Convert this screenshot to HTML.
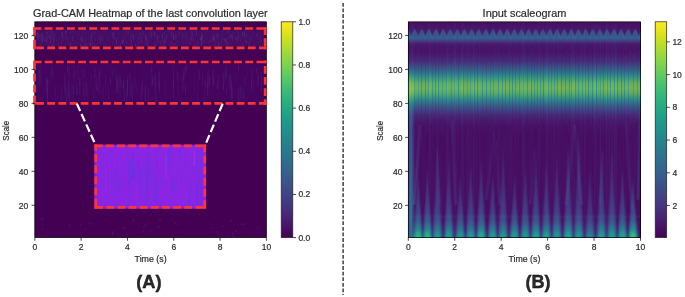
<!DOCTYPE html><html><head><meta charset="utf-8"><title>Grad-CAM</title><style>
html,body{margin:0;padding:0;background:#fff;width:685px;height:297px;overflow:hidden}
svg{position:absolute;left:0;top:0;display:block;will-change:transform}
text{font-family:"Liberation Sans",sans-serif;fill:#2a2a2a;stroke:#2a2a2a;stroke-width:0.2px}
</style></head><body>
<svg width="685" height="297" viewBox="0 0 685 297">
<defs><linearGradient id="cbg" x1="0" y1="0" x2="0" y2="1"><stop offset="0.0000" stop-color="#fde725"/><stop offset="0.0312" stop-color="#ece51b"/><stop offset="0.0625" stop-color="#d8e219"/><stop offset="0.0938" stop-color="#c2df23"/><stop offset="0.1250" stop-color="#addc30"/><stop offset="0.1562" stop-color="#98d83e"/><stop offset="0.1875" stop-color="#84d44b"/><stop offset="0.2188" stop-color="#70cf57"/><stop offset="0.2500" stop-color="#5ec962"/><stop offset="0.2812" stop-color="#4ec36b"/><stop offset="0.3125" stop-color="#3fbc73"/><stop offset="0.3438" stop-color="#32b67a"/><stop offset="0.3750" stop-color="#28ae80"/><stop offset="0.4062" stop-color="#22a785"/><stop offset="0.4375" stop-color="#1fa088"/><stop offset="0.4688" stop-color="#1f988b"/><stop offset="0.5000" stop-color="#21918c"/><stop offset="0.5312" stop-color="#23898e"/><stop offset="0.5625" stop-color="#26828e"/><stop offset="0.5938" stop-color="#297a8e"/><stop offset="0.6250" stop-color="#2c728e"/><stop offset="0.6562" stop-color="#2f6b8e"/><stop offset="0.6875" stop-color="#33638d"/><stop offset="0.7188" stop-color="#375b8d"/><stop offset="0.7500" stop-color="#3b528b"/><stop offset="0.7812" stop-color="#3e4989"/><stop offset="0.8125" stop-color="#424086"/><stop offset="0.8438" stop-color="#453781"/><stop offset="0.8750" stop-color="#472d7b"/><stop offset="0.9062" stop-color="#482374"/><stop offset="0.9375" stop-color="#48186a"/><stop offset="0.9688" stop-color="#470d60"/><stop offset="1.0000" stop-color="#440154"/></linearGradient><linearGradient id="c0" x1="0" y1="0" x2="0" y2="1"><stop offset="0.002" stop-color="#471063"/><stop offset="0.030" stop-color="#481769"/><stop offset="0.035" stop-color="#481f70"/><stop offset="0.044" stop-color="#3c4e8a"/><stop offset="0.053" stop-color="#3a548c"/><stop offset="0.076" stop-color="#365b8d"/><stop offset="0.090" stop-color="#443983"/><stop offset="0.104" stop-color="#48196b"/><stop offset="0.137" stop-color="#481366"/><stop offset="0.188" stop-color="#472b79"/><stop offset="0.229" stop-color="#355e8b"/><stop offset="0.262" stop-color="#2c8a88"/><stop offset="0.299" stop-color="#4ba573"/><stop offset="0.326" stop-color="#43a278"/><stop offset="0.359" stop-color="#29868a"/><stop offset="0.424" stop-color="#414386"/><stop offset="0.484" stop-color="#46317e"/><stop offset="0.896" stop-color="#404587"/><stop offset="0.900" stop-color="#3c4e8a"/><stop offset="0.919" stop-color="#404587"/><stop offset="0.998" stop-color="#3f4888"/></linearGradient><linearGradient id="c1" x1="0" y1="0" x2="0" y2="1"><stop offset="0.002" stop-color="#470e61"/><stop offset="0.039" stop-color="#48196b"/><stop offset="0.044" stop-color="#482474"/><stop offset="0.053" stop-color="#3b508a"/><stop offset="0.062" stop-color="#365c8d"/><stop offset="0.076" stop-color="#365b8d"/><stop offset="0.090" stop-color="#453882"/><stop offset="0.104" stop-color="#48186a"/><stop offset="0.137" stop-color="#471265"/><stop offset="0.183" stop-color="#472b79"/><stop offset="0.215" stop-color="#39558a"/><stop offset="0.243" stop-color="#2b8888"/><stop offset="0.262" stop-color="#49a574"/><stop offset="0.285" stop-color="#7bba58"/><stop offset="0.312" stop-color="#86bf54"/><stop offset="0.331" stop-color="#78bb58"/><stop offset="0.368" stop-color="#309783"/><stop offset="0.387" stop-color="#297d8c"/><stop offset="0.433" stop-color="#3c508a"/><stop offset="0.493" stop-color="#414286"/><stop offset="0.896" stop-color="#34618d"/><stop offset="0.905" stop-color="#31678e"/><stop offset="0.928" stop-color="#33628d"/><stop offset="0.998" stop-color="#31668e"/></linearGradient><linearGradient id="c2" x1="0" y1="0" x2="0" y2="1"><stop offset="0.002" stop-color="#471063"/><stop offset="0.049" stop-color="#481d6f"/><stop offset="0.058" stop-color="#443981"/><stop offset="0.067" stop-color="#34608d"/><stop offset="0.076" stop-color="#33618d"/><stop offset="0.090" stop-color="#443a83"/><stop offset="0.104" stop-color="#481a6c"/><stop offset="0.137" stop-color="#481568"/><stop offset="0.183" stop-color="#462e7b"/><stop offset="0.215" stop-color="#37598b"/><stop offset="0.238" stop-color="#29858a"/><stop offset="0.257" stop-color="#44a377"/><stop offset="0.275" stop-color="#70b85b"/><stop offset="0.294" stop-color="#87c153"/><stop offset="0.322" stop-color="#87c253"/><stop offset="0.340" stop-color="#70bb5a"/><stop offset="0.373" stop-color="#2e9884"/><stop offset="0.391" stop-color="#27808d"/><stop offset="0.438" stop-color="#38578c"/><stop offset="0.507" stop-color="#3d4e8a"/><stop offset="0.896" stop-color="#2d708e"/><stop offset="0.905" stop-color="#2b768e"/><stop offset="0.933" stop-color="#2d718e"/><stop offset="0.998" stop-color="#2a788e"/></linearGradient><linearGradient id="c3" x1="0" y1="0" x2="0" y2="1"><stop offset="0.002" stop-color="#481467"/><stop offset="0.049" stop-color="#481f71"/><stop offset="0.058" stop-color="#46327e"/><stop offset="0.067" stop-color="#375a8c"/><stop offset="0.072" stop-color="#31668e"/><stop offset="0.081" stop-color="#365c8d"/><stop offset="0.100" stop-color="#482575"/><stop offset="0.118" stop-color="#48186a"/><stop offset="0.174" stop-color="#472878"/><stop offset="0.215" stop-color="#39558a"/><stop offset="0.248" stop-color="#298a89"/><stop offset="0.285" stop-color="#5eb364"/><stop offset="0.308" stop-color="#6fba59"/><stop offset="0.331" stop-color="#5eb464"/><stop offset="0.368" stop-color="#299387"/><stop offset="0.400" stop-color="#2e6e8e"/><stop offset="0.451" stop-color="#3c4f8a"/><stop offset="0.576" stop-color="#3c508a"/><stop offset="0.896" stop-color="#30698e"/><stop offset="0.905" stop-color="#2e6f8e"/><stop offset="0.938" stop-color="#2f6a8e"/><stop offset="0.998" stop-color="#2a788e"/></linearGradient><linearGradient id="c4" x1="0" y1="0" x2="0" y2="1"><stop offset="0.002" stop-color="#471365"/><stop offset="0.044" stop-color="#482172"/><stop offset="0.058" stop-color="#375b8c"/><stop offset="0.072" stop-color="#33638d"/><stop offset="0.086" stop-color="#3e4c8a"/><stop offset="0.100" stop-color="#482475"/><stop offset="0.118" stop-color="#48186a"/><stop offset="0.169" stop-color="#482777"/><stop offset="0.211" stop-color="#39548a"/><stop offset="0.238" stop-color="#29848a"/><stop offset="0.257" stop-color="#43a278"/><stop offset="0.285" stop-color="#7ebb53"/><stop offset="0.308" stop-color="#8cc155"/><stop offset="0.326" stop-color="#81bd53"/><stop offset="0.345" stop-color="#5db166"/><stop offset="0.368" stop-color="#2f9584"/><stop offset="0.387" stop-color="#297b8d"/><stop offset="0.438" stop-color="#3f4788"/><stop offset="0.502" stop-color="#443882"/><stop offset="0.831" stop-color="#3c508b"/><stop offset="0.845" stop-color="#3a548b"/><stop offset="0.854" stop-color="#3e4b89"/><stop offset="0.896" stop-color="#3c4e8a"/><stop offset="0.900" stop-color="#38578c"/><stop offset="0.919" stop-color="#3c4e8a"/><stop offset="0.975" stop-color="#34618d"/><stop offset="0.998" stop-color="#2d718e"/></linearGradient><linearGradient id="c5" x1="0" y1="0" x2="0" y2="1"><stop offset="0.002" stop-color="#471365"/><stop offset="0.035" stop-color="#481d6f"/><stop offset="0.039" stop-color="#462d7b"/><stop offset="0.049" stop-color="#38588c"/><stop offset="0.076" stop-color="#355e8d"/><stop offset="0.095" stop-color="#472e7c"/><stop offset="0.109" stop-color="#48196b"/><stop offset="0.155" stop-color="#481e70"/><stop offset="0.201" stop-color="#3f4686"/><stop offset="0.243" stop-color="#2a8788"/><stop offset="0.262" stop-color="#48a376"/><stop offset="0.289" stop-color="#7cb854"/><stop offset="0.312" stop-color="#84bb53"/><stop offset="0.331" stop-color="#6eb45b"/><stop offset="0.363" stop-color="#309284"/><stop offset="0.382" stop-color="#2b768d"/><stop offset="0.433" stop-color="#433b83"/><stop offset="0.488" stop-color="#482676"/><stop offset="0.766" stop-color="#46317e"/><stop offset="0.845" stop-color="#3c4f8a"/><stop offset="0.850" stop-color="#472e7c"/><stop offset="0.896" stop-color="#46327e"/><stop offset="0.900" stop-color="#433c84"/><stop offset="0.919" stop-color="#453580"/><stop offset="0.965" stop-color="#3a548b"/><stop offset="0.998" stop-color="#2b768e"/></linearGradient><linearGradient id="c6" x1="0" y1="0" x2="0" y2="1"><stop offset="0.002" stop-color="#470e61"/><stop offset="0.030" stop-color="#481a6c"/><stop offset="0.035" stop-color="#472a79"/><stop offset="0.039" stop-color="#3f4788"/><stop offset="0.044" stop-color="#3a528b"/><stop offset="0.062" stop-color="#3a538b"/><stop offset="0.076" stop-color="#375b8d"/><stop offset="0.090" stop-color="#453882"/><stop offset="0.104" stop-color="#48196b"/><stop offset="0.137" stop-color="#471366"/><stop offset="0.188" stop-color="#472c7a"/><stop offset="0.243" stop-color="#2d728c"/><stop offset="0.266" stop-color="#329084"/><stop offset="0.299" stop-color="#50a570"/><stop offset="0.326" stop-color="#46a077"/><stop offset="0.359" stop-color="#2a7f8b"/><stop offset="0.414" stop-color="#443981"/><stop offset="0.461" stop-color="#481c6e"/><stop offset="0.632" stop-color="#481669"/><stop offset="0.734" stop-color="#482475"/><stop offset="0.822" stop-color="#424186"/><stop offset="0.845" stop-color="#423f85"/><stop offset="0.850" stop-color="#48196b"/><stop offset="0.896" stop-color="#482576"/><stop offset="0.900" stop-color="#46307e"/><stop offset="0.914" stop-color="#472d7b"/><stop offset="0.961" stop-color="#375a8c"/><stop offset="0.988" stop-color="#26828e"/><stop offset="0.998" stop-color="#24888d"/></linearGradient><linearGradient id="c7" x1="0" y1="0" x2="0" y2="1"><stop offset="0.002" stop-color="#470e61"/><stop offset="0.030" stop-color="#481668"/><stop offset="0.035" stop-color="#481f71"/><stop offset="0.044" stop-color="#3c4f8a"/><stop offset="0.076" stop-color="#375a8c"/><stop offset="0.090" stop-color="#453882"/><stop offset="0.104" stop-color="#48186a"/><stop offset="0.137" stop-color="#471265"/><stop offset="0.183" stop-color="#472b79"/><stop offset="0.234" stop-color="#2e6f8c"/><stop offset="0.252" stop-color="#308c85"/><stop offset="0.285" stop-color="#67ae61"/><stop offset="0.308" stop-color="#75b35a"/><stop offset="0.331" stop-color="#5eaa67"/><stop offset="0.359" stop-color="#2f8b86"/><stop offset="0.377" stop-color="#2f6d8c"/><stop offset="0.428" stop-color="#472b79"/><stop offset="0.479" stop-color="#471265"/><stop offset="0.646" stop-color="#481366"/><stop offset="0.766" stop-color="#453480"/><stop offset="0.845" stop-color="#482575"/><stop offset="0.850" stop-color="#48186a"/><stop offset="0.896" stop-color="#46317e"/><stop offset="0.900" stop-color="#433d84"/><stop offset="0.919" stop-color="#424186"/><stop offset="0.965" stop-color="#2a788e"/><stop offset="0.984" stop-color="#1f988a"/><stop offset="0.998" stop-color="#1f9f88"/></linearGradient><linearGradient id="c8" x1="0" y1="0" x2="0" y2="1"><stop offset="0.002" stop-color="#470e61"/><stop offset="0.039" stop-color="#481a6c"/><stop offset="0.044" stop-color="#472877"/><stop offset="0.053" stop-color="#3a548b"/><stop offset="0.076" stop-color="#375b8d"/><stop offset="0.090" stop-color="#453882"/><stop offset="0.104" stop-color="#48186a"/><stop offset="0.137" stop-color="#471265"/><stop offset="0.183" stop-color="#472b79"/><stop offset="0.238" stop-color="#2c768b"/><stop offset="0.257" stop-color="#359282"/><stop offset="0.289" stop-color="#6aaf5f"/><stop offset="0.312" stop-color="#70b15c"/><stop offset="0.340" stop-color="#4ba174"/><stop offset="0.363" stop-color="#2c8289"/><stop offset="0.405" stop-color="#3f4485"/><stop offset="0.447" stop-color="#481c6e"/><stop offset="0.521" stop-color="#470d60"/><stop offset="0.627" stop-color="#481c6e"/><stop offset="0.711" stop-color="#472e7c"/><stop offset="0.803" stop-color="#482071"/><stop offset="0.882" stop-color="#443b83"/><stop offset="0.896" stop-color="#414487"/><stop offset="0.900" stop-color="#3c4f8a"/><stop offset="0.919" stop-color="#3a538b"/><stop offset="0.965" stop-color="#23898d"/><stop offset="0.984" stop-color="#24a983"/><stop offset="0.998" stop-color="#28ae80"/></linearGradient><linearGradient id="c9" x1="0" y1="0" x2="0" y2="1"><stop offset="0.002" stop-color="#471063"/><stop offset="0.049" stop-color="#481e6f"/><stop offset="0.058" stop-color="#423e83"/><stop offset="0.067" stop-color="#34618d"/><stop offset="0.076" stop-color="#34608d"/><stop offset="0.090" stop-color="#443983"/><stop offset="0.104" stop-color="#48196b"/><stop offset="0.141" stop-color="#481568"/><stop offset="0.188" stop-color="#45327d"/><stop offset="0.238" stop-color="#2c778c"/><stop offset="0.252" stop-color="#308d85"/><stop offset="0.285" stop-color="#67ae61"/><stop offset="0.308" stop-color="#75b359"/><stop offset="0.331" stop-color="#5dab68"/><stop offset="0.359" stop-color="#2e8b86"/><stop offset="0.377" stop-color="#2f6e8c"/><stop offset="0.428" stop-color="#472c7a"/><stop offset="0.479" stop-color="#471365"/><stop offset="0.567" stop-color="#481b6d"/><stop offset="0.650" stop-color="#472b7a"/><stop offset="0.725" stop-color="#482072"/><stop offset="0.868" stop-color="#423f85"/><stop offset="0.896" stop-color="#3d4e8a"/><stop offset="0.905" stop-color="#38598c"/><stop offset="0.919" stop-color="#375b8d"/><stop offset="0.961" stop-color="#24888e"/><stop offset="0.975" stop-color="#1fa188"/><stop offset="0.988" stop-color="#2cb17e"/><stop offset="0.998" stop-color="#2fb47c"/></linearGradient><linearGradient id="c10" x1="0" y1="0" x2="0" y2="1"><stop offset="0.002" stop-color="#471063"/><stop offset="0.049" stop-color="#481c6e"/><stop offset="0.058" stop-color="#472d7b"/><stop offset="0.072" stop-color="#33638d"/><stop offset="0.081" stop-color="#375a8c"/><stop offset="0.100" stop-color="#482173"/><stop offset="0.118" stop-color="#481366"/><stop offset="0.174" stop-color="#482474"/><stop offset="0.225" stop-color="#37598a"/><stop offset="0.257" stop-color="#2b8489"/><stop offset="0.294" stop-color="#4ca373"/><stop offset="0.317" stop-color="#4ba274"/><stop offset="0.354" stop-color="#2b8389"/><stop offset="0.405" stop-color="#414084"/><stop offset="0.451" stop-color="#481b6d"/><stop offset="0.479" stop-color="#48186a"/><stop offset="0.600" stop-color="#482676"/><stop offset="0.706" stop-color="#481466"/><stop offset="0.891" stop-color="#3e4b89"/><stop offset="0.905" stop-color="#375a8c"/><stop offset="0.924" stop-color="#34608d"/><stop offset="0.965" stop-color="#21908c"/><stop offset="0.979" stop-color="#25ab82"/><stop offset="0.998" stop-color="#30b47b"/></linearGradient><linearGradient id="c11" x1="0" y1="0" x2="0" y2="1"><stop offset="0.002" stop-color="#470e61"/><stop offset="0.044" stop-color="#481b6d"/><stop offset="0.049" stop-color="#472776"/><stop offset="0.058" stop-color="#3a538b"/><stop offset="0.067" stop-color="#34608d"/><stop offset="0.081" stop-color="#3a548c"/><stop offset="0.100" stop-color="#481f70"/><stop offset="0.118" stop-color="#471163"/><stop offset="0.169" stop-color="#482071"/><stop offset="0.215" stop-color="#3a5289"/><stop offset="0.248" stop-color="#2c8588"/><stop offset="0.275" stop-color="#56a76c"/><stop offset="0.299" stop-color="#71b25c"/><stop offset="0.322" stop-color="#68af60"/><stop offset="0.354" stop-color="#349083"/><stop offset="0.373" stop-color="#2d748c"/><stop offset="0.424" stop-color="#462e7b"/><stop offset="0.470" stop-color="#471365"/><stop offset="0.475" stop-color="#471164"/><stop offset="0.479" stop-color="#482172"/><stop offset="0.586" stop-color="#48176a"/><stop offset="0.729" stop-color="#460c5f"/><stop offset="0.826" stop-color="#482576"/><stop offset="0.896" stop-color="#404788"/><stop offset="0.900" stop-color="#3b528b"/><stop offset="0.919" stop-color="#39558c"/><stop offset="0.961" stop-color="#26838e"/><stop offset="0.979" stop-color="#21a585"/><stop offset="0.998" stop-color="#29af7f"/></linearGradient><linearGradient id="c12" x1="0" y1="0" x2="0" y2="1"><stop offset="0.002" stop-color="#470e61"/><stop offset="0.035" stop-color="#48186a"/><stop offset="0.039" stop-color="#482575"/><stop offset="0.049" stop-color="#3a538b"/><stop offset="0.076" stop-color="#375a8c"/><stop offset="0.090" stop-color="#453882"/><stop offset="0.104" stop-color="#48186a"/><stop offset="0.137" stop-color="#471265"/><stop offset="0.183" stop-color="#472b79"/><stop offset="0.234" stop-color="#2f6e8c"/><stop offset="0.252" stop-color="#308b85"/><stop offset="0.285" stop-color="#64ad63"/><stop offset="0.308" stop-color="#71b25e"/><stop offset="0.331" stop-color="#5ba968"/><stop offset="0.359" stop-color="#2f8a86"/><stop offset="0.382" stop-color="#32658c"/><stop offset="0.433" stop-color="#482676"/><stop offset="0.475" stop-color="#471164"/><stop offset="0.479" stop-color="#482071"/><stop offset="0.623" stop-color="#460c5f"/><stop offset="0.826" stop-color="#471164"/><stop offset="0.896" stop-color="#46337f"/><stop offset="0.900" stop-color="#423f85"/><stop offset="0.919" stop-color="#414387"/><stop offset="0.965" stop-color="#297a8e"/><stop offset="0.984" stop-color="#1f9b89"/><stop offset="0.998" stop-color="#20a187"/></linearGradient><linearGradient id="c13" x1="0" y1="0" x2="0" y2="1"><stop offset="0.002" stop-color="#470e61"/><stop offset="0.030" stop-color="#48186a"/><stop offset="0.035" stop-color="#482878"/><stop offset="0.039" stop-color="#404588"/><stop offset="0.044" stop-color="#3b528b"/><stop offset="0.062" stop-color="#3b528b"/><stop offset="0.076" stop-color="#375a8c"/><stop offset="0.090" stop-color="#453782"/><stop offset="0.104" stop-color="#48186a"/><stop offset="0.141" stop-color="#471265"/><stop offset="0.192" stop-color="#472c7a"/><stop offset="0.248" stop-color="#2f6e8c"/><stop offset="0.275" stop-color="#318d84"/><stop offset="0.312" stop-color="#3d997d"/><stop offset="0.350" stop-color="#2b7e8a"/><stop offset="0.405" stop-color="#433981"/><stop offset="0.456" stop-color="#481568"/><stop offset="0.678" stop-color="#460b5e"/><stop offset="0.873" stop-color="#471164"/><stop offset="0.896" stop-color="#481d6e"/><stop offset="0.900" stop-color="#482878"/><stop offset="0.914" stop-color="#482575"/><stop offset="0.961" stop-color="#39568c"/><stop offset="0.988" stop-color="#277f8e"/><stop offset="0.998" stop-color="#25858d"/></linearGradient><linearGradient id="c14" x1="0" y1="0" x2="0" y2="1"><stop offset="0.002" stop-color="#470e61"/><stop offset="0.030" stop-color="#481669"/><stop offset="0.035" stop-color="#482273"/><stop offset="0.044" stop-color="#3b508b"/><stop offset="0.067" stop-color="#38588c"/><stop offset="0.076" stop-color="#375a8c"/><stop offset="0.090" stop-color="#453882"/><stop offset="0.104" stop-color="#48186a"/><stop offset="0.137" stop-color="#471265"/><stop offset="0.183" stop-color="#472b79"/><stop offset="0.234" stop-color="#2f6e8c"/><stop offset="0.252" stop-color="#2f8b86"/><stop offset="0.285" stop-color="#62ac64"/><stop offset="0.308" stop-color="#6fb25e"/><stop offset="0.331" stop-color="#59a96a"/><stop offset="0.359" stop-color="#2e8986"/><stop offset="0.382" stop-color="#32658b"/><stop offset="0.433" stop-color="#482676"/><stop offset="0.484" stop-color="#471063"/><stop offset="0.891" stop-color="#470e61"/><stop offset="0.900" stop-color="#481c6e"/><stop offset="0.914" stop-color="#481467"/><stop offset="0.961" stop-color="#453781"/><stop offset="0.993" stop-color="#34608d"/><stop offset="0.998" stop-color="#33648d"/></linearGradient><linearGradient id="c15" x1="0" y1="0" x2="0" y2="1"><stop offset="0.002" stop-color="#470e61"/><stop offset="0.035" stop-color="#481568"/><stop offset="0.039" stop-color="#481c6e"/><stop offset="0.053" stop-color="#39568c"/><stop offset="0.076" stop-color="#375b8d"/><stop offset="0.090" stop-color="#453882"/><stop offset="0.104" stop-color="#48186a"/><stop offset="0.137" stop-color="#471265"/><stop offset="0.183" stop-color="#472b79"/><stop offset="0.234" stop-color="#2f6e8c"/><stop offset="0.252" stop-color="#2f8b85"/><stop offset="0.285" stop-color="#64ad63"/><stop offset="0.308" stop-color="#72b25b"/><stop offset="0.331" stop-color="#5ba969"/><stop offset="0.359" stop-color="#2e8986"/><stop offset="0.382" stop-color="#32658c"/><stop offset="0.433" stop-color="#472676"/><stop offset="0.488" stop-color="#470f62"/><stop offset="0.877" stop-color="#471063"/><stop offset="0.896" stop-color="#48186a"/><stop offset="0.900" stop-color="#482374"/><stop offset="0.914" stop-color="#481e6f"/><stop offset="0.961" stop-color="#3f4888"/><stop offset="0.988" stop-color="#2e6e8e"/><stop offset="0.998" stop-color="#2b748e"/></linearGradient><linearGradient id="c16" x1="0" y1="0" x2="0" y2="1"><stop offset="0.002" stop-color="#470e61"/><stop offset="0.044" stop-color="#48186a"/><stop offset="0.053" stop-color="#462c7a"/><stop offset="0.062" stop-color="#38578b"/><stop offset="0.067" stop-color="#33628d"/><stop offset="0.076" stop-color="#355e8d"/><stop offset="0.090" stop-color="#453882"/><stop offset="0.104" stop-color="#48186a"/><stop offset="0.137" stop-color="#471265"/><stop offset="0.183" stop-color="#472b79"/><stop offset="0.234" stop-color="#2f6e8c"/><stop offset="0.252" stop-color="#308b85"/><stop offset="0.285" stop-color="#65ad62"/><stop offset="0.308" stop-color="#73b25b"/><stop offset="0.331" stop-color="#5ca968"/><stop offset="0.359" stop-color="#2e8986"/><stop offset="0.382" stop-color="#32658c"/><stop offset="0.433" stop-color="#472676"/><stop offset="0.488" stop-color="#470f62"/><stop offset="0.831" stop-color="#471063"/><stop offset="0.896" stop-color="#472c7a"/><stop offset="0.900" stop-color="#453781"/><stop offset="0.919" stop-color="#443a83"/><stop offset="0.965" stop-color="#2e6f8e"/><stop offset="0.988" stop-color="#21908c"/><stop offset="0.998" stop-color="#20958b"/></linearGradient><linearGradient id="c17" x1="0" y1="0" x2="0" y2="1"><stop offset="0.002" stop-color="#470e61"/><stop offset="0.049" stop-color="#481a6c"/><stop offset="0.058" stop-color="#482979"/><stop offset="0.072" stop-color="#33628d"/><stop offset="0.076" stop-color="#33628d"/><stop offset="0.090" stop-color="#453882"/><stop offset="0.104" stop-color="#48186a"/><stop offset="0.141" stop-color="#471264"/><stop offset="0.192" stop-color="#462d7a"/><stop offset="0.248" stop-color="#2f6f8c"/><stop offset="0.275" stop-color="#318d84"/><stop offset="0.312" stop-color="#3e997c"/><stop offset="0.350" stop-color="#2b7e8a"/><stop offset="0.405" stop-color="#433981"/><stop offset="0.456" stop-color="#481568"/><stop offset="0.581" stop-color="#460b5e"/><stop offset="0.780" stop-color="#471264"/><stop offset="0.891" stop-color="#433d84"/><stop offset="0.905" stop-color="#3d4d8a"/><stop offset="0.919" stop-color="#3b508b"/><stop offset="0.965" stop-color="#25858e"/><stop offset="0.984" stop-color="#21a585"/><stop offset="0.998" stop-color="#24aa83"/></linearGradient><linearGradient id="c18" x1="0" y1="0" x2="0" y2="1"><stop offset="0.002" stop-color="#470e61"/><stop offset="0.044" stop-color="#48196b"/><stop offset="0.049" stop-color="#482373"/><stop offset="0.062" stop-color="#365d8d"/><stop offset="0.076" stop-color="#365d8d"/><stop offset="0.090" stop-color="#453882"/><stop offset="0.104" stop-color="#48186a"/><stop offset="0.141" stop-color="#481466"/><stop offset="0.188" stop-color="#46307c"/><stop offset="0.238" stop-color="#2c768b"/><stop offset="0.257" stop-color="#359282"/><stop offset="0.289" stop-color="#68af61"/><stop offset="0.312" stop-color="#6eb260"/><stop offset="0.336" stop-color="#51a66f"/><stop offset="0.363" stop-color="#2c8289"/><stop offset="0.405" stop-color="#3f4485"/><stop offset="0.451" stop-color="#481a6c"/><stop offset="0.539" stop-color="#460b5e"/><stop offset="0.701" stop-color="#471164"/><stop offset="0.891" stop-color="#3f4989"/><stop offset="0.905" stop-color="#38588c"/><stop offset="0.919" stop-color="#375a8c"/><stop offset="0.961" stop-color="#24878e"/><stop offset="0.979" stop-color="#23a983"/><stop offset="0.998" stop-color="#2db27d"/></linearGradient><linearGradient id="c19" x1="0" y1="0" x2="0" y2="1"><stop offset="0.002" stop-color="#470e61"/><stop offset="0.035" stop-color="#481769"/><stop offset="0.039" stop-color="#482172"/><stop offset="0.049" stop-color="#3c508a"/><stop offset="0.058" stop-color="#38578c"/><stop offset="0.076" stop-color="#375a8c"/><stop offset="0.090" stop-color="#453882"/><stop offset="0.104" stop-color="#48186a"/><stop offset="0.137" stop-color="#471265"/><stop offset="0.183" stop-color="#472b79"/><stop offset="0.238" stop-color="#2d748c"/><stop offset="0.257" stop-color="#339083"/><stop offset="0.289" stop-color="#66ae62"/><stop offset="0.312" stop-color="#6cb05e"/><stop offset="0.340" stop-color="#489f76"/><stop offset="0.363" stop-color="#2b818a"/><stop offset="0.410" stop-color="#423d83"/><stop offset="0.456" stop-color="#481769"/><stop offset="0.549" stop-color="#460b5e"/><stop offset="0.674" stop-color="#470f61"/><stop offset="0.762" stop-color="#482979"/><stop offset="0.891" stop-color="#3e4a89"/><stop offset="0.905" stop-color="#375a8c"/><stop offset="0.919" stop-color="#365c8d"/><stop offset="0.961" stop-color="#23888e"/><stop offset="0.975" stop-color="#1fa188"/><stop offset="0.988" stop-color="#2cb17e"/><stop offset="0.998" stop-color="#2eb37c"/></linearGradient><linearGradient id="c20" x1="0" y1="0" x2="0" y2="1"><stop offset="0.002" stop-color="#470e61"/><stop offset="0.030" stop-color="#48186a"/><stop offset="0.035" stop-color="#482676"/><stop offset="0.039" stop-color="#414386"/><stop offset="0.044" stop-color="#3b528b"/><stop offset="0.062" stop-color="#3a528b"/><stop offset="0.076" stop-color="#375a8c"/><stop offset="0.090" stop-color="#453882"/><stop offset="0.104" stop-color="#48186a"/><stop offset="0.141" stop-color="#471265"/><stop offset="0.192" stop-color="#462e7b"/><stop offset="0.248" stop-color="#2d738c"/><stop offset="0.271" stop-color="#338f83"/><stop offset="0.303" stop-color="#49a075"/><stop offset="0.331" stop-color="#3a967f"/><stop offset="0.354" stop-color="#2b7e8a"/><stop offset="0.405" stop-color="#423c82"/><stop offset="0.451" stop-color="#48176a"/><stop offset="0.544" stop-color="#460b5e"/><stop offset="0.720" stop-color="#471164"/><stop offset="0.891" stop-color="#3f4788"/><stop offset="0.905" stop-color="#38578c"/><stop offset="0.924" stop-color="#365d8d"/><stop offset="0.965" stop-color="#228d8d"/><stop offset="0.979" stop-color="#22a884"/><stop offset="0.998" stop-color="#2cb17e"/></linearGradient><linearGradient id="c21" x1="0" y1="0" x2="0" y2="1"><stop offset="0.002" stop-color="#481467"/><stop offset="0.030" stop-color="#481d6f"/><stop offset="0.035" stop-color="#472a79"/><stop offset="0.039" stop-color="#404587"/><stop offset="0.044" stop-color="#39568c"/><stop offset="0.062" stop-color="#38588c"/><stop offset="0.076" stop-color="#355f8d"/><stop offset="0.090" stop-color="#433e85"/><stop offset="0.104" stop-color="#481f70"/><stop offset="0.141" stop-color="#481c6e"/><stop offset="0.188" stop-color="#433a82"/><stop offset="0.238" stop-color="#29808b"/><stop offset="0.257" stop-color="#3e9d7c"/><stop offset="0.289" stop-color="#7ab754"/><stop offset="0.312" stop-color="#81b953"/><stop offset="0.336" stop-color="#62ae64"/><stop offset="0.363" stop-color="#2d8d86"/><stop offset="0.382" stop-color="#2e6f8d"/><stop offset="0.433" stop-color="#462f7c"/><stop offset="0.484" stop-color="#48186a"/><stop offset="0.785" stop-color="#481668"/><stop offset="0.891" stop-color="#423f85"/><stop offset="0.905" stop-color="#3c4f8a"/><stop offset="0.919" stop-color="#3b518b"/><stop offset="0.965" stop-color="#24868e"/><stop offset="0.984" stop-color="#22a685"/><stop offset="0.998" stop-color="#25ab82"/></linearGradient><linearGradient id="c22" x1="0" y1="0" x2="0" y2="1"><stop offset="0.002" stop-color="#471063"/><stop offset="0.035" stop-color="#48186a"/><stop offset="0.039" stop-color="#482071"/><stop offset="0.049" stop-color="#3d4d89"/><stop offset="0.053" stop-color="#38588c"/><stop offset="0.076" stop-color="#365c8d"/><stop offset="0.090" stop-color="#443983"/><stop offset="0.104" stop-color="#481a6c"/><stop offset="0.137" stop-color="#481567"/><stop offset="0.183" stop-color="#462d7b"/><stop offset="0.234" stop-color="#2e718c"/><stop offset="0.252" stop-color="#318f84"/><stop offset="0.285" stop-color="#6bb05e"/><stop offset="0.303" stop-color="#79b456"/><stop offset="0.326" stop-color="#69af5f"/><stop offset="0.359" stop-color="#2f8c85"/><stop offset="0.377" stop-color="#2e6f8c"/><stop offset="0.428" stop-color="#472c7a"/><stop offset="0.479" stop-color="#471365"/><stop offset="0.822" stop-color="#470f62"/><stop offset="0.891" stop-color="#482475"/><stop offset="0.900" stop-color="#453480"/><stop offset="0.914" stop-color="#46327e"/><stop offset="0.965" stop-color="#306a8e"/><stop offset="0.988" stop-color="#238b8d"/><stop offset="0.998" stop-color="#21908c"/></linearGradient><linearGradient id="c23" x1="0" y1="0" x2="0" y2="1"><stop offset="0.002" stop-color="#470e61"/><stop offset="0.044" stop-color="#48196b"/><stop offset="0.049" stop-color="#482172"/><stop offset="0.062" stop-color="#365b8c"/><stop offset="0.072" stop-color="#33638d"/><stop offset="0.086" stop-color="#3f4889"/><stop offset="0.100" stop-color="#481f71"/><stop offset="0.118" stop-color="#471265"/><stop offset="0.169" stop-color="#482172"/><stop offset="0.215" stop-color="#395489"/><stop offset="0.248" stop-color="#2c8688"/><stop offset="0.280" stop-color="#60ac65"/><stop offset="0.303" stop-color="#75b359"/><stop offset="0.326" stop-color="#65ad62"/><stop offset="0.359" stop-color="#2f8b86"/><stop offset="0.377" stop-color="#2f6e8c"/><stop offset="0.428" stop-color="#472b79"/><stop offset="0.484" stop-color="#471063"/><stop offset="0.887" stop-color="#471164"/><stop offset="0.896" stop-color="#481668"/><stop offset="0.900" stop-color="#482172"/><stop offset="0.914" stop-color="#481b6d"/><stop offset="0.961" stop-color="#414286"/><stop offset="0.993" stop-color="#306a8e"/><stop offset="0.998" stop-color="#2e6d8e"/></linearGradient><linearGradient id="c24" x1="0" y1="0" x2="0" y2="1"><stop offset="0.002" stop-color="#471063"/><stop offset="0.053" stop-color="#482273"/><stop offset="0.062" stop-color="#433c84"/><stop offset="0.072" stop-color="#32648d"/><stop offset="0.076" stop-color="#32648e"/><stop offset="0.090" stop-color="#443b83"/><stop offset="0.104" stop-color="#481a6c"/><stop offset="0.141" stop-color="#481568"/><stop offset="0.192" stop-color="#46307d"/><stop offset="0.252" stop-color="#2c788b"/><stop offset="0.289" stop-color="#3c997d"/><stop offset="0.317" stop-color="#3d9b7c"/><stop offset="0.354" stop-color="#2b7c8b"/><stop offset="0.410" stop-color="#443881"/><stop offset="0.461" stop-color="#481769"/><stop offset="0.609" stop-color="#470e61"/><stop offset="0.891" stop-color="#471265"/><stop offset="0.900" stop-color="#481f71"/><stop offset="0.914" stop-color="#481669"/><stop offset="0.965" stop-color="#46327f"/><stop offset="0.998" stop-color="#3c4f8a"/></linearGradient><linearGradient id="c25" x1="0" y1="0" x2="0" y2="1"><stop offset="0.002" stop-color="#470e61"/><stop offset="0.044" stop-color="#48186a"/><stop offset="0.053" stop-color="#45317d"/><stop offset="0.062" stop-color="#375b8c"/><stop offset="0.072" stop-color="#33628d"/><stop offset="0.086" stop-color="#3f4788"/><stop offset="0.100" stop-color="#481f70"/><stop offset="0.118" stop-color="#471164"/><stop offset="0.169" stop-color="#482071"/><stop offset="0.215" stop-color="#3a5389"/><stop offset="0.248" stop-color="#2e8588"/><stop offset="0.275" stop-color="#50a76d"/><stop offset="0.299" stop-color="#6bb366"/><stop offset="0.322" stop-color="#63af66"/><stop offset="0.359" stop-color="#308a86"/><stop offset="0.382" stop-color="#32658b"/><stop offset="0.433" stop-color="#482676"/><stop offset="0.488" stop-color="#470e61"/><stop offset="0.845" stop-color="#471063"/><stop offset="0.896" stop-color="#481d6f"/><stop offset="0.900" stop-color="#482878"/><stop offset="0.919" stop-color="#482575"/><stop offset="0.970" stop-color="#3d4d8a"/><stop offset="0.993" stop-color="#34628d"/><stop offset="0.998" stop-color="#33638d"/></linearGradient><linearGradient id="c26" x1="0" y1="0" x2="0" y2="1"><stop offset="0.002" stop-color="#470e61"/><stop offset="0.035" stop-color="#481668"/><stop offset="0.039" stop-color="#481e70"/><stop offset="0.049" stop-color="#3d4c89"/><stop offset="0.053" stop-color="#38578c"/><stop offset="0.076" stop-color="#375a8c"/><stop offset="0.090" stop-color="#453882"/><stop offset="0.104" stop-color="#48186a"/><stop offset="0.137" stop-color="#471365"/><stop offset="0.183" stop-color="#472b79"/><stop offset="0.234" stop-color="#2e6f8b"/><stop offset="0.257" stop-color="#359281"/><stop offset="0.289" stop-color="#62b067"/><stop offset="0.312" stop-color="#69b267"/><stop offset="0.336" stop-color="#4da66f"/><stop offset="0.363" stop-color="#2e8288"/><stop offset="0.410" stop-color="#423e83"/><stop offset="0.451" stop-color="#48196c"/><stop offset="0.535" stop-color="#460b5e"/><stop offset="0.794" stop-color="#471265"/><stop offset="0.896" stop-color="#472f7c"/><stop offset="0.900" stop-color="#443a83"/><stop offset="0.919" stop-color="#443982"/><stop offset="0.970" stop-color="#30688e"/><stop offset="0.988" stop-color="#287c8e"/><stop offset="0.998" stop-color="#277e8e"/></linearGradient><linearGradient id="c27" x1="0" y1="0" x2="0" y2="1"><stop offset="0.002" stop-color="#470e61"/><stop offset="0.030" stop-color="#481769"/><stop offset="0.035" stop-color="#482474"/><stop offset="0.039" stop-color="#424085"/><stop offset="0.044" stop-color="#3b518b"/><stop offset="0.062" stop-color="#3a538b"/><stop offset="0.076" stop-color="#375a8c"/><stop offset="0.090" stop-color="#453782"/><stop offset="0.104" stop-color="#481769"/><stop offset="0.141" stop-color="#471265"/><stop offset="0.192" stop-color="#462d7b"/><stop offset="0.248" stop-color="#2e708b"/><stop offset="0.289" stop-color="#3a987d"/><stop offset="0.322" stop-color="#3a977e"/><stop offset="0.359" stop-color="#2d748b"/><stop offset="0.414" stop-color="#46307d"/><stop offset="0.465" stop-color="#471265"/><stop offset="0.646" stop-color="#470d60"/><stop offset="0.836" stop-color="#472a79"/><stop offset="0.896" stop-color="#433e85"/><stop offset="0.900" stop-color="#3f4889"/><stop offset="0.919" stop-color="#3f4889"/><stop offset="0.970" stop-color="#297a8e"/><stop offset="0.988" stop-color="#228d8d"/><stop offset="0.998" stop-color="#218f8d"/></linearGradient><linearGradient id="c28" x1="0" y1="0" x2="0" y2="1"><stop offset="0.002" stop-color="#470e61"/><stop offset="0.030" stop-color="#48186a"/><stop offset="0.035" stop-color="#482676"/><stop offset="0.039" stop-color="#414386"/><stop offset="0.044" stop-color="#3b528b"/><stop offset="0.062" stop-color="#3a528b"/><stop offset="0.076" stop-color="#375a8c"/><stop offset="0.090" stop-color="#453782"/><stop offset="0.104" stop-color="#48186a"/><stop offset="0.141" stop-color="#481366"/><stop offset="0.188" stop-color="#462f7c"/><stop offset="0.238" stop-color="#2d758b"/><stop offset="0.262" stop-color="#3b977d"/><stop offset="0.289" stop-color="#61ae67"/><stop offset="0.312" stop-color="#67b168"/><stop offset="0.336" stop-color="#4da470"/><stop offset="0.363" stop-color="#2e8288"/><stop offset="0.405" stop-color="#404485"/><stop offset="0.451" stop-color="#48196c"/><stop offset="0.535" stop-color="#460b5e"/><stop offset="0.590" stop-color="#471062"/><stop offset="0.604" stop-color="#48186a"/><stop offset="0.873" stop-color="#443b84"/><stop offset="0.896" stop-color="#404588"/><stop offset="0.900" stop-color="#3c4f8b"/><stop offset="0.919" stop-color="#3c4f8b"/><stop offset="0.965" stop-color="#297a8e"/><stop offset="0.984" stop-color="#20948c"/><stop offset="0.998" stop-color="#1f968b"/></linearGradient><linearGradient id="c29" x1="0" y1="0" x2="0" y2="1"><stop offset="0.002" stop-color="#471164"/><stop offset="0.035" stop-color="#481b6d"/><stop offset="0.039" stop-color="#482575"/><stop offset="0.049" stop-color="#3a538b"/><stop offset="0.058" stop-color="#375a8c"/><stop offset="0.076" stop-color="#355e8d"/><stop offset="0.095" stop-color="#472e7c"/><stop offset="0.109" stop-color="#48196b"/><stop offset="0.155" stop-color="#481e70"/><stop offset="0.197" stop-color="#414085"/><stop offset="0.243" stop-color="#2c8389"/><stop offset="0.266" stop-color="#46a374"/><stop offset="0.285" stop-color="#65b266"/><stop offset="0.312" stop-color="#6eb764"/><stop offset="0.331" stop-color="#5caf67"/><stop offset="0.359" stop-color="#319084"/><stop offset="0.382" stop-color="#306b8c"/><stop offset="0.433" stop-color="#472c7a"/><stop offset="0.488" stop-color="#481467"/><stop offset="0.558" stop-color="#481466"/><stop offset="0.590" stop-color="#481c6e"/><stop offset="0.609" stop-color="#482677"/><stop offset="0.785" stop-color="#463480"/><stop offset="0.891" stop-color="#404688"/><stop offset="0.905" stop-color="#3a538b"/><stop offset="0.919" stop-color="#3a538b"/><stop offset="0.965" stop-color="#277e8e"/><stop offset="0.984" stop-color="#1f988b"/><stop offset="0.998" stop-color="#1f9a8a"/></linearGradient><linearGradient id="c30" x1="0" y1="0" x2="0" y2="1"><stop offset="0.002" stop-color="#470e61"/><stop offset="0.044" stop-color="#48196b"/><stop offset="0.049" stop-color="#482373"/><stop offset="0.062" stop-color="#365d8d"/><stop offset="0.076" stop-color="#365d8d"/><stop offset="0.090" stop-color="#453882"/><stop offset="0.104" stop-color="#481769"/><stop offset="0.141" stop-color="#471265"/><stop offset="0.192" stop-color="#462d7a"/><stop offset="0.248" stop-color="#2e6f8c"/><stop offset="0.285" stop-color="#379480"/><stop offset="0.322" stop-color="#38957f"/><stop offset="0.359" stop-color="#2d738b"/><stop offset="0.414" stop-color="#46307c"/><stop offset="0.465" stop-color="#471265"/><stop offset="0.590" stop-color="#470d60"/><stop offset="0.771" stop-color="#463480"/><stop offset="0.873" stop-color="#443a83"/><stop offset="0.896" stop-color="#404487"/><stop offset="0.900" stop-color="#3c4f8a"/><stop offset="0.919" stop-color="#3c4f8a"/><stop offset="0.965" stop-color="#29798e"/><stop offset="0.984" stop-color="#20938c"/><stop offset="0.998" stop-color="#1f958b"/></linearGradient><linearGradient id="c31" x1="0" y1="0" x2="0" y2="1"><stop offset="0.002" stop-color="#470e61"/><stop offset="0.049" stop-color="#481a6c"/><stop offset="0.058" stop-color="#482a79"/><stop offset="0.072" stop-color="#33628d"/><stop offset="0.076" stop-color="#33628d"/><stop offset="0.090" stop-color="#443982"/><stop offset="0.104" stop-color="#48186a"/><stop offset="0.141" stop-color="#481366"/><stop offset="0.188" stop-color="#46307c"/><stop offset="0.238" stop-color="#2d758b"/><stop offset="0.262" stop-color="#3b977d"/><stop offset="0.289" stop-color="#62af66"/><stop offset="0.312" stop-color="#68b167"/><stop offset="0.336" stop-color="#4ea56f"/><stop offset="0.363" stop-color="#2e8288"/><stop offset="0.405" stop-color="#404485"/><stop offset="0.451" stop-color="#48196c"/><stop offset="0.535" stop-color="#460b5e"/><stop offset="0.706" stop-color="#481567"/><stop offset="0.845" stop-color="#443982"/><stop offset="0.850" stop-color="#472a79"/><stop offset="0.896" stop-color="#433c84"/><stop offset="0.900" stop-color="#404688"/><stop offset="0.919" stop-color="#404688"/><stop offset="0.970" stop-color="#2a778e"/><stop offset="0.988" stop-color="#238b8d"/><stop offset="0.998" stop-color="#228d8d"/></linearGradient><linearGradient id="c32" x1="0" y1="0" x2="0" y2="1"><stop offset="0.002" stop-color="#470e61"/><stop offset="0.044" stop-color="#48186a"/><stop offset="0.053" stop-color="#462c7a"/><stop offset="0.062" stop-color="#38578b"/><stop offset="0.067" stop-color="#33628d"/><stop offset="0.076" stop-color="#355e8d"/><stop offset="0.090" stop-color="#453882"/><stop offset="0.104" stop-color="#48186a"/><stop offset="0.141" stop-color="#481366"/><stop offset="0.188" stop-color="#46307c"/><stop offset="0.238" stop-color="#2d768b"/><stop offset="0.262" stop-color="#3a987d"/><stop offset="0.289" stop-color="#63af66"/><stop offset="0.312" stop-color="#69b266"/><stop offset="0.336" stop-color="#4da56f"/><stop offset="0.363" stop-color="#2d8289"/><stop offset="0.405" stop-color="#404485"/><stop offset="0.451" stop-color="#48196c"/><stop offset="0.535" stop-color="#460b5e"/><stop offset="0.771" stop-color="#471466"/><stop offset="0.845" stop-color="#472978"/><stop offset="0.850" stop-color="#481a6c"/><stop offset="0.896" stop-color="#472b7a"/><stop offset="0.900" stop-color="#453681"/><stop offset="0.914" stop-color="#46337f"/><stop offset="0.965" stop-color="#355e8d"/><stop offset="0.988" stop-color="#2a778e"/><stop offset="0.998" stop-color="#297a8e"/></linearGradient><linearGradient id="c33" x1="0" y1="0" x2="0" y2="1"><stop offset="0.002" stop-color="#470e61"/><stop offset="0.035" stop-color="#481568"/><stop offset="0.039" stop-color="#481c6e"/><stop offset="0.053" stop-color="#39568c"/><stop offset="0.076" stop-color="#375b8d"/><stop offset="0.090" stop-color="#453882"/><stop offset="0.104" stop-color="#48186a"/><stop offset="0.141" stop-color="#481366"/><stop offset="0.188" stop-color="#462f7c"/><stop offset="0.238" stop-color="#2d768b"/><stop offset="0.262" stop-color="#3b987d"/><stop offset="0.289" stop-color="#64af65"/><stop offset="0.312" stop-color="#6ab265"/><stop offset="0.336" stop-color="#4ea56f"/><stop offset="0.363" stop-color="#2d8289"/><stop offset="0.405" stop-color="#404485"/><stop offset="0.451" stop-color="#48196c"/><stop offset="0.535" stop-color="#460b5e"/><stop offset="0.836" stop-color="#471265"/><stop offset="0.891" stop-color="#481769"/><stop offset="0.900" stop-color="#482676"/><stop offset="0.914" stop-color="#481f70"/><stop offset="0.965" stop-color="#414286"/><stop offset="0.998" stop-color="#365d8d"/></linearGradient><linearGradient id="c34" x1="0" y1="0" x2="0" y2="1"><stop offset="0.002" stop-color="#471063"/><stop offset="0.030" stop-color="#48186a"/><stop offset="0.035" stop-color="#482374"/><stop offset="0.044" stop-color="#3b528b"/><stop offset="0.067" stop-color="#38598c"/><stop offset="0.081" stop-color="#3a548c"/><stop offset="0.100" stop-color="#482071"/><stop offset="0.118" stop-color="#471265"/><stop offset="0.169" stop-color="#481f70"/><stop offset="0.220" stop-color="#3a5189"/><stop offset="0.257" stop-color="#2d8289"/><stop offset="0.294" stop-color="#46a175"/><stop offset="0.322" stop-color="#439e77"/><stop offset="0.359" stop-color="#2c7b8a"/><stop offset="0.410" stop-color="#433981"/><stop offset="0.456" stop-color="#48176a"/><stop offset="0.576" stop-color="#470d60"/><stop offset="0.896" stop-color="#471265"/><stop offset="0.900" stop-color="#481d6f"/><stop offset="0.914" stop-color="#471365"/><stop offset="0.975" stop-color="#462f7c"/><stop offset="0.998" stop-color="#433d84"/></linearGradient><linearGradient id="c35" x1="0" y1="0" x2="0" y2="1"><stop offset="0.002" stop-color="#470e61"/><stop offset="0.030" stop-color="#48186a"/><stop offset="0.035" stop-color="#482878"/><stop offset="0.039" stop-color="#404588"/><stop offset="0.044" stop-color="#3b528b"/><stop offset="0.062" stop-color="#3a528b"/><stop offset="0.076" stop-color="#375a8c"/><stop offset="0.090" stop-color="#453782"/><stop offset="0.104" stop-color="#48186a"/><stop offset="0.141" stop-color="#481366"/><stop offset="0.188" stop-color="#46307c"/><stop offset="0.238" stop-color="#2d768b"/><stop offset="0.262" stop-color="#3b987d"/><stop offset="0.289" stop-color="#63af66"/><stop offset="0.312" stop-color="#69b266"/><stop offset="0.336" stop-color="#4ea56f"/><stop offset="0.363" stop-color="#2d8289"/><stop offset="0.405" stop-color="#404485"/><stop offset="0.451" stop-color="#48196c"/><stop offset="0.535" stop-color="#460b5e"/><stop offset="0.896" stop-color="#470f62"/><stop offset="0.900" stop-color="#481a6c"/><stop offset="0.914" stop-color="#470f62"/><stop offset="0.975" stop-color="#472878"/><stop offset="0.998" stop-color="#443881"/></linearGradient><linearGradient id="c36" x1="0" y1="0" x2="0" y2="1"><stop offset="0.002" stop-color="#470e61"/><stop offset="0.035" stop-color="#48186a"/><stop offset="0.039" stop-color="#482575"/><stop offset="0.049" stop-color="#3a538b"/><stop offset="0.076" stop-color="#375a8c"/><stop offset="0.090" stop-color="#453882"/><stop offset="0.104" stop-color="#48186a"/><stop offset="0.141" stop-color="#481366"/><stop offset="0.188" stop-color="#46307c"/><stop offset="0.238" stop-color="#2d758b"/><stop offset="0.262" stop-color="#3b977d"/><stop offset="0.289" stop-color="#62af66"/><stop offset="0.312" stop-color="#68b167"/><stop offset="0.336" stop-color="#4ea56f"/><stop offset="0.363" stop-color="#2e8288"/><stop offset="0.405" stop-color="#404485"/><stop offset="0.451" stop-color="#48196c"/><stop offset="0.535" stop-color="#460b5e"/><stop offset="0.882" stop-color="#471164"/><stop offset="0.896" stop-color="#481669"/><stop offset="0.900" stop-color="#482172"/><stop offset="0.914" stop-color="#481a6c"/><stop offset="0.965" stop-color="#433c84"/><stop offset="0.998" stop-color="#37598c"/></linearGradient><linearGradient id="c37" x1="0" y1="0" x2="0" y2="1"><stop offset="0.002" stop-color="#470e61"/><stop offset="0.044" stop-color="#481b6d"/><stop offset="0.049" stop-color="#472776"/><stop offset="0.058" stop-color="#3a538b"/><stop offset="0.067" stop-color="#34608d"/><stop offset="0.081" stop-color="#3a548c"/><stop offset="0.100" stop-color="#481f70"/><stop offset="0.118" stop-color="#471164"/><stop offset="0.169" stop-color="#482071"/><stop offset="0.215" stop-color="#3a5289"/><stop offset="0.248" stop-color="#2e8488"/><stop offset="0.275" stop-color="#4fa66e"/><stop offset="0.299" stop-color="#6ab266"/><stop offset="0.322" stop-color="#61af66"/><stop offset="0.359" stop-color="#308986"/><stop offset="0.382" stop-color="#32658b"/><stop offset="0.433" stop-color="#482676"/><stop offset="0.488" stop-color="#470e61"/><stop offset="0.826" stop-color="#471163"/><stop offset="0.896" stop-color="#482576"/><stop offset="0.900" stop-color="#46317e"/><stop offset="0.919" stop-color="#46307d"/><stop offset="0.970" stop-color="#34608d"/><stop offset="0.993" stop-color="#2b768e"/><stop offset="0.998" stop-color="#2a788e"/></linearGradient><linearGradient id="c38" x1="0" y1="0" x2="0" y2="1"><stop offset="0.002" stop-color="#471164"/><stop offset="0.049" stop-color="#481c6e"/><stop offset="0.058" stop-color="#472d7c"/><stop offset="0.072" stop-color="#33648d"/><stop offset="0.076" stop-color="#32648e"/><stop offset="0.090" stop-color="#443b84"/><stop offset="0.104" stop-color="#481b6d"/><stop offset="0.141" stop-color="#481668"/><stop offset="0.192" stop-color="#45337e"/><stop offset="0.248" stop-color="#2c798b"/><stop offset="0.285" stop-color="#429f77"/><stop offset="0.312" stop-color="#49a472"/><stop offset="0.350" stop-color="#2f8987"/><stop offset="0.377" stop-color="#33648c"/><stop offset="0.433" stop-color="#482676"/><stop offset="0.493" stop-color="#471164"/><stop offset="0.766" stop-color="#481466"/><stop offset="0.891" stop-color="#453781"/><stop offset="0.905" stop-color="#404588"/><stop offset="0.919" stop-color="#404688"/><stop offset="0.970" stop-color="#2a798e"/><stop offset="0.988" stop-color="#228d8d"/><stop offset="0.998" stop-color="#21908c"/></linearGradient><linearGradient id="c39" x1="0" y1="0" x2="0" y2="1"><stop offset="0.002" stop-color="#471365"/><stop offset="0.049" stop-color="#482172"/><stop offset="0.058" stop-color="#414285"/><stop offset="0.067" stop-color="#32648d"/><stop offset="0.076" stop-color="#33638d"/><stop offset="0.095" stop-color="#472f7d"/><stop offset="0.109" stop-color="#481a6c"/><stop offset="0.155" stop-color="#482071"/><stop offset="0.201" stop-color="#3e4887"/><stop offset="0.243" stop-color="#2c8689"/><stop offset="0.266" stop-color="#48a572"/><stop offset="0.285" stop-color="#69b465"/><stop offset="0.312" stop-color="#71b862"/><stop offset="0.331" stop-color="#5fb065"/><stop offset="0.359" stop-color="#329283"/><stop offset="0.382" stop-color="#2f6d8c"/><stop offset="0.433" stop-color="#472d7b"/><stop offset="0.488" stop-color="#481568"/><stop offset="0.683" stop-color="#481668"/><stop offset="0.891" stop-color="#404587"/><stop offset="0.905" stop-color="#3a538b"/><stop offset="0.919" stop-color="#3a538b"/><stop offset="0.965" stop-color="#277f8e"/><stop offset="0.984" stop-color="#1f9a8a"/><stop offset="0.998" stop-color="#1f9c89"/></linearGradient><linearGradient id="c40" x1="0" y1="0" x2="0" y2="1"><stop offset="0.002" stop-color="#471063"/><stop offset="0.039" stop-color="#481c6e"/><stop offset="0.053" stop-color="#39568c"/><stop offset="0.076" stop-color="#365c8d"/><stop offset="0.090" stop-color="#443983"/><stop offset="0.104" stop-color="#481a6c"/><stop offset="0.141" stop-color="#481668"/><stop offset="0.188" stop-color="#45327e"/><stop offset="0.238" stop-color="#2c788b"/><stop offset="0.262" stop-color="#3c9a7c"/><stop offset="0.285" stop-color="#5fae67"/><stop offset="0.308" stop-color="#6ab466"/><stop offset="0.326" stop-color="#5eae67"/><stop offset="0.359" stop-color="#318b85"/><stop offset="0.382" stop-color="#31688c"/><stop offset="0.433" stop-color="#472878"/><stop offset="0.488" stop-color="#471164"/><stop offset="0.604" stop-color="#471164"/><stop offset="0.831" stop-color="#453580"/><stop offset="0.896" stop-color="#3f4989"/><stop offset="0.900" stop-color="#3a538b"/><stop offset="0.919" stop-color="#3a538b"/><stop offset="0.965" stop-color="#27808e"/><stop offset="0.984" stop-color="#1e9b8a"/><stop offset="0.998" stop-color="#1e9d89"/></linearGradient><linearGradient id="c41" x1="0" y1="0" x2="0" y2="1"><stop offset="0.002" stop-color="#470e61"/><stop offset="0.030" stop-color="#481668"/><stop offset="0.035" stop-color="#481f71"/><stop offset="0.044" stop-color="#3c4f8a"/><stop offset="0.076" stop-color="#375a8c"/><stop offset="0.090" stop-color="#453882"/><stop offset="0.104" stop-color="#48186a"/><stop offset="0.137" stop-color="#471365"/><stop offset="0.183" stop-color="#472b79"/><stop offset="0.234" stop-color="#2f6e8b"/><stop offset="0.257" stop-color="#369181"/><stop offset="0.289" stop-color="#61af67"/><stop offset="0.312" stop-color="#67b168"/><stop offset="0.336" stop-color="#4ca56f"/><stop offset="0.363" stop-color="#2e8288"/><stop offset="0.410" stop-color="#423e83"/><stop offset="0.451" stop-color="#481a6c"/><stop offset="0.535" stop-color="#460b5e"/><stop offset="0.637" stop-color="#471365"/><stop offset="0.887" stop-color="#424186"/><stop offset="0.896" stop-color="#404788"/><stop offset="0.900" stop-color="#3b518b"/><stop offset="0.919" stop-color="#3b528b"/><stop offset="0.965" stop-color="#277e8e"/><stop offset="0.984" stop-color="#1f998a"/><stop offset="0.998" stop-color="#1e9b8a"/></linearGradient><linearGradient id="c42" x1="0" y1="0" x2="0" y2="1"><stop offset="0.002" stop-color="#470e61"/><stop offset="0.030" stop-color="#48186b"/><stop offset="0.035" stop-color="#482979"/><stop offset="0.039" stop-color="#3f4788"/><stop offset="0.044" stop-color="#3b528b"/><stop offset="0.062" stop-color="#3b528b"/><stop offset="0.076" stop-color="#375a8c"/><stop offset="0.090" stop-color="#453782"/><stop offset="0.104" stop-color="#48186a"/><stop offset="0.141" stop-color="#481366"/><stop offset="0.188" stop-color="#462f7c"/><stop offset="0.238" stop-color="#2d758b"/><stop offset="0.262" stop-color="#3a977e"/><stop offset="0.289" stop-color="#61ae67"/><stop offset="0.312" stop-color="#67b167"/><stop offset="0.336" stop-color="#4ca470"/><stop offset="0.363" stop-color="#2e8189"/><stop offset="0.405" stop-color="#404485"/><stop offset="0.442" stop-color="#481f70"/><stop offset="0.525" stop-color="#470d60"/><stop offset="0.725" stop-color="#471265"/><stop offset="0.891" stop-color="#433d84"/><stop offset="0.905" stop-color="#3e4b89"/><stop offset="0.919" stop-color="#3d4c8a"/><stop offset="0.965" stop-color="#2a788e"/><stop offset="0.984" stop-color="#20938c"/><stop offset="0.998" stop-color="#1f968b"/></linearGradient><linearGradient id="c43" x1="0" y1="0" x2="0" y2="1"><stop offset="0.002" stop-color="#470e61"/><stop offset="0.035" stop-color="#481a6c"/><stop offset="0.039" stop-color="#472978"/><stop offset="0.049" stop-color="#3a548c"/><stop offset="0.076" stop-color="#375a8c"/><stop offset="0.090" stop-color="#453882"/><stop offset="0.104" stop-color="#48186a"/><stop offset="0.141" stop-color="#471365"/><stop offset="0.192" stop-color="#462f7c"/><stop offset="0.248" stop-color="#2d758b"/><stop offset="0.280" stop-color="#3c987d"/><stop offset="0.308" stop-color="#48a174"/><stop offset="0.345" stop-color="#308a85"/><stop offset="0.373" stop-color="#32668c"/><stop offset="0.428" stop-color="#482676"/><stop offset="0.442" stop-color="#481d6e"/><stop offset="0.451" stop-color="#482172"/><stop offset="0.572" stop-color="#470f62"/><stop offset="0.789" stop-color="#471164"/><stop offset="0.891" stop-color="#472d7c"/><stop offset="0.900" stop-color="#433d84"/><stop offset="0.919" stop-color="#433c84"/><stop offset="0.970" stop-color="#2d6f8e"/><stop offset="0.988" stop-color="#25848e"/><stop offset="0.998" stop-color="#24868e"/></linearGradient><linearGradient id="c44" x1="0" y1="0" x2="0" y2="1"><stop offset="0.002" stop-color="#470e61"/><stop offset="0.039" stop-color="#481769"/><stop offset="0.049" stop-color="#462c7a"/><stop offset="0.058" stop-color="#38578c"/><stop offset="0.072" stop-color="#355f8d"/><stop offset="0.086" stop-color="#3f4788"/><stop offset="0.100" stop-color="#481f70"/><stop offset="0.118" stop-color="#471164"/><stop offset="0.169" stop-color="#482071"/><stop offset="0.215" stop-color="#3a5289"/><stop offset="0.248" stop-color="#2e8488"/><stop offset="0.285" stop-color="#60ad65"/><stop offset="0.308" stop-color="#6db364"/><stop offset="0.331" stop-color="#57a96a"/><stop offset="0.359" stop-color="#308986"/><stop offset="0.382" stop-color="#32658b"/><stop offset="0.433" stop-color="#472676"/><stop offset="0.442" stop-color="#481f70"/><stop offset="0.451" stop-color="#482374"/><stop offset="0.711" stop-color="#470d60"/><stop offset="0.863" stop-color="#481366"/><stop offset="0.896" stop-color="#481f70"/><stop offset="0.900" stop-color="#472a79"/><stop offset="0.914" stop-color="#482575"/><stop offset="0.965" stop-color="#3c4e8a"/><stop offset="0.988" stop-color="#31688e"/><stop offset="0.998" stop-color="#2f6c8e"/></linearGradient><linearGradient id="c45" x1="0" y1="0" x2="0" y2="1"><stop offset="0.002" stop-color="#471063"/><stop offset="0.049" stop-color="#481c6e"/><stop offset="0.058" stop-color="#472f7c"/><stop offset="0.067" stop-color="#38578b"/><stop offset="0.072" stop-color="#33638d"/><stop offset="0.081" stop-color="#38598c"/><stop offset="0.100" stop-color="#482072"/><stop offset="0.118" stop-color="#481366"/><stop offset="0.169" stop-color="#482373"/><stop offset="0.215" stop-color="#39558a"/><stop offset="0.243" stop-color="#2c808a"/><stop offset="0.266" stop-color="#44a076"/><stop offset="0.289" stop-color="#68b164"/><stop offset="0.312" stop-color="#6eb464"/><stop offset="0.336" stop-color="#52a86d"/><stop offset="0.363" stop-color="#2d8588"/><stop offset="0.405" stop-color="#3f4786"/><stop offset="0.442" stop-color="#482172"/><stop offset="0.516" stop-color="#48186a"/><stop offset="0.683" stop-color="#481b6d"/><stop offset="0.882" stop-color="#471063"/><stop offset="0.896" stop-color="#481467"/><stop offset="0.900" stop-color="#481f70"/><stop offset="0.914" stop-color="#481669"/><stop offset="0.965" stop-color="#46327e"/><stop offset="0.998" stop-color="#3d4d89"/></linearGradient><linearGradient id="c46" x1="0" y1="0" x2="0" y2="1"><stop offset="0.002" stop-color="#481467"/><stop offset="0.049" stop-color="#482172"/><stop offset="0.058" stop-color="#433c83"/><stop offset="0.067" stop-color="#33638d"/><stop offset="0.076" stop-color="#32648e"/><stop offset="0.095" stop-color="#47307d"/><stop offset="0.109" stop-color="#481b6d"/><stop offset="0.160" stop-color="#482172"/><stop offset="0.206" stop-color="#3f4687"/><stop offset="0.252" stop-color="#2b818a"/><stop offset="0.289" stop-color="#45a375"/><stop offset="0.317" stop-color="#47a474"/><stop offset="0.354" stop-color="#2c8589"/><stop offset="0.405" stop-color="#404486"/><stop offset="0.451" stop-color="#482072"/><stop offset="0.535" stop-color="#481669"/><stop offset="0.748" stop-color="#482575"/><stop offset="0.845" stop-color="#481a6c"/><stop offset="0.854" stop-color="#471164"/><stop offset="0.896" stop-color="#481467"/><stop offset="0.900" stop-color="#481e70"/><stop offset="0.919" stop-color="#481466"/><stop offset="0.975" stop-color="#482877"/><stop offset="0.998" stop-color="#453781"/></linearGradient><linearGradient id="c47" x1="0" y1="0" x2="0" y2="1"><stop offset="0.002" stop-color="#471365"/><stop offset="0.039" stop-color="#481d6e"/><stop offset="0.044" stop-color="#472877"/><stop offset="0.053" stop-color="#3a548b"/><stop offset="0.062" stop-color="#355f8d"/><stop offset="0.076" stop-color="#355f8d"/><stop offset="0.095" stop-color="#472e7c"/><stop offset="0.109" stop-color="#48196b"/><stop offset="0.155" stop-color="#481f70"/><stop offset="0.197" stop-color="#414185"/><stop offset="0.243" stop-color="#2c8489"/><stop offset="0.266" stop-color="#48a473"/><stop offset="0.285" stop-color="#68b363"/><stop offset="0.308" stop-color="#72b861"/><stop offset="0.326" stop-color="#66b264"/><stop offset="0.359" stop-color="#329084"/><stop offset="0.377" stop-color="#2d738c"/><stop offset="0.428" stop-color="#46307d"/><stop offset="0.479" stop-color="#481669"/><stop offset="0.655" stop-color="#481669"/><stop offset="0.836" stop-color="#482877"/><stop offset="0.845" stop-color="#482777"/><stop offset="0.850" stop-color="#471063"/><stop offset="0.896" stop-color="#481366"/><stop offset="0.900" stop-color="#481d6f"/><stop offset="0.914" stop-color="#481466"/><stop offset="0.965" stop-color="#472d7b"/><stop offset="0.998" stop-color="#3d4c89"/></linearGradient><linearGradient id="c48" x1="0" y1="0" x2="0" y2="1"><stop offset="0.002" stop-color="#470e61"/><stop offset="0.030" stop-color="#481568"/><stop offset="0.035" stop-color="#481d6f"/><stop offset="0.044" stop-color="#3d4d8a"/><stop offset="0.053" stop-color="#3a538b"/><stop offset="0.076" stop-color="#375a8c"/><stop offset="0.090" stop-color="#453882"/><stop offset="0.104" stop-color="#48186a"/><stop offset="0.141" stop-color="#481366"/><stop offset="0.188" stop-color="#46307c"/><stop offset="0.238" stop-color="#2d768b"/><stop offset="0.262" stop-color="#3b997d"/><stop offset="0.289" stop-color="#65b065"/><stop offset="0.312" stop-color="#6bb366"/><stop offset="0.336" stop-color="#4fa66e"/><stop offset="0.363" stop-color="#2d8388"/><stop offset="0.405" stop-color="#3f4485"/><stop offset="0.451" stop-color="#481a6c"/><stop offset="0.535" stop-color="#460c5f"/><stop offset="0.771" stop-color="#481668"/><stop offset="0.845" stop-color="#482374"/><stop offset="0.850" stop-color="#470c5f"/><stop offset="0.896" stop-color="#481668"/><stop offset="0.900" stop-color="#482172"/><stop offset="0.914" stop-color="#481b6d"/><stop offset="0.961" stop-color="#414186"/><stop offset="0.993" stop-color="#31668e"/><stop offset="0.998" stop-color="#30698e"/></linearGradient><linearGradient id="c49" x1="0" y1="0" x2="0" y2="1"><stop offset="0.002" stop-color="#470e61"/><stop offset="0.030" stop-color="#48196b"/><stop offset="0.035" stop-color="#472b7a"/><stop offset="0.039" stop-color="#3f4889"/><stop offset="0.044" stop-color="#3b528b"/><stop offset="0.062" stop-color="#3a538b"/><stop offset="0.076" stop-color="#375b8d"/><stop offset="0.090" stop-color="#453882"/><stop offset="0.104" stop-color="#48196b"/><stop offset="0.137" stop-color="#481466"/><stop offset="0.183" stop-color="#472c7a"/><stop offset="0.234" stop-color="#2e6f8c"/><stop offset="0.257" stop-color="#369281"/><stop offset="0.285" stop-color="#5dad67"/><stop offset="0.308" stop-color="#6ab367"/><stop offset="0.331" stop-color="#55a96a"/><stop offset="0.359" stop-color="#318a86"/><stop offset="0.382" stop-color="#32668b"/><stop offset="0.433" stop-color="#472776"/><stop offset="0.484" stop-color="#471163"/><stop offset="0.817" stop-color="#471265"/><stop offset="0.845" stop-color="#48196b"/><stop offset="0.859" stop-color="#481668"/><stop offset="0.896" stop-color="#482877"/><stop offset="0.900" stop-color="#46337f"/><stop offset="0.919" stop-color="#46347f"/><stop offset="0.970" stop-color="#30698e"/><stop offset="0.988" stop-color="#277f8e"/><stop offset="0.998" stop-color="#26838e"/></linearGradient><linearGradient id="c50" x1="0" y1="0" x2="0" y2="1"><stop offset="0.002" stop-color="#470e61"/><stop offset="0.030" stop-color="#481467"/><stop offset="0.035" stop-color="#481b6d"/><stop offset="0.044" stop-color="#3f4888"/><stop offset="0.049" stop-color="#39558c"/><stop offset="0.076" stop-color="#375a8c"/><stop offset="0.090" stop-color="#453782"/><stop offset="0.104" stop-color="#481769"/><stop offset="0.141" stop-color="#471264"/><stop offset="0.192" stop-color="#462d7a"/><stop offset="0.248" stop-color="#2f6e8c"/><stop offset="0.285" stop-color="#369380"/><stop offset="0.317" stop-color="#3a977e"/><stop offset="0.359" stop-color="#2d738b"/><stop offset="0.414" stop-color="#46307c"/><stop offset="0.465" stop-color="#471265"/><stop offset="0.715" stop-color="#460b5e"/><stop offset="0.812" stop-color="#48176a"/><stop offset="0.896" stop-color="#443982"/><stop offset="0.900" stop-color="#414487"/><stop offset="0.919" stop-color="#404588"/><stop offset="0.970" stop-color="#29798e"/><stop offset="0.988" stop-color="#218e8d"/><stop offset="0.998" stop-color="#20918c"/></linearGradient><linearGradient id="c51" x1="0" y1="0" x2="0" y2="1"><stop offset="0.002" stop-color="#470e61"/><stop offset="0.039" stop-color="#481769"/><stop offset="0.044" stop-color="#481f70"/><stop offset="0.058" stop-color="#37598c"/><stop offset="0.076" stop-color="#365c8d"/><stop offset="0.090" stop-color="#453882"/><stop offset="0.104" stop-color="#48186a"/><stop offset="0.141" stop-color="#481366"/><stop offset="0.188" stop-color="#462f7c"/><stop offset="0.238" stop-color="#2d758b"/><stop offset="0.262" stop-color="#3a977e"/><stop offset="0.289" stop-color="#61ae66"/><stop offset="0.312" stop-color="#67b167"/><stop offset="0.336" stop-color="#4da470"/><stop offset="0.363" stop-color="#2e8189"/><stop offset="0.405" stop-color="#404385"/><stop offset="0.451" stop-color="#48196c"/><stop offset="0.535" stop-color="#460b5e"/><stop offset="0.715" stop-color="#471063"/><stop offset="0.891" stop-color="#433d85"/><stop offset="0.905" stop-color="#3d4c8a"/><stop offset="0.919" stop-color="#3d4c8a"/><stop offset="0.965" stop-color="#2a798e"/><stop offset="0.984" stop-color="#20938c"/><stop offset="0.998" stop-color="#1f968b"/></linearGradient><linearGradient id="c52" x1="0" y1="0" x2="0" y2="1"><stop offset="0.002" stop-color="#470e61"/><stop offset="0.049" stop-color="#481a6c"/><stop offset="0.058" stop-color="#46307d"/><stop offset="0.067" stop-color="#37598c"/><stop offset="0.072" stop-color="#33638d"/><stop offset="0.081" stop-color="#38578c"/><stop offset="0.100" stop-color="#481f70"/><stop offset="0.118" stop-color="#471164"/><stop offset="0.169" stop-color="#482071"/><stop offset="0.215" stop-color="#3a5289"/><stop offset="0.248" stop-color="#2d8488"/><stop offset="0.285" stop-color="#5fac66"/><stop offset="0.308" stop-color="#6cb264"/><stop offset="0.331" stop-color="#56a96a"/><stop offset="0.359" stop-color="#308986"/><stop offset="0.382" stop-color="#32658b"/><stop offset="0.433" stop-color="#482675"/><stop offset="0.488" stop-color="#470e61"/><stop offset="0.706" stop-color="#471063"/><stop offset="0.891" stop-color="#433e85"/><stop offset="0.905" stop-color="#3d4d8a"/><stop offset="0.919" stop-color="#3d4d8a"/><stop offset="0.965" stop-color="#29798e"/><stop offset="0.984" stop-color="#20948c"/><stop offset="0.998" stop-color="#1f978b"/></linearGradient><linearGradient id="c53" x1="0" y1="0" x2="0" y2="1"><stop offset="0.002" stop-color="#471164"/><stop offset="0.049" stop-color="#481d6f"/><stop offset="0.058" stop-color="#453580"/><stop offset="0.067" stop-color="#365d8c"/><stop offset="0.072" stop-color="#32658e"/><stop offset="0.081" stop-color="#37598c"/><stop offset="0.100" stop-color="#482273"/><stop offset="0.118" stop-color="#481567"/><stop offset="0.169" stop-color="#482475"/><stop offset="0.215" stop-color="#38578a"/><stop offset="0.243" stop-color="#2c8289"/><stop offset="0.266" stop-color="#47a275"/><stop offset="0.289" stop-color="#6cb362"/><stop offset="0.312" stop-color="#71b562"/><stop offset="0.336" stop-color="#55a96b"/><stop offset="0.363" stop-color="#2d8788"/><stop offset="0.396" stop-color="#39558a"/><stop offset="0.442" stop-color="#482374"/><stop offset="0.507" stop-color="#471163"/><stop offset="0.762" stop-color="#471366"/><stop offset="0.896" stop-color="#424086"/><stop offset="0.900" stop-color="#3e4b89"/><stop offset="0.919" stop-color="#3e4b8a"/><stop offset="0.965" stop-color="#2a788e"/><stop offset="0.984" stop-color="#20938c"/><stop offset="0.998" stop-color="#1f968b"/></linearGradient><linearGradient id="c54" x1="0" y1="0" x2="0" y2="1"><stop offset="0.002" stop-color="#481668"/><stop offset="0.039" stop-color="#481e70"/><stop offset="0.044" stop-color="#482776"/><stop offset="0.053" stop-color="#3b518a"/><stop offset="0.058" stop-color="#355f8d"/><stop offset="0.076" stop-color="#34618d"/><stop offset="0.095" stop-color="#46307e"/><stop offset="0.109" stop-color="#481c6e"/><stop offset="0.155" stop-color="#482273"/><stop offset="0.201" stop-color="#3d4a88"/><stop offset="0.243" stop-color="#2c8888"/><stop offset="0.266" stop-color="#4da770"/><stop offset="0.285" stop-color="#6eb661"/><stop offset="0.312" stop-color="#77b95e"/><stop offset="0.331" stop-color="#65b262"/><stop offset="0.363" stop-color="#2e8d86"/><stop offset="0.387" stop-color="#31688c"/><stop offset="0.438" stop-color="#472c7a"/><stop offset="0.498" stop-color="#481669"/><stop offset="0.822" stop-color="#48186a"/><stop offset="0.896" stop-color="#453480"/><stop offset="0.900" stop-color="#424086"/><stop offset="0.914" stop-color="#433e85"/><stop offset="0.965" stop-color="#2e6f8e"/><stop offset="0.988" stop-color="#238b8d"/><stop offset="0.998" stop-color="#218e8d"/></linearGradient><linearGradient id="c55" x1="0" y1="0" x2="0" y2="1"><stop offset="0.002" stop-color="#471063"/><stop offset="0.030" stop-color="#481769"/><stop offset="0.035" stop-color="#481e6f"/><stop offset="0.044" stop-color="#3e4b89"/><stop offset="0.049" stop-color="#39568c"/><stop offset="0.076" stop-color="#365c8d"/><stop offset="0.090" stop-color="#443983"/><stop offset="0.104" stop-color="#481a6c"/><stop offset="0.141" stop-color="#481567"/><stop offset="0.192" stop-color="#46317d"/><stop offset="0.248" stop-color="#2d758c"/><stop offset="0.275" stop-color="#369481"/><stop offset="0.308" stop-color="#46a076"/><stop offset="0.345" stop-color="#2e8a86"/><stop offset="0.373" stop-color="#32678c"/><stop offset="0.428" stop-color="#472777"/><stop offset="0.488" stop-color="#471163"/><stop offset="0.873" stop-color="#481466"/><stop offset="0.896" stop-color="#481d6f"/><stop offset="0.900" stop-color="#482978"/><stop offset="0.914" stop-color="#482575"/><stop offset="0.961" stop-color="#3c4e8a"/><stop offset="0.988" stop-color="#2d718e"/><stop offset="0.998" stop-color="#2b758e"/></linearGradient><linearGradient id="c56" x1="0" y1="0" x2="0" y2="1"><stop offset="0.002" stop-color="#470e61"/><stop offset="0.030" stop-color="#48196b"/><stop offset="0.035" stop-color="#472a79"/><stop offset="0.039" stop-color="#3f4888"/><stop offset="0.044" stop-color="#3b528b"/><stop offset="0.062" stop-color="#3b528b"/><stop offset="0.076" stop-color="#375a8c"/><stop offset="0.090" stop-color="#453882"/><stop offset="0.104" stop-color="#48186a"/><stop offset="0.141" stop-color="#481366"/><stop offset="0.188" stop-color="#46307c"/><stop offset="0.238" stop-color="#2d768b"/><stop offset="0.257" stop-color="#369281"/><stop offset="0.289" stop-color="#66af62"/><stop offset="0.312" stop-color="#6db262"/><stop offset="0.336" stop-color="#51a66e"/><stop offset="0.363" stop-color="#2d8289"/><stop offset="0.405" stop-color="#3f4485"/><stop offset="0.451" stop-color="#48196b"/><stop offset="0.539" stop-color="#460b5e"/><stop offset="0.896" stop-color="#471163"/><stop offset="0.900" stop-color="#481b6d"/><stop offset="0.914" stop-color="#471365"/><stop offset="0.961" stop-color="#462f7d"/><stop offset="0.998" stop-color="#39568c"/></linearGradient><linearGradient id="c57" x1="0" y1="0" x2="0" y2="1"><stop offset="0.002" stop-color="#470e61"/><stop offset="0.030" stop-color="#481567"/><stop offset="0.035" stop-color="#481d6f"/><stop offset="0.044" stop-color="#3d4c89"/><stop offset="0.049" stop-color="#39558c"/><stop offset="0.067" stop-color="#38588c"/><stop offset="0.081" stop-color="#3a538b"/><stop offset="0.100" stop-color="#481f70"/><stop offset="0.118" stop-color="#471164"/><stop offset="0.169" stop-color="#482071"/><stop offset="0.215" stop-color="#3a5289"/><stop offset="0.248" stop-color="#2d8388"/><stop offset="0.285" stop-color="#5fac65"/><stop offset="0.308" stop-color="#6db262"/><stop offset="0.331" stop-color="#57a86b"/><stop offset="0.359" stop-color="#2f8886"/><stop offset="0.382" stop-color="#32648b"/><stop offset="0.433" stop-color="#482676"/><stop offset="0.488" stop-color="#470f61"/><stop offset="0.896" stop-color="#470f62"/><stop offset="0.900" stop-color="#481a6c"/><stop offset="0.914" stop-color="#470f62"/><stop offset="0.965" stop-color="#482475"/><stop offset="0.998" stop-color="#423f85"/></linearGradient><linearGradient id="c58" x1="0" y1="0" x2="0" y2="1"><stop offset="0.002" stop-color="#470e61"/><stop offset="0.039" stop-color="#48186a"/><stop offset="0.044" stop-color="#482273"/><stop offset="0.053" stop-color="#3c4f8a"/><stop offset="0.062" stop-color="#365c8d"/><stop offset="0.076" stop-color="#365b8d"/><stop offset="0.090" stop-color="#453882"/><stop offset="0.104" stop-color="#48186a"/><stop offset="0.137" stop-color="#471265"/><stop offset="0.183" stop-color="#472b79"/><stop offset="0.234" stop-color="#2f6e8c"/><stop offset="0.252" stop-color="#308b85"/><stop offset="0.285" stop-color="#63ad64"/><stop offset="0.308" stop-color="#70b25f"/><stop offset="0.331" stop-color="#5aa969"/><stop offset="0.359" stop-color="#2f8986"/><stop offset="0.382" stop-color="#32658c"/><stop offset="0.433" stop-color="#482676"/><stop offset="0.488" stop-color="#470f62"/><stop offset="0.882" stop-color="#471063"/><stop offset="0.896" stop-color="#481568"/><stop offset="0.900" stop-color="#482072"/><stop offset="0.914" stop-color="#48196b"/><stop offset="0.965" stop-color="#433c84"/><stop offset="0.993" stop-color="#38578c"/><stop offset="0.998" stop-color="#375a8c"/></linearGradient><linearGradient id="c59" x1="0" y1="0" x2="0" y2="1"><stop offset="0.002" stop-color="#471365"/><stop offset="0.049" stop-color="#482071"/><stop offset="0.058" stop-color="#433a82"/><stop offset="0.067" stop-color="#34618d"/><stop offset="0.076" stop-color="#32648e"/><stop offset="0.095" stop-color="#472f7d"/><stop offset="0.109" stop-color="#481a6c"/><stop offset="0.160" stop-color="#481f71"/><stop offset="0.206" stop-color="#404486"/><stop offset="0.257" stop-color="#2b8489"/><stop offset="0.294" stop-color="#46a276"/><stop offset="0.322" stop-color="#439f78"/><stop offset="0.354" stop-color="#2a838a"/><stop offset="0.410" stop-color="#423d83"/><stop offset="0.461" stop-color="#481b6d"/><stop offset="0.595" stop-color="#471164"/><stop offset="0.845" stop-color="#48186a"/><stop offset="0.896" stop-color="#472978"/><stop offset="0.900" stop-color="#453480"/><stop offset="0.914" stop-color="#46307d"/><stop offset="0.965" stop-color="#365d8d"/><stop offset="0.988" stop-color="#2a778e"/><stop offset="0.998" stop-color="#297a8e"/></linearGradient><linearGradient id="c60" x1="0" y1="0" x2="0" y2="1"><stop offset="0.002" stop-color="#471063"/><stop offset="0.049" stop-color="#481c6e"/><stop offset="0.058" stop-color="#46307d"/><stop offset="0.067" stop-color="#38598c"/><stop offset="0.072" stop-color="#33648d"/><stop offset="0.081" stop-color="#38598c"/><stop offset="0.100" stop-color="#482172"/><stop offset="0.118" stop-color="#481366"/><stop offset="0.169" stop-color="#482373"/><stop offset="0.215" stop-color="#39558a"/><stop offset="0.248" stop-color="#2c8688"/><stop offset="0.280" stop-color="#5fac66"/><stop offset="0.303" stop-color="#74b459"/><stop offset="0.326" stop-color="#64ae63"/><stop offset="0.359" stop-color="#2f8c86"/><stop offset="0.377" stop-color="#2f6f8c"/><stop offset="0.428" stop-color="#472d7a"/><stop offset="0.479" stop-color="#471365"/><stop offset="0.775" stop-color="#471365"/><stop offset="0.896" stop-color="#443882"/><stop offset="0.900" stop-color="#414387"/><stop offset="0.919" stop-color="#414487"/><stop offset="0.970" stop-color="#2b768e"/><stop offset="0.988" stop-color="#238a8d"/><stop offset="0.998" stop-color="#228c8d"/></linearGradient><linearGradient id="c61" x1="0" y1="0" x2="0" y2="1"><stop offset="0.002" stop-color="#470e61"/><stop offset="0.039" stop-color="#481769"/><stop offset="0.049" stop-color="#462e7b"/><stop offset="0.058" stop-color="#38588c"/><stop offset="0.072" stop-color="#355f8d"/><stop offset="0.086" stop-color="#3f4788"/><stop offset="0.100" stop-color="#481f70"/><stop offset="0.118" stop-color="#471163"/><stop offset="0.169" stop-color="#482071"/><stop offset="0.215" stop-color="#3a5289"/><stop offset="0.248" stop-color="#2b8488"/><stop offset="0.280" stop-color="#5faa67"/><stop offset="0.303" stop-color="#74b258"/><stop offset="0.326" stop-color="#64ac63"/><stop offset="0.359" stop-color="#2e8986"/><stop offset="0.382" stop-color="#32658c"/><stop offset="0.433" stop-color="#482675"/><stop offset="0.488" stop-color="#470e61"/><stop offset="0.697" stop-color="#471063"/><stop offset="0.891" stop-color="#433e85"/><stop offset="0.905" stop-color="#3d4c8a"/><stop offset="0.919" stop-color="#3d4c8a"/><stop offset="0.965" stop-color="#2a788e"/><stop offset="0.984" stop-color="#20928c"/><stop offset="0.998" stop-color="#1f958b"/></linearGradient><linearGradient id="c62" x1="0" y1="0" x2="0" y2="1"><stop offset="0.002" stop-color="#471164"/><stop offset="0.035" stop-color="#481d6f"/><stop offset="0.044" stop-color="#3f4888"/><stop offset="0.049" stop-color="#38578c"/><stop offset="0.076" stop-color="#365d8d"/><stop offset="0.095" stop-color="#472d7b"/><stop offset="0.109" stop-color="#48186a"/><stop offset="0.160" stop-color="#481c6e"/><stop offset="0.211" stop-color="#3e4787"/><stop offset="0.257" stop-color="#2a8489"/><stop offset="0.294" stop-color="#4aa275"/><stop offset="0.317" stop-color="#49a275"/><stop offset="0.354" stop-color="#2a828a"/><stop offset="0.405" stop-color="#414084"/><stop offset="0.451" stop-color="#481c6e"/><stop offset="0.539" stop-color="#471063"/><stop offset="0.637" stop-color="#481366"/><stop offset="0.887" stop-color="#424186"/><stop offset="0.905" stop-color="#3b518b"/><stop offset="0.919" stop-color="#3b518b"/><stop offset="0.965" stop-color="#287d8e"/><stop offset="0.984" stop-color="#1f968b"/><stop offset="0.998" stop-color="#1f998a"/></linearGradient><linearGradient id="c63" x1="0" y1="0" x2="0" y2="1"><stop offset="0.002" stop-color="#470e61"/><stop offset="0.030" stop-color="#48186b"/><stop offset="0.035" stop-color="#472a79"/><stop offset="0.039" stop-color="#3f4788"/><stop offset="0.044" stop-color="#3b528b"/><stop offset="0.062" stop-color="#3b528b"/><stop offset="0.076" stop-color="#375a8c"/><stop offset="0.090" stop-color="#453882"/><stop offset="0.104" stop-color="#48186a"/><stop offset="0.137" stop-color="#471265"/><stop offset="0.183" stop-color="#472b79"/><stop offset="0.234" stop-color="#2e6f8c"/><stop offset="0.252" stop-color="#308c85"/><stop offset="0.285" stop-color="#68ae61"/><stop offset="0.308" stop-color="#76b357"/><stop offset="0.331" stop-color="#5eaa67"/><stop offset="0.359" stop-color="#2f8a86"/><stop offset="0.377" stop-color="#2f6d8c"/><stop offset="0.428" stop-color="#472a78"/><stop offset="0.479" stop-color="#471063"/><stop offset="0.655" stop-color="#471063"/><stop offset="0.891" stop-color="#424086"/><stop offset="0.905" stop-color="#3c4e8a"/><stop offset="0.919" stop-color="#3c4e8a"/><stop offset="0.965" stop-color="#297a8e"/><stop offset="0.984" stop-color="#20948c"/><stop offset="0.998" stop-color="#1f968b"/></linearGradient><linearGradient id="c64" x1="0" y1="0" x2="0" y2="1"><stop offset="0.002" stop-color="#470e61"/><stop offset="0.030" stop-color="#481668"/><stop offset="0.035" stop-color="#481f71"/><stop offset="0.044" stop-color="#3c4e8a"/><stop offset="0.076" stop-color="#375a8c"/><stop offset="0.090" stop-color="#453882"/><stop offset="0.104" stop-color="#48186a"/><stop offset="0.137" stop-color="#471265"/><stop offset="0.183" stop-color="#472b79"/><stop offset="0.234" stop-color="#2f6e8c"/><stop offset="0.252" stop-color="#2f8b86"/><stop offset="0.285" stop-color="#64ac63"/><stop offset="0.308" stop-color="#73b259"/><stop offset="0.331" stop-color="#5ca969"/><stop offset="0.359" stop-color="#2e8987"/><stop offset="0.382" stop-color="#32658c"/><stop offset="0.433" stop-color="#482676"/><stop offset="0.488" stop-color="#470e61"/><stop offset="0.743" stop-color="#471063"/><stop offset="0.891" stop-color="#443882"/><stop offset="0.905" stop-color="#3f4788"/><stop offset="0.919" stop-color="#3f4788"/><stop offset="0.970" stop-color="#297a8e"/><stop offset="0.988" stop-color="#218e8d"/><stop offset="0.998" stop-color="#21908c"/></linearGradient><linearGradient id="c65" x1="0" y1="0" x2="0" y2="1"><stop offset="0.002" stop-color="#471365"/><stop offset="0.039" stop-color="#481e70"/><stop offset="0.044" stop-color="#472b79"/><stop offset="0.053" stop-color="#38578c"/><stop offset="0.072" stop-color="#34618d"/><stop offset="0.081" stop-color="#38588c"/><stop offset="0.100" stop-color="#482475"/><stop offset="0.123" stop-color="#48186a"/><stop offset="0.174" stop-color="#472b7a"/><stop offset="0.225" stop-color="#31698c"/><stop offset="0.243" stop-color="#2a8689"/><stop offset="0.266" stop-color="#50a670"/><stop offset="0.289" stop-color="#79b656"/><stop offset="0.312" stop-color="#80b854"/><stop offset="0.336" stop-color="#61ad65"/><stop offset="0.363" stop-color="#2d8b87"/><stop offset="0.387" stop-color="#32678c"/><stop offset="0.438" stop-color="#472a79"/><stop offset="0.498" stop-color="#481366"/><stop offset="0.817" stop-color="#481669"/><stop offset="0.896" stop-color="#46307d"/><stop offset="0.900" stop-color="#433b83"/><stop offset="0.919" stop-color="#443b83"/><stop offset="0.970" stop-color="#2f6c8e"/><stop offset="0.988" stop-color="#26818e"/><stop offset="0.998" stop-color="#25848e"/></linearGradient><linearGradient id="c66" x1="0" y1="0" x2="0" y2="1"><stop offset="0.002" stop-color="#471164"/><stop offset="0.049" stop-color="#481f71"/><stop offset="0.053" stop-color="#472a79"/><stop offset="0.067" stop-color="#33628d"/><stop offset="0.076" stop-color="#33628d"/><stop offset="0.090" stop-color="#443c84"/><stop offset="0.104" stop-color="#481c6d"/><stop offset="0.141" stop-color="#481769"/><stop offset="0.192" stop-color="#46327e"/><stop offset="0.252" stop-color="#2b798c"/><stop offset="0.280" stop-color="#369581"/><stop offset="0.308" stop-color="#419d7a"/><stop offset="0.345" stop-color="#2c8788"/><stop offset="0.391" stop-color="#3c4e88"/><stop offset="0.442" stop-color="#482071"/><stop offset="0.521" stop-color="#471063"/><stop offset="0.873" stop-color="#481568"/><stop offset="0.896" stop-color="#481d6f"/><stop offset="0.900" stop-color="#482978"/><stop offset="0.919" stop-color="#482576"/><stop offset="0.970" stop-color="#3b508a"/><stop offset="0.993" stop-color="#31668e"/><stop offset="0.998" stop-color="#30698e"/></linearGradient><linearGradient id="c67" x1="0" y1="0" x2="0" y2="1"><stop offset="0.002" stop-color="#470e61"/><stop offset="0.049" stop-color="#481a6c"/><stop offset="0.058" stop-color="#472c7b"/><stop offset="0.072" stop-color="#33628d"/><stop offset="0.081" stop-color="#38588c"/><stop offset="0.100" stop-color="#481f70"/><stop offset="0.118" stop-color="#471264"/><stop offset="0.169" stop-color="#482072"/><stop offset="0.215" stop-color="#395389"/><stop offset="0.248" stop-color="#2d8688"/><stop offset="0.280" stop-color="#61ac65"/><stop offset="0.303" stop-color="#76b45a"/><stop offset="0.326" stop-color="#66ae62"/><stop offset="0.359" stop-color="#2f8b86"/><stop offset="0.377" stop-color="#2f6e8c"/><stop offset="0.428" stop-color="#472b79"/><stop offset="0.479" stop-color="#471163"/><stop offset="0.891" stop-color="#470e61"/><stop offset="0.900" stop-color="#481c6e"/><stop offset="0.914" stop-color="#471365"/><stop offset="0.965" stop-color="#472c7a"/><stop offset="0.998" stop-color="#3f4788"/></linearGradient><linearGradient id="c68" x1="0" y1="0" x2="0" y2="1"><stop offset="0.002" stop-color="#471063"/><stop offset="0.044" stop-color="#481d6f"/><stop offset="0.053" stop-color="#404184"/><stop offset="0.058" stop-color="#39568b"/><stop offset="0.067" stop-color="#34618d"/><stop offset="0.081" stop-color="#39558c"/><stop offset="0.100" stop-color="#482071"/><stop offset="0.118" stop-color="#481366"/><stop offset="0.169" stop-color="#482373"/><stop offset="0.215" stop-color="#39558a"/><stop offset="0.248" stop-color="#2d8787"/><stop offset="0.285" stop-color="#65af62"/><stop offset="0.308" stop-color="#73b560"/><stop offset="0.331" stop-color="#5dac67"/><stop offset="0.359" stop-color="#308c85"/><stop offset="0.377" stop-color="#2e6f8c"/><stop offset="0.428" stop-color="#472c7a"/><stop offset="0.479" stop-color="#471265"/><stop offset="0.891" stop-color="#471163"/><stop offset="0.900" stop-color="#481f70"/><stop offset="0.914" stop-color="#481668"/><stop offset="0.965" stop-color="#45347f"/><stop offset="0.998" stop-color="#3a538b"/></linearGradient><linearGradient id="c69" x1="0" y1="0" x2="0" y2="1"><stop offset="0.002" stop-color="#470e61"/><stop offset="0.035" stop-color="#48196b"/><stop offset="0.039" stop-color="#472676"/><stop offset="0.049" stop-color="#3a538b"/><stop offset="0.076" stop-color="#375a8c"/><stop offset="0.090" stop-color="#453882"/><stop offset="0.104" stop-color="#48176a"/><stop offset="0.141" stop-color="#471265"/><stop offset="0.192" stop-color="#462d7b"/><stop offset="0.248" stop-color="#2e708c"/><stop offset="0.275" stop-color="#339083"/><stop offset="0.312" stop-color="#409b7a"/><stop offset="0.350" stop-color="#2c8089"/><stop offset="0.400" stop-color="#413f84"/><stop offset="0.447" stop-color="#48196b"/><stop offset="0.539" stop-color="#460b5e"/><stop offset="0.859" stop-color="#471264"/><stop offset="0.896" stop-color="#481e70"/><stop offset="0.900" stop-color="#472a79"/><stop offset="0.914" stop-color="#482676"/><stop offset="0.961" stop-color="#3c4e8a"/><stop offset="0.988" stop-color="#2d718e"/><stop offset="0.998" stop-color="#2b758e"/></linearGradient><linearGradient id="c70" x1="0" y1="0" x2="0" y2="1"><stop offset="0.002" stop-color="#470e61"/><stop offset="0.030" stop-color="#48186a"/><stop offset="0.035" stop-color="#482978"/><stop offset="0.039" stop-color="#404688"/><stop offset="0.044" stop-color="#3b528b"/><stop offset="0.062" stop-color="#3b528b"/><stop offset="0.076" stop-color="#375a8c"/><stop offset="0.090" stop-color="#453782"/><stop offset="0.104" stop-color="#48186a"/><stop offset="0.141" stop-color="#481366"/><stop offset="0.188" stop-color="#46307c"/><stop offset="0.238" stop-color="#2d768b"/><stop offset="0.262" stop-color="#3c987d"/><stop offset="0.289" stop-color="#65af64"/><stop offset="0.312" stop-color="#6bb264"/><stop offset="0.336" stop-color="#4fa56f"/><stop offset="0.363" stop-color="#2d8389"/><stop offset="0.405" stop-color="#404485"/><stop offset="0.451" stop-color="#481a6c"/><stop offset="0.535" stop-color="#460b5e"/><stop offset="0.803" stop-color="#471264"/><stop offset="0.896" stop-color="#46337f"/><stop offset="0.900" stop-color="#423e85"/><stop offset="0.919" stop-color="#424086"/><stop offset="0.965" stop-color="#2d718e"/><stop offset="0.988" stop-color="#218f8c"/><stop offset="0.998" stop-color="#20928c"/></linearGradient><linearGradient id="c71" x1="0" y1="0" x2="0" y2="1"><stop offset="0.002" stop-color="#471063"/><stop offset="0.030" stop-color="#48196b"/><stop offset="0.035" stop-color="#482374"/><stop offset="0.044" stop-color="#3b528b"/><stop offset="0.076" stop-color="#365c8d"/><stop offset="0.090" stop-color="#443a83"/><stop offset="0.104" stop-color="#481b6d"/><stop offset="0.137" stop-color="#481668"/><stop offset="0.183" stop-color="#462f7c"/><stop offset="0.234" stop-color="#2d738c"/><stop offset="0.257" stop-color="#379680"/><stop offset="0.285" stop-color="#63b165"/><stop offset="0.308" stop-color="#6eb664"/><stop offset="0.326" stop-color="#62b065"/><stop offset="0.359" stop-color="#318d85"/><stop offset="0.382" stop-color="#30698c"/><stop offset="0.433" stop-color="#472a79"/><stop offset="0.488" stop-color="#471264"/><stop offset="0.729" stop-color="#471366"/><stop offset="0.891" stop-color="#414387"/><stop offset="0.905" stop-color="#3b528b"/><stop offset="0.919" stop-color="#3a538b"/><stop offset="0.965" stop-color="#25848e"/><stop offset="0.984" stop-color="#20a287"/><stop offset="0.998" stop-color="#21a586"/></linearGradient><linearGradient id="c72" x1="0" y1="0" x2="0" y2="1"><stop offset="0.002" stop-color="#470e61"/><stop offset="0.035" stop-color="#481568"/><stop offset="0.039" stop-color="#481b6d"/><stop offset="0.053" stop-color="#39568c"/><stop offset="0.076" stop-color="#375b8d"/><stop offset="0.090" stop-color="#453882"/><stop offset="0.104" stop-color="#48186a"/><stop offset="0.137" stop-color="#471365"/><stop offset="0.183" stop-color="#472b79"/><stop offset="0.234" stop-color="#2e6f8b"/><stop offset="0.257" stop-color="#359281"/><stop offset="0.289" stop-color="#62b067"/><stop offset="0.312" stop-color="#69b267"/><stop offset="0.336" stop-color="#4da66f"/><stop offset="0.363" stop-color="#2e8288"/><stop offset="0.410" stop-color="#423e83"/><stop offset="0.456" stop-color="#48176a"/><stop offset="0.549" stop-color="#460b5e"/><stop offset="0.650" stop-color="#471365"/><stop offset="0.887" stop-color="#404688"/><stop offset="0.905" stop-color="#39578c"/><stop offset="0.919" stop-color="#38588c"/><stop offset="0.961" stop-color="#26828e"/><stop offset="0.984" stop-color="#21a785"/><stop offset="0.998" stop-color="#23a983"/></linearGradient><linearGradient id="c73" x1="0" y1="0" x2="0" y2="1"><stop offset="0.002" stop-color="#470e61"/><stop offset="0.049" stop-color="#481d6f"/><stop offset="0.058" stop-color="#414184"/><stop offset="0.067" stop-color="#34618d"/><stop offset="0.076" stop-color="#355f8d"/><stop offset="0.090" stop-color="#453882"/><stop offset="0.104" stop-color="#48186a"/><stop offset="0.141" stop-color="#481366"/><stop offset="0.188" stop-color="#46307c"/><stop offset="0.238" stop-color="#2d768b"/><stop offset="0.262" stop-color="#3a987d"/><stop offset="0.289" stop-color="#63b065"/><stop offset="0.312" stop-color="#6ab365"/><stop offset="0.336" stop-color="#4da66f"/><stop offset="0.363" stop-color="#2d8388"/><stop offset="0.405" stop-color="#3f4485"/><stop offset="0.447" stop-color="#481c6e"/><stop offset="0.516" stop-color="#470c5f"/><stop offset="0.623" stop-color="#470d60"/><stop offset="0.752" stop-color="#472a79"/><stop offset="0.887" stop-color="#404788"/><stop offset="0.905" stop-color="#38578c"/><stop offset="0.919" stop-color="#38588c"/><stop offset="0.961" stop-color="#26828e"/><stop offset="0.984" stop-color="#22a785"/><stop offset="0.998" stop-color="#24aa83"/></linearGradient><linearGradient id="c74" x1="0" y1="0" x2="0" y2="1"><stop offset="0.002" stop-color="#471063"/><stop offset="0.049" stop-color="#481b6d"/><stop offset="0.058" stop-color="#472b7a"/><stop offset="0.072" stop-color="#33638d"/><stop offset="0.076" stop-color="#33638d"/><stop offset="0.090" stop-color="#443a83"/><stop offset="0.104" stop-color="#48196b"/><stop offset="0.141" stop-color="#481466"/><stop offset="0.192" stop-color="#462f7c"/><stop offset="0.248" stop-color="#2d728c"/><stop offset="0.280" stop-color="#379480"/><stop offset="0.312" stop-color="#409c7a"/><stop offset="0.350" stop-color="#2d8289"/><stop offset="0.400" stop-color="#414184"/><stop offset="0.447" stop-color="#481b6d"/><stop offset="0.535" stop-color="#470d60"/><stop offset="0.711" stop-color="#481568"/><stop offset="0.891" stop-color="#404688"/><stop offset="0.905" stop-color="#39558c"/><stop offset="0.919" stop-color="#39568c"/><stop offset="0.965" stop-color="#24878e"/><stop offset="0.984" stop-color="#20a486"/><stop offset="0.998" stop-color="#22a884"/></linearGradient><linearGradient id="c75" x1="0" y1="0" x2="0" y2="1"><stop offset="0.002" stop-color="#470e61"/><stop offset="0.044" stop-color="#481a6c"/><stop offset="0.049" stop-color="#482474"/><stop offset="0.058" stop-color="#3b508a"/><stop offset="0.062" stop-color="#355e8d"/><stop offset="0.076" stop-color="#365d8d"/><stop offset="0.090" stop-color="#453882"/><stop offset="0.104" stop-color="#48186a"/><stop offset="0.141" stop-color="#481366"/><stop offset="0.188" stop-color="#462f7c"/><stop offset="0.238" stop-color="#2d758b"/><stop offset="0.262" stop-color="#3b977d"/><stop offset="0.289" stop-color="#61ae67"/><stop offset="0.312" stop-color="#68b167"/><stop offset="0.336" stop-color="#4da46f"/><stop offset="0.363" stop-color="#2e8288"/><stop offset="0.405" stop-color="#404485"/><stop offset="0.451" stop-color="#48196c"/><stop offset="0.535" stop-color="#460b5e"/><stop offset="0.775" stop-color="#471164"/><stop offset="0.891" stop-color="#453781"/><stop offset="0.905" stop-color="#3f4788"/><stop offset="0.919" stop-color="#3f4889"/><stop offset="0.965" stop-color="#29798e"/><stop offset="0.984" stop-color="#20968b"/><stop offset="0.998" stop-color="#1f9b8a"/></linearGradient><linearGradient id="c76" x1="0" y1="0" x2="0" y2="1"><stop offset="0.002" stop-color="#470e61"/><stop offset="0.035" stop-color="#48176a"/><stop offset="0.039" stop-color="#482373"/><stop offset="0.049" stop-color="#3b518b"/><stop offset="0.076" stop-color="#375a8c"/><stop offset="0.090" stop-color="#453882"/><stop offset="0.104" stop-color="#48186a"/><stop offset="0.141" stop-color="#471366"/><stop offset="0.188" stop-color="#462f7c"/><stop offset="0.238" stop-color="#2d758b"/><stop offset="0.262" stop-color="#3a967e"/><stop offset="0.289" stop-color="#5fae68"/><stop offset="0.312" stop-color="#65b068"/><stop offset="0.336" stop-color="#4ba470"/><stop offset="0.363" stop-color="#2e8189"/><stop offset="0.410" stop-color="#423d83"/><stop offset="0.456" stop-color="#481769"/><stop offset="0.553" stop-color="#460b5e"/><stop offset="0.808" stop-color="#471163"/><stop offset="0.882" stop-color="#481e70"/><stop offset="0.896" stop-color="#482676"/><stop offset="0.900" stop-color="#46327e"/><stop offset="0.914" stop-color="#472f7c"/><stop offset="0.965" stop-color="#34618d"/><stop offset="0.988" stop-color="#277e8e"/><stop offset="0.998" stop-color="#26828e"/></linearGradient><linearGradient id="c77" x1="0" y1="0" x2="0" y2="1"><stop offset="0.002" stop-color="#470e61"/><stop offset="0.030" stop-color="#48186a"/><stop offset="0.035" stop-color="#482777"/><stop offset="0.039" stop-color="#414487"/><stop offset="0.044" stop-color="#3b518b"/><stop offset="0.062" stop-color="#3a528b"/><stop offset="0.076" stop-color="#375a8c"/><stop offset="0.090" stop-color="#453782"/><stop offset="0.104" stop-color="#48186a"/><stop offset="0.141" stop-color="#481366"/><stop offset="0.188" stop-color="#462f7c"/><stop offset="0.238" stop-color="#2d758b"/><stop offset="0.262" stop-color="#3b987d"/><stop offset="0.289" stop-color="#63af65"/><stop offset="0.312" stop-color="#6ab165"/><stop offset="0.336" stop-color="#4ea56f"/><stop offset="0.363" stop-color="#2d8289"/><stop offset="0.405" stop-color="#404485"/><stop offset="0.451" stop-color="#48196c"/><stop offset="0.535" stop-color="#460b5e"/><stop offset="0.780" stop-color="#471164"/><stop offset="0.822" stop-color="#481f70"/><stop offset="0.826" stop-color="#460b5f"/><stop offset="0.896" stop-color="#481668"/><stop offset="0.900" stop-color="#482172"/><stop offset="0.914" stop-color="#481a6c"/><stop offset="0.961" stop-color="#433b83"/><stop offset="0.993" stop-color="#355e8d"/><stop offset="0.998" stop-color="#34608d"/></linearGradient><linearGradient id="c78" x1="0" y1="0" x2="0" y2="1"><stop offset="0.002" stop-color="#470e61"/><stop offset="0.030" stop-color="#481769"/><stop offset="0.035" stop-color="#482374"/><stop offset="0.039" stop-color="#423f85"/><stop offset="0.044" stop-color="#3b518b"/><stop offset="0.062" stop-color="#3a538b"/><stop offset="0.076" stop-color="#375a8c"/><stop offset="0.090" stop-color="#453782"/><stop offset="0.104" stop-color="#481769"/><stop offset="0.141" stop-color="#471265"/><stop offset="0.192" stop-color="#462d7a"/><stop offset="0.248" stop-color="#2e6f8c"/><stop offset="0.280" stop-color="#349182"/><stop offset="0.317" stop-color="#3a977d"/><stop offset="0.359" stop-color="#2d738b"/><stop offset="0.414" stop-color="#46307c"/><stop offset="0.470" stop-color="#471164"/><stop offset="0.725" stop-color="#470e61"/><stop offset="0.817" stop-color="#482273"/><stop offset="0.822" stop-color="#482172"/><stop offset="0.826" stop-color="#460b5e"/><stop offset="0.896" stop-color="#470f62"/><stop offset="0.900" stop-color="#481a6c"/><stop offset="0.914" stop-color="#470f62"/><stop offset="0.970" stop-color="#482776"/><stop offset="0.998" stop-color="#433c83"/></linearGradient><linearGradient id="c79" x1="0" y1="0" x2="0" y2="1"><stop offset="0.002" stop-color="#470e61"/><stop offset="0.035" stop-color="#481668"/><stop offset="0.039" stop-color="#481e6f"/><stop offset="0.049" stop-color="#3e4a88"/><stop offset="0.053" stop-color="#38578c"/><stop offset="0.076" stop-color="#375b8d"/><stop offset="0.090" stop-color="#453882"/><stop offset="0.104" stop-color="#48186a"/><stop offset="0.141" stop-color="#481366"/><stop offset="0.188" stop-color="#46307c"/><stop offset="0.238" stop-color="#2d768b"/><stop offset="0.262" stop-color="#3b987d"/><stop offset="0.289" stop-color="#63af66"/><stop offset="0.312" stop-color="#69b266"/><stop offset="0.336" stop-color="#4ea56f"/><stop offset="0.363" stop-color="#2e8288"/><stop offset="0.405" stop-color="#3f4485"/><stop offset="0.447" stop-color="#481c6e"/><stop offset="0.516" stop-color="#470c5f"/><stop offset="0.706" stop-color="#471264"/><stop offset="0.780" stop-color="#482071"/><stop offset="0.822" stop-color="#481466"/><stop offset="0.831" stop-color="#460b5e"/><stop offset="0.896" stop-color="#470f61"/><stop offset="0.900" stop-color="#48196b"/><stop offset="0.914" stop-color="#470e61"/><stop offset="0.965" stop-color="#482273"/><stop offset="0.998" stop-color="#433d84"/></linearGradient><linearGradient id="c80" x1="0" y1="0" x2="0" y2="1"><stop offset="0.002" stop-color="#470e61"/><stop offset="0.044" stop-color="#48186a"/><stop offset="0.053" stop-color="#462f7c"/><stop offset="0.062" stop-color="#37598c"/><stop offset="0.072" stop-color="#33628d"/><stop offset="0.086" stop-color="#3f4788"/><stop offset="0.100" stop-color="#481f70"/><stop offset="0.118" stop-color="#471164"/><stop offset="0.169" stop-color="#482071"/><stop offset="0.215" stop-color="#3a5289"/><stop offset="0.248" stop-color="#2e8488"/><stop offset="0.285" stop-color="#5cad67"/><stop offset="0.308" stop-color="#6ab267"/><stop offset="0.331" stop-color="#54a96b"/><stop offset="0.359" stop-color="#308986"/><stop offset="0.382" stop-color="#32658b"/><stop offset="0.433" stop-color="#482676"/><stop offset="0.488" stop-color="#470e61"/><stop offset="0.664" stop-color="#471164"/><stop offset="0.743" stop-color="#481d6f"/><stop offset="0.850" stop-color="#460b5f"/><stop offset="0.896" stop-color="#471365"/><stop offset="0.900" stop-color="#481e70"/><stop offset="0.914" stop-color="#481769"/><stop offset="0.961" stop-color="#443881"/><stop offset="0.993" stop-color="#365c8c"/><stop offset="0.998" stop-color="#345f8d"/></linearGradient><linearGradient id="c81" x1="0" y1="0" x2="0" y2="1"><stop offset="0.002" stop-color="#470e61"/><stop offset="0.049" stop-color="#481b6d"/><stop offset="0.058" stop-color="#472a79"/><stop offset="0.072" stop-color="#33628d"/><stop offset="0.076" stop-color="#33628d"/><stop offset="0.090" stop-color="#443983"/><stop offset="0.104" stop-color="#48196b"/><stop offset="0.137" stop-color="#471366"/><stop offset="0.183" stop-color="#472c7a"/><stop offset="0.234" stop-color="#2e6f8c"/><stop offset="0.257" stop-color="#369281"/><stop offset="0.289" stop-color="#63b066"/><stop offset="0.312" stop-color="#69b267"/><stop offset="0.336" stop-color="#4ea66f"/><stop offset="0.363" stop-color="#2e8388"/><stop offset="0.405" stop-color="#3f4586"/><stop offset="0.447" stop-color="#481d6f"/><stop offset="0.516" stop-color="#470d60"/><stop offset="0.641" stop-color="#481567"/><stop offset="0.706" stop-color="#481c6e"/><stop offset="0.808" stop-color="#470d60"/><stop offset="0.891" stop-color="#481e6f"/><stop offset="0.900" stop-color="#472d7b"/><stop offset="0.914" stop-color="#472a79"/><stop offset="0.965" stop-color="#365c8d"/><stop offset="0.988" stop-color="#29798e"/><stop offset="0.998" stop-color="#287d8e"/></linearGradient><linearGradient id="c82" x1="0" y1="0" x2="0" y2="1"><stop offset="0.002" stop-color="#470e61"/><stop offset="0.044" stop-color="#48196b"/><stop offset="0.049" stop-color="#482172"/><stop offset="0.062" stop-color="#365c8c"/><stop offset="0.072" stop-color="#34618d"/><stop offset="0.086" stop-color="#3f4788"/><stop offset="0.100" stop-color="#481e70"/><stop offset="0.118" stop-color="#471163"/><stop offset="0.174" stop-color="#482071"/><stop offset="0.225" stop-color="#395489"/><stop offset="0.257" stop-color="#2d7f89"/><stop offset="0.294" stop-color="#439e77"/><stop offset="0.322" stop-color="#3f9b7a"/><stop offset="0.359" stop-color="#2d788b"/><stop offset="0.414" stop-color="#45317d"/><stop offset="0.465" stop-color="#471265"/><stop offset="0.581" stop-color="#470f62"/><stop offset="0.664" stop-color="#481a6c"/><stop offset="0.775" stop-color="#470d60"/><stop offset="0.877" stop-color="#472a79"/><stop offset="0.896" stop-color="#453580"/><stop offset="0.900" stop-color="#424186"/><stop offset="0.914" stop-color="#423f85"/><stop offset="0.965" stop-color="#2d718e"/><stop offset="0.984" stop-color="#228c8d"/><stop offset="0.998" stop-color="#21918c"/></linearGradient><linearGradient id="c83" x1="0" y1="0" x2="0" y2="1"><stop offset="0.002" stop-color="#470e61"/><stop offset="0.035" stop-color="#481669"/><stop offset="0.039" stop-color="#481f71"/><stop offset="0.049" stop-color="#3d4d89"/><stop offset="0.053" stop-color="#38578c"/><stop offset="0.076" stop-color="#375a8c"/><stop offset="0.090" stop-color="#453882"/><stop offset="0.104" stop-color="#48186a"/><stop offset="0.141" stop-color="#481366"/><stop offset="0.188" stop-color="#462f7c"/><stop offset="0.238" stop-color="#2d758b"/><stop offset="0.262" stop-color="#3b987d"/><stop offset="0.289" stop-color="#64af65"/><stop offset="0.312" stop-color="#6ab164"/><stop offset="0.336" stop-color="#4fa56f"/><stop offset="0.363" stop-color="#2d8289"/><stop offset="0.405" stop-color="#404485"/><stop offset="0.451" stop-color="#48196c"/><stop offset="0.521" stop-color="#470d60"/><stop offset="0.627" stop-color="#48186a"/><stop offset="0.725" stop-color="#470f62"/><stop offset="0.896" stop-color="#414286"/><stop offset="0.900" stop-color="#3d4c8a"/><stop offset="0.919" stop-color="#3d4d8a"/><stop offset="0.965" stop-color="#297b8e"/><stop offset="0.984" stop-color="#1f978b"/><stop offset="0.998" stop-color="#1f9a8a"/></linearGradient><linearGradient id="c84" x1="0" y1="0" x2="0" y2="1"><stop offset="0.002" stop-color="#470e61"/><stop offset="0.030" stop-color="#481769"/><stop offset="0.035" stop-color="#482575"/><stop offset="0.039" stop-color="#414186"/><stop offset="0.044" stop-color="#3b518b"/><stop offset="0.062" stop-color="#3a538b"/><stop offset="0.076" stop-color="#375a8c"/><stop offset="0.090" stop-color="#453882"/><stop offset="0.104" stop-color="#48186a"/><stop offset="0.141" stop-color="#481366"/><stop offset="0.188" stop-color="#462f7c"/><stop offset="0.238" stop-color="#2d768b"/><stop offset="0.262" stop-color="#3b987d"/><stop offset="0.289" stop-color="#64af64"/><stop offset="0.312" stop-color="#6bb264"/><stop offset="0.336" stop-color="#4fa56f"/><stop offset="0.363" stop-color="#2d8288"/><stop offset="0.405" stop-color="#404485"/><stop offset="0.451" stop-color="#48196c"/><stop offset="0.502" stop-color="#471063"/><stop offset="0.595" stop-color="#481568"/><stop offset="0.688" stop-color="#460b5e"/><stop offset="0.757" stop-color="#482273"/><stop offset="0.891" stop-color="#424186"/><stop offset="0.905" stop-color="#3c4f8a"/><stop offset="0.919" stop-color="#3c508b"/><stop offset="0.965" stop-color="#287d8e"/><stop offset="0.984" stop-color="#1f998a"/><stop offset="0.998" stop-color="#1e9c89"/></linearGradient><linearGradient id="c85" x1="0" y1="0" x2="0" y2="1"><stop offset="0.002" stop-color="#471063"/><stop offset="0.030" stop-color="#48196b"/><stop offset="0.035" stop-color="#482777"/><stop offset="0.039" stop-color="#414387"/><stop offset="0.044" stop-color="#3a538b"/><stop offset="0.062" stop-color="#3a548c"/><stop offset="0.076" stop-color="#365c8d"/><stop offset="0.090" stop-color="#443983"/><stop offset="0.104" stop-color="#481a6c"/><stop offset="0.141" stop-color="#481567"/><stop offset="0.192" stop-color="#46317d"/><stop offset="0.248" stop-color="#2d758c"/><stop offset="0.280" stop-color="#3a987e"/><stop offset="0.308" stop-color="#46a076"/><stop offset="0.345" stop-color="#2f8a86"/><stop offset="0.373" stop-color="#31678c"/><stop offset="0.428" stop-color="#472877"/><stop offset="0.488" stop-color="#471163"/><stop offset="0.498" stop-color="#470f62"/><stop offset="0.507" stop-color="#48186a"/><stop offset="0.697" stop-color="#470f62"/><stop offset="0.891" stop-color="#424186"/><stop offset="0.905" stop-color="#3c4f8b"/><stop offset="0.919" stop-color="#3c508b"/><stop offset="0.965" stop-color="#287d8e"/><stop offset="0.984" stop-color="#1f998a"/><stop offset="0.998" stop-color="#1e9c89"/></linearGradient><linearGradient id="c86" x1="0" y1="0" x2="0" y2="1"><stop offset="0.002" stop-color="#471164"/><stop offset="0.035" stop-color="#481a6c"/><stop offset="0.039" stop-color="#482374"/><stop offset="0.049" stop-color="#3b518a"/><stop offset="0.058" stop-color="#375a8c"/><stop offset="0.076" stop-color="#365d8d"/><stop offset="0.095" stop-color="#472d7b"/><stop offset="0.109" stop-color="#48186a"/><stop offset="0.155" stop-color="#481c6e"/><stop offset="0.201" stop-color="#3f4586"/><stop offset="0.243" stop-color="#2b8289"/><stop offset="0.262" stop-color="#409d7a"/><stop offset="0.289" stop-color="#6eb360"/><stop offset="0.312" stop-color="#75b65f"/><stop offset="0.336" stop-color="#58aa6a"/><stop offset="0.363" stop-color="#2d8788"/><stop offset="0.400" stop-color="#3b4f89"/><stop offset="0.442" stop-color="#482374"/><stop offset="0.498" stop-color="#471264"/><stop offset="0.507" stop-color="#48196b"/><stop offset="0.743" stop-color="#470f62"/><stop offset="0.850" stop-color="#482576"/><stop offset="0.896" stop-color="#443b83"/><stop offset="0.900" stop-color="#404688"/><stop offset="0.919" stop-color="#3f4788"/><stop offset="0.970" stop-color="#287d8e"/><stop offset="0.988" stop-color="#20938c"/><stop offset="0.998" stop-color="#1f958b"/></linearGradient><linearGradient id="c87" x1="0" y1="0" x2="0" y2="1"><stop offset="0.002" stop-color="#470e61"/><stop offset="0.044" stop-color="#48196b"/><stop offset="0.049" stop-color="#482273"/><stop offset="0.062" stop-color="#365c8d"/><stop offset="0.072" stop-color="#34618d"/><stop offset="0.086" stop-color="#3f4788"/><stop offset="0.100" stop-color="#481f70"/><stop offset="0.118" stop-color="#471164"/><stop offset="0.169" stop-color="#482071"/><stop offset="0.215" stop-color="#3a5289"/><stop offset="0.248" stop-color="#2c8388"/><stop offset="0.280" stop-color="#5aa969"/><stop offset="0.303" stop-color="#6eb15f"/><stop offset="0.326" stop-color="#5fab66"/><stop offset="0.359" stop-color="#2e8987"/><stop offset="0.382" stop-color="#32658b"/><stop offset="0.433" stop-color="#482676"/><stop offset="0.488" stop-color="#470f62"/><stop offset="0.544" stop-color="#460c5f"/><stop offset="0.553" stop-color="#481467"/><stop offset="0.826" stop-color="#470e60"/><stop offset="0.896" stop-color="#482575"/><stop offset="0.900" stop-color="#46317e"/><stop offset="0.914" stop-color="#472e7c"/><stop offset="0.965" stop-color="#34618d"/><stop offset="0.988" stop-color="#287e8e"/><stop offset="0.998" stop-color="#26828e"/></linearGradient><linearGradient id="c88" x1="0" y1="0" x2="0" y2="1"><stop offset="0.002" stop-color="#470e61"/><stop offset="0.049" stop-color="#481a6c"/><stop offset="0.058" stop-color="#482979"/><stop offset="0.072" stop-color="#34618d"/><stop offset="0.076" stop-color="#33628d"/><stop offset="0.090" stop-color="#443982"/><stop offset="0.104" stop-color="#48186a"/><stop offset="0.137" stop-color="#471265"/><stop offset="0.183" stop-color="#472b79"/><stop offset="0.238" stop-color="#2c768b"/><stop offset="0.257" stop-color="#359282"/><stop offset="0.289" stop-color="#69af60"/><stop offset="0.312" stop-color="#70b15c"/><stop offset="0.340" stop-color="#4ba174"/><stop offset="0.363" stop-color="#2c8289"/><stop offset="0.405" stop-color="#404485"/><stop offset="0.451" stop-color="#48196c"/><stop offset="0.535" stop-color="#460b5e"/><stop offset="0.544" stop-color="#460b5e"/><stop offset="0.553" stop-color="#481567"/><stop offset="0.725" stop-color="#470f61"/><stop offset="0.887" stop-color="#471163"/><stop offset="0.896" stop-color="#481568"/><stop offset="0.900" stop-color="#482072"/><stop offset="0.914" stop-color="#481a6c"/><stop offset="0.961" stop-color="#433e84"/><stop offset="0.993" stop-color="#33638d"/><stop offset="0.998" stop-color="#32668d"/></linearGradient><linearGradient id="c89" x1="0" y1="0" x2="0" y2="1"><stop offset="0.002" stop-color="#470e61"/><stop offset="0.044" stop-color="#48186a"/><stop offset="0.053" stop-color="#462d7b"/><stop offset="0.062" stop-color="#38588c"/><stop offset="0.072" stop-color="#33628d"/><stop offset="0.086" stop-color="#3f4788"/><stop offset="0.100" stop-color="#481f70"/><stop offset="0.118" stop-color="#471163"/><stop offset="0.169" stop-color="#482071"/><stop offset="0.215" stop-color="#3a5289"/><stop offset="0.248" stop-color="#2c8488"/><stop offset="0.280" stop-color="#5daa68"/><stop offset="0.303" stop-color="#72b25b"/><stop offset="0.326" stop-color="#62ac64"/><stop offset="0.359" stop-color="#2e8986"/><stop offset="0.382" stop-color="#33658c"/><stop offset="0.433" stop-color="#482675"/><stop offset="0.488" stop-color="#470f62"/><stop offset="0.572" stop-color="#471164"/><stop offset="0.715" stop-color="#48196b"/><stop offset="0.891" stop-color="#470d60"/><stop offset="0.900" stop-color="#481a6c"/><stop offset="0.914" stop-color="#471063"/><stop offset="0.965" stop-color="#482877"/><stop offset="0.998" stop-color="#404587"/></linearGradient><linearGradient id="c90" x1="0" y1="0" x2="0" y2="1"><stop offset="0.002" stop-color="#471365"/><stop offset="0.035" stop-color="#481a6c"/><stop offset="0.039" stop-color="#482172"/><stop offset="0.049" stop-color="#3d4c89"/><stop offset="0.053" stop-color="#375a8c"/><stop offset="0.076" stop-color="#355e8d"/><stop offset="0.095" stop-color="#472e7c"/><stop offset="0.109" stop-color="#48196b"/><stop offset="0.160" stop-color="#481e6f"/><stop offset="0.206" stop-color="#414185"/><stop offset="0.257" stop-color="#2a808a"/><stop offset="0.294" stop-color="#409d7a"/><stop offset="0.322" stop-color="#3d9b7c"/><stop offset="0.354" stop-color="#2a7e8b"/><stop offset="0.410" stop-color="#433a82"/><stop offset="0.461" stop-color="#48196b"/><stop offset="0.590" stop-color="#471164"/><stop offset="0.775" stop-color="#482172"/><stop offset="0.845" stop-color="#48186a"/><stop offset="0.854" stop-color="#471164"/><stop offset="0.896" stop-color="#48186a"/><stop offset="0.900" stop-color="#482374"/><stop offset="0.914" stop-color="#481b6c"/><stop offset="0.970" stop-color="#433b83"/><stop offset="0.998" stop-color="#3c508a"/></linearGradient><linearGradient id="c91" x1="0" y1="0" x2="0" y2="1"><stop offset="0.002" stop-color="#470e61"/><stop offset="0.030" stop-color="#48176a"/><stop offset="0.035" stop-color="#482374"/><stop offset="0.044" stop-color="#3b518b"/><stop offset="0.067" stop-color="#38588c"/><stop offset="0.076" stop-color="#375b8d"/><stop offset="0.090" stop-color="#453882"/><stop offset="0.104" stop-color="#48196b"/><stop offset="0.137" stop-color="#481366"/><stop offset="0.183" stop-color="#472c7a"/><stop offset="0.234" stop-color="#2e6f8c"/><stop offset="0.252" stop-color="#2f8c85"/><stop offset="0.285" stop-color="#66ae62"/><stop offset="0.308" stop-color="#74b258"/><stop offset="0.331" stop-color="#5daa68"/><stop offset="0.359" stop-color="#2e8a86"/><stop offset="0.377" stop-color="#2f6d8c"/><stop offset="0.428" stop-color="#472b79"/><stop offset="0.479" stop-color="#471164"/><stop offset="0.701" stop-color="#471264"/><stop offset="0.845" stop-color="#482777"/><stop offset="0.850" stop-color="#481467"/><stop offset="0.896" stop-color="#482273"/><stop offset="0.900" stop-color="#472d7b"/><stop offset="0.914" stop-color="#482878"/><stop offset="0.965" stop-color="#3b518b"/><stop offset="0.988" stop-color="#30698e"/><stop offset="0.998" stop-color="#2e6d8e"/></linearGradient><linearGradient id="c92" x1="0" y1="0" x2="0" y2="1"><stop offset="0.002" stop-color="#470e61"/><stop offset="0.030" stop-color="#48186a"/><stop offset="0.035" stop-color="#482777"/><stop offset="0.039" stop-color="#404487"/><stop offset="0.044" stop-color="#3b528b"/><stop offset="0.062" stop-color="#3a528b"/><stop offset="0.076" stop-color="#375a8c"/><stop offset="0.090" stop-color="#453882"/><stop offset="0.104" stop-color="#48186a"/><stop offset="0.137" stop-color="#471265"/><stop offset="0.183" stop-color="#472b79"/><stop offset="0.238" stop-color="#2c758c"/><stop offset="0.252" stop-color="#2f8b86"/><stop offset="0.285" stop-color="#64ac63"/><stop offset="0.308" stop-color="#72b15a"/><stop offset="0.331" stop-color="#5ba969"/><stop offset="0.359" stop-color="#2e8987"/><stop offset="0.382" stop-color="#33658c"/><stop offset="0.433" stop-color="#482676"/><stop offset="0.488" stop-color="#470f61"/><stop offset="0.743" stop-color="#471063"/><stop offset="0.845" stop-color="#46327f"/><stop offset="0.850" stop-color="#482273"/><stop offset="0.896" stop-color="#46337f"/><stop offset="0.900" stop-color="#433e85"/><stop offset="0.919" stop-color="#433e85"/><stop offset="0.970" stop-color="#2e6e8e"/><stop offset="0.988" stop-color="#26828e"/><stop offset="0.998" stop-color="#25848e"/></linearGradient><linearGradient id="c93" x1="0" y1="0" x2="0" y2="1"><stop offset="0.002" stop-color="#470e61"/><stop offset="0.035" stop-color="#48186a"/><stop offset="0.039" stop-color="#482474"/><stop offset="0.049" stop-color="#3b528b"/><stop offset="0.076" stop-color="#375a8c"/><stop offset="0.090" stop-color="#453882"/><stop offset="0.104" stop-color="#48186a"/><stop offset="0.137" stop-color="#471265"/><stop offset="0.183" stop-color="#472b79"/><stop offset="0.234" stop-color="#2f6e8c"/><stop offset="0.252" stop-color="#2f8b85"/><stop offset="0.285" stop-color="#65ad62"/><stop offset="0.308" stop-color="#73b25a"/><stop offset="0.331" stop-color="#5ba969"/><stop offset="0.359" stop-color="#2e8986"/><stop offset="0.382" stop-color="#32658c"/><stop offset="0.433" stop-color="#482676"/><stop offset="0.488" stop-color="#470f62"/><stop offset="0.688" stop-color="#471164"/><stop offset="0.845" stop-color="#463480"/><stop offset="0.873" stop-color="#453681"/><stop offset="0.896" stop-color="#424186"/><stop offset="0.900" stop-color="#3e4b89"/><stop offset="0.919" stop-color="#3e4b8a"/><stop offset="0.965" stop-color="#2a768e"/><stop offset="0.984" stop-color="#21908d"/><stop offset="0.998" stop-color="#20928c"/></linearGradient><linearGradient id="c94" x1="0" y1="0" x2="0" y2="1"><stop offset="0.002" stop-color="#470e61"/><stop offset="0.044" stop-color="#481a6c"/><stop offset="0.049" stop-color="#472575"/><stop offset="0.058" stop-color="#3b528a"/><stop offset="0.067" stop-color="#34618d"/><stop offset="0.081" stop-color="#3a548c"/><stop offset="0.100" stop-color="#481e70"/><stop offset="0.118" stop-color="#471163"/><stop offset="0.174" stop-color="#481f71"/><stop offset="0.225" stop-color="#395389"/><stop offset="0.262" stop-color="#2c8488"/><stop offset="0.299" stop-color="#459e77"/><stop offset="0.331" stop-color="#389580"/><stop offset="0.359" stop-color="#2c778b"/><stop offset="0.414" stop-color="#46317d"/><stop offset="0.465" stop-color="#471365"/><stop offset="0.572" stop-color="#470e60"/><stop offset="0.887" stop-color="#424086"/><stop offset="0.905" stop-color="#3c508b"/><stop offset="0.919" stop-color="#3c508b"/><stop offset="0.965" stop-color="#297b8e"/><stop offset="0.984" stop-color="#1f958c"/><stop offset="0.998" stop-color="#1f978b"/></linearGradient><linearGradient id="c95" x1="0" y1="0" x2="0" y2="1"><stop offset="0.002" stop-color="#470e61"/><stop offset="0.049" stop-color="#481a6c"/><stop offset="0.058" stop-color="#472a7a"/><stop offset="0.072" stop-color="#34618d"/><stop offset="0.076" stop-color="#33628d"/><stop offset="0.090" stop-color="#443982"/><stop offset="0.104" stop-color="#48186a"/><stop offset="0.137" stop-color="#471265"/><stop offset="0.183" stop-color="#472b7a"/><stop offset="0.234" stop-color="#2e6f8c"/><stop offset="0.252" stop-color="#318d85"/><stop offset="0.285" stop-color="#68ae60"/><stop offset="0.308" stop-color="#77b359"/><stop offset="0.331" stop-color="#5fab66"/><stop offset="0.359" stop-color="#2f8b86"/><stop offset="0.377" stop-color="#2f6d8c"/><stop offset="0.428" stop-color="#472a79"/><stop offset="0.479" stop-color="#471063"/><stop offset="0.576" stop-color="#471063"/><stop offset="0.882" stop-color="#423f85"/><stop offset="0.896" stop-color="#404688"/><stop offset="0.900" stop-color="#3c508b"/><stop offset="0.919" stop-color="#3c508b"/><stop offset="0.965" stop-color="#297b8e"/><stop offset="0.984" stop-color="#1f958b"/><stop offset="0.998" stop-color="#1f978b"/></linearGradient><linearGradient id="c96" x1="0" y1="0" x2="0" y2="1"><stop offset="0.002" stop-color="#470e61"/><stop offset="0.049" stop-color="#481d6e"/><stop offset="0.058" stop-color="#413f83"/><stop offset="0.067" stop-color="#34618d"/><stop offset="0.076" stop-color="#355f8d"/><stop offset="0.090" stop-color="#453882"/><stop offset="0.104" stop-color="#48186a"/><stop offset="0.137" stop-color="#471265"/><stop offset="0.183" stop-color="#472b79"/><stop offset="0.238" stop-color="#2c758c"/><stop offset="0.252" stop-color="#2f8b86"/><stop offset="0.285" stop-color="#65ad62"/><stop offset="0.308" stop-color="#74b259"/><stop offset="0.331" stop-color="#5ca969"/><stop offset="0.359" stop-color="#2e8987"/><stop offset="0.382" stop-color="#33658c"/><stop offset="0.433" stop-color="#472676"/><stop offset="0.488" stop-color="#470f61"/><stop offset="0.674" stop-color="#471264"/><stop offset="0.891" stop-color="#423f85"/><stop offset="0.905" stop-color="#3d4d8a"/><stop offset="0.919" stop-color="#3d4d8a"/><stop offset="0.970" stop-color="#277e8e"/><stop offset="0.988" stop-color="#20928c"/><stop offset="0.998" stop-color="#20948c"/></linearGradient><linearGradient id="c97" x1="0" y1="0" x2="0" y2="1"><stop offset="0.002" stop-color="#471063"/><stop offset="0.039" stop-color="#481c6e"/><stop offset="0.053" stop-color="#39568c"/><stop offset="0.076" stop-color="#365c8d"/><stop offset="0.090" stop-color="#443983"/><stop offset="0.104" stop-color="#48196b"/><stop offset="0.137" stop-color="#471366"/><stop offset="0.188" stop-color="#472c7a"/><stop offset="0.248" stop-color="#2d738c"/><stop offset="0.271" stop-color="#318f84"/><stop offset="0.303" stop-color="#469f77"/><stop offset="0.340" stop-color="#308d85"/><stop offset="0.363" stop-color="#2d728c"/><stop offset="0.424" stop-color="#472b79"/><stop offset="0.479" stop-color="#471164"/><stop offset="0.748" stop-color="#471164"/><stop offset="0.891" stop-color="#463480"/><stop offset="0.905" stop-color="#414387"/><stop offset="0.919" stop-color="#414387"/><stop offset="0.970" stop-color="#2c738e"/><stop offset="0.988" stop-color="#24878e"/><stop offset="0.998" stop-color="#23898d"/></linearGradient><linearGradient id="c98" x1="0" y1="0" x2="0" y2="1"><stop offset="0.002" stop-color="#470e61"/><stop offset="0.030" stop-color="#481668"/><stop offset="0.035" stop-color="#482072"/><stop offset="0.044" stop-color="#3c508b"/><stop offset="0.076" stop-color="#375a8c"/><stop offset="0.090" stop-color="#453882"/><stop offset="0.104" stop-color="#48186a"/><stop offset="0.137" stop-color="#471265"/><stop offset="0.183" stop-color="#472b79"/><stop offset="0.234" stop-color="#2f6e8c"/><stop offset="0.252" stop-color="#2f8b86"/><stop offset="0.285" stop-color="#64ad63"/><stop offset="0.308" stop-color="#72b25b"/><stop offset="0.331" stop-color="#5ba969"/><stop offset="0.359" stop-color="#2e8986"/><stop offset="0.382" stop-color="#33658c"/><stop offset="0.433" stop-color="#482675"/><stop offset="0.488" stop-color="#470f62"/><stop offset="0.817" stop-color="#471063"/><stop offset="0.896" stop-color="#482575"/><stop offset="0.900" stop-color="#46307d"/><stop offset="0.919" stop-color="#472e7c"/><stop offset="0.970" stop-color="#365b8c"/><stop offset="0.993" stop-color="#2d708e"/><stop offset="0.998" stop-color="#2c728e"/></linearGradient><linearGradient id="c99" x1="0" y1="0" x2="0" y2="1"><stop offset="0.002" stop-color="#470e61"/><stop offset="0.030" stop-color="#48186b"/><stop offset="0.035" stop-color="#482978"/><stop offset="0.039" stop-color="#404688"/><stop offset="0.044" stop-color="#3b528b"/><stop offset="0.062" stop-color="#3b528b"/><stop offset="0.076" stop-color="#375a8c"/><stop offset="0.090" stop-color="#453882"/><stop offset="0.104" stop-color="#48186a"/><stop offset="0.137" stop-color="#471265"/><stop offset="0.183" stop-color="#472b79"/><stop offset="0.234" stop-color="#2f6e8c"/><stop offset="0.252" stop-color="#2f8b86"/><stop offset="0.285" stop-color="#62ac64"/><stop offset="0.308" stop-color="#6fb25e"/><stop offset="0.331" stop-color="#59a96a"/><stop offset="0.359" stop-color="#2e8986"/><stop offset="0.382" stop-color="#32658b"/><stop offset="0.433" stop-color="#482676"/><stop offset="0.488" stop-color="#470f62"/><stop offset="0.877" stop-color="#471163"/><stop offset="0.896" stop-color="#481668"/><stop offset="0.900" stop-color="#482172"/><stop offset="0.914" stop-color="#481a6c"/><stop offset="0.970" stop-color="#433d84"/><stop offset="0.998" stop-color="#3a538b"/></linearGradient><linearGradient id="c100" x1="0" y1="0" x2="0" y2="1"><stop offset="0.002" stop-color="#471164"/><stop offset="0.035" stop-color="#481c6e"/><stop offset="0.039" stop-color="#472b79"/><stop offset="0.049" stop-color="#39568c"/><stop offset="0.076" stop-color="#365d8d"/><stop offset="0.095" stop-color="#472d7b"/><stop offset="0.109" stop-color="#48186a"/><stop offset="0.160" stop-color="#481f70"/><stop offset="0.206" stop-color="#3d4a87"/><stop offset="0.243" stop-color="#2c8189"/><stop offset="0.266" stop-color="#45a175"/><stop offset="0.289" stop-color="#68b264"/><stop offset="0.317" stop-color="#6bb464"/><stop offset="0.340" stop-color="#4ba472"/><stop offset="0.363" stop-color="#2d8688"/><stop offset="0.396" stop-color="#39558a"/><stop offset="0.442" stop-color="#482374"/><stop offset="0.512" stop-color="#471163"/><stop offset="0.896" stop-color="#471365"/><stop offset="0.900" stop-color="#481d6f"/><stop offset="0.914" stop-color="#471365"/><stop offset="0.975" stop-color="#472978"/><stop offset="0.998" stop-color="#453781"/></linearGradient><linearGradient id="c101" x1="0" y1="0" x2="0" y2="1"><stop offset="0.002" stop-color="#471063"/><stop offset="0.044" stop-color="#481e6f"/><stop offset="0.058" stop-color="#38578c"/><stop offset="0.067" stop-color="#34618d"/><stop offset="0.081" stop-color="#39568c"/><stop offset="0.100" stop-color="#482172"/><stop offset="0.118" stop-color="#481366"/><stop offset="0.174" stop-color="#482273"/><stop offset="0.229" stop-color="#37598a"/><stop offset="0.266" stop-color="#2e8588"/><stop offset="0.303" stop-color="#3c9a7c"/><stop offset="0.340" stop-color="#2f8987"/><stop offset="0.373" stop-color="#33638b"/><stop offset="0.428" stop-color="#482776"/><stop offset="0.488" stop-color="#471164"/><stop offset="0.896" stop-color="#471063"/><stop offset="0.900" stop-color="#481b6d"/><stop offset="0.914" stop-color="#471063"/><stop offset="0.965" stop-color="#482676"/><stop offset="0.998" stop-color="#414286"/></linearGradient><linearGradient id="c102" x1="0" y1="0" x2="0" y2="1"><stop offset="0.002" stop-color="#471164"/><stop offset="0.049" stop-color="#481d6e"/><stop offset="0.058" stop-color="#472f7c"/><stop offset="0.072" stop-color="#32648d"/><stop offset="0.081" stop-color="#375a8c"/><stop offset="0.100" stop-color="#482273"/><stop offset="0.123" stop-color="#481467"/><stop offset="0.174" stop-color="#472777"/><stop offset="0.220" stop-color="#355e8b"/><stop offset="0.243" stop-color="#2c8189"/><stop offset="0.266" stop-color="#44a175"/><stop offset="0.285" stop-color="#63b166"/><stop offset="0.308" stop-color="#6db664"/><stop offset="0.326" stop-color="#61b066"/><stop offset="0.359" stop-color="#318d85"/><stop offset="0.382" stop-color="#30698c"/><stop offset="0.433" stop-color="#472a79"/><stop offset="0.484" stop-color="#471365"/><stop offset="0.891" stop-color="#471365"/><stop offset="0.900" stop-color="#482172"/><stop offset="0.914" stop-color="#481a6c"/><stop offset="0.961" stop-color="#433c84"/><stop offset="0.993" stop-color="#34618d"/><stop offset="0.998" stop-color="#32658d"/></linearGradient><linearGradient id="c103" x1="0" y1="0" x2="0" y2="1"><stop offset="0.002" stop-color="#471063"/><stop offset="0.049" stop-color="#481d6f"/><stop offset="0.058" stop-color="#433a82"/><stop offset="0.067" stop-color="#34608d"/><stop offset="0.076" stop-color="#34618d"/><stop offset="0.090" stop-color="#443a83"/><stop offset="0.104" stop-color="#481a6c"/><stop offset="0.137" stop-color="#481467"/><stop offset="0.183" stop-color="#462d7b"/><stop offset="0.234" stop-color="#2e708c"/><stop offset="0.257" stop-color="#369381"/><stop offset="0.285" stop-color="#5eae67"/><stop offset="0.308" stop-color="#69b467"/><stop offset="0.326" stop-color="#5cad68"/><stop offset="0.359" stop-color="#318b85"/><stop offset="0.382" stop-color="#31678c"/><stop offset="0.433" stop-color="#472877"/><stop offset="0.484" stop-color="#471164"/><stop offset="0.850" stop-color="#471164"/><stop offset="0.896" stop-color="#482374"/><stop offset="0.900" stop-color="#472f7d"/><stop offset="0.919" stop-color="#462f7d"/><stop offset="0.970" stop-color="#32668e"/><stop offset="0.988" stop-color="#287c8e"/><stop offset="0.998" stop-color="#26818e"/></linearGradient><linearGradient id="c104" x1="0" y1="0" x2="0" y2="1"><stop offset="0.002" stop-color="#470e61"/><stop offset="0.039" stop-color="#48196b"/><stop offset="0.044" stop-color="#472575"/><stop offset="0.053" stop-color="#3b528b"/><stop offset="0.067" stop-color="#365c8d"/><stop offset="0.081" stop-color="#3a538b"/><stop offset="0.100" stop-color="#481e70"/><stop offset="0.118" stop-color="#471063"/><stop offset="0.174" stop-color="#481f70"/><stop offset="0.225" stop-color="#3a5189"/><stop offset="0.262" stop-color="#2d7f89"/><stop offset="0.299" stop-color="#3b997c"/><stop offset="0.336" stop-color="#328c85"/><stop offset="0.368" stop-color="#31678b"/><stop offset="0.428" stop-color="#482474"/><stop offset="0.488" stop-color="#470e61"/><stop offset="0.799" stop-color="#471063"/><stop offset="0.896" stop-color="#453681"/><stop offset="0.900" stop-color="#424186"/><stop offset="0.919" stop-color="#414387"/><stop offset="0.965" stop-color="#2c728e"/><stop offset="0.984" stop-color="#228e8d"/><stop offset="0.998" stop-color="#20928c"/></linearGradient><linearGradient id="c105" x1="0" y1="0" x2="0" y2="1"><stop offset="0.002" stop-color="#470e61"/><stop offset="0.030" stop-color="#481668"/><stop offset="0.035" stop-color="#481f71"/><stop offset="0.044" stop-color="#3c4e8a"/><stop offset="0.053" stop-color="#3a538b"/><stop offset="0.076" stop-color="#375b8d"/><stop offset="0.090" stop-color="#453882"/><stop offset="0.104" stop-color="#48196b"/><stop offset="0.137" stop-color="#481366"/><stop offset="0.183" stop-color="#472c7a"/><stop offset="0.234" stop-color="#2e6f8b"/><stop offset="0.257" stop-color="#369281"/><stop offset="0.285" stop-color="#5dad67"/><stop offset="0.308" stop-color="#69b367"/><stop offset="0.331" stop-color="#55a96a"/><stop offset="0.363" stop-color="#2e8388"/><stop offset="0.405" stop-color="#3f4586"/><stop offset="0.451" stop-color="#481b6d"/><stop offset="0.535" stop-color="#470d60"/><stop offset="0.743" stop-color="#471366"/><stop offset="0.896" stop-color="#414287"/><stop offset="0.900" stop-color="#3d4d8a"/><stop offset="0.919" stop-color="#3c4e8a"/><stop offset="0.965" stop-color="#287c8e"/><stop offset="0.984" stop-color="#1f988b"/><stop offset="0.998" stop-color="#1e9b8a"/></linearGradient><linearGradient id="c106" x1="0" y1="0" x2="0" y2="1"><stop offset="0.002" stop-color="#470e61"/><stop offset="0.030" stop-color="#481a6c"/><stop offset="0.035" stop-color="#472b7a"/><stop offset="0.039" stop-color="#3f4889"/><stop offset="0.044" stop-color="#3a528b"/><stop offset="0.062" stop-color="#3a538b"/><stop offset="0.076" stop-color="#375b8d"/><stop offset="0.090" stop-color="#453882"/><stop offset="0.104" stop-color="#48196b"/><stop offset="0.141" stop-color="#481567"/><stop offset="0.188" stop-color="#46317d"/><stop offset="0.238" stop-color="#2d778b"/><stop offset="0.262" stop-color="#3c997c"/><stop offset="0.289" stop-color="#65b066"/><stop offset="0.312" stop-color="#6bb366"/><stop offset="0.336" stop-color="#4fa66e"/><stop offset="0.363" stop-color="#2d8488"/><stop offset="0.405" stop-color="#3f4586"/><stop offset="0.451" stop-color="#481b6d"/><stop offset="0.535" stop-color="#470d60"/><stop offset="0.701" stop-color="#471164"/><stop offset="0.845" stop-color="#46337f"/><stop offset="0.896" stop-color="#404588"/><stop offset="0.905" stop-color="#3c508b"/><stop offset="0.919" stop-color="#3c508b"/><stop offset="0.965" stop-color="#277e8e"/><stop offset="0.984" stop-color="#1f998a"/><stop offset="0.998" stop-color="#1e9c89"/></linearGradient><linearGradient id="c107" x1="0" y1="0" x2="0" y2="1"><stop offset="0.002" stop-color="#471063"/><stop offset="0.035" stop-color="#481c6e"/><stop offset="0.044" stop-color="#3f4888"/><stop offset="0.049" stop-color="#39568c"/><stop offset="0.076" stop-color="#365b8d"/><stop offset="0.090" stop-color="#443983"/><stop offset="0.104" stop-color="#481a6c"/><stop offset="0.141" stop-color="#481467"/><stop offset="0.192" stop-color="#46307d"/><stop offset="0.248" stop-color="#2d738b"/><stop offset="0.289" stop-color="#3d9b7b"/><stop offset="0.322" stop-color="#3c9a7c"/><stop offset="0.359" stop-color="#2c788b"/><stop offset="0.414" stop-color="#45337e"/><stop offset="0.465" stop-color="#481567"/><stop offset="0.697" stop-color="#470d60"/><stop offset="0.882" stop-color="#443b84"/><stop offset="0.896" stop-color="#414387"/><stop offset="0.905" stop-color="#3c4e8a"/><stop offset="0.919" stop-color="#3c4f8a"/><stop offset="0.965" stop-color="#287d8e"/><stop offset="0.984" stop-color="#1f988b"/><stop offset="0.998" stop-color="#1e9b8a"/></linearGradient><linearGradient id="c108" x1="0" y1="0" x2="0" y2="1"><stop offset="0.002" stop-color="#470e61"/><stop offset="0.039" stop-color="#481769"/><stop offset="0.044" stop-color="#481e70"/><stop offset="0.058" stop-color="#38598c"/><stop offset="0.076" stop-color="#365c8d"/><stop offset="0.090" stop-color="#453882"/><stop offset="0.104" stop-color="#48186a"/><stop offset="0.141" stop-color="#481366"/><stop offset="0.188" stop-color="#46307c"/><stop offset="0.238" stop-color="#2d768b"/><stop offset="0.262" stop-color="#3b987d"/><stop offset="0.289" stop-color="#62af66"/><stop offset="0.312" stop-color="#68b267"/><stop offset="0.336" stop-color="#4da56f"/><stop offset="0.363" stop-color="#2e8288"/><stop offset="0.405" stop-color="#3f4485"/><stop offset="0.447" stop-color="#481c6e"/><stop offset="0.516" stop-color="#470c5f"/><stop offset="0.799" stop-color="#471063"/><stop offset="0.896" stop-color="#453681"/><stop offset="0.900" stop-color="#424186"/><stop offset="0.919" stop-color="#414387"/><stop offset="0.965" stop-color="#2c728e"/><stop offset="0.984" stop-color="#228e8d"/><stop offset="0.998" stop-color="#20928c"/></linearGradient><linearGradient id="c109" x1="0" y1="0" x2="0" y2="1"><stop offset="0.002" stop-color="#470e61"/><stop offset="0.049" stop-color="#481b6d"/><stop offset="0.058" stop-color="#462f7d"/><stop offset="0.067" stop-color="#38598c"/><stop offset="0.072" stop-color="#33628d"/><stop offset="0.081" stop-color="#38578c"/><stop offset="0.100" stop-color="#481f70"/><stop offset="0.118" stop-color="#471164"/><stop offset="0.169" stop-color="#482172"/><stop offset="0.215" stop-color="#395389"/><stop offset="0.248" stop-color="#2e8588"/><stop offset="0.280" stop-color="#56aa69"/><stop offset="0.303" stop-color="#6ab367"/><stop offset="0.322" stop-color="#61af67"/><stop offset="0.354" stop-color="#349082"/><stop offset="0.377" stop-color="#2f6d8c"/><stop offset="0.428" stop-color="#472a79"/><stop offset="0.479" stop-color="#471164"/><stop offset="0.836" stop-color="#470e61"/><stop offset="0.896" stop-color="#482373"/><stop offset="0.900" stop-color="#472e7c"/><stop offset="0.919" stop-color="#472e7c"/><stop offset="0.970" stop-color="#32658d"/><stop offset="0.988" stop-color="#297b8e"/><stop offset="0.998" stop-color="#27808e"/></linearGradient><linearGradient id="c110" x1="0" y1="0" x2="0" y2="1"><stop offset="0.002" stop-color="#471063"/><stop offset="0.049" stop-color="#481c6e"/><stop offset="0.058" stop-color="#45357f"/><stop offset="0.067" stop-color="#365d8c"/><stop offset="0.072" stop-color="#32648e"/><stop offset="0.081" stop-color="#38588c"/><stop offset="0.100" stop-color="#482072"/><stop offset="0.118" stop-color="#471365"/><stop offset="0.169" stop-color="#482273"/><stop offset="0.215" stop-color="#395489"/><stop offset="0.243" stop-color="#2d7f8a"/><stop offset="0.271" stop-color="#49a472"/><stop offset="0.294" stop-color="#68b267"/><stop offset="0.322" stop-color="#63b067"/><stop offset="0.350" stop-color="#3a987d"/><stop offset="0.373" stop-color="#2d768b"/><stop offset="0.424" stop-color="#46307d"/><stop offset="0.475" stop-color="#471365"/><stop offset="0.845" stop-color="#470d60"/><stop offset="0.896" stop-color="#481467"/><stop offset="0.900" stop-color="#482071"/><stop offset="0.914" stop-color="#48196b"/><stop offset="0.961" stop-color="#433b83"/><stop offset="0.993" stop-color="#34618d"/><stop offset="0.998" stop-color="#33648d"/></linearGradient><linearGradient id="c111" x1="0" y1="0" x2="0" y2="1"><stop offset="0.002" stop-color="#470e61"/><stop offset="0.039" stop-color="#48186a"/><stop offset="0.044" stop-color="#482172"/><stop offset="0.053" stop-color="#3c4d89"/><stop offset="0.058" stop-color="#375a8c"/><stop offset="0.076" stop-color="#365b8d"/><stop offset="0.090" stop-color="#453882"/><stop offset="0.104" stop-color="#481769"/><stop offset="0.137" stop-color="#471164"/><stop offset="0.188" stop-color="#472a78"/><stop offset="0.243" stop-color="#2f6c8c"/><stop offset="0.275" stop-color="#359281"/><stop offset="0.312" stop-color="#409e78"/><stop offset="0.350" stop-color="#2e8288"/><stop offset="0.400" stop-color="#414084"/><stop offset="0.451" stop-color="#481769"/><stop offset="0.549" stop-color="#460b5e"/><stop offset="0.896" stop-color="#470f61"/><stop offset="0.900" stop-color="#48196b"/><stop offset="0.914" stop-color="#470e61"/><stop offset="0.965" stop-color="#482474"/><stop offset="0.998" stop-color="#414185"/></linearGradient><linearGradient id="c112" x1="0" y1="0" x2="0" y2="1"><stop offset="0.002" stop-color="#470e61"/><stop offset="0.030" stop-color="#481567"/><stop offset="0.035" stop-color="#481c6e"/><stop offset="0.044" stop-color="#3e4a89"/><stop offset="0.049" stop-color="#39558c"/><stop offset="0.076" stop-color="#375a8c"/><stop offset="0.090" stop-color="#453882"/><stop offset="0.104" stop-color="#48186a"/><stop offset="0.137" stop-color="#471365"/><stop offset="0.183" stop-color="#472b79"/><stop offset="0.234" stop-color="#2f6e8b"/><stop offset="0.257" stop-color="#369181"/><stop offset="0.289" stop-color="#61af67"/><stop offset="0.312" stop-color="#67b168"/><stop offset="0.336" stop-color="#4ca570"/><stop offset="0.363" stop-color="#2e8288"/><stop offset="0.410" stop-color="#423e83"/><stop offset="0.451" stop-color="#48196c"/><stop offset="0.535" stop-color="#460b5e"/><stop offset="0.896" stop-color="#471063"/><stop offset="0.900" stop-color="#481b6d"/><stop offset="0.914" stop-color="#471164"/><stop offset="0.965" stop-color="#472b79"/><stop offset="0.998" stop-color="#404687"/></linearGradient><linearGradient id="c113" x1="0" y1="0" x2="0" y2="1"><stop offset="0.002" stop-color="#470e61"/><stop offset="0.030" stop-color="#48196b"/><stop offset="0.035" stop-color="#472a79"/><stop offset="0.039" stop-color="#3f4888"/><stop offset="0.044" stop-color="#3b528b"/><stop offset="0.062" stop-color="#3b528b"/><stop offset="0.076" stop-color="#375a8c"/><stop offset="0.090" stop-color="#453782"/><stop offset="0.104" stop-color="#48186a"/><stop offset="0.137" stop-color="#471365"/><stop offset="0.183" stop-color="#472b79"/><stop offset="0.234" stop-color="#2f6e8b"/><stop offset="0.257" stop-color="#369281"/><stop offset="0.289" stop-color="#61af67"/><stop offset="0.312" stop-color="#68b268"/><stop offset="0.336" stop-color="#4da56f"/><stop offset="0.363" stop-color="#2e8288"/><stop offset="0.410" stop-color="#423e83"/><stop offset="0.451" stop-color="#48196c"/><stop offset="0.535" stop-color="#460b5e"/><stop offset="0.873" stop-color="#471164"/><stop offset="0.896" stop-color="#481a6c"/><stop offset="0.900" stop-color="#482575"/><stop offset="0.914" stop-color="#481f70"/><stop offset="0.965" stop-color="#3f4788"/><stop offset="0.993" stop-color="#33648d"/><stop offset="0.998" stop-color="#31668e"/></linearGradient><linearGradient id="c114" x1="0" y1="0" x2="0" y2="1"><stop offset="0.002" stop-color="#471365"/><stop offset="0.030" stop-color="#48196b"/><stop offset="0.035" stop-color="#482071"/><stop offset="0.044" stop-color="#3c4e8a"/><stop offset="0.049" stop-color="#38588c"/><stop offset="0.076" stop-color="#355d8d"/><stop offset="0.090" stop-color="#443b84"/><stop offset="0.104" stop-color="#481d6e"/><stop offset="0.141" stop-color="#48196b"/><stop offset="0.188" stop-color="#453680"/><stop offset="0.238" stop-color="#2c7d8b"/><stop offset="0.262" stop-color="#3e9e79"/><stop offset="0.280" stop-color="#5fb066"/><stop offset="0.299" stop-color="#6fb764"/><stop offset="0.326" stop-color="#64b266"/><stop offset="0.359" stop-color="#329084"/><stop offset="0.382" stop-color="#2f6c8c"/><stop offset="0.433" stop-color="#472c7a"/><stop offset="0.488" stop-color="#481467"/><stop offset="0.817" stop-color="#481567"/><stop offset="0.896" stop-color="#472f7c"/><stop offset="0.900" stop-color="#443a83"/><stop offset="0.919" stop-color="#443a83"/><stop offset="0.970" stop-color="#2f6b8e"/><stop offset="0.988" stop-color="#27808e"/><stop offset="0.998" stop-color="#25838e"/></linearGradient><linearGradient id="c115" x1="0" y1="0" x2="0" y2="1"><stop offset="0.002" stop-color="#471365"/><stop offset="0.039" stop-color="#481d6f"/><stop offset="0.044" stop-color="#482676"/><stop offset="0.053" stop-color="#3b528a"/><stop offset="0.058" stop-color="#355e8d"/><stop offset="0.076" stop-color="#345f8d"/><stop offset="0.095" stop-color="#472f7d"/><stop offset="0.109" stop-color="#481a6c"/><stop offset="0.155" stop-color="#481e6f"/><stop offset="0.201" stop-color="#414185"/><stop offset="0.252" stop-color="#2c8389"/><stop offset="0.289" stop-color="#46a473"/><stop offset="0.317" stop-color="#48a672"/><stop offset="0.354" stop-color="#2d8788"/><stop offset="0.391" stop-color="#39558a"/><stop offset="0.442" stop-color="#482474"/><stop offset="0.512" stop-color="#471365"/><stop offset="0.762" stop-color="#48176a"/><stop offset="0.896" stop-color="#424086"/><stop offset="0.900" stop-color="#3e4a89"/><stop offset="0.919" stop-color="#3e4b89"/><stop offset="0.970" stop-color="#287d8e"/><stop offset="0.988" stop-color="#20918c"/><stop offset="0.998" stop-color="#20948c"/></linearGradient><linearGradient id="c116" x1="0" y1="0" x2="0" y2="1"><stop offset="0.002" stop-color="#471365"/><stop offset="0.049" stop-color="#481f70"/><stop offset="0.058" stop-color="#443781"/><stop offset="0.067" stop-color="#355f8d"/><stop offset="0.072" stop-color="#31678e"/><stop offset="0.081" stop-color="#375a8c"/><stop offset="0.100" stop-color="#482374"/><stop offset="0.118" stop-color="#481769"/><stop offset="0.169" stop-color="#482676"/><stop offset="0.215" stop-color="#37598a"/><stop offset="0.243" stop-color="#2d8389"/><stop offset="0.271" stop-color="#4da76e"/><stop offset="0.289" stop-color="#69b467"/><stop offset="0.322" stop-color="#68b467"/><stop offset="0.340" stop-color="#4ba670"/><stop offset="0.363" stop-color="#2e8887"/><stop offset="0.391" stop-color="#355d8b"/><stop offset="0.438" stop-color="#472878"/><stop offset="0.498" stop-color="#471365"/><stop offset="0.669" stop-color="#481567"/><stop offset="0.891" stop-color="#414387"/><stop offset="0.905" stop-color="#3b518b"/><stop offset="0.919" stop-color="#3b518b"/><stop offset="0.965" stop-color="#287c8e"/><stop offset="0.984" stop-color="#1f968b"/><stop offset="0.998" stop-color="#1f998a"/></linearGradient><linearGradient id="c117" x1="0" y1="0" x2="0" y2="1"><stop offset="0.002" stop-color="#470e61"/><stop offset="0.049" stop-color="#481a6c"/><stop offset="0.058" stop-color="#462f7c"/><stop offset="0.067" stop-color="#38588c"/><stop offset="0.072" stop-color="#33628d"/><stop offset="0.081" stop-color="#38578c"/><stop offset="0.100" stop-color="#481f70"/><stop offset="0.118" stop-color="#471164"/><stop offset="0.169" stop-color="#482071"/><stop offset="0.215" stop-color="#3a5289"/><stop offset="0.248" stop-color="#2e8488"/><stop offset="0.285" stop-color="#5cad67"/><stop offset="0.303" stop-color="#6ab367"/><stop offset="0.322" stop-color="#61af67"/><stop offset="0.359" stop-color="#308986"/><stop offset="0.382" stop-color="#32658b"/><stop offset="0.433" stop-color="#482676"/><stop offset="0.488" stop-color="#470e61"/><stop offset="0.641" stop-color="#470e61"/><stop offset="0.789" stop-color="#472a79"/><stop offset="0.891" stop-color="#424086"/><stop offset="0.905" stop-color="#3c4f8a"/><stop offset="0.919" stop-color="#3c4f8a"/><stop offset="0.965" stop-color="#297a8e"/><stop offset="0.984" stop-color="#1f948c"/><stop offset="0.998" stop-color="#1f978b"/></linearGradient><linearGradient id="c118" x1="0" y1="0" x2="0" y2="1"><stop offset="0.002" stop-color="#470e61"/><stop offset="0.039" stop-color="#481769"/><stop offset="0.044" stop-color="#481e70"/><stop offset="0.058" stop-color="#38598c"/><stop offset="0.076" stop-color="#365c8d"/><stop offset="0.090" stop-color="#453882"/><stop offset="0.104" stop-color="#48186a"/><stop offset="0.141" stop-color="#481366"/><stop offset="0.188" stop-color="#46307c"/><stop offset="0.238" stop-color="#2d758b"/><stop offset="0.262" stop-color="#3b977d"/><stop offset="0.289" stop-color="#61ae67"/><stop offset="0.312" stop-color="#67b168"/><stop offset="0.336" stop-color="#4da46f"/><stop offset="0.363" stop-color="#2e8288"/><stop offset="0.405" stop-color="#404485"/><stop offset="0.451" stop-color="#48196c"/><stop offset="0.535" stop-color="#460b5e"/><stop offset="0.720" stop-color="#471466"/><stop offset="0.891" stop-color="#433e85"/><stop offset="0.905" stop-color="#3d4c8a"/><stop offset="0.919" stop-color="#3d4c8a"/><stop offset="0.965" stop-color="#2a788e"/><stop offset="0.984" stop-color="#20928c"/><stop offset="0.998" stop-color="#1f958b"/></linearGradient><linearGradient id="c119" x1="0" y1="0" x2="0" y2="1"><stop offset="0.002" stop-color="#470e61"/><stop offset="0.035" stop-color="#481a6c"/><stop offset="0.044" stop-color="#3f4787"/><stop offset="0.049" stop-color="#39558c"/><stop offset="0.076" stop-color="#375a8c"/><stop offset="0.090" stop-color="#453782"/><stop offset="0.104" stop-color="#481769"/><stop offset="0.141" stop-color="#471265"/><stop offset="0.192" stop-color="#462e7b"/><stop offset="0.248" stop-color="#2e728b"/><stop offset="0.280" stop-color="#38947f"/><stop offset="0.312" stop-color="#429d78"/><stop offset="0.350" stop-color="#2d8289"/><stop offset="0.400" stop-color="#414084"/><stop offset="0.447" stop-color="#48196b"/><stop offset="0.530" stop-color="#460b5e"/><stop offset="0.785" stop-color="#471264"/><stop offset="0.896" stop-color="#453681"/><stop offset="0.900" stop-color="#424186"/><stop offset="0.919" stop-color="#414286"/><stop offset="0.970" stop-color="#2b748e"/><stop offset="0.988" stop-color="#23898d"/><stop offset="0.998" stop-color="#228b8d"/></linearGradient><linearGradient id="c120" x1="0" y1="0" x2="0" y2="1"><stop offset="0.002" stop-color="#470e61"/><stop offset="0.030" stop-color="#48196b"/><stop offset="0.035" stop-color="#472a79"/><stop offset="0.039" stop-color="#3f4788"/><stop offset="0.044" stop-color="#3b528b"/><stop offset="0.062" stop-color="#3b528b"/><stop offset="0.076" stop-color="#375a8c"/><stop offset="0.090" stop-color="#453882"/><stop offset="0.104" stop-color="#48186a"/><stop offset="0.141" stop-color="#471366"/><stop offset="0.188" stop-color="#46307c"/><stop offset="0.238" stop-color="#2d768b"/><stop offset="0.257" stop-color="#359181"/><stop offset="0.289" stop-color="#66ae63"/><stop offset="0.312" stop-color="#6cb162"/><stop offset="0.336" stop-color="#51a56f"/><stop offset="0.363" stop-color="#2d8289"/><stop offset="0.405" stop-color="#404485"/><stop offset="0.447" stop-color="#481c6e"/><stop offset="0.521" stop-color="#470c5f"/><stop offset="0.822" stop-color="#471163"/><stop offset="0.891" stop-color="#482071"/><stop offset="0.900" stop-color="#472f7d"/><stop offset="0.914" stop-color="#472b7a"/><stop offset="0.965" stop-color="#38598c"/><stop offset="0.988" stop-color="#2c738e"/><stop offset="0.998" stop-color="#2a778e"/></linearGradient><linearGradient id="c121" x1="0" y1="0" x2="0" y2="1"><stop offset="0.002" stop-color="#470e61"/><stop offset="0.030" stop-color="#481668"/><stop offset="0.035" stop-color="#481e70"/><stop offset="0.044" stop-color="#3c4e8a"/><stop offset="0.053" stop-color="#3a538b"/><stop offset="0.076" stop-color="#375a8c"/><stop offset="0.090" stop-color="#453882"/><stop offset="0.104" stop-color="#48186a"/><stop offset="0.137" stop-color="#471365"/><stop offset="0.183" stop-color="#472c7a"/><stop offset="0.234" stop-color="#2e6f8c"/><stop offset="0.252" stop-color="#308c85"/><stop offset="0.285" stop-color="#62ae64"/><stop offset="0.308" stop-color="#6fb360"/><stop offset="0.331" stop-color="#59aa69"/><stop offset="0.359" stop-color="#2f8a86"/><stop offset="0.382" stop-color="#32668c"/><stop offset="0.433" stop-color="#472776"/><stop offset="0.488" stop-color="#470f62"/><stop offset="0.780" stop-color="#471163"/><stop offset="0.845" stop-color="#481e6f"/><stop offset="0.850" stop-color="#470d60"/><stop offset="0.896" stop-color="#481568"/><stop offset="0.900" stop-color="#482071"/><stop offset="0.914" stop-color="#48196b"/><stop offset="0.965" stop-color="#433c83"/><stop offset="0.993" stop-color="#38578c"/><stop offset="0.998" stop-color="#375a8c"/></linearGradient><linearGradient id="c122" x1="0" y1="0" x2="0" y2="1"><stop offset="0.002" stop-color="#471164"/><stop offset="0.039" stop-color="#481c6e"/><stop offset="0.044" stop-color="#472877"/><stop offset="0.053" stop-color="#3a548b"/><stop offset="0.067" stop-color="#355f8d"/><stop offset="0.081" stop-color="#39568c"/><stop offset="0.100" stop-color="#482273"/><stop offset="0.118" stop-color="#481567"/><stop offset="0.169" stop-color="#482475"/><stop offset="0.215" stop-color="#38578a"/><stop offset="0.243" stop-color="#2c8289"/><stop offset="0.266" stop-color="#47a275"/><stop offset="0.289" stop-color="#6cb362"/><stop offset="0.312" stop-color="#72b562"/><stop offset="0.336" stop-color="#56a96b"/><stop offset="0.363" stop-color="#2d8788"/><stop offset="0.400" stop-color="#3b4e88"/><stop offset="0.447" stop-color="#482072"/><stop offset="0.516" stop-color="#471063"/><stop offset="0.738" stop-color="#481568"/><stop offset="0.845" stop-color="#482072"/><stop offset="0.850" stop-color="#470e61"/><stop offset="0.896" stop-color="#471365"/><stop offset="0.900" stop-color="#481d6f"/><stop offset="0.914" stop-color="#481366"/><stop offset="0.970" stop-color="#472d7b"/><stop offset="0.998" stop-color="#414387"/></linearGradient><linearGradient id="c123" x1="0" y1="0" x2="0" y2="1"><stop offset="0.002" stop-color="#470e61"/><stop offset="0.049" stop-color="#481c6e"/><stop offset="0.058" stop-color="#433981"/><stop offset="0.067" stop-color="#355f8d"/><stop offset="0.076" stop-color="#34608d"/><stop offset="0.090" stop-color="#453882"/><stop offset="0.104" stop-color="#48186a"/><stop offset="0.137" stop-color="#471164"/><stop offset="0.188" stop-color="#472878"/><stop offset="0.248" stop-color="#2f6d8c"/><stop offset="0.280" stop-color="#328e84"/><stop offset="0.312" stop-color="#3b967e"/><stop offset="0.350" stop-color="#2c7c8a"/><stop offset="0.405" stop-color="#433981"/><stop offset="0.456" stop-color="#481568"/><stop offset="0.590" stop-color="#460b5e"/><stop offset="0.789" stop-color="#481b6d"/><stop offset="0.845" stop-color="#481466"/><stop offset="0.859" stop-color="#470e61"/><stop offset="0.896" stop-color="#481668"/><stop offset="0.900" stop-color="#482172"/><stop offset="0.914" stop-color="#481a6c"/><stop offset="0.965" stop-color="#433d84"/><stop offset="0.998" stop-color="#365c8c"/></linearGradient><linearGradient id="c124" x1="0" y1="0" x2="0" y2="1"><stop offset="0.002" stop-color="#470e61"/><stop offset="0.049" stop-color="#481b6d"/><stop offset="0.058" stop-color="#472d7b"/><stop offset="0.072" stop-color="#33628d"/><stop offset="0.081" stop-color="#38588c"/><stop offset="0.100" stop-color="#482071"/><stop offset="0.118" stop-color="#471265"/><stop offset="0.169" stop-color="#482172"/><stop offset="0.215" stop-color="#395489"/><stop offset="0.248" stop-color="#2c8688"/><stop offset="0.280" stop-color="#60ac66"/><stop offset="0.303" stop-color="#75b359"/><stop offset="0.326" stop-color="#64ae62"/><stop offset="0.359" stop-color="#2f8b86"/><stop offset="0.377" stop-color="#2f6e8c"/><stop offset="0.428" stop-color="#472b7a"/><stop offset="0.479" stop-color="#471164"/><stop offset="0.618" stop-color="#471164"/><stop offset="0.743" stop-color="#48176a"/><stop offset="0.850" stop-color="#481567"/><stop offset="0.896" stop-color="#482676"/><stop offset="0.900" stop-color="#46327e"/><stop offset="0.914" stop-color="#472e7c"/><stop offset="0.965" stop-color="#365d8d"/><stop offset="0.988" stop-color="#2a788e"/><stop offset="0.998" stop-color="#287c8e"/></linearGradient><linearGradient id="c125" x1="0" y1="0" x2="0" y2="1"><stop offset="0.002" stop-color="#470e61"/><stop offset="0.044" stop-color="#481c6e"/><stop offset="0.058" stop-color="#39568b"/><stop offset="0.067" stop-color="#34608d"/><stop offset="0.081" stop-color="#3a548b"/><stop offset="0.100" stop-color="#481f70"/><stop offset="0.118" stop-color="#471164"/><stop offset="0.169" stop-color="#482071"/><stop offset="0.215" stop-color="#3a5389"/><stop offset="0.248" stop-color="#2c8588"/><stop offset="0.280" stop-color="#5aab68"/><stop offset="0.303" stop-color="#6fb35e"/><stop offset="0.326" stop-color="#60ad65"/><stop offset="0.359" stop-color="#2e8a86"/><stop offset="0.382" stop-color="#32658c"/><stop offset="0.433" stop-color="#482675"/><stop offset="0.488" stop-color="#470f62"/><stop offset="0.590" stop-color="#460b5e"/><stop offset="0.604" stop-color="#481467"/><stop offset="0.785" stop-color="#481467"/><stop offset="0.896" stop-color="#443982"/><stop offset="0.900" stop-color="#404487"/><stop offset="0.919" stop-color="#404587"/><stop offset="0.970" stop-color="#297a8e"/><stop offset="0.988" stop-color="#21908c"/><stop offset="0.998" stop-color="#20928c"/></linearGradient><linearGradient id="c126" x1="0" y1="0" x2="0" y2="1"><stop offset="0.002" stop-color="#470e61"/><stop offset="0.035" stop-color="#48196b"/><stop offset="0.039" stop-color="#472877"/><stop offset="0.049" stop-color="#3a548b"/><stop offset="0.076" stop-color="#375a8c"/><stop offset="0.090" stop-color="#453882"/><stop offset="0.104" stop-color="#481769"/><stop offset="0.141" stop-color="#471265"/><stop offset="0.192" stop-color="#462f7c"/><stop offset="0.248" stop-color="#2d748b"/><stop offset="0.285" stop-color="#3d9b7b"/><stop offset="0.312" stop-color="#44a076"/><stop offset="0.350" stop-color="#2d8488"/><stop offset="0.391" stop-color="#3c4d88"/><stop offset="0.438" stop-color="#481f70"/><stop offset="0.502" stop-color="#470d60"/><stop offset="0.590" stop-color="#460b5e"/><stop offset="0.600" stop-color="#481366"/><stop offset="0.725" stop-color="#48176a"/><stop offset="0.891" stop-color="#414286"/><stop offset="0.905" stop-color="#3c508b"/><stop offset="0.919" stop-color="#3b518b"/><stop offset="0.965" stop-color="#277f8e"/><stop offset="0.984" stop-color="#1f9b8a"/><stop offset="0.998" stop-color="#1f9e89"/></linearGradient><linearGradient id="c127" x1="0" y1="0" x2="0" y2="1"><stop offset="0.002" stop-color="#470e61"/><stop offset="0.030" stop-color="#48186b"/><stop offset="0.035" stop-color="#482978"/><stop offset="0.039" stop-color="#404688"/><stop offset="0.044" stop-color="#3b528b"/><stop offset="0.062" stop-color="#3b528b"/><stop offset="0.076" stop-color="#375a8c"/><stop offset="0.090" stop-color="#453782"/><stop offset="0.104" stop-color="#48186a"/><stop offset="0.141" stop-color="#481366"/><stop offset="0.188" stop-color="#46307c"/><stop offset="0.238" stop-color="#2d758b"/><stop offset="0.262" stop-color="#3b977d"/><stop offset="0.289" stop-color="#61af67"/><stop offset="0.312" stop-color="#68b168"/><stop offset="0.336" stop-color="#4da56f"/><stop offset="0.363" stop-color="#2e8288"/><stop offset="0.405" stop-color="#404485"/><stop offset="0.447" stop-color="#481c6e"/><stop offset="0.516" stop-color="#470c5f"/><stop offset="0.618" stop-color="#471164"/><stop offset="0.882" stop-color="#424186"/><stop offset="0.896" stop-color="#3f4989"/><stop offset="0.900" stop-color="#3a538b"/><stop offset="0.919" stop-color="#3a548c"/><stop offset="0.965" stop-color="#26828e"/><stop offset="0.984" stop-color="#1f9e89"/><stop offset="0.998" stop-color="#1fa088"/></linearGradient><linearGradient id="c128" x1="0" y1="0" x2="0" y2="1"><stop offset="0.002" stop-color="#470e61"/><stop offset="0.030" stop-color="#481668"/><stop offset="0.035" stop-color="#482072"/><stop offset="0.044" stop-color="#3c508b"/><stop offset="0.076" stop-color="#375a8c"/><stop offset="0.090" stop-color="#453882"/><stop offset="0.104" stop-color="#48186a"/><stop offset="0.141" stop-color="#481366"/><stop offset="0.188" stop-color="#462f7c"/><stop offset="0.238" stop-color="#2d758b"/><stop offset="0.262" stop-color="#3b987d"/><stop offset="0.289" stop-color="#62af66"/><stop offset="0.312" stop-color="#68b267"/><stop offset="0.336" stop-color="#4da56f"/><stop offset="0.363" stop-color="#2e8288"/><stop offset="0.405" stop-color="#404485"/><stop offset="0.447" stop-color="#481c6e"/><stop offset="0.516" stop-color="#470c5f"/><stop offset="0.637" stop-color="#471164"/><stop offset="0.887" stop-color="#414387"/><stop offset="0.896" stop-color="#3f4889"/><stop offset="0.900" stop-color="#3a538b"/><stop offset="0.919" stop-color="#3a548b"/><stop offset="0.965" stop-color="#26818e"/><stop offset="0.984" stop-color="#1f9d89"/><stop offset="0.998" stop-color="#1fa088"/></linearGradient><linearGradient id="c129" x1="0" y1="0" x2="0" y2="1"><stop offset="0.002" stop-color="#471063"/><stop offset="0.039" stop-color="#481d6e"/><stop offset="0.053" stop-color="#39568c"/><stop offset="0.076" stop-color="#365c8d"/><stop offset="0.090" stop-color="#443983"/><stop offset="0.104" stop-color="#481a6c"/><stop offset="0.141" stop-color="#481467"/><stop offset="0.192" stop-color="#462f7c"/><stop offset="0.248" stop-color="#2e6f8c"/><stop offset="0.289" stop-color="#38967f"/><stop offset="0.326" stop-color="#359381"/><stop offset="0.363" stop-color="#2f6e8c"/><stop offset="0.424" stop-color="#472a79"/><stop offset="0.479" stop-color="#471164"/><stop offset="0.720" stop-color="#471264"/><stop offset="0.891" stop-color="#423f85"/><stop offset="0.905" stop-color="#3c4e8a"/><stop offset="0.919" stop-color="#3c4f8a"/><stop offset="0.965" stop-color="#287d8e"/><stop offset="0.984" stop-color="#1f988a"/><stop offset="0.998" stop-color="#1f9b89"/></linearGradient><linearGradient id="c130" x1="0" y1="0" x2="0" y2="1"><stop offset="0.002" stop-color="#471063"/><stop offset="0.049" stop-color="#481f70"/><stop offset="0.058" stop-color="#414184"/><stop offset="0.067" stop-color="#33638d"/><stop offset="0.076" stop-color="#34608d"/><stop offset="0.090" stop-color="#443a83"/><stop offset="0.104" stop-color="#481a6c"/><stop offset="0.141" stop-color="#481669"/><stop offset="0.188" stop-color="#45337e"/><stop offset="0.238" stop-color="#2c798b"/><stop offset="0.262" stop-color="#3c9b7b"/><stop offset="0.285" stop-color="#61b066"/><stop offset="0.308" stop-color="#6cb565"/><stop offset="0.326" stop-color="#5faf67"/><stop offset="0.359" stop-color="#318d85"/><stop offset="0.382" stop-color="#31688c"/><stop offset="0.433" stop-color="#472978"/><stop offset="0.488" stop-color="#471164"/><stop offset="0.799" stop-color="#471366"/><stop offset="0.896" stop-color="#46337f"/><stop offset="0.900" stop-color="#423e85"/><stop offset="0.919" stop-color="#423f85"/><stop offset="0.970" stop-color="#2c738e"/><stop offset="0.988" stop-color="#23898d"/><stop offset="0.998" stop-color="#228c8d"/></linearGradient><linearGradient id="c131" x1="0" y1="0" x2="0" y2="1"><stop offset="0.002" stop-color="#471164"/><stop offset="0.049" stop-color="#481d6f"/><stop offset="0.058" stop-color="#472e7c"/><stop offset="0.072" stop-color="#32648e"/><stop offset="0.076" stop-color="#32658e"/><stop offset="0.090" stop-color="#433c84"/><stop offset="0.104" stop-color="#481c6e"/><stop offset="0.137" stop-color="#481769"/><stop offset="0.188" stop-color="#453580"/><stop offset="0.238" stop-color="#2c7c8b"/><stop offset="0.262" stop-color="#3e9d7a"/><stop offset="0.285" stop-color="#64b267"/><stop offset="0.312" stop-color="#6db665"/><stop offset="0.331" stop-color="#5bae67"/><stop offset="0.359" stop-color="#328f84"/><stop offset="0.382" stop-color="#306b8c"/><stop offset="0.433" stop-color="#472b7a"/><stop offset="0.484" stop-color="#481467"/><stop offset="0.854" stop-color="#481467"/><stop offset="0.896" stop-color="#482172"/><stop offset="0.900" stop-color="#472c7b"/><stop offset="0.919" stop-color="#472b79"/><stop offset="0.965" stop-color="#3a538b"/><stop offset="0.988" stop-color="#2e6d8e"/><stop offset="0.998" stop-color="#2c728e"/></linearGradient><linearGradient id="c132" x1="0" y1="0" x2="0" y2="1"><stop offset="0.002" stop-color="#470e61"/><stop offset="0.044" stop-color="#481a6c"/><stop offset="0.049" stop-color="#472575"/><stop offset="0.058" stop-color="#3b528a"/><stop offset="0.067" stop-color="#34618d"/><stop offset="0.081" stop-color="#3a548c"/><stop offset="0.100" stop-color="#481e70"/><stop offset="0.118" stop-color="#471063"/><stop offset="0.174" stop-color="#481f70"/><stop offset="0.225" stop-color="#395389"/><stop offset="0.262" stop-color="#2f8388"/><stop offset="0.299" stop-color="#419d78"/><stop offset="0.331" stop-color="#379480"/><stop offset="0.363" stop-color="#2e708b"/><stop offset="0.419" stop-color="#462d7a"/><stop offset="0.470" stop-color="#471164"/><stop offset="0.826" stop-color="#460b5e"/><stop offset="0.896" stop-color="#471265"/><stop offset="0.900" stop-color="#481d6e"/><stop offset="0.914" stop-color="#481467"/><stop offset="0.965" stop-color="#46317e"/><stop offset="0.998" stop-color="#3c4e8a"/></linearGradient><linearGradient id="c133" x1="0" y1="0" x2="0" y2="1"><stop offset="0.002" stop-color="#470e61"/><stop offset="0.035" stop-color="#48186a"/><stop offset="0.039" stop-color="#482474"/><stop offset="0.049" stop-color="#3b528b"/><stop offset="0.076" stop-color="#375a8c"/><stop offset="0.090" stop-color="#453882"/><stop offset="0.104" stop-color="#48186a"/><stop offset="0.137" stop-color="#471365"/><stop offset="0.183" stop-color="#472b79"/><stop offset="0.234" stop-color="#2f6f8b"/><stop offset="0.257" stop-color="#359281"/><stop offset="0.289" stop-color="#62af67"/><stop offset="0.312" stop-color="#68b267"/><stop offset="0.336" stop-color="#4da56f"/><stop offset="0.363" stop-color="#2e8288"/><stop offset="0.410" stop-color="#423e83"/><stop offset="0.456" stop-color="#48176a"/><stop offset="0.549" stop-color="#460b5e"/><stop offset="0.896" stop-color="#471164"/><stop offset="0.900" stop-color="#481c6d"/><stop offset="0.914" stop-color="#471265"/><stop offset="0.965" stop-color="#472c7a"/><stop offset="0.998" stop-color="#3f4888"/></linearGradient><linearGradient id="c134" x1="0" y1="0" x2="0" y2="1"><stop offset="0.002" stop-color="#470e61"/><stop offset="0.030" stop-color="#48186a"/><stop offset="0.035" stop-color="#482777"/><stop offset="0.039" stop-color="#404487"/><stop offset="0.044" stop-color="#3b528b"/><stop offset="0.062" stop-color="#3a528b"/><stop offset="0.076" stop-color="#375a8c"/><stop offset="0.090" stop-color="#453782"/><stop offset="0.104" stop-color="#48186a"/><stop offset="0.137" stop-color="#471365"/><stop offset="0.183" stop-color="#472b79"/><stop offset="0.234" stop-color="#2f6f8b"/><stop offset="0.257" stop-color="#359281"/><stop offset="0.289" stop-color="#61af67"/><stop offset="0.312" stop-color="#68b268"/><stop offset="0.336" stop-color="#4ca56f"/><stop offset="0.363" stop-color="#2e8288"/><stop offset="0.410" stop-color="#423e83"/><stop offset="0.456" stop-color="#48176a"/><stop offset="0.553" stop-color="#460b5e"/><stop offset="0.868" stop-color="#471164"/><stop offset="0.896" stop-color="#481b6d"/><stop offset="0.900" stop-color="#482676"/><stop offset="0.919" stop-color="#482374"/><stop offset="0.965" stop-color="#3e4a89"/><stop offset="0.988" stop-color="#32648d"/><stop offset="0.998" stop-color="#30698e"/></linearGradient><linearGradient id="c135" x1="0" y1="0" x2="0" y2="1"><stop offset="0.002" stop-color="#470e61"/><stop offset="0.030" stop-color="#481669"/><stop offset="0.035" stop-color="#482374"/><stop offset="0.044" stop-color="#3b518b"/><stop offset="0.067" stop-color="#38588c"/><stop offset="0.076" stop-color="#375a8c"/><stop offset="0.090" stop-color="#453782"/><stop offset="0.104" stop-color="#481769"/><stop offset="0.141" stop-color="#471164"/><stop offset="0.192" stop-color="#472b79"/><stop offset="0.248" stop-color="#306c8b"/><stop offset="0.289" stop-color="#369281"/><stop offset="0.326" stop-color="#348f83"/><stop offset="0.363" stop-color="#306a8b"/><stop offset="0.424" stop-color="#472676"/><stop offset="0.484" stop-color="#470e61"/><stop offset="0.808" stop-color="#471063"/><stop offset="0.896" stop-color="#472d7b"/><stop offset="0.900" stop-color="#443882"/><stop offset="0.919" stop-color="#443882"/><stop offset="0.970" stop-color="#2f6c8e"/><stop offset="0.988" stop-color="#26818e"/><stop offset="0.998" stop-color="#25848e"/></linearGradient><linearGradient id="c136" x1="0" y1="0" x2="0" y2="1"><stop offset="0.002" stop-color="#470e61"/><stop offset="0.035" stop-color="#481668"/><stop offset="0.039" stop-color="#481d6e"/><stop offset="0.049" stop-color="#3e4887"/><stop offset="0.053" stop-color="#38578c"/><stop offset="0.076" stop-color="#375b8d"/><stop offset="0.090" stop-color="#453882"/><stop offset="0.104" stop-color="#48186a"/><stop offset="0.141" stop-color="#481366"/><stop offset="0.188" stop-color="#46307c"/><stop offset="0.238" stop-color="#2d758b"/><stop offset="0.262" stop-color="#3b977d"/><stop offset="0.289" stop-color="#62af67"/><stop offset="0.312" stop-color="#68b268"/><stop offset="0.336" stop-color="#4da56f"/><stop offset="0.363" stop-color="#2e8288"/><stop offset="0.405" stop-color="#404485"/><stop offset="0.451" stop-color="#48196c"/><stop offset="0.535" stop-color="#460b5e"/><stop offset="0.752" stop-color="#471264"/><stop offset="0.891" stop-color="#443a83"/><stop offset="0.905" stop-color="#3f4989"/><stop offset="0.919" stop-color="#3e4989"/><stop offset="0.965" stop-color="#2a778e"/><stop offset="0.984" stop-color="#20928c"/><stop offset="0.998" stop-color="#1f958b"/></linearGradient><linearGradient id="c137" x1="0" y1="0" x2="0" y2="1"><stop offset="0.002" stop-color="#470e61"/><stop offset="0.044" stop-color="#48196b"/><stop offset="0.053" stop-color="#462f7b"/><stop offset="0.062" stop-color="#37598c"/><stop offset="0.072" stop-color="#33638d"/><stop offset="0.086" stop-color="#3f4889"/><stop offset="0.100" stop-color="#482071"/><stop offset="0.118" stop-color="#471365"/><stop offset="0.169" stop-color="#482172"/><stop offset="0.215" stop-color="#395489"/><stop offset="0.248" stop-color="#2e8687"/><stop offset="0.285" stop-color="#5fae66"/><stop offset="0.308" stop-color="#6bb466"/><stop offset="0.331" stop-color="#57ab69"/><stop offset="0.359" stop-color="#318b85"/><stop offset="0.382" stop-color="#31678b"/><stop offset="0.433" stop-color="#472777"/><stop offset="0.488" stop-color="#471063"/><stop offset="0.664" stop-color="#471265"/><stop offset="0.891" stop-color="#414387"/><stop offset="0.905" stop-color="#3b518b"/><stop offset="0.919" stop-color="#3b518b"/><stop offset="0.965" stop-color="#277e8e"/><stop offset="0.984" stop-color="#1f998a"/><stop offset="0.998" stop-color="#1e9b8a"/></linearGradient><linearGradient id="c138" x1="0" y1="0" x2="0" y2="1"><stop offset="0.002" stop-color="#471365"/><stop offset="0.049" stop-color="#481f70"/><stop offset="0.058" stop-color="#472e7c"/><stop offset="0.072" stop-color="#32658e"/><stop offset="0.076" stop-color="#31668e"/><stop offset="0.095" stop-color="#472f7d"/><stop offset="0.109" stop-color="#48196b"/><stop offset="0.155" stop-color="#481f71"/><stop offset="0.197" stop-color="#414185"/><stop offset="0.243" stop-color="#2d8489"/><stop offset="0.266" stop-color="#47a473"/><stop offset="0.285" stop-color="#67b366"/><stop offset="0.312" stop-color="#6fb763"/><stop offset="0.331" stop-color="#5eaf66"/><stop offset="0.359" stop-color="#329084"/><stop offset="0.382" stop-color="#2f6c8c"/><stop offset="0.433" stop-color="#472d7b"/><stop offset="0.484" stop-color="#481568"/><stop offset="0.632" stop-color="#471063"/><stop offset="0.715" stop-color="#482676"/><stop offset="0.882" stop-color="#414287"/><stop offset="0.896" stop-color="#3e4a89"/><stop offset="0.900" stop-color="#3a548c"/><stop offset="0.919" stop-color="#39558c"/><stop offset="0.965" stop-color="#26818e"/><stop offset="0.984" stop-color="#1e9d89"/><stop offset="0.998" stop-color="#1f9f88"/></linearGradient><linearGradient id="c139" x1="0" y1="0" x2="0" y2="1"><stop offset="0.002" stop-color="#471365"/><stop offset="0.044" stop-color="#481e70"/><stop offset="0.049" stop-color="#482776"/><stop offset="0.062" stop-color="#34608d"/><stop offset="0.076" stop-color="#34618d"/><stop offset="0.095" stop-color="#472e7c"/><stop offset="0.109" stop-color="#481a6c"/><stop offset="0.155" stop-color="#481f71"/><stop offset="0.197" stop-color="#414285"/><stop offset="0.243" stop-color="#2c8589"/><stop offset="0.266" stop-color="#47a573"/><stop offset="0.285" stop-color="#68b466"/><stop offset="0.312" stop-color="#6fb863"/><stop offset="0.331" stop-color="#5eb066"/><stop offset="0.359" stop-color="#329183"/><stop offset="0.382" stop-color="#2f6d8c"/><stop offset="0.433" stop-color="#472d7b"/><stop offset="0.484" stop-color="#481568"/><stop offset="0.701" stop-color="#481669"/><stop offset="0.891" stop-color="#414487"/><stop offset="0.905" stop-color="#3b528b"/><stop offset="0.919" stop-color="#3b528b"/><stop offset="0.965" stop-color="#277f8e"/><stop offset="0.984" stop-color="#1f9a8a"/><stop offset="0.998" stop-color="#1f9d89"/></linearGradient><linearGradient id="c140" x1="0" y1="0" x2="0" y2="1"><stop offset="0.002" stop-color="#471063"/><stop offset="0.035" stop-color="#48196b"/><stop offset="0.039" stop-color="#482373"/><stop offset="0.049" stop-color="#3b508a"/><stop offset="0.058" stop-color="#37598c"/><stop offset="0.076" stop-color="#365c8d"/><stop offset="0.090" stop-color="#443a83"/><stop offset="0.104" stop-color="#481b6d"/><stop offset="0.141" stop-color="#481568"/><stop offset="0.192" stop-color="#45327e"/><stop offset="0.248" stop-color="#2c778b"/><stop offset="0.289" stop-color="#409f78"/><stop offset="0.317" stop-color="#42a077"/><stop offset="0.354" stop-color="#2c8189"/><stop offset="0.405" stop-color="#413f84"/><stop offset="0.451" stop-color="#481b6d"/><stop offset="0.549" stop-color="#470e61"/><stop offset="0.785" stop-color="#481568"/><stop offset="0.896" stop-color="#443a83"/><stop offset="0.900" stop-color="#404588"/><stop offset="0.919" stop-color="#404688"/><stop offset="0.970" stop-color="#29798e"/><stop offset="0.988" stop-color="#218e8d"/><stop offset="0.998" stop-color="#20918c"/></linearGradient><linearGradient id="c141" x1="0" y1="0" x2="0" y2="1"><stop offset="0.002" stop-color="#470e61"/><stop offset="0.030" stop-color="#48176a"/><stop offset="0.035" stop-color="#482575"/><stop offset="0.039" stop-color="#414286"/><stop offset="0.044" stop-color="#3b528b"/><stop offset="0.062" stop-color="#3a538b"/><stop offset="0.076" stop-color="#375a8c"/><stop offset="0.090" stop-color="#453782"/><stop offset="0.104" stop-color="#48186a"/><stop offset="0.137" stop-color="#471365"/><stop offset="0.183" stop-color="#472b79"/><stop offset="0.234" stop-color="#2f6f8b"/><stop offset="0.257" stop-color="#369281"/><stop offset="0.289" stop-color="#62af67"/><stop offset="0.312" stop-color="#68b267"/><stop offset="0.336" stop-color="#4da56f"/><stop offset="0.363" stop-color="#2e8288"/><stop offset="0.410" stop-color="#423e83"/><stop offset="0.451" stop-color="#481a6c"/><stop offset="0.535" stop-color="#460b5e"/><stop offset="0.836" stop-color="#471164"/><stop offset="0.896" stop-color="#482576"/><stop offset="0.900" stop-color="#46307d"/><stop offset="0.914" stop-color="#472d7b"/><stop offset="0.965" stop-color="#365c8c"/><stop offset="0.988" stop-color="#2a778e"/><stop offset="0.998" stop-color="#297b8e"/></linearGradient><linearGradient id="c142" x1="0" y1="0" x2="0" y2="1"><stop offset="0.002" stop-color="#471063"/><stop offset="0.030" stop-color="#48196b"/><stop offset="0.035" stop-color="#482676"/><stop offset="0.039" stop-color="#414286"/><stop offset="0.044" stop-color="#3a538b"/><stop offset="0.062" stop-color="#3a548c"/><stop offset="0.076" stop-color="#365c8d"/><stop offset="0.090" stop-color="#443983"/><stop offset="0.104" stop-color="#481a6c"/><stop offset="0.137" stop-color="#481568"/><stop offset="0.183" stop-color="#462e7b"/><stop offset="0.234" stop-color="#2e718c"/><stop offset="0.257" stop-color="#379480"/><stop offset="0.285" stop-color="#60af67"/><stop offset="0.308" stop-color="#6bb466"/><stop offset="0.326" stop-color="#5fae67"/><stop offset="0.359" stop-color="#318c85"/><stop offset="0.382" stop-color="#31688c"/><stop offset="0.433" stop-color="#472978"/><stop offset="0.488" stop-color="#471164"/><stop offset="0.887" stop-color="#471366"/><stop offset="0.896" stop-color="#48186a"/><stop offset="0.900" stop-color="#482273"/><stop offset="0.914" stop-color="#481b6d"/><stop offset="0.965" stop-color="#423f85"/><stop offset="0.993" stop-color="#375b8c"/><stop offset="0.998" stop-color="#355e8d"/></linearGradient><linearGradient id="c143" x1="0" y1="0" x2="0" y2="1"><stop offset="0.002" stop-color="#471063"/><stop offset="0.035" stop-color="#48186a"/><stop offset="0.039" stop-color="#482172"/><stop offset="0.049" stop-color="#3c4e8a"/><stop offset="0.053" stop-color="#38598c"/><stop offset="0.076" stop-color="#365c8d"/><stop offset="0.090" stop-color="#443983"/><stop offset="0.104" stop-color="#48196b"/><stop offset="0.141" stop-color="#481467"/><stop offset="0.192" stop-color="#46317d"/><stop offset="0.248" stop-color="#2d758b"/><stop offset="0.289" stop-color="#409e78"/><stop offset="0.317" stop-color="#439f76"/><stop offset="0.354" stop-color="#2d8089"/><stop offset="0.405" stop-color="#423e83"/><stop offset="0.451" stop-color="#481a6c"/><stop offset="0.549" stop-color="#470d60"/><stop offset="0.896" stop-color="#471264"/><stop offset="0.900" stop-color="#481c6e"/><stop offset="0.914" stop-color="#471265"/><stop offset="0.970" stop-color="#472c7b"/><stop offset="0.998" stop-color="#424186"/></linearGradient><linearGradient id="c144" x1="0" y1="0" x2="0" y2="1"><stop offset="0.002" stop-color="#470e61"/><stop offset="0.044" stop-color="#48196b"/><stop offset="0.049" stop-color="#482172"/><stop offset="0.062" stop-color="#365c8c"/><stop offset="0.072" stop-color="#34618d"/><stop offset="0.086" stop-color="#3f4788"/><stop offset="0.100" stop-color="#481f70"/><stop offset="0.118" stop-color="#471164"/><stop offset="0.169" stop-color="#482071"/><stop offset="0.215" stop-color="#3a5289"/><stop offset="0.248" stop-color="#2e8488"/><stop offset="0.280" stop-color="#56aa6a"/><stop offset="0.303" stop-color="#69b367"/><stop offset="0.322" stop-color="#60af67"/><stop offset="0.359" stop-color="#318986"/><stop offset="0.382" stop-color="#32658b"/><stop offset="0.433" stop-color="#482676"/><stop offset="0.488" stop-color="#470e61"/><stop offset="0.877" stop-color="#471063"/><stop offset="0.896" stop-color="#481668"/><stop offset="0.900" stop-color="#482172"/><stop offset="0.914" stop-color="#48196c"/><stop offset="0.965" stop-color="#443a83"/><stop offset="0.998" stop-color="#39568c"/></linearGradient><linearGradient id="c145" x1="0" y1="0" x2="0" y2="1"><stop offset="0.002" stop-color="#471164"/><stop offset="0.049" stop-color="#481d6f"/><stop offset="0.058" stop-color="#472d7b"/><stop offset="0.072" stop-color="#32658e"/><stop offset="0.076" stop-color="#32658e"/><stop offset="0.090" stop-color="#433c84"/><stop offset="0.104" stop-color="#481c6e"/><stop offset="0.137" stop-color="#481769"/><stop offset="0.183" stop-color="#46317d"/><stop offset="0.234" stop-color="#2d758c"/><stop offset="0.257" stop-color="#38987f"/><stop offset="0.280" stop-color="#5eb066"/><stop offset="0.299" stop-color="#6fb763"/><stop offset="0.322" stop-color="#6ab466"/><stop offset="0.340" stop-color="#4ba770"/><stop offset="0.363" stop-color="#2e8887"/><stop offset="0.391" stop-color="#355d8b"/><stop offset="0.438" stop-color="#472877"/><stop offset="0.493" stop-color="#471365"/><stop offset="0.831" stop-color="#481567"/><stop offset="0.896" stop-color="#482878"/><stop offset="0.900" stop-color="#46337f"/><stop offset="0.919" stop-color="#46327e"/><stop offset="0.970" stop-color="#34608d"/><stop offset="0.988" stop-color="#2c738e"/><stop offset="0.998" stop-color="#2a778e"/></linearGradient><linearGradient id="c146" x1="0" y1="0" x2="0" y2="1"><stop offset="0.002" stop-color="#471063"/><stop offset="0.044" stop-color="#481b6d"/><stop offset="0.053" stop-color="#45317d"/><stop offset="0.062" stop-color="#365b8c"/><stop offset="0.072" stop-color="#32648d"/><stop offset="0.086" stop-color="#3f4989"/><stop offset="0.100" stop-color="#482172"/><stop offset="0.118" stop-color="#481366"/><stop offset="0.174" stop-color="#482273"/><stop offset="0.229" stop-color="#365c8b"/><stop offset="0.262" stop-color="#2d8688"/><stop offset="0.299" stop-color="#439f77"/><stop offset="0.331" stop-color="#38967f"/><stop offset="0.359" stop-color="#2c798b"/><stop offset="0.414" stop-color="#45347f"/><stop offset="0.465" stop-color="#481568"/><stop offset="0.646" stop-color="#470e61"/><stop offset="0.789" stop-color="#48176a"/><stop offset="0.896" stop-color="#443982"/><stop offset="0.900" stop-color="#414387"/><stop offset="0.919" stop-color="#414487"/><stop offset="0.970" stop-color="#2b758e"/><stop offset="0.988" stop-color="#23898d"/><stop offset="0.998" stop-color="#228b8d"/></linearGradient><linearGradient id="c147" x1="0" y1="0" x2="0" y2="1"><stop offset="0.002" stop-color="#470e61"/><stop offset="0.035" stop-color="#481668"/><stop offset="0.039" stop-color="#481e6f"/><stop offset="0.049" stop-color="#3e4a88"/><stop offset="0.053" stop-color="#38578c"/><stop offset="0.076" stop-color="#375b8d"/><stop offset="0.090" stop-color="#453882"/><stop offset="0.104" stop-color="#48186a"/><stop offset="0.137" stop-color="#471265"/><stop offset="0.183" stop-color="#472b79"/><stop offset="0.234" stop-color="#2f6e8c"/><stop offset="0.252" stop-color="#308b85"/><stop offset="0.285" stop-color="#61ad64"/><stop offset="0.308" stop-color="#6eb261"/><stop offset="0.331" stop-color="#58a96a"/><stop offset="0.359" stop-color="#2f8986"/><stop offset="0.382" stop-color="#32658b"/><stop offset="0.433" stop-color="#482676"/><stop offset="0.488" stop-color="#470f62"/><stop offset="0.683" stop-color="#471163"/><stop offset="0.891" stop-color="#433f85"/><stop offset="0.905" stop-color="#3d4d8a"/><stop offset="0.919" stop-color="#3d4d8a"/><stop offset="0.965" stop-color="#2a788e"/><stop offset="0.984" stop-color="#20928c"/><stop offset="0.998" stop-color="#20948c"/></linearGradient><linearGradient id="c148" x1="0" y1="0" x2="0" y2="1"><stop offset="0.002" stop-color="#470e61"/><stop offset="0.030" stop-color="#481769"/><stop offset="0.035" stop-color="#482374"/><stop offset="0.039" stop-color="#423f85"/><stop offset="0.044" stop-color="#3b518b"/><stop offset="0.062" stop-color="#3a538b"/><stop offset="0.076" stop-color="#375a8c"/><stop offset="0.090" stop-color="#453882"/><stop offset="0.104" stop-color="#48186a"/><stop offset="0.137" stop-color="#471265"/><stop offset="0.183" stop-color="#472b79"/><stop offset="0.234" stop-color="#2f6e8c"/><stop offset="0.252" stop-color="#308b85"/><stop offset="0.285" stop-color="#61ad65"/><stop offset="0.308" stop-color="#6eb261"/><stop offset="0.331" stop-color="#58a96a"/><stop offset="0.359" stop-color="#2f8986"/><stop offset="0.382" stop-color="#32658b"/><stop offset="0.433" stop-color="#482676"/><stop offset="0.488" stop-color="#470f62"/><stop offset="0.604" stop-color="#471063"/><stop offset="0.887" stop-color="#424086"/><stop offset="0.896" stop-color="#404588"/><stop offset="0.900" stop-color="#3c508b"/><stop offset="0.919" stop-color="#3c508b"/><stop offset="0.965" stop-color="#297b8e"/><stop offset="0.984" stop-color="#1f958b"/><stop offset="0.998" stop-color="#1f978b"/></linearGradient><linearGradient id="c149" x1="0" y1="0" x2="0" y2="1"><stop offset="0.002" stop-color="#471063"/><stop offset="0.030" stop-color="#48196b"/><stop offset="0.035" stop-color="#482878"/><stop offset="0.039" stop-color="#404587"/><stop offset="0.044" stop-color="#3a528b"/><stop offset="0.062" stop-color="#3a548b"/><stop offset="0.076" stop-color="#375b8d"/><stop offset="0.090" stop-color="#443983"/><stop offset="0.104" stop-color="#48196b"/><stop offset="0.137" stop-color="#481366"/><stop offset="0.188" stop-color="#472b79"/><stop offset="0.248" stop-color="#2d728c"/><stop offset="0.275" stop-color="#339183"/><stop offset="0.308" stop-color="#439d79"/><stop offset="0.345" stop-color="#2d8788"/><stop offset="0.382" stop-color="#38588a"/><stop offset="0.433" stop-color="#482373"/><stop offset="0.498" stop-color="#470f62"/><stop offset="0.623" stop-color="#471265"/><stop offset="0.887" stop-color="#424086"/><stop offset="0.896" stop-color="#404688"/><stop offset="0.900" stop-color="#3c508b"/><stop offset="0.919" stop-color="#3c508b"/><stop offset="0.965" stop-color="#297b8e"/><stop offset="0.984" stop-color="#1f958b"/><stop offset="0.998" stop-color="#1f978b"/></linearGradient><linearGradient id="c150" x1="0" y1="0" x2="0" y2="1"><stop offset="0.002" stop-color="#471063"/><stop offset="0.035" stop-color="#481a6c"/><stop offset="0.039" stop-color="#482575"/><stop offset="0.049" stop-color="#3a528b"/><stop offset="0.076" stop-color="#365c8d"/><stop offset="0.090" stop-color="#443a83"/><stop offset="0.104" stop-color="#481a6c"/><stop offset="0.141" stop-color="#481769"/><stop offset="0.188" stop-color="#45337e"/><stop offset="0.238" stop-color="#2b7a8b"/><stop offset="0.252" stop-color="#329084"/><stop offset="0.285" stop-color="#6cb15d"/><stop offset="0.308" stop-color="#7bb657"/><stop offset="0.331" stop-color="#63ad64"/><stop offset="0.363" stop-color="#2c8788"/><stop offset="0.405" stop-color="#3e4887"/><stop offset="0.447" stop-color="#482071"/><stop offset="0.521" stop-color="#470f62"/><stop offset="0.729" stop-color="#481567"/><stop offset="0.891" stop-color="#433d84"/><stop offset="0.905" stop-color="#3e4b89"/><stop offset="0.919" stop-color="#3e4c8a"/><stop offset="0.965" stop-color="#2a768e"/><stop offset="0.984" stop-color="#21908c"/><stop offset="0.998" stop-color="#20938c"/></linearGradient><linearGradient id="c151" x1="0" y1="0" x2="0" y2="1"><stop offset="0.002" stop-color="#471063"/><stop offset="0.044" stop-color="#481b6d"/><stop offset="0.049" stop-color="#472675"/><stop offset="0.058" stop-color="#3b518a"/><stop offset="0.062" stop-color="#355f8d"/><stop offset="0.076" stop-color="#355e8d"/><stop offset="0.090" stop-color="#443983"/><stop offset="0.104" stop-color="#48196b"/><stop offset="0.141" stop-color="#481568"/><stop offset="0.188" stop-color="#45327d"/><stop offset="0.238" stop-color="#2b788b"/><stop offset="0.252" stop-color="#308e85"/><stop offset="0.285" stop-color="#6aaf5f"/><stop offset="0.308" stop-color="#78b456"/><stop offset="0.331" stop-color="#60ab66"/><stop offset="0.359" stop-color="#2f8c86"/><stop offset="0.377" stop-color="#2e6f8c"/><stop offset="0.428" stop-color="#472c7a"/><stop offset="0.479" stop-color="#471265"/><stop offset="0.771" stop-color="#470f62"/><stop offset="0.891" stop-color="#472d7b"/><stop offset="0.905" stop-color="#433c84"/><stop offset="0.919" stop-color="#433c84"/><stop offset="0.970" stop-color="#2f6d8e"/><stop offset="0.988" stop-color="#26818e"/><stop offset="0.998" stop-color="#25838e"/></linearGradient><linearGradient id="c152" x1="0" y1="0" x2="0" y2="1"><stop offset="0.002" stop-color="#471063"/><stop offset="0.049" stop-color="#481b6d"/><stop offset="0.058" stop-color="#472b7a"/><stop offset="0.072" stop-color="#33638d"/><stop offset="0.076" stop-color="#33638d"/><stop offset="0.090" stop-color="#443a83"/><stop offset="0.104" stop-color="#481a6c"/><stop offset="0.137" stop-color="#481567"/><stop offset="0.183" stop-color="#462d7b"/><stop offset="0.234" stop-color="#2e718c"/><stop offset="0.252" stop-color="#318e84"/><stop offset="0.285" stop-color="#6baf5e"/><stop offset="0.308" stop-color="#79b455"/><stop offset="0.331" stop-color="#61ac65"/><stop offset="0.363" stop-color="#2b8588"/><stop offset="0.405" stop-color="#3f4686"/><stop offset="0.451" stop-color="#481b6d"/><stop offset="0.530" stop-color="#470e61"/><stop offset="0.854" stop-color="#471365"/><stop offset="0.896" stop-color="#481f71"/><stop offset="0.900" stop-color="#472a79"/><stop offset="0.919" stop-color="#482877"/><stop offset="0.970" stop-color="#3a538b"/><stop offset="0.993" stop-color="#30688e"/><stop offset="0.998" stop-color="#306a8e"/></linearGradient><linearGradient id="c153" x1="0" y1="0" x2="0" y2="1"><stop offset="0.002" stop-color="#470e61"/><stop offset="0.049" stop-color="#481d6f"/><stop offset="0.058" stop-color="#414184"/><stop offset="0.067" stop-color="#34618d"/><stop offset="0.076" stop-color="#355f8d"/><stop offset="0.090" stop-color="#453882"/><stop offset="0.104" stop-color="#48186a"/><stop offset="0.141" stop-color="#471265"/><stop offset="0.192" stop-color="#472b79"/><stop offset="0.252" stop-color="#2e718c"/><stop offset="0.280" stop-color="#308c85"/><stop offset="0.312" stop-color="#389480"/><stop offset="0.350" stop-color="#2b7a8b"/><stop offset="0.405" stop-color="#443880"/><stop offset="0.451" stop-color="#481668"/><stop offset="0.562" stop-color="#460b5e"/><stop offset="0.891" stop-color="#470f62"/><stop offset="0.900" stop-color="#481d6f"/><stop offset="0.914" stop-color="#481467"/><stop offset="0.970" stop-color="#45337f"/><stop offset="0.998" stop-color="#3e4988"/></linearGradient><linearGradient id="c154" x1="0" y1="0" x2="0" y2="1"><stop offset="0.002" stop-color="#470e61"/><stop offset="0.035" stop-color="#481568"/><stop offset="0.039" stop-color="#481b6d"/><stop offset="0.053" stop-color="#39568c"/><stop offset="0.076" stop-color="#375b8d"/><stop offset="0.090" stop-color="#453882"/><stop offset="0.104" stop-color="#48186a"/><stop offset="0.137" stop-color="#471265"/><stop offset="0.183" stop-color="#472b79"/><stop offset="0.238" stop-color="#2c768c"/><stop offset="0.252" stop-color="#308c85"/><stop offset="0.285" stop-color="#67ad61"/><stop offset="0.308" stop-color="#75b258"/><stop offset="0.331" stop-color="#5daa68"/><stop offset="0.359" stop-color="#2e8a86"/><stop offset="0.377" stop-color="#2f6d8c"/><stop offset="0.428" stop-color="#472a79"/><stop offset="0.479" stop-color="#471063"/><stop offset="0.896" stop-color="#470f62"/><stop offset="0.900" stop-color="#481a6c"/><stop offset="0.914" stop-color="#470f61"/><stop offset="0.975" stop-color="#482575"/><stop offset="0.998" stop-color="#46337f"/></linearGradient><linearGradient id="c155" x1="0" y1="0" x2="0" y2="1"><stop offset="0.002" stop-color="#470e61"/><stop offset="0.030" stop-color="#481669"/><stop offset="0.035" stop-color="#482172"/><stop offset="0.044" stop-color="#3b508b"/><stop offset="0.076" stop-color="#375a8c"/><stop offset="0.090" stop-color="#453882"/><stop offset="0.104" stop-color="#48186a"/><stop offset="0.137" stop-color="#471265"/><stop offset="0.183" stop-color="#472b79"/><stop offset="0.234" stop-color="#2f6e8c"/><stop offset="0.252" stop-color="#2f8b86"/><stop offset="0.285" stop-color="#64ac63"/><stop offset="0.308" stop-color="#73b259"/><stop offset="0.331" stop-color="#5ca969"/><stop offset="0.359" stop-color="#2e8987"/><stop offset="0.382" stop-color="#33658c"/><stop offset="0.433" stop-color="#482676"/><stop offset="0.488" stop-color="#470e61"/><stop offset="0.887" stop-color="#471063"/><stop offset="0.896" stop-color="#481466"/><stop offset="0.900" stop-color="#481f70"/><stop offset="0.914" stop-color="#481669"/><stop offset="0.965" stop-color="#45347f"/><stop offset="0.998" stop-color="#3c4f8a"/></linearGradient><linearGradient id="c156" x1="0" y1="0" x2="0" y2="1"><stop offset="0.002" stop-color="#470e61"/><stop offset="0.030" stop-color="#48186a"/><stop offset="0.035" stop-color="#482978"/><stop offset="0.039" stop-color="#404688"/><stop offset="0.044" stop-color="#3b528b"/><stop offset="0.062" stop-color="#3b528b"/><stop offset="0.076" stop-color="#375a8c"/><stop offset="0.090" stop-color="#453882"/><stop offset="0.104" stop-color="#48186a"/><stop offset="0.137" stop-color="#471265"/><stop offset="0.183" stop-color="#472b79"/><stop offset="0.238" stop-color="#2c768c"/><stop offset="0.252" stop-color="#2f8b85"/><stop offset="0.285" stop-color="#66ad62"/><stop offset="0.308" stop-color="#74b259"/><stop offset="0.331" stop-color="#5ca969"/><stop offset="0.359" stop-color="#2e8a86"/><stop offset="0.382" stop-color="#32658c"/><stop offset="0.433" stop-color="#472676"/><stop offset="0.488" stop-color="#470f62"/><stop offset="0.817" stop-color="#471063"/><stop offset="0.845" stop-color="#48196b"/><stop offset="0.859" stop-color="#481567"/><stop offset="0.896" stop-color="#482273"/><stop offset="0.900" stop-color="#472d7b"/><stop offset="0.914" stop-color="#482878"/><stop offset="0.965" stop-color="#3a538b"/><stop offset="0.988" stop-color="#2f6d8e"/><stop offset="0.998" stop-color="#2d718e"/></linearGradient><linearGradient id="c157" x1="0" y1="0" x2="0" y2="1"><stop offset="0.002" stop-color="#470e61"/><stop offset="0.035" stop-color="#48196b"/><stop offset="0.039" stop-color="#472676"/><stop offset="0.049" stop-color="#3a538b"/><stop offset="0.076" stop-color="#375a8c"/><stop offset="0.090" stop-color="#453882"/><stop offset="0.104" stop-color="#48186a"/><stop offset="0.141" stop-color="#471265"/><stop offset="0.192" stop-color="#462d7b"/><stop offset="0.248" stop-color="#2e708c"/><stop offset="0.271" stop-color="#2f8b86"/><stop offset="0.308" stop-color="#419b7a"/><stop offset="0.345" stop-color="#2c8588"/><stop offset="0.396" stop-color="#3f4585"/><stop offset="0.442" stop-color="#481b6d"/><stop offset="0.516" stop-color="#470c5f"/><stop offset="0.766" stop-color="#471164"/><stop offset="0.845" stop-color="#45347f"/><stop offset="0.850" stop-color="#482273"/><stop offset="0.896" stop-color="#453580"/><stop offset="0.900" stop-color="#424086"/><stop offset="0.914" stop-color="#433e85"/><stop offset="0.965" stop-color="#2e6e8e"/><stop offset="0.988" stop-color="#238a8d"/><stop offset="0.998" stop-color="#228c8d"/></linearGradient><linearGradient id="c158" x1="0" y1="0" x2="0" y2="1"><stop offset="0.002" stop-color="#470e61"/><stop offset="0.044" stop-color="#481b6d"/><stop offset="0.053" stop-color="#414084"/><stop offset="0.058" stop-color="#39548b"/><stop offset="0.067" stop-color="#34608d"/><stop offset="0.081" stop-color="#3a548b"/><stop offset="0.100" stop-color="#481f70"/><stop offset="0.118" stop-color="#471163"/><stop offset="0.169" stop-color="#482071"/><stop offset="0.215" stop-color="#3a5289"/><stop offset="0.248" stop-color="#2c8488"/><stop offset="0.285" stop-color="#65ad63"/><stop offset="0.308" stop-color="#73b259"/><stop offset="0.331" stop-color="#5ba969"/><stop offset="0.359" stop-color="#2e8986"/><stop offset="0.382" stop-color="#32658c"/><stop offset="0.433" stop-color="#482676"/><stop offset="0.488" stop-color="#470f62"/><stop offset="0.692" stop-color="#471164"/><stop offset="0.780" stop-color="#462f7c"/><stop offset="0.845" stop-color="#404688"/><stop offset="0.850" stop-color="#46327e"/><stop offset="0.896" stop-color="#404487"/><stop offset="0.900" stop-color="#3c4f8a"/><stop offset="0.919" stop-color="#3c508b"/><stop offset="0.965" stop-color="#277e8e"/><stop offset="0.984" stop-color="#1f9a8a"/><stop offset="0.998" stop-color="#1f9d89"/></linearGradient><linearGradient id="c159" x1="0" y1="0" x2="0" y2="1"><stop offset="0.002" stop-color="#470e61"/><stop offset="0.049" stop-color="#481a6c"/><stop offset="0.058" stop-color="#472c7a"/><stop offset="0.072" stop-color="#33628d"/><stop offset="0.081" stop-color="#38588c"/><stop offset="0.100" stop-color="#481f70"/><stop offset="0.118" stop-color="#471163"/><stop offset="0.169" stop-color="#482071"/><stop offset="0.215" stop-color="#3a5289"/><stop offset="0.248" stop-color="#2c8389"/><stop offset="0.280" stop-color="#5aa969"/><stop offset="0.303" stop-color="#6eb15f"/><stop offset="0.326" stop-color="#5eab66"/><stop offset="0.359" stop-color="#2e8887"/><stop offset="0.387" stop-color="#355d8b"/><stop offset="0.433" stop-color="#482575"/><stop offset="0.493" stop-color="#470e61"/><stop offset="0.590" stop-color="#471163"/><stop offset="0.734" stop-color="#46337f"/><stop offset="0.803" stop-color="#414387"/><stop offset="0.845" stop-color="#424086"/><stop offset="0.859" stop-color="#433c84"/><stop offset="0.896" stop-color="#3e4a89"/><stop offset="0.900" stop-color="#39558c"/><stop offset="0.919" stop-color="#39568c"/><stop offset="0.965" stop-color="#25848e"/><stop offset="0.984" stop-color="#1fa088"/><stop offset="0.998" stop-color="#1fa287"/></linearGradient><linearGradient id="c160" x1="0" y1="0" x2="0" y2="1"><stop offset="0.002" stop-color="#470e61"/><stop offset="0.049" stop-color="#481c6e"/><stop offset="0.058" stop-color="#433b82"/><stop offset="0.067" stop-color="#34608d"/><stop offset="0.076" stop-color="#345f8d"/><stop offset="0.090" stop-color="#453882"/><stop offset="0.104" stop-color="#48186a"/><stop offset="0.141" stop-color="#481366"/><stop offset="0.188" stop-color="#462f7c"/><stop offset="0.238" stop-color="#2d758b"/><stop offset="0.257" stop-color="#359182"/><stop offset="0.289" stop-color="#64af64"/><stop offset="0.312" stop-color="#6ab163"/><stop offset="0.336" stop-color="#4fa570"/><stop offset="0.363" stop-color="#2d8289"/><stop offset="0.410" stop-color="#423e83"/><stop offset="0.456" stop-color="#48176a"/><stop offset="0.553" stop-color="#460b5e"/><stop offset="0.748" stop-color="#433e85"/><stop offset="0.854" stop-color="#443b84"/><stop offset="0.896" stop-color="#3e4a89"/><stop offset="0.900" stop-color="#39558c"/><stop offset="0.919" stop-color="#39568c"/><stop offset="0.965" stop-color="#25848e"/><stop offset="0.984" stop-color="#1fa188"/><stop offset="0.998" stop-color="#20a387"/></linearGradient><linearGradient id="c161" x1="0" y1="0" x2="0" y2="1"><stop offset="0.002" stop-color="#470e61"/><stop offset="0.039" stop-color="#481a6c"/><stop offset="0.044" stop-color="#472776"/><stop offset="0.053" stop-color="#3a538b"/><stop offset="0.072" stop-color="#365d8d"/><stop offset="0.081" stop-color="#3a538b"/><stop offset="0.100" stop-color="#481e70"/><stop offset="0.118" stop-color="#471163"/><stop offset="0.169" stop-color="#481d6e"/><stop offset="0.220" stop-color="#3c4d88"/><stop offset="0.262" stop-color="#2d8388"/><stop offset="0.299" stop-color="#429d78"/><stop offset="0.331" stop-color="#379480"/><stop offset="0.359" stop-color="#2d768b"/><stop offset="0.414" stop-color="#46317d"/><stop offset="0.465" stop-color="#471365"/><stop offset="0.595" stop-color="#470e61"/><stop offset="0.715" stop-color="#472c7a"/><stop offset="0.831" stop-color="#46327f"/><stop offset="0.896" stop-color="#3f4889"/><stop offset="0.900" stop-color="#3b528b"/><stop offset="0.919" stop-color="#3a538b"/><stop offset="0.965" stop-color="#26818e"/><stop offset="0.984" stop-color="#1f9d89"/><stop offset="0.998" stop-color="#1fa088"/></linearGradient><linearGradient id="c162" x1="0" y1="0" x2="0" y2="1"><stop offset="0.002" stop-color="#470e61"/><stop offset="0.030" stop-color="#481668"/><stop offset="0.035" stop-color="#481f71"/><stop offset="0.044" stop-color="#3c4e8a"/><stop offset="0.076" stop-color="#375a8c"/><stop offset="0.090" stop-color="#453882"/><stop offset="0.104" stop-color="#48186a"/><stop offset="0.141" stop-color="#481366"/><stop offset="0.188" stop-color="#462f7c"/><stop offset="0.238" stop-color="#2d768b"/><stop offset="0.257" stop-color="#359282"/><stop offset="0.289" stop-color="#65af64"/><stop offset="0.312" stop-color="#6ab263"/><stop offset="0.336" stop-color="#4fa56f"/><stop offset="0.363" stop-color="#2d8289"/><stop offset="0.410" stop-color="#423e83"/><stop offset="0.456" stop-color="#481769"/><stop offset="0.544" stop-color="#470d60"/><stop offset="0.664" stop-color="#481c6e"/><stop offset="0.752" stop-color="#471365"/><stop offset="0.891" stop-color="#443882"/><stop offset="0.905" stop-color="#3f4788"/><stop offset="0.919" stop-color="#3f4888"/><stop offset="0.965" stop-color="#2b768e"/><stop offset="0.984" stop-color="#21918c"/><stop offset="0.998" stop-color="#20948b"/></linearGradient><linearGradient id="c163" x1="0" y1="0" x2="0" y2="1"><stop offset="0.002" stop-color="#471365"/><stop offset="0.030" stop-color="#481d6e"/><stop offset="0.035" stop-color="#472e7c"/><stop offset="0.039" stop-color="#3e4a89"/><stop offset="0.044" stop-color="#39558c"/><stop offset="0.062" stop-color="#39568c"/><stop offset="0.076" stop-color="#365d8d"/><stop offset="0.090" stop-color="#443b84"/><stop offset="0.104" stop-color="#481c6e"/><stop offset="0.141" stop-color="#48186b"/><stop offset="0.192" stop-color="#453680"/><stop offset="0.248" stop-color="#2b7b8b"/><stop offset="0.280" stop-color="#409e79"/><stop offset="0.308" stop-color="#4da670"/><stop offset="0.345" stop-color="#329084"/><stop offset="0.368" stop-color="#2d738c"/><stop offset="0.428" stop-color="#472c7a"/><stop offset="0.484" stop-color="#481567"/><stop offset="0.627" stop-color="#481d6f"/><stop offset="0.757" stop-color="#471063"/><stop offset="0.877" stop-color="#482474"/><stop offset="0.896" stop-color="#472d7b"/><stop offset="0.900" stop-color="#443882"/><stop offset="0.919" stop-color="#453781"/><stop offset="0.970" stop-color="#31688e"/><stop offset="0.988" stop-color="#287c8e"/><stop offset="0.998" stop-color="#27808e"/></linearGradient><linearGradient id="c164" x1="0" y1="0" x2="0" y2="1"><stop offset="0.002" stop-color="#471164"/><stop offset="0.035" stop-color="#481d6f"/><stop offset="0.039" stop-color="#462e7b"/><stop offset="0.044" stop-color="#3e4888"/><stop offset="0.049" stop-color="#38578c"/><stop offset="0.076" stop-color="#365d8d"/><stop offset="0.095" stop-color="#472d7b"/><stop offset="0.109" stop-color="#48186a"/><stop offset="0.155" stop-color="#481d6f"/><stop offset="0.197" stop-color="#413f84"/><stop offset="0.243" stop-color="#2c8289"/><stop offset="0.266" stop-color="#47a374"/><stop offset="0.285" stop-color="#67b263"/><stop offset="0.308" stop-color="#71b762"/><stop offset="0.326" stop-color="#64b164"/><stop offset="0.359" stop-color="#318f84"/><stop offset="0.377" stop-color="#2d728c"/><stop offset="0.428" stop-color="#462f7c"/><stop offset="0.475" stop-color="#481668"/><stop offset="0.586" stop-color="#481a6c"/><stop offset="0.725" stop-color="#471063"/><stop offset="0.891" stop-color="#48186a"/><stop offset="0.900" stop-color="#482677"/><stop offset="0.914" stop-color="#482071"/><stop offset="0.965" stop-color="#414386"/><stop offset="0.993" stop-color="#365d8d"/><stop offset="0.998" stop-color="#355f8d"/></linearGradient><linearGradient id="c165" x1="0" y1="0" x2="0" y2="1"><stop offset="0.002" stop-color="#471063"/><stop offset="0.039" stop-color="#48196b"/><stop offset="0.044" stop-color="#482071"/><stop offset="0.058" stop-color="#375a8c"/><stop offset="0.072" stop-color="#34618d"/><stop offset="0.086" stop-color="#3e4989"/><stop offset="0.100" stop-color="#482173"/><stop offset="0.118" stop-color="#481467"/><stop offset="0.169" stop-color="#482474"/><stop offset="0.215" stop-color="#38568a"/><stop offset="0.243" stop-color="#2c8189"/><stop offset="0.266" stop-color="#47a275"/><stop offset="0.289" stop-color="#6cb362"/><stop offset="0.312" stop-color="#72b562"/><stop offset="0.336" stop-color="#55a96b"/><stop offset="0.363" stop-color="#2d8688"/><stop offset="0.405" stop-color="#3e4887"/><stop offset="0.451" stop-color="#481d6f"/><stop offset="0.475" stop-color="#481567"/><stop offset="0.479" stop-color="#482071"/><stop offset="0.660" stop-color="#470e61"/><stop offset="0.896" stop-color="#481467"/><stop offset="0.900" stop-color="#481f70"/><stop offset="0.914" stop-color="#481668"/><stop offset="0.970" stop-color="#46307d"/><stop offset="0.998" stop-color="#414387"/></linearGradient><linearGradient id="c166" x1="0" y1="0" x2="0" y2="1"><stop offset="0.002" stop-color="#471164"/><stop offset="0.049" stop-color="#481e6f"/><stop offset="0.058" stop-color="#46317e"/><stop offset="0.067" stop-color="#375a8c"/><stop offset="0.072" stop-color="#32658e"/><stop offset="0.081" stop-color="#375a8c"/><stop offset="0.100" stop-color="#482374"/><stop offset="0.118" stop-color="#481568"/><stop offset="0.169" stop-color="#482575"/><stop offset="0.215" stop-color="#38588a"/><stop offset="0.243" stop-color="#2b8389"/><stop offset="0.266" stop-color="#4aa374"/><stop offset="0.289" stop-color="#70b45f"/><stop offset="0.312" stop-color="#76b65e"/><stop offset="0.336" stop-color="#59ab69"/><stop offset="0.363" stop-color="#2d8888"/><stop offset="0.396" stop-color="#38568a"/><stop offset="0.442" stop-color="#482474"/><stop offset="0.475" stop-color="#481668"/><stop offset="0.479" stop-color="#482777"/><stop offset="0.586" stop-color="#471063"/><stop offset="0.873" stop-color="#481769"/><stop offset="0.896" stop-color="#481e6f"/><stop offset="0.900" stop-color="#482978"/><stop offset="0.919" stop-color="#482374"/><stop offset="0.970" stop-color="#3f4888"/><stop offset="0.998" stop-color="#365c8c"/></linearGradient><linearGradient id="c167" x1="0" y1="0" x2="0" y2="1"><stop offset="0.002" stop-color="#470e61"/><stop offset="0.049" stop-color="#481b6d"/><stop offset="0.058" stop-color="#45357f"/><stop offset="0.067" stop-color="#365d8d"/><stop offset="0.072" stop-color="#33648d"/><stop offset="0.081" stop-color="#39568c"/><stop offset="0.100" stop-color="#481f70"/><stop offset="0.118" stop-color="#471163"/><stop offset="0.174" stop-color="#481f70"/><stop offset="0.229" stop-color="#37598a"/><stop offset="0.262" stop-color="#2c8289"/><stop offset="0.299" stop-color="#429c79"/><stop offset="0.331" stop-color="#369381"/><stop offset="0.359" stop-color="#2c758b"/><stop offset="0.414" stop-color="#46317d"/><stop offset="0.465" stop-color="#471365"/><stop offset="0.475" stop-color="#471163"/><stop offset="0.479" stop-color="#481c6e"/><stop offset="0.706" stop-color="#460b5f"/><stop offset="0.859" stop-color="#481d6f"/><stop offset="0.896" stop-color="#472b7a"/><stop offset="0.900" stop-color="#453681"/><stop offset="0.919" stop-color="#453480"/><stop offset="0.970" stop-color="#33628d"/><stop offset="0.988" stop-color="#2b748e"/><stop offset="0.998" stop-color="#2a778e"/></linearGradient><linearGradient id="c168" x1="0" y1="0" x2="0" y2="1"><stop offset="0.002" stop-color="#470e61"/><stop offset="0.039" stop-color="#48186a"/><stop offset="0.044" stop-color="#482273"/><stop offset="0.053" stop-color="#3c4f8a"/><stop offset="0.062" stop-color="#365c8d"/><stop offset="0.076" stop-color="#365b8d"/><stop offset="0.090" stop-color="#453882"/><stop offset="0.104" stop-color="#48186a"/><stop offset="0.137" stop-color="#471265"/><stop offset="0.183" stop-color="#472b79"/><stop offset="0.234" stop-color="#2f6e8c"/><stop offset="0.252" stop-color="#308b85"/><stop offset="0.285" stop-color="#61ad64"/><stop offset="0.308" stop-color="#6fb261"/><stop offset="0.331" stop-color="#58a96a"/><stop offset="0.359" stop-color="#2f8986"/><stop offset="0.382" stop-color="#32658b"/><stop offset="0.433" stop-color="#482676"/><stop offset="0.475" stop-color="#471164"/><stop offset="0.600" stop-color="#48186a"/><stop offset="0.706" stop-color="#471063"/><stop offset="0.887" stop-color="#453681"/><stop offset="0.896" stop-color="#433c84"/><stop offset="0.900" stop-color="#404688"/><stop offset="0.919" stop-color="#404688"/><stop offset="0.970" stop-color="#2b768e"/><stop offset="0.988" stop-color="#23898d"/><stop offset="0.998" stop-color="#228b8d"/></linearGradient><linearGradient id="c169" x1="0" y1="0" x2="0" y2="1"><stop offset="0.002" stop-color="#470e61"/><stop offset="0.030" stop-color="#481567"/><stop offset="0.035" stop-color="#481d6f"/><stop offset="0.044" stop-color="#3d4c89"/><stop offset="0.049" stop-color="#39558c"/><stop offset="0.067" stop-color="#38588c"/><stop offset="0.081" stop-color="#3a538b"/><stop offset="0.100" stop-color="#481f70"/><stop offset="0.118" stop-color="#471164"/><stop offset="0.169" stop-color="#482071"/><stop offset="0.215" stop-color="#3a5289"/><stop offset="0.248" stop-color="#2d8488"/><stop offset="0.285" stop-color="#60ad65"/><stop offset="0.308" stop-color="#6eb262"/><stop offset="0.331" stop-color="#58a96a"/><stop offset="0.359" stop-color="#2f8986"/><stop offset="0.382" stop-color="#32658b"/><stop offset="0.433" stop-color="#482675"/><stop offset="0.488" stop-color="#470f62"/><stop offset="0.590" stop-color="#481d6f"/><stop offset="0.836" stop-color="#46327f"/><stop offset="0.896" stop-color="#404587"/><stop offset="0.900" stop-color="#3c4f8a"/><stop offset="0.919" stop-color="#3c4f8a"/><stop offset="0.970" stop-color="#27808e"/><stop offset="0.988" stop-color="#20938c"/><stop offset="0.998" stop-color="#1f958b"/></linearGradient><linearGradient id="c170" x1="0" y1="0" x2="0" y2="1"><stop offset="0.002" stop-color="#470e61"/><stop offset="0.030" stop-color="#48196b"/><stop offset="0.035" stop-color="#472a79"/><stop offset="0.039" stop-color="#3f4888"/><stop offset="0.044" stop-color="#3b528b"/><stop offset="0.062" stop-color="#3b528b"/><stop offset="0.076" stop-color="#375a8c"/><stop offset="0.090" stop-color="#453782"/><stop offset="0.104" stop-color="#48176a"/><stop offset="0.141" stop-color="#471265"/><stop offset="0.192" stop-color="#462e7b"/><stop offset="0.248" stop-color="#2d738b"/><stop offset="0.275" stop-color="#369381"/><stop offset="0.308" stop-color="#45a076"/><stop offset="0.345" stop-color="#2f8986"/><stop offset="0.373" stop-color="#32658b"/><stop offset="0.428" stop-color="#482575"/><stop offset="0.484" stop-color="#470f62"/><stop offset="0.530" stop-color="#471264"/><stop offset="0.683" stop-color="#453681"/><stop offset="0.817" stop-color="#46327f"/><stop offset="0.896" stop-color="#3f4788"/><stop offset="0.900" stop-color="#3b518b"/><stop offset="0.919" stop-color="#3b518b"/><stop offset="0.965" stop-color="#287c8e"/><stop offset="0.984" stop-color="#1f958b"/><stop offset="0.998" stop-color="#1f978b"/></linearGradient><linearGradient id="c171" x1="0" y1="0" x2="0" y2="1"><stop offset="0.002" stop-color="#470e61"/><stop offset="0.030" stop-color="#481567"/><stop offset="0.035" stop-color="#481b6d"/><stop offset="0.044" stop-color="#3e4988"/><stop offset="0.049" stop-color="#39558c"/><stop offset="0.076" stop-color="#375a8c"/><stop offset="0.090" stop-color="#453882"/><stop offset="0.104" stop-color="#48186a"/><stop offset="0.141" stop-color="#481366"/><stop offset="0.188" stop-color="#462f7c"/><stop offset="0.238" stop-color="#2d758b"/><stop offset="0.262" stop-color="#3a977d"/><stop offset="0.289" stop-color="#61ae67"/><stop offset="0.312" stop-color="#67b168"/><stop offset="0.336" stop-color="#4ca470"/><stop offset="0.363" stop-color="#2e8189"/><stop offset="0.410" stop-color="#423e83"/><stop offset="0.456" stop-color="#48176a"/><stop offset="0.530" stop-color="#470d60"/><stop offset="0.660" stop-color="#472877"/><stop offset="0.738" stop-color="#443a83"/><stop offset="0.854" stop-color="#453782"/><stop offset="0.896" stop-color="#404688"/><stop offset="0.900" stop-color="#3c508b"/><stop offset="0.919" stop-color="#3c508b"/><stop offset="0.965" stop-color="#297b8e"/><stop offset="0.984" stop-color="#1f948c"/><stop offset="0.998" stop-color="#1f968b"/></linearGradient><linearGradient id="c172" x1="0" y1="0" x2="0" y2="1"><stop offset="0.002" stop-color="#470e61"/><stop offset="0.039" stop-color="#48186a"/><stop offset="0.044" stop-color="#482172"/><stop offset="0.053" stop-color="#3d4c89"/><stop offset="0.058" stop-color="#375a8c"/><stop offset="0.076" stop-color="#365c8d"/><stop offset="0.090" stop-color="#453882"/><stop offset="0.104" stop-color="#48186a"/><stop offset="0.137" stop-color="#471365"/><stop offset="0.183" stop-color="#472c7a"/><stop offset="0.234" stop-color="#2e6f8c"/><stop offset="0.257" stop-color="#359281"/><stop offset="0.285" stop-color="#5dad68"/><stop offset="0.308" stop-color="#69b367"/><stop offset="0.331" stop-color="#54a96b"/><stop offset="0.363" stop-color="#2e8288"/><stop offset="0.405" stop-color="#3f4485"/><stop offset="0.451" stop-color="#481a6c"/><stop offset="0.530" stop-color="#470d60"/><stop offset="0.674" stop-color="#481467"/><stop offset="0.789" stop-color="#443982"/><stop offset="0.845" stop-color="#453781"/><stop offset="0.854" stop-color="#46317e"/><stop offset="0.896" stop-color="#424186"/><stop offset="0.900" stop-color="#3e4b89"/><stop offset="0.919" stop-color="#3e4b89"/><stop offset="0.965" stop-color="#2b758e"/><stop offset="0.988" stop-color="#218f8d"/><stop offset="0.998" stop-color="#21908c"/></linearGradient><linearGradient id="c173" x1="0" y1="0" x2="0" y2="1"><stop offset="0.002" stop-color="#471365"/><stop offset="0.049" stop-color="#481f70"/><stop offset="0.058" stop-color="#453680"/><stop offset="0.067" stop-color="#355e8d"/><stop offset="0.072" stop-color="#31668e"/><stop offset="0.081" stop-color="#375a8c"/><stop offset="0.100" stop-color="#482374"/><stop offset="0.118" stop-color="#481769"/><stop offset="0.169" stop-color="#482676"/><stop offset="0.215" stop-color="#37598a"/><stop offset="0.243" stop-color="#2d8389"/><stop offset="0.271" stop-color="#4da76e"/><stop offset="0.289" stop-color="#69b467"/><stop offset="0.322" stop-color="#69b467"/><stop offset="0.340" stop-color="#4ba670"/><stop offset="0.363" stop-color="#2e8887"/><stop offset="0.391" stop-color="#355e8b"/><stop offset="0.438" stop-color="#472878"/><stop offset="0.498" stop-color="#471365"/><stop offset="0.729" stop-color="#481668"/><stop offset="0.845" stop-color="#443983"/><stop offset="0.850" stop-color="#482575"/><stop offset="0.896" stop-color="#453681"/><stop offset="0.900" stop-color="#424186"/><stop offset="0.919" stop-color="#424085"/><stop offset="0.970" stop-color="#2e6e8e"/><stop offset="0.988" stop-color="#26818e"/><stop offset="0.998" stop-color="#25838e"/></linearGradient><linearGradient id="c174" x1="0" y1="0" x2="0" y2="1"><stop offset="0.002" stop-color="#470e61"/><stop offset="0.049" stop-color="#481a6c"/><stop offset="0.058" stop-color="#46307d"/><stop offset="0.067" stop-color="#37598c"/><stop offset="0.072" stop-color="#33638d"/><stop offset="0.081" stop-color="#38578c"/><stop offset="0.100" stop-color="#481f70"/><stop offset="0.118" stop-color="#471163"/><stop offset="0.169" stop-color="#481c6e"/><stop offset="0.220" stop-color="#3c4e88"/><stop offset="0.257" stop-color="#2d7e8a"/><stop offset="0.294" stop-color="#3f9d79"/><stop offset="0.326" stop-color="#3a987d"/><stop offset="0.363" stop-color="#2e718b"/><stop offset="0.419" stop-color="#462d7b"/><stop offset="0.470" stop-color="#471164"/><stop offset="0.743" stop-color="#470c5f"/><stop offset="0.826" stop-color="#482071"/><stop offset="0.845" stop-color="#472877"/><stop offset="0.850" stop-color="#481466"/><stop offset="0.896" stop-color="#482072"/><stop offset="0.900" stop-color="#472b7a"/><stop offset="0.914" stop-color="#482676"/><stop offset="0.965" stop-color="#3d4c89"/><stop offset="0.988" stop-color="#33638d"/><stop offset="0.998" stop-color="#31668e"/></linearGradient><linearGradient id="c175" x1="0" y1="0" x2="0" y2="1"><stop offset="0.002" stop-color="#470e61"/><stop offset="0.039" stop-color="#481769"/><stop offset="0.044" stop-color="#481f70"/><stop offset="0.058" stop-color="#37598c"/><stop offset="0.076" stop-color="#365c8d"/><stop offset="0.090" stop-color="#453882"/><stop offset="0.104" stop-color="#48186a"/><stop offset="0.141" stop-color="#481366"/><stop offset="0.188" stop-color="#46307c"/><stop offset="0.238" stop-color="#2d758b"/><stop offset="0.262" stop-color="#3b977d"/><stop offset="0.289" stop-color="#62af66"/><stop offset="0.312" stop-color="#69b266"/><stop offset="0.336" stop-color="#4ea56f"/><stop offset="0.363" stop-color="#2e8288"/><stop offset="0.405" stop-color="#3f4485"/><stop offset="0.451" stop-color="#48196c"/><stop offset="0.535" stop-color="#460b5e"/><stop offset="0.836" stop-color="#471164"/><stop offset="0.845" stop-color="#481466"/><stop offset="0.859" stop-color="#470e61"/><stop offset="0.896" stop-color="#481467"/><stop offset="0.900" stop-color="#481e70"/><stop offset="0.914" stop-color="#481669"/><stop offset="0.970" stop-color="#46337f"/><stop offset="0.998" stop-color="#404687"/></linearGradient><linearGradient id="c176" x1="0" y1="0" x2="0" y2="1"><stop offset="0.002" stop-color="#471365"/><stop offset="0.030" stop-color="#48196b"/><stop offset="0.035" stop-color="#482071"/><stop offset="0.044" stop-color="#3d4c89"/><stop offset="0.049" stop-color="#38598c"/><stop offset="0.076" stop-color="#355e8d"/><stop offset="0.090" stop-color="#433d84"/><stop offset="0.104" stop-color="#481d6f"/><stop offset="0.141" stop-color="#481a6c"/><stop offset="0.188" stop-color="#443881"/><stop offset="0.238" stop-color="#2b7e8b"/><stop offset="0.262" stop-color="#409f78"/><stop offset="0.280" stop-color="#61b165"/><stop offset="0.299" stop-color="#70b862"/><stop offset="0.326" stop-color="#66b365"/><stop offset="0.359" stop-color="#329183"/><stop offset="0.382" stop-color="#2f6d8c"/><stop offset="0.433" stop-color="#472d7b"/><stop offset="0.488" stop-color="#481568"/><stop offset="0.896" stop-color="#481467"/><stop offset="0.900" stop-color="#481e70"/><stop offset="0.919" stop-color="#481466"/><stop offset="0.979" stop-color="#472a79"/><stop offset="0.998" stop-color="#46337f"/></linearGradient><linearGradient id="c177" x1="0" y1="0" x2="0" y2="1"><stop offset="0.002" stop-color="#471063"/><stop offset="0.030" stop-color="#481a6c"/><stop offset="0.035" stop-color="#472b7a"/><stop offset="0.039" stop-color="#3f4989"/><stop offset="0.044" stop-color="#3a538b"/><stop offset="0.062" stop-color="#3a538b"/><stop offset="0.076" stop-color="#375b8d"/><stop offset="0.090" stop-color="#443983"/><stop offset="0.104" stop-color="#481a6c"/><stop offset="0.141" stop-color="#481467"/><stop offset="0.192" stop-color="#46307c"/><stop offset="0.248" stop-color="#2d738b"/><stop offset="0.289" stop-color="#3d9b7b"/><stop offset="0.322" stop-color="#3c9a7c"/><stop offset="0.359" stop-color="#2c778b"/><stop offset="0.414" stop-color="#45337e"/><stop offset="0.465" stop-color="#481567"/><stop offset="0.711" stop-color="#470d60"/><stop offset="0.896" stop-color="#471265"/><stop offset="0.900" stop-color="#481d6f"/><stop offset="0.914" stop-color="#481466"/><stop offset="0.970" stop-color="#46307d"/><stop offset="0.998" stop-color="#404587"/></linearGradient><linearGradient id="c178" x1="0" y1="0" x2="0" y2="1"><stop offset="0.002" stop-color="#470e61"/><stop offset="0.030" stop-color="#481668"/><stop offset="0.035" stop-color="#481e70"/><stop offset="0.044" stop-color="#3d4d8a"/><stop offset="0.053" stop-color="#3a538b"/><stop offset="0.076" stop-color="#375a8d"/><stop offset="0.090" stop-color="#453882"/><stop offset="0.104" stop-color="#48186a"/><stop offset="0.137" stop-color="#471366"/><stop offset="0.183" stop-color="#472c7a"/><stop offset="0.234" stop-color="#2e708c"/><stop offset="0.257" stop-color="#369381"/><stop offset="0.289" stop-color="#66b164"/><stop offset="0.312" stop-color="#6cb365"/><stop offset="0.336" stop-color="#50a76e"/><stop offset="0.363" stop-color="#2d8488"/><stop offset="0.405" stop-color="#3f4586"/><stop offset="0.447" stop-color="#481d6f"/><stop offset="0.516" stop-color="#470d60"/><stop offset="0.868" stop-color="#471164"/><stop offset="0.896" stop-color="#481a6c"/><stop offset="0.900" stop-color="#482576"/><stop offset="0.914" stop-color="#481f70"/><stop offset="0.965" stop-color="#414387"/><stop offset="0.993" stop-color="#365c8d"/><stop offset="0.998" stop-color="#355e8d"/></linearGradient><linearGradient id="c179" x1="0" y1="0" x2="0" y2="1"><stop offset="0.002" stop-color="#470e61"/><stop offset="0.039" stop-color="#48196b"/><stop offset="0.044" stop-color="#482474"/><stop offset="0.053" stop-color="#3b508a"/><stop offset="0.062" stop-color="#365c8d"/><stop offset="0.076" stop-color="#365b8d"/><stop offset="0.090" stop-color="#453882"/><stop offset="0.104" stop-color="#48186a"/><stop offset="0.141" stop-color="#481366"/><stop offset="0.188" stop-color="#462f7c"/><stop offset="0.238" stop-color="#2d758b"/><stop offset="0.262" stop-color="#3b977d"/><stop offset="0.289" stop-color="#63ae65"/><stop offset="0.312" stop-color="#69b165"/><stop offset="0.336" stop-color="#4ea570"/><stop offset="0.363" stop-color="#2d8289"/><stop offset="0.410" stop-color="#423e83"/><stop offset="0.456" stop-color="#481769"/><stop offset="0.558" stop-color="#460b5e"/><stop offset="0.822" stop-color="#471164"/><stop offset="0.896" stop-color="#482978"/><stop offset="0.900" stop-color="#463480"/><stop offset="0.914" stop-color="#46307d"/><stop offset="0.970" stop-color="#355d8d"/><stop offset="0.993" stop-color="#2d708e"/><stop offset="0.998" stop-color="#2d718e"/></linearGradient><linearGradient id="c180" x1="0" y1="0" x2="0" y2="1"><stop offset="0.002" stop-color="#470e61"/><stop offset="0.049" stop-color="#481b6d"/><stop offset="0.058" stop-color="#443780"/><stop offset="0.067" stop-color="#355e8d"/><stop offset="0.076" stop-color="#34608d"/><stop offset="0.090" stop-color="#453882"/><stop offset="0.104" stop-color="#481769"/><stop offset="0.141" stop-color="#471264"/><stop offset="0.192" stop-color="#472c7a"/><stop offset="0.248" stop-color="#2f6d8c"/><stop offset="0.285" stop-color="#359182"/><stop offset="0.322" stop-color="#369381"/><stop offset="0.359" stop-color="#2e718b"/><stop offset="0.414" stop-color="#462f7c"/><stop offset="0.465" stop-color="#471265"/><stop offset="0.692" stop-color="#460b5f"/><stop offset="0.854" stop-color="#482676"/><stop offset="0.896" stop-color="#453580"/><stop offset="0.900" stop-color="#423f85"/><stop offset="0.919" stop-color="#433e85"/><stop offset="0.970" stop-color="#30698e"/><stop offset="0.988" stop-color="#297a8e"/><stop offset="0.998" stop-color="#287c8e"/></linearGradient><linearGradient id="c181" x1="0" y1="0" x2="0" y2="1"><stop offset="0.002" stop-color="#470e61"/><stop offset="0.049" stop-color="#481a6c"/><stop offset="0.058" stop-color="#472d7b"/><stop offset="0.067" stop-color="#39568b"/><stop offset="0.072" stop-color="#33628d"/><stop offset="0.081" stop-color="#38578c"/><stop offset="0.100" stop-color="#481f70"/><stop offset="0.118" stop-color="#471164"/><stop offset="0.169" stop-color="#482071"/><stop offset="0.215" stop-color="#3a5289"/><stop offset="0.248" stop-color="#2e8488"/><stop offset="0.285" stop-color="#5cac68"/><stop offset="0.308" stop-color="#69b267"/><stop offset="0.331" stop-color="#54a86b"/><stop offset="0.363" stop-color="#2e8289"/><stop offset="0.405" stop-color="#404485"/><stop offset="0.447" stop-color="#481c6e"/><stop offset="0.516" stop-color="#470c5f"/><stop offset="0.678" stop-color="#471163"/><stop offset="0.891" stop-color="#453681"/><stop offset="0.905" stop-color="#414387"/><stop offset="0.919" stop-color="#414287"/><stop offset="0.970" stop-color="#2f6d8e"/><stop offset="0.988" stop-color="#287d8e"/><stop offset="0.998" stop-color="#277f8e"/></linearGradient><linearGradient id="c182" x1="0" y1="0" x2="0" y2="1"><stop offset="0.002" stop-color="#470e61"/><stop offset="0.039" stop-color="#481769"/><stop offset="0.049" stop-color="#462c7a"/><stop offset="0.058" stop-color="#38578c"/><stop offset="0.072" stop-color="#355f8d"/><stop offset="0.086" stop-color="#3f4788"/><stop offset="0.100" stop-color="#481f70"/><stop offset="0.118" stop-color="#471164"/><stop offset="0.169" stop-color="#482071"/><stop offset="0.215" stop-color="#3a5289"/><stop offset="0.248" stop-color="#2e8488"/><stop offset="0.280" stop-color="#55a96a"/><stop offset="0.303" stop-color="#69b267"/><stop offset="0.326" stop-color="#5aac68"/><stop offset="0.359" stop-color="#318986"/><stop offset="0.382" stop-color="#32658b"/><stop offset="0.433" stop-color="#482676"/><stop offset="0.488" stop-color="#470e61"/><stop offset="0.674" stop-color="#471063"/><stop offset="0.891" stop-color="#453681"/><stop offset="0.905" stop-color="#414387"/><stop offset="0.919" stop-color="#414287"/><stop offset="0.970" stop-color="#2f6d8e"/><stop offset="0.988" stop-color="#287d8e"/><stop offset="0.998" stop-color="#277f8e"/></linearGradient><linearGradient id="c183" x1="0" y1="0" x2="0" y2="1"><stop offset="0.002" stop-color="#470e61"/><stop offset="0.035" stop-color="#481a6c"/><stop offset="0.039" stop-color="#472978"/><stop offset="0.049" stop-color="#3a548c"/><stop offset="0.076" stop-color="#375a8c"/><stop offset="0.090" stop-color="#453882"/><stop offset="0.104" stop-color="#48186a"/><stop offset="0.137" stop-color="#471365"/><stop offset="0.183" stop-color="#472b79"/><stop offset="0.234" stop-color="#2f6e8b"/><stop offset="0.257" stop-color="#369281"/><stop offset="0.289" stop-color="#61af67"/><stop offset="0.312" stop-color="#68b268"/><stop offset="0.336" stop-color="#4ca56f"/><stop offset="0.363" stop-color="#2e8288"/><stop offset="0.410" stop-color="#423e83"/><stop offset="0.451" stop-color="#48196c"/><stop offset="0.535" stop-color="#460b5e"/><stop offset="0.762" stop-color="#471265"/><stop offset="0.896" stop-color="#453580"/><stop offset="0.900" stop-color="#423f85"/><stop offset="0.919" stop-color="#433e85"/><stop offset="0.970" stop-color="#30698e"/><stop offset="0.988" stop-color="#297a8e"/><stop offset="0.998" stop-color="#287c8e"/></linearGradient><linearGradient id="c184" x1="0" y1="0" x2="0" y2="1"><stop offset="0.002" stop-color="#470e61"/><stop offset="0.030" stop-color="#48186b"/><stop offset="0.035" stop-color="#482979"/><stop offset="0.039" stop-color="#3f4788"/><stop offset="0.044" stop-color="#3b528b"/><stop offset="0.062" stop-color="#3b528b"/><stop offset="0.076" stop-color="#375a8c"/><stop offset="0.090" stop-color="#453782"/><stop offset="0.104" stop-color="#481769"/><stop offset="0.141" stop-color="#471264"/><stop offset="0.192" stop-color="#462d7a"/><stop offset="0.248" stop-color="#2f6f8c"/><stop offset="0.289" stop-color="#39967f"/><stop offset="0.322" stop-color="#38957f"/><stop offset="0.359" stop-color="#2d738b"/><stop offset="0.414" stop-color="#46307c"/><stop offset="0.465" stop-color="#471265"/><stop offset="0.715" stop-color="#460b5e"/><stop offset="0.845" stop-color="#481769"/><stop offset="0.896" stop-color="#482978"/><stop offset="0.900" stop-color="#463480"/><stop offset="0.914" stop-color="#46307d"/><stop offset="0.970" stop-color="#355d8d"/><stop offset="0.993" stop-color="#2d708e"/><stop offset="0.998" stop-color="#2d718e"/></linearGradient><linearGradient id="c185" x1="0" y1="0" x2="0" y2="1"><stop offset="0.002" stop-color="#470e61"/><stop offset="0.030" stop-color="#481668"/><stop offset="0.035" stop-color="#481f71"/><stop offset="0.044" stop-color="#3c4f8a"/><stop offset="0.076" stop-color="#375a8c"/><stop offset="0.090" stop-color="#453882"/><stop offset="0.104" stop-color="#48186a"/><stop offset="0.141" stop-color="#481366"/><stop offset="0.188" stop-color="#462f7c"/><stop offset="0.238" stop-color="#2d758b"/><stop offset="0.262" stop-color="#3a977e"/><stop offset="0.289" stop-color="#60ae68"/><stop offset="0.312" stop-color="#66b168"/><stop offset="0.336" stop-color="#4ca470"/><stop offset="0.363" stop-color="#2e8189"/><stop offset="0.405" stop-color="#404385"/><stop offset="0.451" stop-color="#48196c"/><stop offset="0.535" stop-color="#460b5e"/><stop offset="0.873" stop-color="#471164"/><stop offset="0.896" stop-color="#481a6c"/><stop offset="0.900" stop-color="#482475"/><stop offset="0.914" stop-color="#481f70"/><stop offset="0.965" stop-color="#414387"/><stop offset="0.993" stop-color="#365c8d"/><stop offset="0.998" stop-color="#355e8d"/></linearGradient><linearGradient id="c186" x1="0" y1="0" x2="0" y2="1"><stop offset="0.002" stop-color="#481467"/><stop offset="0.039" stop-color="#482071"/><stop offset="0.049" stop-color="#3f4686"/><stop offset="0.053" stop-color="#37598c"/><stop offset="0.076" stop-color="#34608d"/><stop offset="0.090" stop-color="#433e85"/><stop offset="0.104" stop-color="#481e70"/><stop offset="0.137" stop-color="#481b6d"/><stop offset="0.183" stop-color="#45347f"/><stop offset="0.234" stop-color="#2c788c"/><stop offset="0.257" stop-color="#399b7d"/><stop offset="0.280" stop-color="#62b266"/><stop offset="0.303" stop-color="#71b962"/><stop offset="0.326" stop-color="#67b466"/><stop offset="0.345" stop-color="#46a473"/><stop offset="0.368" stop-color="#2c8489"/><stop offset="0.414" stop-color="#414185"/><stop offset="0.461" stop-color="#481e6f"/><stop offset="0.567" stop-color="#471365"/><stop offset="0.896" stop-color="#481669"/><stop offset="0.900" stop-color="#482172"/><stop offset="0.914" stop-color="#48186a"/><stop offset="0.970" stop-color="#45347f"/><stop offset="0.998" stop-color="#3f4888"/></linearGradient><linearGradient id="c187" x1="0" y1="0" x2="0" y2="1"><stop offset="0.002" stop-color="#471164"/><stop offset="0.049" stop-color="#482071"/><stop offset="0.058" stop-color="#414084"/><stop offset="0.067" stop-color="#33638d"/><stop offset="0.076" stop-color="#33628d"/><stop offset="0.095" stop-color="#472e7c"/><stop offset="0.109" stop-color="#48186b"/><stop offset="0.155" stop-color="#481e6f"/><stop offset="0.201" stop-color="#3f4686"/><stop offset="0.243" stop-color="#2c8489"/><stop offset="0.266" stop-color="#47a373"/><stop offset="0.285" stop-color="#67b365"/><stop offset="0.312" stop-color="#6fb763"/><stop offset="0.331" stop-color="#5daf66"/><stop offset="0.359" stop-color="#329084"/><stop offset="0.382" stop-color="#306b8c"/><stop offset="0.433" stop-color="#472c7a"/><stop offset="0.484" stop-color="#481467"/><stop offset="0.896" stop-color="#471265"/><stop offset="0.900" stop-color="#481c6e"/><stop offset="0.914" stop-color="#471164"/><stop offset="0.975" stop-color="#482475"/><stop offset="0.998" stop-color="#46317e"/></linearGradient><linearGradient id="c188" x1="0" y1="0" x2="0" y2="1"><stop offset="0.002" stop-color="#470e61"/><stop offset="0.049" stop-color="#481b6d"/><stop offset="0.058" stop-color="#472b7a"/><stop offset="0.072" stop-color="#33628d"/><stop offset="0.076" stop-color="#33628d"/><stop offset="0.090" stop-color="#443982"/><stop offset="0.104" stop-color="#48186a"/><stop offset="0.137" stop-color="#471265"/><stop offset="0.188" stop-color="#472877"/><stop offset="0.248" stop-color="#2f6c8c"/><stop offset="0.285" stop-color="#349083"/><stop offset="0.317" stop-color="#379380"/><stop offset="0.359" stop-color="#2e708c"/><stop offset="0.419" stop-color="#472b79"/><stop offset="0.475" stop-color="#471163"/><stop offset="0.891" stop-color="#470f62"/><stop offset="0.900" stop-color="#481d6e"/><stop offset="0.914" stop-color="#481466"/><stop offset="0.970" stop-color="#46307d"/><stop offset="0.998" stop-color="#404587"/></linearGradient><linearGradient id="c189" x1="0" y1="0" x2="0" y2="1"><stop offset="0.002" stop-color="#471063"/><stop offset="0.044" stop-color="#481d6e"/><stop offset="0.049" stop-color="#472978"/><stop offset="0.058" stop-color="#39558b"/><stop offset="0.067" stop-color="#33628d"/><stop offset="0.081" stop-color="#39568c"/><stop offset="0.100" stop-color="#482172"/><stop offset="0.118" stop-color="#481467"/><stop offset="0.169" stop-color="#482374"/><stop offset="0.215" stop-color="#39568a"/><stop offset="0.243" stop-color="#2c8089"/><stop offset="0.266" stop-color="#43a076"/><stop offset="0.289" stop-color="#66b266"/><stop offset="0.317" stop-color="#6ab366"/><stop offset="0.336" stop-color="#50a86d"/><stop offset="0.363" stop-color="#2e8588"/><stop offset="0.400" stop-color="#3c4d88"/><stop offset="0.447" stop-color="#481f70"/><stop offset="0.521" stop-color="#470e61"/><stop offset="0.863" stop-color="#481466"/><stop offset="0.896" stop-color="#481e70"/><stop offset="0.900" stop-color="#472979"/><stop offset="0.914" stop-color="#482374"/><stop offset="0.965" stop-color="#3e4a89"/><stop offset="0.993" stop-color="#32668d"/><stop offset="0.998" stop-color="#31688e"/></linearGradient><linearGradient id="c190" x1="0" y1="0" x2="0" y2="1"><stop offset="0.002" stop-color="#470e61"/><stop offset="0.035" stop-color="#48186a"/><stop offset="0.039" stop-color="#482575"/><stop offset="0.049" stop-color="#3a538b"/><stop offset="0.076" stop-color="#375a8c"/><stop offset="0.090" stop-color="#453882"/><stop offset="0.104" stop-color="#48186a"/><stop offset="0.141" stop-color="#471366"/><stop offset="0.188" stop-color="#46307c"/><stop offset="0.238" stop-color="#2d758b"/><stop offset="0.262" stop-color="#3a977d"/><stop offset="0.289" stop-color="#61ae68"/><stop offset="0.312" stop-color="#67b168"/><stop offset="0.336" stop-color="#4ca570"/><stop offset="0.363" stop-color="#2e8288"/><stop offset="0.410" stop-color="#423e83"/><stop offset="0.456" stop-color="#48176a"/><stop offset="0.549" stop-color="#460b5e"/><stop offset="0.794" stop-color="#471264"/><stop offset="0.891" stop-color="#472a79"/><stop offset="0.905" stop-color="#443982"/><stop offset="0.914" stop-color="#453681"/><stop offset="0.965" stop-color="#32658d"/><stop offset="0.988" stop-color="#277f8e"/><stop offset="0.998" stop-color="#26828e"/></linearGradient><linearGradient id="c191" x1="0" y1="0" x2="0" y2="1"><stop offset="0.002" stop-color="#470e61"/><stop offset="0.030" stop-color="#48196b"/><stop offset="0.035" stop-color="#482878"/><stop offset="0.039" stop-color="#404688"/><stop offset="0.044" stop-color="#3b528b"/><stop offset="0.062" stop-color="#3a538b"/><stop offset="0.076" stop-color="#375b8d"/><stop offset="0.090" stop-color="#453882"/><stop offset="0.104" stop-color="#48196b"/><stop offset="0.137" stop-color="#471365"/><stop offset="0.183" stop-color="#472c7a"/><stop offset="0.234" stop-color="#2f6f8b"/><stop offset="0.257" stop-color="#369281"/><stop offset="0.285" stop-color="#5dac68"/><stop offset="0.308" stop-color="#68b267"/><stop offset="0.331" stop-color="#55a96b"/><stop offset="0.363" stop-color="#2e8288"/><stop offset="0.405" stop-color="#3f4485"/><stop offset="0.451" stop-color="#481a6c"/><stop offset="0.525" stop-color="#470d60"/><stop offset="0.729" stop-color="#481467"/><stop offset="0.845" stop-color="#443b83"/><stop offset="0.850" stop-color="#472d7b"/><stop offset="0.896" stop-color="#423f85"/><stop offset="0.900" stop-color="#3e4a89"/><stop offset="0.919" stop-color="#3e4a89"/><stop offset="0.965" stop-color="#2a768e"/><stop offset="0.984" stop-color="#20918c"/><stop offset="0.998" stop-color="#20948c"/></linearGradient><linearGradient id="c192" x1="0" y1="0" x2="0" y2="1"><stop offset="0.002" stop-color="#471365"/><stop offset="0.030" stop-color="#481b6d"/><stop offset="0.035" stop-color="#482777"/><stop offset="0.044" stop-color="#3a548c"/><stop offset="0.076" stop-color="#355e8d"/><stop offset="0.090" stop-color="#433d84"/><stop offset="0.104" stop-color="#481d6f"/><stop offset="0.141" stop-color="#48196b"/><stop offset="0.192" stop-color="#453680"/><stop offset="0.248" stop-color="#2b7a8b"/><stop offset="0.280" stop-color="#3d9c7b"/><stop offset="0.308" stop-color="#4aa572"/><stop offset="0.345" stop-color="#308f85"/><stop offset="0.373" stop-color="#306b8c"/><stop offset="0.428" stop-color="#472d7b"/><stop offset="0.484" stop-color="#481568"/><stop offset="0.627" stop-color="#481769"/><stop offset="0.836" stop-color="#404788"/><stop offset="0.845" stop-color="#3f4889"/><stop offset="0.850" stop-color="#443a83"/><stop offset="0.896" stop-color="#3e4a89"/><stop offset="0.905" stop-color="#39558c"/><stop offset="0.919" stop-color="#39558c"/><stop offset="0.965" stop-color="#26818e"/><stop offset="0.984" stop-color="#1e9c89"/><stop offset="0.998" stop-color="#1f9e89"/></linearGradient><linearGradient id="c193" x1="0" y1="0" x2="0" y2="1"><stop offset="0.002" stop-color="#470e61"/><stop offset="0.035" stop-color="#481769"/><stop offset="0.039" stop-color="#481d6e"/><stop offset="0.053" stop-color="#38578c"/><stop offset="0.076" stop-color="#365b8d"/><stop offset="0.090" stop-color="#443982"/><stop offset="0.104" stop-color="#48196b"/><stop offset="0.137" stop-color="#481466"/><stop offset="0.188" stop-color="#46317d"/><stop offset="0.238" stop-color="#2c778b"/><stop offset="0.262" stop-color="#3c997c"/><stop offset="0.289" stop-color="#66b164"/><stop offset="0.312" stop-color="#6cb364"/><stop offset="0.336" stop-color="#50a76e"/><stop offset="0.363" stop-color="#2d8488"/><stop offset="0.410" stop-color="#413f84"/><stop offset="0.456" stop-color="#48186b"/><stop offset="0.553" stop-color="#470d60"/><stop offset="0.590" stop-color="#471164"/><stop offset="0.711" stop-color="#46327f"/><stop offset="0.873" stop-color="#433e85"/><stop offset="0.896" stop-color="#3f4889"/><stop offset="0.905" stop-color="#3b528b"/><stop offset="0.919" stop-color="#3a538b"/><stop offset="0.965" stop-color="#277f8e"/><stop offset="0.984" stop-color="#1f9a8a"/><stop offset="0.998" stop-color="#1e9d89"/></linearGradient><linearGradient id="c194" x1="0" y1="0" x2="0" y2="1"><stop offset="0.002" stop-color="#470e61"/><stop offset="0.044" stop-color="#48186a"/><stop offset="0.053" stop-color="#462c7a"/><stop offset="0.062" stop-color="#38578b"/><stop offset="0.067" stop-color="#33628d"/><stop offset="0.076" stop-color="#355e8d"/><stop offset="0.090" stop-color="#453882"/><stop offset="0.104" stop-color="#48186a"/><stop offset="0.141" stop-color="#481366"/><stop offset="0.188" stop-color="#462f7c"/><stop offset="0.238" stop-color="#2d768b"/><stop offset="0.262" stop-color="#3b977d"/><stop offset="0.289" stop-color="#63af66"/><stop offset="0.312" stop-color="#69b166"/><stop offset="0.336" stop-color="#4ea56f"/><stop offset="0.363" stop-color="#2e8289"/><stop offset="0.405" stop-color="#404485"/><stop offset="0.451" stop-color="#48196c"/><stop offset="0.535" stop-color="#460b5e"/><stop offset="0.590" stop-color="#460c5f"/><stop offset="0.604" stop-color="#481567"/><stop offset="0.877" stop-color="#433d84"/><stop offset="0.896" stop-color="#404688"/><stop offset="0.900" stop-color="#3c508b"/><stop offset="0.919" stop-color="#3b508b"/><stop offset="0.965" stop-color="#287d8e"/><stop offset="0.984" stop-color="#1f988b"/><stop offset="0.998" stop-color="#1f9a8a"/></linearGradient><linearGradient id="c195" x1="0" y1="0" x2="0" y2="1"><stop offset="0.002" stop-color="#471063"/><stop offset="0.049" stop-color="#481c6e"/><stop offset="0.058" stop-color="#472b7a"/><stop offset="0.072" stop-color="#33638d"/><stop offset="0.076" stop-color="#32648e"/><stop offset="0.090" stop-color="#443a83"/><stop offset="0.104" stop-color="#481a6c"/><stop offset="0.141" stop-color="#481567"/><stop offset="0.192" stop-color="#46317d"/><stop offset="0.248" stop-color="#2d748c"/><stop offset="0.280" stop-color="#3a967e"/><stop offset="0.312" stop-color="#449e77"/><stop offset="0.350" stop-color="#2d8388"/><stop offset="0.400" stop-color="#404385"/><stop offset="0.447" stop-color="#481c6e"/><stop offset="0.530" stop-color="#470e61"/><stop offset="0.590" stop-color="#470e61"/><stop offset="0.604" stop-color="#481567"/><stop offset="0.762" stop-color="#481769"/><stop offset="0.891" stop-color="#443a83"/><stop offset="0.905" stop-color="#3f4889"/><stop offset="0.919" stop-color="#3f4989"/><stop offset="0.965" stop-color="#2b758e"/><stop offset="0.984" stop-color="#218f8d"/><stop offset="0.998" stop-color="#20928c"/></linearGradient><linearGradient id="c196" x1="0" y1="0" x2="0" y2="1"><stop offset="0.002" stop-color="#470e61"/><stop offset="0.044" stop-color="#48196b"/><stop offset="0.049" stop-color="#482373"/><stop offset="0.062" stop-color="#365d8d"/><stop offset="0.076" stop-color="#365d8d"/><stop offset="0.090" stop-color="#453882"/><stop offset="0.104" stop-color="#48186a"/><stop offset="0.141" stop-color="#471366"/><stop offset="0.188" stop-color="#46307c"/><stop offset="0.238" stop-color="#2c768b"/><stop offset="0.257" stop-color="#359282"/><stop offset="0.289" stop-color="#68af61"/><stop offset="0.312" stop-color="#6eb25f"/><stop offset="0.340" stop-color="#49a174"/><stop offset="0.363" stop-color="#2c8289"/><stop offset="0.410" stop-color="#423e83"/><stop offset="0.456" stop-color="#48176a"/><stop offset="0.549" stop-color="#460b5e"/><stop offset="0.817" stop-color="#471265"/><stop offset="0.896" stop-color="#472a79"/><stop offset="0.900" stop-color="#453580"/><stop offset="0.919" stop-color="#453580"/><stop offset="0.970" stop-color="#32668e"/><stop offset="0.988" stop-color="#297a8e"/><stop offset="0.998" stop-color="#287d8e"/></linearGradient><linearGradient id="c197" x1="0" y1="0" x2="0" y2="1"><stop offset="0.002" stop-color="#470e61"/><stop offset="0.035" stop-color="#48186a"/><stop offset="0.039" stop-color="#482273"/><stop offset="0.049" stop-color="#3b508a"/><stop offset="0.058" stop-color="#38578c"/><stop offset="0.076" stop-color="#375b8d"/><stop offset="0.090" stop-color="#453882"/><stop offset="0.104" stop-color="#48186a"/><stop offset="0.137" stop-color="#471365"/><stop offset="0.183" stop-color="#472c7a"/><stop offset="0.234" stop-color="#2e6f8c"/><stop offset="0.252" stop-color="#308c85"/><stop offset="0.285" stop-color="#63ad63"/><stop offset="0.308" stop-color="#70b35f"/><stop offset="0.331" stop-color="#5aaa69"/><stop offset="0.359" stop-color="#2f8a86"/><stop offset="0.382" stop-color="#32668c"/><stop offset="0.433" stop-color="#472676"/><stop offset="0.488" stop-color="#470f62"/><stop offset="0.863" stop-color="#471163"/><stop offset="0.896" stop-color="#481a6c"/><stop offset="0.900" stop-color="#482575"/><stop offset="0.914" stop-color="#481e70"/><stop offset="0.965" stop-color="#414386"/><stop offset="0.993" stop-color="#355e8d"/><stop offset="0.998" stop-color="#34608d"/></linearGradient><linearGradient id="c198" x1="0" y1="0" x2="0" y2="1"><stop offset="0.002" stop-color="#481668"/><stop offset="0.030" stop-color="#481f71"/><stop offset="0.035" stop-color="#472d7c"/><stop offset="0.039" stop-color="#3e4989"/><stop offset="0.044" stop-color="#38588c"/><stop offset="0.062" stop-color="#37598c"/><stop offset="0.076" stop-color="#34608d"/><stop offset="0.090" stop-color="#423f85"/><stop offset="0.104" stop-color="#482172"/><stop offset="0.141" stop-color="#481e70"/><stop offset="0.188" stop-color="#433c83"/><stop offset="0.238" stop-color="#2a838a"/><stop offset="0.257" stop-color="#3d9e7b"/><stop offset="0.280" stop-color="#6ab560"/><stop offset="0.303" stop-color="#7bbc5b"/><stop offset="0.326" stop-color="#6fb760"/><stop offset="0.350" stop-color="#43a277"/><stop offset="0.368" stop-color="#2b8889"/><stop offset="0.414" stop-color="#404586"/><stop offset="0.461" stop-color="#482072"/><stop offset="0.567" stop-color="#481467"/><stop offset="0.896" stop-color="#48196b"/><stop offset="0.900" stop-color="#482374"/><stop offset="0.914" stop-color="#48196b"/><stop offset="0.970" stop-color="#463480"/><stop offset="0.998" stop-color="#3f4888"/></linearGradient><linearGradient id="c199" x1="0" y1="0" x2="0" y2="1"><stop offset="0.002" stop-color="#471063"/><stop offset="0.030" stop-color="#48196b"/><stop offset="0.035" stop-color="#482676"/><stop offset="0.039" stop-color="#414186"/><stop offset="0.044" stop-color="#3a538b"/><stop offset="0.067" stop-color="#37598c"/><stop offset="0.076" stop-color="#365c8d"/><stop offset="0.090" stop-color="#443983"/><stop offset="0.104" stop-color="#481a6c"/><stop offset="0.141" stop-color="#481568"/><stop offset="0.192" stop-color="#46317d"/><stop offset="0.248" stop-color="#2c768b"/><stop offset="0.280" stop-color="#3a997e"/><stop offset="0.312" stop-color="#44a176"/><stop offset="0.350" stop-color="#2d8588"/><stop offset="0.391" stop-color="#3b4f89"/><stop offset="0.442" stop-color="#481f71"/><stop offset="0.521" stop-color="#470e61"/><stop offset="0.887" stop-color="#481467"/><stop offset="0.896" stop-color="#48186a"/><stop offset="0.900" stop-color="#482374"/><stop offset="0.914" stop-color="#481c6d"/><stop offset="0.965" stop-color="#433c83"/><stop offset="0.998" stop-color="#38578c"/></linearGradient><linearGradient id="c200" x1="0" y1="0" x2="0" y2="1"><stop offset="0.002" stop-color="#471063"/><stop offset="0.035" stop-color="#48186a"/><stop offset="0.039" stop-color="#482071"/><stop offset="0.049" stop-color="#3d4d89"/><stop offset="0.053" stop-color="#38598c"/><stop offset="0.076" stop-color="#365c8d"/><stop offset="0.090" stop-color="#443983"/><stop offset="0.104" stop-color="#481a6c"/><stop offset="0.141" stop-color="#481668"/><stop offset="0.188" stop-color="#45327e"/><stop offset="0.238" stop-color="#2c788b"/><stop offset="0.262" stop-color="#3d9a7c"/><stop offset="0.285" stop-color="#61af66"/><stop offset="0.303" stop-color="#6db464"/><stop offset="0.322" stop-color="#65b165"/><stop offset="0.354" stop-color="#359281"/><stop offset="0.377" stop-color="#2e6f8c"/><stop offset="0.428" stop-color="#472c7a"/><stop offset="0.479" stop-color="#471265"/><stop offset="0.808" stop-color="#471063"/><stop offset="0.896" stop-color="#482777"/><stop offset="0.900" stop-color="#46327e"/><stop offset="0.919" stop-color="#46307d"/><stop offset="0.970" stop-color="#355f8d"/><stop offset="0.988" stop-color="#2c738e"/><stop offset="0.998" stop-color="#2a768e"/></linearGradient><linearGradient id="c201" x1="0" y1="0" x2="0" y2="1"><stop offset="0.002" stop-color="#471164"/><stop offset="0.044" stop-color="#481c6e"/><stop offset="0.053" stop-color="#44357f"/><stop offset="0.062" stop-color="#355e8d"/><stop offset="0.072" stop-color="#32658e"/><stop offset="0.086" stop-color="#3e4b89"/><stop offset="0.100" stop-color="#482374"/><stop offset="0.118" stop-color="#481669"/><stop offset="0.169" stop-color="#482676"/><stop offset="0.215" stop-color="#37598b"/><stop offset="0.243" stop-color="#2c8389"/><stop offset="0.266" stop-color="#47a374"/><stop offset="0.285" stop-color="#66b264"/><stop offset="0.308" stop-color="#70b762"/><stop offset="0.326" stop-color="#64b265"/><stop offset="0.359" stop-color="#319084"/><stop offset="0.382" stop-color="#306b8c"/><stop offset="0.433" stop-color="#472c7a"/><stop offset="0.484" stop-color="#481567"/><stop offset="0.757" stop-color="#481567"/><stop offset="0.891" stop-color="#453781"/><stop offset="0.905" stop-color="#404688"/><stop offset="0.919" stop-color="#404688"/><stop offset="0.970" stop-color="#2a788e"/><stop offset="0.988" stop-color="#228c8d"/><stop offset="0.998" stop-color="#218f8d"/></linearGradient><linearGradient id="c202" x1="0" y1="0" x2="0" y2="1"><stop offset="0.002" stop-color="#470e61"/><stop offset="0.049" stop-color="#481a6c"/><stop offset="0.058" stop-color="#482979"/><stop offset="0.072" stop-color="#33628d"/><stop offset="0.076" stop-color="#33628d"/><stop offset="0.090" stop-color="#453882"/><stop offset="0.104" stop-color="#48186a"/><stop offset="0.141" stop-color="#471265"/><stop offset="0.192" stop-color="#462d7b"/><stop offset="0.248" stop-color="#2e718b"/><stop offset="0.280" stop-color="#389380"/><stop offset="0.312" stop-color="#419b79"/><stop offset="0.350" stop-color="#2d8089"/><stop offset="0.400" stop-color="#414084"/><stop offset="0.451" stop-color="#481769"/><stop offset="0.558" stop-color="#460b5e"/><stop offset="0.711" stop-color="#48176a"/><stop offset="0.891" stop-color="#424086"/><stop offset="0.905" stop-color="#3c4f8a"/><stop offset="0.919" stop-color="#3c4f8a"/><stop offset="0.965" stop-color="#297b8e"/><stop offset="0.984" stop-color="#1f968b"/><stop offset="0.998" stop-color="#1f988b"/></linearGradient><linearGradient id="c203" x1="0" y1="0" x2="0" y2="1"><stop offset="0.002" stop-color="#471164"/><stop offset="0.044" stop-color="#481b6d"/><stop offset="0.053" stop-color="#45347e"/><stop offset="0.062" stop-color="#365d8d"/><stop offset="0.072" stop-color="#32648e"/><stop offset="0.086" stop-color="#3e4a89"/><stop offset="0.100" stop-color="#482273"/><stop offset="0.118" stop-color="#481567"/><stop offset="0.169" stop-color="#482475"/><stop offset="0.215" stop-color="#38578a"/><stop offset="0.243" stop-color="#2b8289"/><stop offset="0.266" stop-color="#46a275"/><stop offset="0.289" stop-color="#6cb461"/><stop offset="0.312" stop-color="#72b661"/><stop offset="0.336" stop-color="#55aa6b"/><stop offset="0.363" stop-color="#2d8788"/><stop offset="0.405" stop-color="#3e4987"/><stop offset="0.451" stop-color="#481e70"/><stop offset="0.530" stop-color="#471063"/><stop offset="0.586" stop-color="#481466"/><stop offset="0.882" stop-color="#414387"/><stop offset="0.896" stop-color="#3e4a89"/><stop offset="0.900" stop-color="#3a548c"/><stop offset="0.919" stop-color="#3a548c"/><stop offset="0.965" stop-color="#26808e"/><stop offset="0.984" stop-color="#1e9c8a"/><stop offset="0.998" stop-color="#1f9e89"/></linearGradient><linearGradient id="c204" x1="0" y1="0" x2="0" y2="1"><stop offset="0.002" stop-color="#471164"/><stop offset="0.035" stop-color="#481a6c"/><stop offset="0.039" stop-color="#482273"/><stop offset="0.049" stop-color="#3c4f8a"/><stop offset="0.053" stop-color="#375a8c"/><stop offset="0.076" stop-color="#355e8d"/><stop offset="0.095" stop-color="#472d7c"/><stop offset="0.109" stop-color="#48196b"/><stop offset="0.155" stop-color="#481d6f"/><stop offset="0.201" stop-color="#3f4686"/><stop offset="0.243" stop-color="#2c8389"/><stop offset="0.266" stop-color="#47a374"/><stop offset="0.285" stop-color="#67b264"/><stop offset="0.308" stop-color="#71b762"/><stop offset="0.326" stop-color="#65b164"/><stop offset="0.359" stop-color="#318f84"/><stop offset="0.382" stop-color="#306b8c"/><stop offset="0.433" stop-color="#472c7a"/><stop offset="0.484" stop-color="#481467"/><stop offset="0.595" stop-color="#481567"/><stop offset="0.882" stop-color="#414387"/><stop offset="0.896" stop-color="#3e4a89"/><stop offset="0.900" stop-color="#3a548c"/><stop offset="0.919" stop-color="#39558c"/><stop offset="0.965" stop-color="#26818e"/><stop offset="0.984" stop-color="#1e9c8a"/><stop offset="0.998" stop-color="#1f9e89"/></linearGradient><linearGradient id="c205" x1="0" y1="0" x2="0" y2="1"><stop offset="0.002" stop-color="#471063"/><stop offset="0.030" stop-color="#48186a"/><stop offset="0.035" stop-color="#482575"/><stop offset="0.039" stop-color="#424186"/><stop offset="0.044" stop-color="#3b528b"/><stop offset="0.062" stop-color="#3a548b"/><stop offset="0.076" stop-color="#375b8d"/><stop offset="0.090" stop-color="#443982"/><stop offset="0.104" stop-color="#48196b"/><stop offset="0.141" stop-color="#481567"/><stop offset="0.188" stop-color="#46327d"/><stop offset="0.238" stop-color="#2c788b"/><stop offset="0.262" stop-color="#3c9a7c"/><stop offset="0.289" stop-color="#66b165"/><stop offset="0.312" stop-color="#6cb465"/><stop offset="0.336" stop-color="#50a76e"/><stop offset="0.363" stop-color="#2d8488"/><stop offset="0.405" stop-color="#3f4686"/><stop offset="0.451" stop-color="#481b6d"/><stop offset="0.535" stop-color="#470d60"/><stop offset="0.711" stop-color="#481568"/><stop offset="0.891" stop-color="#424086"/><stop offset="0.905" stop-color="#3c4e8a"/><stop offset="0.919" stop-color="#3c4e8a"/><stop offset="0.970" stop-color="#26818e"/><stop offset="0.988" stop-color="#1f968b"/><stop offset="0.998" stop-color="#1f978b"/></linearGradient><linearGradient id="c206" x1="0" y1="0" x2="0" y2="1"><stop offset="0.002" stop-color="#471365"/><stop offset="0.030" stop-color="#481c6d"/><stop offset="0.035" stop-color="#472a79"/><stop offset="0.039" stop-color="#404688"/><stop offset="0.044" stop-color="#39558c"/><stop offset="0.062" stop-color="#39568c"/><stop offset="0.076" stop-color="#365d8d"/><stop offset="0.090" stop-color="#443b84"/><stop offset="0.104" stop-color="#481c6e"/><stop offset="0.141" stop-color="#48186a"/><stop offset="0.192" stop-color="#45337e"/><stop offset="0.252" stop-color="#2c7a8b"/><stop offset="0.294" stop-color="#3c9c7b"/><stop offset="0.331" stop-color="#359581"/><stop offset="0.363" stop-color="#2d728c"/><stop offset="0.424" stop-color="#462e7b"/><stop offset="0.479" stop-color="#481567"/><stop offset="0.771" stop-color="#481567"/><stop offset="0.891" stop-color="#463480"/><stop offset="0.905" stop-color="#414387"/><stop offset="0.914" stop-color="#424086"/><stop offset="0.965" stop-color="#2e6e8e"/><stop offset="0.988" stop-color="#23898d"/><stop offset="0.998" stop-color="#228b8d"/></linearGradient><linearGradient id="c207" x1="0" y1="0" x2="0" y2="1"><stop offset="0.002" stop-color="#481467"/><stop offset="0.035" stop-color="#481d6f"/><stop offset="0.039" stop-color="#472777"/><stop offset="0.049" stop-color="#39548b"/><stop offset="0.058" stop-color="#365c8d"/><stop offset="0.076" stop-color="#345f8d"/><stop offset="0.090" stop-color="#433e85"/><stop offset="0.104" stop-color="#481f70"/><stop offset="0.141" stop-color="#481c6e"/><stop offset="0.188" stop-color="#443982"/><stop offset="0.238" stop-color="#2b808a"/><stop offset="0.262" stop-color="#40a177"/><stop offset="0.280" stop-color="#63b266"/><stop offset="0.303" stop-color="#71ba62"/><stop offset="0.326" stop-color="#68b466"/><stop offset="0.345" stop-color="#46a573"/><stop offset="0.368" stop-color="#2c8489"/><stop offset="0.414" stop-color="#414285"/><stop offset="0.461" stop-color="#481e70"/><stop offset="0.567" stop-color="#471365"/><stop offset="0.850" stop-color="#48196b"/><stop offset="0.896" stop-color="#482777"/><stop offset="0.900" stop-color="#46327f"/><stop offset="0.919" stop-color="#46307d"/><stop offset="0.970" stop-color="#365c8d"/><stop offset="0.993" stop-color="#2c728e"/><stop offset="0.998" stop-color="#2c748e"/></linearGradient><linearGradient id="c208" x1="0" y1="0" x2="0" y2="1"><stop offset="0.002" stop-color="#471365"/><stop offset="0.044" stop-color="#481e70"/><stop offset="0.049" stop-color="#472777"/><stop offset="0.062" stop-color="#34618d"/><stop offset="0.076" stop-color="#34618d"/><stop offset="0.095" stop-color="#472e7c"/><stop offset="0.109" stop-color="#481a6c"/><stop offset="0.155" stop-color="#481f71"/><stop offset="0.197" stop-color="#414185"/><stop offset="0.243" stop-color="#2d8589"/><stop offset="0.266" stop-color="#47a473"/><stop offset="0.285" stop-color="#67b366"/><stop offset="0.312" stop-color="#6eb764"/><stop offset="0.331" stop-color="#5daf67"/><stop offset="0.359" stop-color="#329183"/><stop offset="0.382" stop-color="#2f6d8c"/><stop offset="0.433" stop-color="#472d7b"/><stop offset="0.484" stop-color="#481568"/><stop offset="0.891" stop-color="#481668"/><stop offset="0.900" stop-color="#482374"/><stop offset="0.914" stop-color="#481b6d"/><stop offset="0.965" stop-color="#443882"/><stop offset="0.998" stop-color="#3a528b"/></linearGradient><linearGradient id="c209" x1="0" y1="0" x2="0" y2="1"><stop offset="0.002" stop-color="#470e61"/><stop offset="0.049" stop-color="#481a6c"/><stop offset="0.058" stop-color="#482979"/><stop offset="0.072" stop-color="#33628d"/><stop offset="0.076" stop-color="#33628d"/><stop offset="0.090" stop-color="#453882"/><stop offset="0.104" stop-color="#481769"/><stop offset="0.141" stop-color="#471164"/><stop offset="0.192" stop-color="#472b79"/><stop offset="0.248" stop-color="#306b8b"/><stop offset="0.285" stop-color="#348f83"/><stop offset="0.317" stop-color="#379380"/><stop offset="0.359" stop-color="#2e708b"/><stop offset="0.419" stop-color="#472a79"/><stop offset="0.475" stop-color="#471063"/><stop offset="0.896" stop-color="#471063"/><stop offset="0.900" stop-color="#481a6c"/><stop offset="0.919" stop-color="#471264"/><stop offset="0.970" stop-color="#462f7c"/><stop offset="0.998" stop-color="#3f4888"/></linearGradient><linearGradient id="c210" x1="0" y1="0" x2="0" y2="1"><stop offset="0.002" stop-color="#470e61"/><stop offset="0.044" stop-color="#48186a"/><stop offset="0.053" stop-color="#462c7a"/><stop offset="0.062" stop-color="#38578b"/><stop offset="0.072" stop-color="#33638d"/><stop offset="0.086" stop-color="#3f4788"/><stop offset="0.100" stop-color="#481f70"/><stop offset="0.118" stop-color="#471164"/><stop offset="0.169" stop-color="#482071"/><stop offset="0.215" stop-color="#3a5289"/><stop offset="0.248" stop-color="#2e8488"/><stop offset="0.285" stop-color="#5fac66"/><stop offset="0.308" stop-color="#6cb265"/><stop offset="0.331" stop-color="#57a86a"/><stop offset="0.363" stop-color="#2d8289"/><stop offset="0.405" stop-color="#404485"/><stop offset="0.447" stop-color="#481c6e"/><stop offset="0.521" stop-color="#470c5f"/><stop offset="0.877" stop-color="#471164"/><stop offset="0.896" stop-color="#48186a"/><stop offset="0.900" stop-color="#482374"/><stop offset="0.914" stop-color="#481d6f"/><stop offset="0.961" stop-color="#414286"/><stop offset="0.993" stop-color="#31688e"/><stop offset="0.998" stop-color="#306a8e"/></linearGradient><linearGradient id="c211" x1="0" y1="0" x2="0" y2="1"><stop offset="0.002" stop-color="#470e61"/><stop offset="0.035" stop-color="#481568"/><stop offset="0.039" stop-color="#481c6e"/><stop offset="0.053" stop-color="#39568c"/><stop offset="0.076" stop-color="#375b8d"/><stop offset="0.090" stop-color="#453882"/><stop offset="0.104" stop-color="#48186a"/><stop offset="0.141" stop-color="#471366"/><stop offset="0.188" stop-color="#46307c"/><stop offset="0.238" stop-color="#2d768b"/><stop offset="0.257" stop-color="#359281"/><stop offset="0.289" stop-color="#67af62"/><stop offset="0.312" stop-color="#6db160"/><stop offset="0.336" stop-color="#52a56e"/><stop offset="0.359" stop-color="#2f8986"/><stop offset="0.382" stop-color="#32658c"/><stop offset="0.433" stop-color="#482676"/><stop offset="0.488" stop-color="#470f62"/><stop offset="0.826" stop-color="#471063"/><stop offset="0.896" stop-color="#472a79"/><stop offset="0.900" stop-color="#453580"/><stop offset="0.914" stop-color="#46337f"/><stop offset="0.965" stop-color="#31668e"/><stop offset="0.988" stop-color="#25848e"/><stop offset="0.998" stop-color="#24888d"/></linearGradient><linearGradient id="c212" x1="0" y1="0" x2="0" y2="1"><stop offset="0.002" stop-color="#470e61"/><stop offset="0.030" stop-color="#481769"/><stop offset="0.035" stop-color="#482273"/><stop offset="0.044" stop-color="#3b518b"/><stop offset="0.067" stop-color="#38588c"/><stop offset="0.076" stop-color="#375a8c"/><stop offset="0.090" stop-color="#453882"/><stop offset="0.104" stop-color="#48186a"/><stop offset="0.137" stop-color="#471365"/><stop offset="0.183" stop-color="#472c7a"/><stop offset="0.234" stop-color="#2e6f8c"/><stop offset="0.252" stop-color="#308c85"/><stop offset="0.285" stop-color="#62ad64"/><stop offset="0.308" stop-color="#70b360"/><stop offset="0.331" stop-color="#5aaa69"/><stop offset="0.359" stop-color="#2f8a86"/><stop offset="0.382" stop-color="#32668c"/><stop offset="0.433" stop-color="#472676"/><stop offset="0.488" stop-color="#470f62"/><stop offset="0.766" stop-color="#471063"/><stop offset="0.891" stop-color="#443983"/><stop offset="0.905" stop-color="#3f4989"/><stop offset="0.919" stop-color="#3e4a89"/><stop offset="0.965" stop-color="#297a8e"/><stop offset="0.984" stop-color="#1f978b"/><stop offset="0.998" stop-color="#1f9a8a"/></linearGradient><linearGradient id="c213" x1="0" y1="0" x2="0" y2="1"><stop offset="0.002" stop-color="#470e61"/><stop offset="0.030" stop-color="#48186a"/><stop offset="0.035" stop-color="#482878"/><stop offset="0.039" stop-color="#404588"/><stop offset="0.044" stop-color="#3b528b"/><stop offset="0.062" stop-color="#3b528b"/><stop offset="0.076" stop-color="#375a8c"/><stop offset="0.090" stop-color="#453782"/><stop offset="0.104" stop-color="#48186a"/><stop offset="0.141" stop-color="#471264"/><stop offset="0.192" stop-color="#462c7a"/><stop offset="0.248" stop-color="#2f6f8c"/><stop offset="0.275" stop-color="#328d84"/><stop offset="0.312" stop-color="#3e997c"/><stop offset="0.350" stop-color="#2c7e8a"/><stop offset="0.405" stop-color="#433981"/><stop offset="0.451" stop-color="#481769"/><stop offset="0.544" stop-color="#460b5e"/><stop offset="0.697" stop-color="#471164"/><stop offset="0.891" stop-color="#414387"/><stop offset="0.905" stop-color="#3b528b"/><stop offset="0.919" stop-color="#3a538b"/><stop offset="0.965" stop-color="#26828e"/><stop offset="0.984" stop-color="#1f9f88"/><stop offset="0.998" stop-color="#1fa287"/></linearGradient><linearGradient id="c214" x1="0" y1="0" x2="0" y2="1"><stop offset="0.002" stop-color="#470e61"/><stop offset="0.035" stop-color="#48186a"/><stop offset="0.039" stop-color="#482575"/><stop offset="0.049" stop-color="#3a538b"/><stop offset="0.076" stop-color="#375a8c"/><stop offset="0.090" stop-color="#453882"/><stop offset="0.104" stop-color="#48186a"/><stop offset="0.137" stop-color="#471265"/><stop offset="0.183" stop-color="#472b79"/><stop offset="0.234" stop-color="#2f6e8c"/><stop offset="0.252" stop-color="#308b85"/><stop offset="0.285" stop-color="#63ad63"/><stop offset="0.308" stop-color="#71b25d"/><stop offset="0.331" stop-color="#5aa969"/><stop offset="0.359" stop-color="#2f8986"/><stop offset="0.382" stop-color="#32658c"/><stop offset="0.433" stop-color="#482676"/><stop offset="0.488" stop-color="#470f62"/><stop offset="0.660" stop-color="#460b5e"/><stop offset="0.725" stop-color="#482172"/><stop offset="0.887" stop-color="#414287"/><stop offset="0.896" stop-color="#3f4889"/><stop offset="0.900" stop-color="#3a538b"/><stop offset="0.919" stop-color="#3a548c"/><stop offset="0.961" stop-color="#287d8e"/><stop offset="0.984" stop-color="#1fa088"/><stop offset="0.998" stop-color="#1fa287"/></linearGradient><linearGradient id="c215" x1="0" y1="0" x2="0" y2="1"><stop offset="0.002" stop-color="#470e61"/><stop offset="0.044" stop-color="#481b6d"/><stop offset="0.049" stop-color="#472776"/><stop offset="0.058" stop-color="#3a538b"/><stop offset="0.067" stop-color="#34608d"/><stop offset="0.081" stop-color="#3a548b"/><stop offset="0.100" stop-color="#481f70"/><stop offset="0.118" stop-color="#471164"/><stop offset="0.169" stop-color="#482071"/><stop offset="0.215" stop-color="#3a5289"/><stop offset="0.248" stop-color="#2d8488"/><stop offset="0.285" stop-color="#62ad64"/><stop offset="0.308" stop-color="#70b25f"/><stop offset="0.331" stop-color="#5aa969"/><stop offset="0.359" stop-color="#2f8986"/><stop offset="0.382" stop-color="#32658c"/><stop offset="0.433" stop-color="#482676"/><stop offset="0.488" stop-color="#470f62"/><stop offset="0.706" stop-color="#471063"/><stop offset="0.891" stop-color="#414287"/><stop offset="0.905" stop-color="#3b518b"/><stop offset="0.919" stop-color="#3b528b"/><stop offset="0.965" stop-color="#26818e"/><stop offset="0.984" stop-color="#1f9e89"/><stop offset="0.998" stop-color="#1fa187"/></linearGradient><linearGradient id="c216" x1="0" y1="0" x2="0" y2="1"><stop offset="0.002" stop-color="#470e61"/><stop offset="0.049" stop-color="#481a6c"/><stop offset="0.058" stop-color="#472b7a"/><stop offset="0.072" stop-color="#33628d"/><stop offset="0.076" stop-color="#33628d"/><stop offset="0.090" stop-color="#453882"/><stop offset="0.104" stop-color="#48186a"/><stop offset="0.141" stop-color="#471265"/><stop offset="0.192" stop-color="#462d7b"/><stop offset="0.248" stop-color="#2e708c"/><stop offset="0.275" stop-color="#328f84"/><stop offset="0.308" stop-color="#409b7a"/><stop offset="0.345" stop-color="#2d8588"/><stop offset="0.396" stop-color="#3f4585"/><stop offset="0.442" stop-color="#481b6d"/><stop offset="0.544" stop-color="#460b5f"/><stop offset="0.789" stop-color="#471265"/><stop offset="0.896" stop-color="#443a83"/><stop offset="0.900" stop-color="#404587"/><stop offset="0.919" stop-color="#3f4788"/><stop offset="0.965" stop-color="#2a778e"/><stop offset="0.984" stop-color="#20938c"/><stop offset="0.998" stop-color="#1f988b"/></linearGradient><linearGradient id="c217" x1="0" y1="0" x2="0" y2="1"><stop offset="0.002" stop-color="#470e61"/><stop offset="0.049" stop-color="#481d6f"/><stop offset="0.058" stop-color="#423e83"/><stop offset="0.067" stop-color="#34618d"/><stop offset="0.076" stop-color="#34608d"/><stop offset="0.090" stop-color="#443982"/><stop offset="0.104" stop-color="#48196b"/><stop offset="0.141" stop-color="#481467"/><stop offset="0.188" stop-color="#46317d"/><stop offset="0.238" stop-color="#2c778b"/><stop offset="0.257" stop-color="#369381"/><stop offset="0.289" stop-color="#6ab061"/><stop offset="0.312" stop-color="#70b25f"/><stop offset="0.336" stop-color="#53a66d"/><stop offset="0.363" stop-color="#2c8389"/><stop offset="0.405" stop-color="#3f4586"/><stop offset="0.451" stop-color="#481b6d"/><stop offset="0.461" stop-color="#481f71"/><stop offset="0.572" stop-color="#470e61"/><stop offset="0.845" stop-color="#471265"/><stop offset="0.896" stop-color="#482676"/><stop offset="0.900" stop-color="#46327e"/><stop offset="0.914" stop-color="#462f7c"/><stop offset="0.965" stop-color="#34618d"/><stop offset="0.988" stop-color="#277f8e"/><stop offset="0.998" stop-color="#26838e"/></linearGradient><linearGradient id="c218" x1="0" y1="0" x2="0" y2="1"><stop offset="0.002" stop-color="#471063"/><stop offset="0.039" stop-color="#481b6d"/><stop offset="0.044" stop-color="#472978"/><stop offset="0.053" stop-color="#39558b"/><stop offset="0.076" stop-color="#365c8d"/><stop offset="0.090" stop-color="#443983"/><stop offset="0.104" stop-color="#48196b"/><stop offset="0.141" stop-color="#481568"/><stop offset="0.188" stop-color="#45327d"/><stop offset="0.238" stop-color="#2c788b"/><stop offset="0.257" stop-color="#379480"/><stop offset="0.289" stop-color="#6eb05d"/><stop offset="0.312" stop-color="#74b35b"/><stop offset="0.340" stop-color="#4ea372"/><stop offset="0.363" stop-color="#2c8488"/><stop offset="0.405" stop-color="#3f4686"/><stop offset="0.451" stop-color="#481b6d"/><stop offset="0.461" stop-color="#482172"/><stop offset="0.720" stop-color="#470d60"/><stop offset="0.891" stop-color="#481466"/><stop offset="0.900" stop-color="#482273"/><stop offset="0.914" stop-color="#481b6d"/><stop offset="0.961" stop-color="#433d84"/><stop offset="0.993" stop-color="#34628d"/><stop offset="0.998" stop-color="#32658d"/></linearGradient><linearGradient id="c219" x1="0" y1="0" x2="0" y2="1"><stop offset="0.002" stop-color="#470e61"/><stop offset="0.030" stop-color="#481668"/><stop offset="0.035" stop-color="#481f71"/><stop offset="0.044" stop-color="#3c4f8a"/><stop offset="0.076" stop-color="#375a8c"/><stop offset="0.090" stop-color="#453882"/><stop offset="0.104" stop-color="#48186a"/><stop offset="0.137" stop-color="#471265"/><stop offset="0.188" stop-color="#462f7c"/><stop offset="0.238" stop-color="#2c768c"/><stop offset="0.257" stop-color="#359282"/><stop offset="0.289" stop-color="#6baf5e"/><stop offset="0.312" stop-color="#71b25a"/><stop offset="0.340" stop-color="#4ba174"/><stop offset="0.363" stop-color="#2b8289"/><stop offset="0.405" stop-color="#404485"/><stop offset="0.451" stop-color="#48196c"/><stop offset="0.641" stop-color="#481567"/><stop offset="0.873" stop-color="#460b5f"/><stop offset="0.896" stop-color="#470f62"/><stop offset="0.900" stop-color="#481a6c"/><stop offset="0.914" stop-color="#470f62"/><stop offset="0.965" stop-color="#482676"/><stop offset="0.998" stop-color="#404688"/></linearGradient><linearGradient id="c220" x1="0" y1="0" x2="0" y2="1"><stop offset="0.002" stop-color="#470e61"/><stop offset="0.030" stop-color="#48186b"/><stop offset="0.035" stop-color="#482979"/><stop offset="0.039" stop-color="#3f4788"/><stop offset="0.044" stop-color="#3b528b"/><stop offset="0.062" stop-color="#3b528b"/><stop offset="0.076" stop-color="#375a8c"/><stop offset="0.090" stop-color="#453782"/><stop offset="0.104" stop-color="#48186a"/><stop offset="0.137" stop-color="#471164"/><stop offset="0.188" stop-color="#472a79"/><stop offset="0.243" stop-color="#2f6e8c"/><stop offset="0.266" stop-color="#2f8b85"/><stop offset="0.299" stop-color="#49a075"/><stop offset="0.326" stop-color="#3f9a7b"/><stop offset="0.354" stop-color="#2b7f8a"/><stop offset="0.405" stop-color="#423c82"/><stop offset="0.451" stop-color="#48176a"/><stop offset="0.525" stop-color="#471063"/><stop offset="0.664" stop-color="#481c6e"/><stop offset="0.859" stop-color="#460b5e"/><stop offset="0.896" stop-color="#470f62"/><stop offset="0.900" stop-color="#481a6c"/><stop offset="0.914" stop-color="#471164"/><stop offset="0.956" stop-color="#472c7a"/><stop offset="0.998" stop-color="#34618d"/></linearGradient><linearGradient id="c221" x1="0" y1="0" x2="0" y2="1"><stop offset="0.002" stop-color="#471063"/><stop offset="0.035" stop-color="#481c6e"/><stop offset="0.039" stop-color="#472b79"/><stop offset="0.044" stop-color="#3f4687"/><stop offset="0.049" stop-color="#39568c"/><stop offset="0.076" stop-color="#365c8d"/><stop offset="0.090" stop-color="#443a83"/><stop offset="0.104" stop-color="#481a6c"/><stop offset="0.137" stop-color="#481568"/><stop offset="0.183" stop-color="#462f7c"/><stop offset="0.234" stop-color="#2d728c"/><stop offset="0.252" stop-color="#318f84"/><stop offset="0.285" stop-color="#69b060"/><stop offset="0.308" stop-color="#77b55a"/><stop offset="0.331" stop-color="#60ac65"/><stop offset="0.363" stop-color="#2c8688"/><stop offset="0.405" stop-color="#3e4787"/><stop offset="0.451" stop-color="#481d6e"/><stop offset="0.530" stop-color="#470f62"/><stop offset="0.734" stop-color="#482072"/><stop offset="0.873" stop-color="#471164"/><stop offset="0.896" stop-color="#481b6d"/><stop offset="0.900" stop-color="#482777"/><stop offset="0.914" stop-color="#482474"/><stop offset="0.956" stop-color="#3b508a"/><stop offset="0.988" stop-color="#26838e"/><stop offset="0.998" stop-color="#238a8d"/></linearGradient><linearGradient id="c222" x1="0" y1="0" x2="0" y2="1"><stop offset="0.002" stop-color="#470e61"/><stop offset="0.039" stop-color="#481769"/><stop offset="0.049" stop-color="#462c7a"/><stop offset="0.058" stop-color="#38578c"/><stop offset="0.072" stop-color="#355f8d"/><stop offset="0.086" stop-color="#3f4788"/><stop offset="0.100" stop-color="#481f70"/><stop offset="0.118" stop-color="#471163"/><stop offset="0.169" stop-color="#482071"/><stop offset="0.215" stop-color="#3a5289"/><stop offset="0.248" stop-color="#2c8488"/><stop offset="0.280" stop-color="#5eaa67"/><stop offset="0.303" stop-color="#73b25b"/><stop offset="0.326" stop-color="#63ac64"/><stop offset="0.359" stop-color="#2e8986"/><stop offset="0.382" stop-color="#32658c"/><stop offset="0.433" stop-color="#472676"/><stop offset="0.488" stop-color="#470f62"/><stop offset="0.669" stop-color="#471265"/><stop offset="0.794" stop-color="#482273"/><stop offset="0.868" stop-color="#472575"/><stop offset="0.877" stop-color="#482273"/><stop offset="0.896" stop-color="#46307d"/><stop offset="0.900" stop-color="#433c84"/><stop offset="0.914" stop-color="#433d84"/><stop offset="0.965" stop-color="#287d8e"/><stop offset="0.984" stop-color="#20a088"/><stop offset="0.998" stop-color="#23a784"/></linearGradient><linearGradient id="c223" x1="0" y1="0" x2="0" y2="1"><stop offset="0.002" stop-color="#470e61"/><stop offset="0.049" stop-color="#481a6c"/><stop offset="0.058" stop-color="#472d7b"/><stop offset="0.067" stop-color="#39568b"/><stop offset="0.072" stop-color="#33628d"/><stop offset="0.081" stop-color="#38578c"/><stop offset="0.100" stop-color="#481f70"/><stop offset="0.118" stop-color="#471163"/><stop offset="0.169" stop-color="#482071"/><stop offset="0.215" stop-color="#3a5289"/><stop offset="0.248" stop-color="#2c8488"/><stop offset="0.280" stop-color="#5eaa67"/><stop offset="0.303" stop-color="#74b25a"/><stop offset="0.326" stop-color="#63ac64"/><stop offset="0.359" stop-color="#2e8986"/><stop offset="0.382" stop-color="#32658c"/><stop offset="0.433" stop-color="#482676"/><stop offset="0.488" stop-color="#470f62"/><stop offset="0.725" stop-color="#471164"/><stop offset="0.808" stop-color="#472d7b"/><stop offset="0.868" stop-color="#3e4988"/><stop offset="0.873" stop-color="#453781"/><stop offset="0.896" stop-color="#404788"/><stop offset="0.900" stop-color="#3b528b"/><stop offset="0.919" stop-color="#39578c"/><stop offset="0.961" stop-color="#24878e"/><stop offset="0.975" stop-color="#20a287"/><stop offset="0.988" stop-color="#30b47c"/><stop offset="0.998" stop-color="#35b779"/></linearGradient><linearGradient id="c224" x1="0" y1="0" x2="0" y2="1"><stop offset="0.002" stop-color="#470e61"/><stop offset="0.049" stop-color="#481b6d"/><stop offset="0.058" stop-color="#443780"/><stop offset="0.067" stop-color="#355e8d"/><stop offset="0.076" stop-color="#34608d"/><stop offset="0.090" stop-color="#453882"/><stop offset="0.104" stop-color="#48186a"/><stop offset="0.137" stop-color="#471265"/><stop offset="0.183" stop-color="#472b79"/><stop offset="0.234" stop-color="#2f6e8c"/><stop offset="0.252" stop-color="#2f8b85"/><stop offset="0.285" stop-color="#65ad62"/><stop offset="0.308" stop-color="#74b259"/><stop offset="0.331" stop-color="#5ca968"/><stop offset="0.359" stop-color="#2e8986"/><stop offset="0.382" stop-color="#32658c"/><stop offset="0.433" stop-color="#482676"/><stop offset="0.488" stop-color="#470f62"/><stop offset="0.725" stop-color="#471063"/><stop offset="0.854" stop-color="#3e4b89"/><stop offset="0.868" stop-color="#3a538b"/><stop offset="0.873" stop-color="#414286"/><stop offset="0.896" stop-color="#3c4f8b"/><stop offset="0.905" stop-color="#375a8d"/><stop offset="0.919" stop-color="#355d8d"/><stop offset="0.961" stop-color="#228d8d"/><stop offset="0.975" stop-color="#22a884"/><stop offset="0.984" stop-color="#36b878"/><stop offset="0.998" stop-color="#3dbb74"/></linearGradient><linearGradient id="c225" x1="0" y1="0" x2="0" y2="1"><stop offset="0.002" stop-color="#470e61"/><stop offset="0.039" stop-color="#48196b"/><stop offset="0.044" stop-color="#472474"/><stop offset="0.053" stop-color="#3b518a"/><stop offset="0.062" stop-color="#365c8d"/><stop offset="0.076" stop-color="#365c8d"/><stop offset="0.090" stop-color="#453882"/><stop offset="0.104" stop-color="#48186a"/><stop offset="0.137" stop-color="#471365"/><stop offset="0.188" stop-color="#472b79"/><stop offset="0.243" stop-color="#2f6e8c"/><stop offset="0.266" stop-color="#2f8c85"/><stop offset="0.303" stop-color="#4ba174"/><stop offset="0.331" stop-color="#3c977e"/><stop offset="0.354" stop-color="#2b7f8a"/><stop offset="0.405" stop-color="#423d83"/><stop offset="0.451" stop-color="#48196b"/><stop offset="0.544" stop-color="#470d60"/><stop offset="0.725" stop-color="#471063"/><stop offset="0.868" stop-color="#404688"/><stop offset="0.891" stop-color="#3d4c8a"/><stop offset="0.905" stop-color="#365b8d"/><stop offset="0.919" stop-color="#355e8d"/><stop offset="0.961" stop-color="#228e8d"/><stop offset="0.975" stop-color="#23a884"/><stop offset="0.984" stop-color="#37b878"/><stop offset="0.998" stop-color="#3ebc74"/></linearGradient><linearGradient id="c226" x1="0" y1="0" x2="0" y2="1"><stop offset="0.002" stop-color="#471063"/><stop offset="0.030" stop-color="#481769"/><stop offset="0.035" stop-color="#482071"/><stop offset="0.044" stop-color="#3c4e8a"/><stop offset="0.053" stop-color="#39558c"/><stop offset="0.076" stop-color="#365c8d"/><stop offset="0.090" stop-color="#443a83"/><stop offset="0.104" stop-color="#481a6c"/><stop offset="0.137" stop-color="#481568"/><stop offset="0.183" stop-color="#462e7c"/><stop offset="0.234" stop-color="#2d728c"/><stop offset="0.252" stop-color="#318f84"/><stop offset="0.285" stop-color="#6bb05e"/><stop offset="0.303" stop-color="#7ab555"/><stop offset="0.326" stop-color="#6aaf5f"/><stop offset="0.359" stop-color="#308d85"/><stop offset="0.377" stop-color="#2e708c"/><stop offset="0.428" stop-color="#462d7b"/><stop offset="0.479" stop-color="#471365"/><stop offset="0.785" stop-color="#471366"/><stop offset="0.896" stop-color="#3f4889"/><stop offset="0.905" stop-color="#39558c"/><stop offset="0.919" stop-color="#38588c"/><stop offset="0.961" stop-color="#23898d"/><stop offset="0.975" stop-color="#20a386"/><stop offset="0.988" stop-color="#32b57a"/><stop offset="0.998" stop-color="#37b878"/></linearGradient><linearGradient id="c227" x1="0" y1="0" x2="0" y2="1"><stop offset="0.002" stop-color="#470e61"/><stop offset="0.030" stop-color="#48196b"/><stop offset="0.035" stop-color="#472a79"/><stop offset="0.039" stop-color="#3f4888"/><stop offset="0.044" stop-color="#3b528b"/><stop offset="0.062" stop-color="#3b528b"/><stop offset="0.076" stop-color="#375a8c"/><stop offset="0.090" stop-color="#453882"/><stop offset="0.104" stop-color="#48186a"/><stop offset="0.137" stop-color="#471265"/><stop offset="0.183" stop-color="#472b79"/><stop offset="0.234" stop-color="#2f6e8c"/><stop offset="0.252" stop-color="#2f8b85"/><stop offset="0.285" stop-color="#65ad63"/><stop offset="0.308" stop-color="#73b25a"/><stop offset="0.331" stop-color="#5ca969"/><stop offset="0.359" stop-color="#2e8986"/><stop offset="0.382" stop-color="#32658c"/><stop offset="0.433" stop-color="#482676"/><stop offset="0.488" stop-color="#470f62"/><stop offset="0.836" stop-color="#471063"/><stop offset="0.896" stop-color="#46307d"/><stop offset="0.900" stop-color="#433c84"/><stop offset="0.914" stop-color="#433d84"/><stop offset="0.965" stop-color="#287d8e"/><stop offset="0.984" stop-color="#20a088"/><stop offset="0.998" stop-color="#23a784"/></linearGradient><linearGradient id="c228" x1="0" y1="0" x2="0" y2="1"><stop offset="0.002" stop-color="#470e61"/><stop offset="0.030" stop-color="#481467"/><stop offset="0.035" stop-color="#481b6d"/><stop offset="0.044" stop-color="#3f4888"/><stop offset="0.049" stop-color="#39558c"/><stop offset="0.076" stop-color="#375a8c"/><stop offset="0.090" stop-color="#453882"/><stop offset="0.104" stop-color="#48186a"/><stop offset="0.137" stop-color="#471265"/><stop offset="0.183" stop-color="#472b79"/><stop offset="0.234" stop-color="#2f6f8c"/><stop offset="0.252" stop-color="#308c85"/><stop offset="0.285" stop-color="#66ad62"/><stop offset="0.308" stop-color="#74b259"/><stop offset="0.331" stop-color="#5da968"/><stop offset="0.359" stop-color="#2f8a86"/><stop offset="0.377" stop-color="#2f6c8c"/><stop offset="0.428" stop-color="#472a78"/><stop offset="0.479" stop-color="#471063"/><stop offset="0.775" stop-color="#471264"/><stop offset="0.822" stop-color="#481568"/><stop offset="0.826" stop-color="#460b5e"/><stop offset="0.891" stop-color="#481567"/><stop offset="0.900" stop-color="#482575"/><stop offset="0.914" stop-color="#482272"/><stop offset="0.961" stop-color="#39558b"/><stop offset="0.988" stop-color="#26818e"/><stop offset="0.998" stop-color="#24888d"/></linearGradient><linearGradient id="c229" x1="0" y1="0" x2="0" y2="1"><stop offset="0.002" stop-color="#470e61"/><stop offset="0.039" stop-color="#481769"/><stop offset="0.044" stop-color="#481f70"/><stop offset="0.058" stop-color="#37598c"/><stop offset="0.076" stop-color="#365b8d"/><stop offset="0.090" stop-color="#453882"/><stop offset="0.104" stop-color="#48186a"/><stop offset="0.137" stop-color="#471264"/><stop offset="0.183" stop-color="#472776"/><stop offset="0.243" stop-color="#2f6e8c"/><stop offset="0.266" stop-color="#308c85"/><stop offset="0.303" stop-color="#4ba273"/><stop offset="0.336" stop-color="#379480"/><stop offset="0.359" stop-color="#2c798b"/><stop offset="0.414" stop-color="#45337e"/><stop offset="0.461" stop-color="#481568"/><stop offset="0.576" stop-color="#471063"/><stop offset="0.822" stop-color="#482878"/><stop offset="0.826" stop-color="#460b5e"/><stop offset="0.896" stop-color="#470f62"/><stop offset="0.900" stop-color="#481a6c"/><stop offset="0.914" stop-color="#471164"/><stop offset="0.956" stop-color="#472c7a"/><stop offset="0.998" stop-color="#34618d"/></linearGradient><linearGradient id="c230" x1="0" y1="0" x2="0" y2="1"><stop offset="0.002" stop-color="#470e61"/><stop offset="0.049" stop-color="#481a6c"/><stop offset="0.058" stop-color="#46317d"/><stop offset="0.067" stop-color="#37598c"/><stop offset="0.072" stop-color="#33638d"/><stop offset="0.081" stop-color="#38578c"/><stop offset="0.100" stop-color="#481f70"/><stop offset="0.118" stop-color="#471164"/><stop offset="0.169" stop-color="#482071"/><stop offset="0.215" stop-color="#3a5389"/><stop offset="0.248" stop-color="#2d8588"/><stop offset="0.285" stop-color="#63ad63"/><stop offset="0.308" stop-color="#71b25f"/><stop offset="0.331" stop-color="#5aa969"/><stop offset="0.359" stop-color="#2f8a86"/><stop offset="0.382" stop-color="#32658c"/><stop offset="0.424" stop-color="#45337e"/><stop offset="0.470" stop-color="#481a6c"/><stop offset="0.660" stop-color="#482475"/><stop offset="0.822" stop-color="#482878"/><stop offset="0.826" stop-color="#460b5e"/><stop offset="0.896" stop-color="#470e61"/><stop offset="0.900" stop-color="#48186a"/><stop offset="0.914" stop-color="#470c5f"/><stop offset="0.965" stop-color="#481c6d"/><stop offset="0.998" stop-color="#443a82"/></linearGradient><linearGradient id="c231" x1="0" y1="0" x2="0" y2="1"><stop offset="0.002" stop-color="#470e61"/><stop offset="0.049" stop-color="#481c6d"/><stop offset="0.058" stop-color="#45337e"/><stop offset="0.067" stop-color="#365b8c"/><stop offset="0.072" stop-color="#32648d"/><stop offset="0.081" stop-color="#38578c"/><stop offset="0.100" stop-color="#481f71"/><stop offset="0.118" stop-color="#471265"/><stop offset="0.169" stop-color="#482172"/><stop offset="0.215" stop-color="#395489"/><stop offset="0.248" stop-color="#2d8588"/><stop offset="0.285" stop-color="#64ae63"/><stop offset="0.308" stop-color="#71b35f"/><stop offset="0.331" stop-color="#5baa68"/><stop offset="0.359" stop-color="#2f8a86"/><stop offset="0.382" stop-color="#32668c"/><stop offset="0.405" stop-color="#3f4586"/><stop offset="0.414" stop-color="#404486"/><stop offset="0.461" stop-color="#482575"/><stop offset="0.822" stop-color="#481769"/><stop offset="0.831" stop-color="#470d60"/><stop offset="0.896" stop-color="#470e61"/><stop offset="0.900" stop-color="#481a6c"/><stop offset="0.914" stop-color="#470d60"/><stop offset="0.984" stop-color="#48176a"/><stop offset="0.998" stop-color="#481f70"/></linearGradient><linearGradient id="c232" x1="0" y1="0" x2="0" y2="1"><stop offset="0.002" stop-color="#470e61"/><stop offset="0.039" stop-color="#48186a"/><stop offset="0.044" stop-color="#482071"/><stop offset="0.058" stop-color="#375a8c"/><stop offset="0.076" stop-color="#365b8d"/><stop offset="0.090" stop-color="#453882"/><stop offset="0.104" stop-color="#48186a"/><stop offset="0.141" stop-color="#471366"/><stop offset="0.188" stop-color="#46307c"/><stop offset="0.238" stop-color="#2c768b"/><stop offset="0.257" stop-color="#359281"/><stop offset="0.289" stop-color="#67af62"/><stop offset="0.312" stop-color="#6eb261"/><stop offset="0.336" stop-color="#51a66e"/><stop offset="0.363" stop-color="#2d8389"/><stop offset="0.405" stop-color="#3f4485"/><stop offset="0.414" stop-color="#404285"/><stop offset="0.461" stop-color="#482172"/><stop offset="0.627" stop-color="#471265"/><stop offset="0.896" stop-color="#470e61"/><stop offset="0.900" stop-color="#48186a"/><stop offset="0.919" stop-color="#460b5e"/><stop offset="0.998" stop-color="#471163"/></linearGradient></defs>
<rect x="34.80" y="21.80" width="231.60" height="215.80" fill="#440154"/><g shape-rendering="crispEdges"><rect x="408" y="21.80" width="1" height="215.80" fill="url(#c0)"/><rect x="409" y="21.80" width="1" height="215.80" fill="url(#c1)"/><rect x="410" y="21.80" width="1" height="215.80" fill="url(#c2)"/><rect x="411" y="21.80" width="1" height="215.80" fill="url(#c3)"/><rect x="412" y="21.80" width="1" height="215.80" fill="url(#c4)"/><rect x="413" y="21.80" width="1" height="215.80" fill="url(#c5)"/><rect x="414" y="21.80" width="1" height="215.80" fill="url(#c6)"/><rect x="415" y="21.80" width="1" height="215.80" fill="url(#c7)"/><rect x="416" y="21.80" width="1" height="215.80" fill="url(#c8)"/><rect x="417" y="21.80" width="1" height="215.80" fill="url(#c9)"/><rect x="418" y="21.80" width="1" height="215.80" fill="url(#c10)"/><rect x="419" y="21.80" width="1" height="215.80" fill="url(#c11)"/><rect x="420" y="21.80" width="1" height="215.80" fill="url(#c12)"/><rect x="421" y="21.80" width="1" height="215.80" fill="url(#c13)"/><rect x="422" y="21.80" width="1" height="215.80" fill="url(#c14)"/><rect x="423" y="21.80" width="1" height="215.80" fill="url(#c15)"/><rect x="424" y="21.80" width="1" height="215.80" fill="url(#c16)"/><rect x="425" y="21.80" width="1" height="215.80" fill="url(#c17)"/><rect x="426" y="21.80" width="1" height="215.80" fill="url(#c18)"/><rect x="427" y="21.80" width="1" height="215.80" fill="url(#c19)"/><rect x="428" y="21.80" width="1" height="215.80" fill="url(#c20)"/><rect x="429" y="21.80" width="1" height="215.80" fill="url(#c21)"/><rect x="430" y="21.80" width="1" height="215.80" fill="url(#c22)"/><rect x="431" y="21.80" width="1" height="215.80" fill="url(#c23)"/><rect x="432" y="21.80" width="1" height="215.80" fill="url(#c24)"/><rect x="433" y="21.80" width="1" height="215.80" fill="url(#c25)"/><rect x="434" y="21.80" width="1" height="215.80" fill="url(#c26)"/><rect x="435" y="21.80" width="1" height="215.80" fill="url(#c27)"/><rect x="436" y="21.80" width="1" height="215.80" fill="url(#c28)"/><rect x="437" y="21.80" width="1" height="215.80" fill="url(#c29)"/><rect x="438" y="21.80" width="1" height="215.80" fill="url(#c30)"/><rect x="439" y="21.80" width="1" height="215.80" fill="url(#c31)"/><rect x="440" y="21.80" width="1" height="215.80" fill="url(#c32)"/><rect x="441" y="21.80" width="1" height="215.80" fill="url(#c33)"/><rect x="442" y="21.80" width="1" height="215.80" fill="url(#c34)"/><rect x="443" y="21.80" width="1" height="215.80" fill="url(#c35)"/><rect x="444" y="21.80" width="1" height="215.80" fill="url(#c36)"/><rect x="445" y="21.80" width="1" height="215.80" fill="url(#c37)"/><rect x="446" y="21.80" width="1" height="215.80" fill="url(#c38)"/><rect x="447" y="21.80" width="1" height="215.80" fill="url(#c39)"/><rect x="448" y="21.80" width="1" height="215.80" fill="url(#c40)"/><rect x="449" y="21.80" width="1" height="215.80" fill="url(#c41)"/><rect x="450" y="21.80" width="1" height="215.80" fill="url(#c42)"/><rect x="451" y="21.80" width="1" height="215.80" fill="url(#c43)"/><rect x="452" y="21.80" width="1" height="215.80" fill="url(#c44)"/><rect x="453" y="21.80" width="1" height="215.80" fill="url(#c45)"/><rect x="454" y="21.80" width="1" height="215.80" fill="url(#c46)"/><rect x="455" y="21.80" width="1" height="215.80" fill="url(#c47)"/><rect x="456" y="21.80" width="1" height="215.80" fill="url(#c48)"/><rect x="457" y="21.80" width="1" height="215.80" fill="url(#c49)"/><rect x="458" y="21.80" width="1" height="215.80" fill="url(#c50)"/><rect x="459" y="21.80" width="1" height="215.80" fill="url(#c51)"/><rect x="460" y="21.80" width="1" height="215.80" fill="url(#c52)"/><rect x="461" y="21.80" width="1" height="215.80" fill="url(#c53)"/><rect x="462" y="21.80" width="1" height="215.80" fill="url(#c54)"/><rect x="463" y="21.80" width="1" height="215.80" fill="url(#c55)"/><rect x="464" y="21.80" width="1" height="215.80" fill="url(#c56)"/><rect x="465" y="21.80" width="1" height="215.80" fill="url(#c57)"/><rect x="466" y="21.80" width="1" height="215.80" fill="url(#c58)"/><rect x="467" y="21.80" width="1" height="215.80" fill="url(#c59)"/><rect x="468" y="21.80" width="1" height="215.80" fill="url(#c60)"/><rect x="469" y="21.80" width="1" height="215.80" fill="url(#c61)"/><rect x="470" y="21.80" width="1" height="215.80" fill="url(#c62)"/><rect x="471" y="21.80" width="1" height="215.80" fill="url(#c63)"/><rect x="472" y="21.80" width="1" height="215.80" fill="url(#c64)"/><rect x="473" y="21.80" width="1" height="215.80" fill="url(#c65)"/><rect x="474" y="21.80" width="1" height="215.80" fill="url(#c66)"/><rect x="475" y="21.80" width="1" height="215.80" fill="url(#c67)"/><rect x="476" y="21.80" width="1" height="215.80" fill="url(#c68)"/><rect x="477" y="21.80" width="1" height="215.80" fill="url(#c69)"/><rect x="478" y="21.80" width="1" height="215.80" fill="url(#c70)"/><rect x="479" y="21.80" width="1" height="215.80" fill="url(#c71)"/><rect x="480" y="21.80" width="1" height="215.80" fill="url(#c72)"/><rect x="481" y="21.80" width="1" height="215.80" fill="url(#c73)"/><rect x="482" y="21.80" width="1" height="215.80" fill="url(#c74)"/><rect x="483" y="21.80" width="1" height="215.80" fill="url(#c75)"/><rect x="484" y="21.80" width="1" height="215.80" fill="url(#c76)"/><rect x="485" y="21.80" width="1" height="215.80" fill="url(#c77)"/><rect x="486" y="21.80" width="1" height="215.80" fill="url(#c78)"/><rect x="487" y="21.80" width="1" height="215.80" fill="url(#c79)"/><rect x="488" y="21.80" width="1" height="215.80" fill="url(#c80)"/><rect x="489" y="21.80" width="1" height="215.80" fill="url(#c81)"/><rect x="490" y="21.80" width="1" height="215.80" fill="url(#c82)"/><rect x="491" y="21.80" width="1" height="215.80" fill="url(#c83)"/><rect x="492" y="21.80" width="1" height="215.80" fill="url(#c84)"/><rect x="493" y="21.80" width="1" height="215.80" fill="url(#c85)"/><rect x="494" y="21.80" width="1" height="215.80" fill="url(#c86)"/><rect x="495" y="21.80" width="1" height="215.80" fill="url(#c87)"/><rect x="496" y="21.80" width="1" height="215.80" fill="url(#c88)"/><rect x="497" y="21.80" width="1" height="215.80" fill="url(#c89)"/><rect x="498" y="21.80" width="1" height="215.80" fill="url(#c90)"/><rect x="499" y="21.80" width="1" height="215.80" fill="url(#c91)"/><rect x="500" y="21.80" width="1" height="215.80" fill="url(#c92)"/><rect x="501" y="21.80" width="1" height="215.80" fill="url(#c93)"/><rect x="502" y="21.80" width="1" height="215.80" fill="url(#c94)"/><rect x="503" y="21.80" width="1" height="215.80" fill="url(#c95)"/><rect x="504" y="21.80" width="1" height="215.80" fill="url(#c96)"/><rect x="505" y="21.80" width="1" height="215.80" fill="url(#c97)"/><rect x="506" y="21.80" width="1" height="215.80" fill="url(#c98)"/><rect x="507" y="21.80" width="1" height="215.80" fill="url(#c99)"/><rect x="508" y="21.80" width="1" height="215.80" fill="url(#c100)"/><rect x="509" y="21.80" width="1" height="215.80" fill="url(#c101)"/><rect x="510" y="21.80" width="1" height="215.80" fill="url(#c102)"/><rect x="511" y="21.80" width="1" height="215.80" fill="url(#c103)"/><rect x="512" y="21.80" width="1" height="215.80" fill="url(#c104)"/><rect x="513" y="21.80" width="1" height="215.80" fill="url(#c105)"/><rect x="514" y="21.80" width="1" height="215.80" fill="url(#c106)"/><rect x="515" y="21.80" width="1" height="215.80" fill="url(#c107)"/><rect x="516" y="21.80" width="1" height="215.80" fill="url(#c108)"/><rect x="517" y="21.80" width="1" height="215.80" fill="url(#c109)"/><rect x="518" y="21.80" width="1" height="215.80" fill="url(#c110)"/><rect x="519" y="21.80" width="1" height="215.80" fill="url(#c111)"/><rect x="520" y="21.80" width="1" height="215.80" fill="url(#c112)"/><rect x="521" y="21.80" width="1" height="215.80" fill="url(#c113)"/><rect x="522" y="21.80" width="1" height="215.80" fill="url(#c114)"/><rect x="523" y="21.80" width="1" height="215.80" fill="url(#c115)"/><rect x="524" y="21.80" width="1" height="215.80" fill="url(#c116)"/><rect x="525" y="21.80" width="1" height="215.80" fill="url(#c117)"/><rect x="526" y="21.80" width="1" height="215.80" fill="url(#c118)"/><rect x="527" y="21.80" width="1" height="215.80" fill="url(#c119)"/><rect x="528" y="21.80" width="1" height="215.80" fill="url(#c120)"/><rect x="529" y="21.80" width="1" height="215.80" fill="url(#c121)"/><rect x="530" y="21.80" width="1" height="215.80" fill="url(#c122)"/><rect x="531" y="21.80" width="1" height="215.80" fill="url(#c123)"/><rect x="532" y="21.80" width="1" height="215.80" fill="url(#c124)"/><rect x="533" y="21.80" width="1" height="215.80" fill="url(#c125)"/><rect x="534" y="21.80" width="1" height="215.80" fill="url(#c126)"/><rect x="535" y="21.80" width="1" height="215.80" fill="url(#c127)"/><rect x="536" y="21.80" width="1" height="215.80" fill="url(#c128)"/><rect x="537" y="21.80" width="1" height="215.80" fill="url(#c129)"/><rect x="538" y="21.80" width="1" height="215.80" fill="url(#c130)"/><rect x="539" y="21.80" width="1" height="215.80" fill="url(#c131)"/><rect x="540" y="21.80" width="1" height="215.80" fill="url(#c132)"/><rect x="541" y="21.80" width="1" height="215.80" fill="url(#c133)"/><rect x="542" y="21.80" width="1" height="215.80" fill="url(#c134)"/><rect x="543" y="21.80" width="1" height="215.80" fill="url(#c135)"/><rect x="544" y="21.80" width="1" height="215.80" fill="url(#c136)"/><rect x="545" y="21.80" width="1" height="215.80" fill="url(#c137)"/><rect x="546" y="21.80" width="1" height="215.80" fill="url(#c138)"/><rect x="547" y="21.80" width="1" height="215.80" fill="url(#c139)"/><rect x="548" y="21.80" width="1" height="215.80" fill="url(#c140)"/><rect x="549" y="21.80" width="1" height="215.80" fill="url(#c141)"/><rect x="550" y="21.80" width="1" height="215.80" fill="url(#c142)"/><rect x="551" y="21.80" width="1" height="215.80" fill="url(#c143)"/><rect x="552" y="21.80" width="1" height="215.80" fill="url(#c144)"/><rect x="553" y="21.80" width="1" height="215.80" fill="url(#c145)"/><rect x="554" y="21.80" width="1" height="215.80" fill="url(#c146)"/><rect x="555" y="21.80" width="1" height="215.80" fill="url(#c147)"/><rect x="556" y="21.80" width="1" height="215.80" fill="url(#c148)"/><rect x="557" y="21.80" width="1" height="215.80" fill="url(#c149)"/><rect x="558" y="21.80" width="1" height="215.80" fill="url(#c150)"/><rect x="559" y="21.80" width="1" height="215.80" fill="url(#c151)"/><rect x="560" y="21.80" width="1" height="215.80" fill="url(#c152)"/><rect x="561" y="21.80" width="1" height="215.80" fill="url(#c153)"/><rect x="562" y="21.80" width="1" height="215.80" fill="url(#c154)"/><rect x="563" y="21.80" width="1" height="215.80" fill="url(#c155)"/><rect x="564" y="21.80" width="1" height="215.80" fill="url(#c156)"/><rect x="565" y="21.80" width="1" height="215.80" fill="url(#c157)"/><rect x="566" y="21.80" width="1" height="215.80" fill="url(#c158)"/><rect x="567" y="21.80" width="1" height="215.80" fill="url(#c159)"/><rect x="568" y="21.80" width="1" height="215.80" fill="url(#c160)"/><rect x="569" y="21.80" width="1" height="215.80" fill="url(#c161)"/><rect x="570" y="21.80" width="1" height="215.80" fill="url(#c162)"/><rect x="571" y="21.80" width="1" height="215.80" fill="url(#c163)"/><rect x="572" y="21.80" width="1" height="215.80" fill="url(#c164)"/><rect x="573" y="21.80" width="1" height="215.80" fill="url(#c165)"/><rect x="574" y="21.80" width="1" height="215.80" fill="url(#c166)"/><rect x="575" y="21.80" width="1" height="215.80" fill="url(#c167)"/><rect x="576" y="21.80" width="1" height="215.80" fill="url(#c168)"/><rect x="577" y="21.80" width="1" height="215.80" fill="url(#c169)"/><rect x="578" y="21.80" width="1" height="215.80" fill="url(#c170)"/><rect x="579" y="21.80" width="1" height="215.80" fill="url(#c171)"/><rect x="580" y="21.80" width="1" height="215.80" fill="url(#c172)"/><rect x="581" y="21.80" width="1" height="215.80" fill="url(#c173)"/><rect x="582" y="21.80" width="1" height="215.80" fill="url(#c174)"/><rect x="583" y="21.80" width="1" height="215.80" fill="url(#c175)"/><rect x="584" y="21.80" width="1" height="215.80" fill="url(#c176)"/><rect x="585" y="21.80" width="1" height="215.80" fill="url(#c177)"/><rect x="586" y="21.80" width="1" height="215.80" fill="url(#c178)"/><rect x="587" y="21.80" width="1" height="215.80" fill="url(#c179)"/><rect x="588" y="21.80" width="1" height="215.80" fill="url(#c180)"/><rect x="589" y="21.80" width="1" height="215.80" fill="url(#c181)"/><rect x="590" y="21.80" width="1" height="215.80" fill="url(#c182)"/><rect x="591" y="21.80" width="1" height="215.80" fill="url(#c183)"/><rect x="592" y="21.80" width="1" height="215.80" fill="url(#c184)"/><rect x="593" y="21.80" width="1" height="215.80" fill="url(#c185)"/><rect x="594" y="21.80" width="1" height="215.80" fill="url(#c186)"/><rect x="595" y="21.80" width="1" height="215.80" fill="url(#c187)"/><rect x="596" y="21.80" width="1" height="215.80" fill="url(#c188)"/><rect x="597" y="21.80" width="1" height="215.80" fill="url(#c189)"/><rect x="598" y="21.80" width="1" height="215.80" fill="url(#c190)"/><rect x="599" y="21.80" width="1" height="215.80" fill="url(#c191)"/><rect x="600" y="21.80" width="1" height="215.80" fill="url(#c192)"/><rect x="601" y="21.80" width="1" height="215.80" fill="url(#c193)"/><rect x="602" y="21.80" width="1" height="215.80" fill="url(#c194)"/><rect x="603" y="21.80" width="1" height="215.80" fill="url(#c195)"/><rect x="604" y="21.80" width="1" height="215.80" fill="url(#c196)"/><rect x="605" y="21.80" width="1" height="215.80" fill="url(#c197)"/><rect x="606" y="21.80" width="1" height="215.80" fill="url(#c198)"/><rect x="607" y="21.80" width="1" height="215.80" fill="url(#c199)"/><rect x="608" y="21.80" width="1" height="215.80" fill="url(#c200)"/><rect x="609" y="21.80" width="1" height="215.80" fill="url(#c201)"/><rect x="610" y="21.80" width="1" height="215.80" fill="url(#c202)"/><rect x="611" y="21.80" width="1" height="215.80" fill="url(#c203)"/><rect x="612" y="21.80" width="1" height="215.80" fill="url(#c204)"/><rect x="613" y="21.80" width="1" height="215.80" fill="url(#c205)"/><rect x="614" y="21.80" width="1" height="215.80" fill="url(#c206)"/><rect x="615" y="21.80" width="1" height="215.80" fill="url(#c207)"/><rect x="616" y="21.80" width="1" height="215.80" fill="url(#c208)"/><rect x="617" y="21.80" width="1" height="215.80" fill="url(#c209)"/><rect x="618" y="21.80" width="1" height="215.80" fill="url(#c210)"/><rect x="619" y="21.80" width="1" height="215.80" fill="url(#c211)"/><rect x="620" y="21.80" width="1" height="215.80" fill="url(#c212)"/><rect x="621" y="21.80" width="1" height="215.80" fill="url(#c213)"/><rect x="622" y="21.80" width="1" height="215.80" fill="url(#c214)"/><rect x="623" y="21.80" width="1" height="215.80" fill="url(#c215)"/><rect x="624" y="21.80" width="1" height="215.80" fill="url(#c216)"/><rect x="625" y="21.80" width="1" height="215.80" fill="url(#c217)"/><rect x="626" y="21.80" width="1" height="215.80" fill="url(#c218)"/><rect x="627" y="21.80" width="1" height="215.80" fill="url(#c219)"/><rect x="628" y="21.80" width="1" height="215.80" fill="url(#c220)"/><rect x="629" y="21.80" width="1" height="215.80" fill="url(#c221)"/><rect x="630" y="21.80" width="1" height="215.80" fill="url(#c222)"/><rect x="631" y="21.80" width="1" height="215.80" fill="url(#c223)"/><rect x="632" y="21.80" width="1" height="215.80" fill="url(#c224)"/><rect x="633" y="21.80" width="1" height="215.80" fill="url(#c225)"/><rect x="634" y="21.80" width="1" height="215.80" fill="url(#c226)"/><rect x="635" y="21.80" width="1" height="215.80" fill="url(#c227)"/><rect x="636" y="21.80" width="1" height="215.80" fill="url(#c228)"/><rect x="637" y="21.80" width="1" height="215.80" fill="url(#c229)"/><rect x="638" y="21.80" width="1" height="215.80" fill="url(#c230)"/><rect x="639" y="21.80" width="1" height="215.80" fill="url(#c231)"/><rect x="640" y="21.80" width="1" height="215.80" fill="url(#c232)"/></g><rect x="34.80" y="21.80" width="231.60" height="215.80" fill="none" stroke="#000" stroke-width="0.7"/><rect x="408.30" y="21.80" width="232.20" height="215.80" fill="none" stroke="#000" stroke-width="0.7"/><rect x="281.20" y="21.80" width="11.60" height="215.80" fill="url(#cbg)" stroke="#222" stroke-width="0.7"/><rect x="655.20" y="21.80" width="11.50" height="215.80" fill="url(#cbg)" stroke="#222" stroke-width="0.7"/><rect x="36" y="30" width="228" height="16.5" fill="#4a1570" opacity="0.55"/><rect x="218.1" y="41.4" width="1" height="4.1" fill="#5b3d8e" opacity="0.24"/><rect x="49.1" y="35.7" width="1" height="3.6" fill="#5b3d8e" opacity="0.16"/><rect x="48.0" y="44.0" width="1" height="4.6" fill="#5b3d8e" opacity="0.22"/><rect x="134.9" y="43.7" width="1" height="5.6" fill="#5b3d8e" opacity="0.40"/><rect x="125.3" y="37.2" width="1" height="4.7" fill="#5b3d8e" opacity="0.17"/><rect x="162.0" y="34.2" width="1" height="5.5" fill="#5b3d8e" opacity="0.17"/><rect x="189.8" y="42.2" width="1" height="2.9" fill="#5b3d8e" opacity="0.42"/><rect x="233.2" y="30.7" width="1" height="4.8" fill="#5b3d8e" opacity="0.15"/><rect x="150.3" y="36.4" width="1" height="2.8" fill="#5b3d8e" opacity="0.25"/><rect x="218.4" y="34.8" width="1" height="2.6" fill="#5b3d8e" opacity="0.36"/><rect x="137.9" y="41.3" width="1" height="2.9" fill="#5b3d8e" opacity="0.25"/><rect x="217.0" y="37.3" width="1" height="4.0" fill="#5b3d8e" opacity="0.22"/><rect x="40.3" y="43.1" width="1" height="2.3" fill="#5b3d8e" opacity="0.40"/><rect x="119.8" y="43.3" width="1" height="3.6" fill="#5b3d8e" opacity="0.43"/><rect x="162.1" y="33.7" width="1" height="5.0" fill="#5b3d8e" opacity="0.35"/><rect x="190.9" y="36.8" width="1" height="2.9" fill="#5b3d8e" opacity="0.34"/><rect x="61.1" y="39.8" width="1" height="4.5" fill="#5b3d8e" opacity="0.26"/><rect x="216.7" y="33.1" width="1" height="3.6" fill="#5b3d8e" opacity="0.39"/><rect x="122.6" y="40.1" width="1" height="4.5" fill="#5b3d8e" opacity="0.43"/><rect x="260.1" y="40.3" width="1" height="5.2" fill="#5b3d8e" opacity="0.20"/><rect x="197.4" y="41.9" width="1" height="3.6" fill="#5b3d8e" opacity="0.32"/><rect x="144.9" y="43.4" width="1" height="3.3" fill="#5b3d8e" opacity="0.27"/><rect x="37.2" y="36.2" width="1" height="4.5" fill="#5b3d8e" opacity="0.43"/><rect x="244.8" y="34.9" width="1" height="6.0" fill="#5b3d8e" opacity="0.21"/><rect x="222.2" y="32.6" width="1" height="3.6" fill="#5b3d8e" opacity="0.17"/><rect x="230.1" y="41.7" width="1" height="2.6" fill="#5b3d8e" opacity="0.31"/><rect x="95.1" y="37.1" width="1" height="4.2" fill="#5b3d8e" opacity="0.18"/><rect x="231.5" y="34.3" width="1" height="3.8" fill="#5b3d8e" opacity="0.17"/><rect x="37.6" y="33.1" width="1" height="3.4" fill="#5b3d8e" opacity="0.43"/><rect x="237.2" y="37.0" width="1" height="3.8" fill="#5b3d8e" opacity="0.35"/><rect x="230.2" y="35.1" width="1" height="5.2" fill="#5b3d8e" opacity="0.27"/><rect x="170.7" y="40.5" width="1" height="4.0" fill="#5b3d8e" opacity="0.36"/><rect x="193.9" y="30.6" width="1" height="2.2" fill="#5b3d8e" opacity="0.19"/><rect x="85.1" y="33.2" width="1" height="2.2" fill="#5b3d8e" opacity="0.22"/><rect x="172.2" y="42.5" width="1" height="3.4" fill="#5b3d8e" opacity="0.26"/><rect x="130.8" y="39.7" width="1" height="5.1" fill="#5b3d8e" opacity="0.43"/><rect x="121.5" y="40.0" width="1" height="3.4" fill="#5b3d8e" opacity="0.40"/><rect x="88.9" y="42.3" width="1" height="4.0" fill="#5b3d8e" opacity="0.37"/><rect x="157.4" y="34.8" width="1" height="4.0" fill="#5b3d8e" opacity="0.17"/><rect x="46.7" y="37.7" width="1" height="3.9" fill="#5b3d8e" opacity="0.40"/><rect x="41.5" y="38.0" width="1" height="4.0" fill="#5b3d8e" opacity="0.33"/><rect x="201.2" y="37.6" width="1" height="4.3" fill="#5b3d8e" opacity="0.30"/><rect x="175.4" y="33.8" width="1" height="4.2" fill="#5b3d8e" opacity="0.35"/><rect x="80.0" y="43.9" width="1" height="5.0" fill="#5b3d8e" opacity="0.44"/><rect x="103.1" y="36.5" width="1" height="3.0" fill="#5b3d8e" opacity="0.16"/><rect x="40.8" y="33.8" width="1" height="5.4" fill="#5b3d8e" opacity="0.20"/><rect x="192.2" y="33.9" width="1" height="2.3" fill="#5b3d8e" opacity="0.21"/><rect x="189.5" y="37.3" width="1" height="4.2" fill="#5b3d8e" opacity="0.29"/><rect x="98.7" y="37.1" width="1" height="5.7" fill="#5b3d8e" opacity="0.21"/><rect x="201.9" y="33.9" width="1" height="2.8" fill="#5b3d8e" opacity="0.25"/><rect x="57.9" y="43.1" width="1" height="3.5" fill="#5b3d8e" opacity="0.20"/><rect x="37.0" y="31.3" width="1" height="2.9" fill="#5b3d8e" opacity="0.28"/><rect x="172.4" y="43.7" width="1" height="5.6" fill="#5b3d8e" opacity="0.22"/><rect x="174.6" y="42.9" width="1" height="2.4" fill="#5b3d8e" opacity="0.41"/><rect x="126.1" y="41.1" width="1" height="3.3" fill="#5b3d8e" opacity="0.34"/><rect x="151.1" y="31.9" width="1" height="5.0" fill="#5b3d8e" opacity="0.40"/><rect x="145.7" y="35.7" width="1" height="5.8" fill="#5b3d8e" opacity="0.26"/><rect x="234.9" y="36.2" width="1" height="3.5" fill="#5b3d8e" opacity="0.26"/><rect x="50.5" y="34.2" width="1" height="2.9" fill="#5b3d8e" opacity="0.17"/><rect x="158.9" y="36.5" width="1" height="2.1" fill="#5b3d8e" opacity="0.20"/><rect x="243.7" y="32.3" width="1" height="3.5" fill="#5b3d8e" opacity="0.44"/><rect x="62.5" y="36.0" width="1" height="5.2" fill="#5b3d8e" opacity="0.16"/><rect x="52.3" y="43.1" width="1" height="4.7" fill="#5b3d8e" opacity="0.23"/><rect x="145.1" y="33.9" width="1" height="5.6" fill="#5b3d8e" opacity="0.43"/><rect x="53.0" y="37.6" width="1" height="2.7" fill="#5b3d8e" opacity="0.27"/><rect x="203.8" y="40.1" width="1" height="2.8" fill="#5b3d8e" opacity="0.25"/><rect x="132.7" y="35.7" width="1" height="4.7" fill="#5b3d8e" opacity="0.39"/><rect x="112.5" y="36.5" width="1" height="2.3" fill="#5b3d8e" opacity="0.26"/><rect x="250.1" y="37.3" width="1" height="4.2" fill="#5b3d8e" opacity="0.33"/><rect x="164.6" y="41.4" width="1" height="3.0" fill="#5b3d8e" opacity="0.24"/><rect x="236.5" y="37.2" width="1" height="5.8" fill="#5b3d8e" opacity="0.19"/><rect x="213.2" y="36.9" width="1" height="3.9" fill="#5b3d8e" opacity="0.41"/><rect x="66.4" y="37.4" width="1" height="3.0" fill="#5b3d8e" opacity="0.25"/><rect x="220.9" y="35.9" width="1" height="5.1" fill="#5b3d8e" opacity="0.15"/><rect x="261.9" y="43.4" width="1" height="4.7" fill="#5b3d8e" opacity="0.21"/><rect x="184.8" y="33.1" width="1" height="3.5" fill="#5b3d8e" opacity="0.16"/><rect x="52.8" y="32.6" width="1" height="2.7" fill="#5b3d8e" opacity="0.40"/><rect x="91.9" y="41.6" width="1" height="2.0" fill="#5b3d8e" opacity="0.17"/><rect x="50.7" y="43.1" width="1" height="5.3" fill="#5b3d8e" opacity="0.15"/><rect x="246.6" y="33.6" width="1" height="3.1" fill="#5b3d8e" opacity="0.33"/><rect x="83.1" y="43.7" width="1" height="3.5" fill="#5b3d8e" opacity="0.32"/><rect x="165.8" y="34.3" width="1" height="4.9" fill="#5b3d8e" opacity="0.45"/><rect x="171.0" y="31.6" width="1" height="5.2" fill="#5b3d8e" opacity="0.35"/><rect x="147.2" y="39.3" width="1" height="3.0" fill="#5b3d8e" opacity="0.24"/><rect x="152.9" y="31.4" width="1" height="4.4" fill="#5b3d8e" opacity="0.20"/><rect x="94.1" y="42.6" width="1" height="4.4" fill="#5b3d8e" opacity="0.22"/><rect x="194.3" y="44.0" width="1" height="5.6" fill="#5b3d8e" opacity="0.39"/><rect x="111.8" y="38.4" width="1" height="4.3" fill="#5b3d8e" opacity="0.18"/><rect x="192.9" y="37.5" width="1" height="4.1" fill="#5b3d8e" opacity="0.37"/><rect x="54.4" y="33.4" width="1" height="6.0" fill="#5b3d8e" opacity="0.24"/><rect x="94.4" y="31.5" width="1" height="3.2" fill="#5b3d8e" opacity="0.32"/><rect x="45.8" y="34.4" width="1" height="3.0" fill="#5b3d8e" opacity="0.20"/><rect x="215.2" y="43.5" width="1" height="5.7" fill="#5b3d8e" opacity="0.28"/><rect x="51.9" y="35.2" width="1" height="4.1" fill="#5b3d8e" opacity="0.26"/><rect x="201.5" y="40.5" width="1" height="5.6" fill="#5b3d8e" opacity="0.29"/><rect x="90.7" y="42.8" width="1" height="5.5" fill="#5b3d8e" opacity="0.19"/><rect x="84.6" y="39.4" width="1" height="5.3" fill="#5b3d8e" opacity="0.44"/><rect x="41.8" y="33.1" width="1" height="3.7" fill="#5b3d8e" opacity="0.32"/><rect x="212.1" y="38.0" width="1" height="4.1" fill="#5b3d8e" opacity="0.22"/><rect x="183.3" y="38.4" width="1" height="5.8" fill="#5b3d8e" opacity="0.21"/><rect x="65.1" y="35.3" width="1" height="3.3" fill="#5b3d8e" opacity="0.29"/><rect x="75.6" y="40.0" width="1" height="5.3" fill="#5b3d8e" opacity="0.15"/><rect x="241.8" y="31.7" width="1" height="3.2" fill="#5b3d8e" opacity="0.30"/><rect x="132.4" y="33.4" width="1" height="4.9" fill="#5b3d8e" opacity="0.40"/><rect x="88.2" y="32.7" width="1" height="4.1" fill="#5b3d8e" opacity="0.19"/><rect x="248.4" y="42.0" width="1" height="5.3" fill="#5b3d8e" opacity="0.27"/><rect x="214.0" y="35.8" width="1" height="3.8" fill="#5b3d8e" opacity="0.18"/><rect x="45.4" y="39.6" width="1" height="2.8" fill="#5b3d8e" opacity="0.44"/><rect x="164.1" y="38.3" width="1" height="5.6" fill="#5b3d8e" opacity="0.24"/><rect x="39.4" y="33.5" width="1" height="3.8" fill="#5b3d8e" opacity="0.20"/><rect x="100.2" y="40.5" width="1" height="3.5" fill="#5b3d8e" opacity="0.25"/><rect x="89.6" y="37.7" width="1" height="6.0" fill="#5b3d8e" opacity="0.20"/><rect x="226.8" y="41.0" width="1" height="4.4" fill="#5b3d8e" opacity="0.31"/><rect x="154.0" y="31.9" width="1" height="4.3" fill="#5b3d8e" opacity="0.45"/><rect x="201.1" y="36.8" width="1" height="3.8" fill="#5b3d8e" opacity="0.41"/><rect x="38.4" y="33.2" width="1" height="5.8" fill="#5b3d8e" opacity="0.35"/><rect x="223.2" y="37.7" width="1" height="2.2" fill="#5b3d8e" opacity="0.31"/><rect x="178.7" y="31.7" width="1" height="3.9" fill="#5b3d8e" opacity="0.43"/><rect x="51.0" y="31.1" width="1" height="2.4" fill="#5b3d8e" opacity="0.35"/><rect x="237.9" y="32.6" width="1" height="5.4" fill="#5b3d8e" opacity="0.22"/><rect x="158.1" y="40.8" width="1" height="2.5" fill="#5b3d8e" opacity="0.29"/><rect x="232.0" y="35.3" width="1" height="5.2" fill="#5b3d8e" opacity="0.29"/><rect x="249.2" y="35.9" width="1" height="5.3" fill="#5b3d8e" opacity="0.17"/><rect x="113.3" y="32.5" width="1" height="3.6" fill="#5b3d8e" opacity="0.27"/><rect x="91.1" y="36.2" width="1" height="4.7" fill="#5b3d8e" opacity="0.32"/><rect x="91.8" y="40.1" width="1" height="4.8" fill="#5b3d8e" opacity="0.28"/><rect x="140.4" y="32.8" width="1" height="5.3" fill="#5b3d8e" opacity="0.26"/><rect x="102.9" y="43.0" width="1" height="3.2" fill="#5b3d8e" opacity="0.21"/><rect x="123.0" y="37.5" width="1" height="4.5" fill="#5b3d8e" opacity="0.27"/><rect x="190.9" y="30.8" width="1" height="5.7" fill="#5b3d8e" opacity="0.29"/><rect x="137.9" y="36.5" width="1" height="3.1" fill="#5b3d8e" opacity="0.39"/><rect x="138.9" y="31.8" width="1" height="3.4" fill="#5b3d8e" opacity="0.30"/><rect x="117.9" y="31.9" width="1" height="5.6" fill="#5b3d8e" opacity="0.20"/><rect x="201.0" y="36.2" width="1" height="4.0" fill="#5b3d8e" opacity="0.35"/><rect x="40.8" y="37.1" width="1" height="3.8" fill="#5b3d8e" opacity="0.28"/><rect x="37.3" y="30.7" width="1" height="4.0" fill="#5b3d8e" opacity="0.29"/><rect x="112.3" y="32.1" width="1" height="3.5" fill="#5b3d8e" opacity="0.35"/><rect x="221.4" y="40.8" width="1" height="2.0" fill="#5b3d8e" opacity="0.25"/><rect x="147.1" y="41.5" width="1" height="4.3" fill="#5b3d8e" opacity="0.39"/><rect x="192.1" y="31.5" width="1" height="5.9" fill="#5b3d8e" opacity="0.32"/><rect x="172.8" y="34.0" width="1" height="5.6" fill="#5b3d8e" opacity="0.45"/><rect x="114.2" y="37.1" width="1" height="2.3" fill="#5b3d8e" opacity="0.38"/><rect x="181.8" y="33.7" width="1" height="5.3" fill="#5b3d8e" opacity="0.31"/><rect x="246.0" y="41.6" width="1" height="2.4" fill="#5b3d8e" opacity="0.22"/><rect x="227.9" y="30.9" width="1" height="2.5" fill="#5b3d8e" opacity="0.43"/><rect x="219.4" y="33.9" width="1" height="3.4" fill="#5b3d8e" opacity="0.16"/><rect x="65.5" y="30.7" width="1" height="4.3" fill="#5b3d8e" opacity="0.33"/><rect x="69.4" y="41.8" width="1" height="3.9" fill="#5b3d8e" opacity="0.33"/><rect x="186.1" y="33.3" width="1" height="5.2" fill="#5b3d8e" opacity="0.27"/><rect x="149.1" y="32.2" width="1" height="3.0" fill="#5b3d8e" opacity="0.29"/><rect x="200.0" y="36.7" width="1" height="4.2" fill="#5b3d8e" opacity="0.38"/><rect x="127.6" y="30.7" width="1" height="4.2" fill="#5b3d8e" opacity="0.43"/><rect x="45.5" y="36.7" width="1" height="4.6" fill="#5b3d8e" opacity="0.30"/><rect x="60.3" y="37.4" width="1" height="2.3" fill="#5b3d8e" opacity="0.17"/><rect x="113.1" y="32.9" width="1" height="4.0" fill="#5b3d8e" opacity="0.43"/><rect x="85.4" y="43.8" width="1" height="3.4" fill="#5b3d8e" opacity="0.40"/><rect x="154.6" y="41.0" width="1" height="5.5" fill="#5b3d8e" opacity="0.40"/><rect x="70.2" y="42.5" width="1" height="2.5" fill="#5b3d8e" opacity="0.37"/><rect x="47.3" y="34.6" width="1" height="2.5" fill="#5b3d8e" opacity="0.34"/><rect x="107.9" y="38.1" width="1" height="2.9" fill="#5b3d8e" opacity="0.27"/><rect x="239.8" y="38.6" width="1" height="3.9" fill="#5b3d8e" opacity="0.37"/><rect x="260.3" y="35.0" width="1" height="2.4" fill="#5b3d8e" opacity="0.22"/><rect x="72.2" y="36.0" width="1" height="5.0" fill="#5b3d8e" opacity="0.38"/><rect x="61.3" y="32.7" width="1" height="3.4" fill="#5b3d8e" opacity="0.40"/><rect x="145.9" y="37.8" width="1" height="3.2" fill="#5b3d8e" opacity="0.31"/><rect x="173.2" y="35.0" width="1" height="4.4" fill="#5b3d8e" opacity="0.38"/><rect x="116.7" y="36.7" width="1" height="2.5" fill="#5b3d8e" opacity="0.23"/><rect x="46.1" y="31.3" width="1" height="2.3" fill="#5b3d8e" opacity="0.42"/><rect x="201.8" y="38.4" width="1" height="5.2" fill="#5b3d8e" opacity="0.20"/><rect x="116.2" y="38.4" width="1" height="5.4" fill="#5b3d8e" opacity="0.31"/><rect x="65.3" y="31.1" width="1" height="2.1" fill="#5b3d8e" opacity="0.38"/><rect x="238.2" y="32.5" width="1" height="5.2" fill="#5b3d8e" opacity="0.16"/><rect x="224.9" y="40.0" width="1" height="3.9" fill="#5b3d8e" opacity="0.29"/><rect x="86.4" y="43.1" width="1" height="3.1" fill="#5b3d8e" opacity="0.23"/><rect x="210.5" y="38.3" width="1" height="4.1" fill="#5b3d8e" opacity="0.32"/><rect x="61.9" y="32.0" width="1" height="5.9" fill="#5b3d8e" opacity="0.36"/><rect x="175.3" y="38.1" width="1" height="2.9" fill="#5b3d8e" opacity="0.20"/><rect x="168.4" y="30.6" width="1" height="2.1" fill="#5b3d8e" opacity="0.25"/><rect x="168.8" y="43.1" width="1" height="3.8" fill="#5b3d8e" opacity="0.24"/><rect x="251.8" y="34.5" width="1" height="3.9" fill="#5b3d8e" opacity="0.29"/><rect x="46.9" y="31.9" width="1" height="2.0" fill="#5b3d8e" opacity="0.39"/><rect x="122.4" y="39.7" width="1" height="3.8" fill="#5b3d8e" opacity="0.30"/><rect x="231.4" y="35.8" width="1" height="2.4" fill="#5b3d8e" opacity="0.35"/><rect x="43.6" y="37.5" width="1" height="3.5" fill="#5b3d8e" opacity="0.28"/><rect x="200.8" y="41.8" width="1" height="5.9" fill="#5b3d8e" opacity="0.38"/><rect x="221.4" y="43.1" width="1" height="3.5" fill="#5b3d8e" opacity="0.25"/><rect x="43.2" y="36.6" width="1" height="2.2" fill="#5b3d8e" opacity="0.21"/><rect x="129.9" y="36.1" width="1" height="5.1" fill="#5b3d8e" opacity="0.29"/><rect x="196.0" y="30.8" width="1" height="4.9" fill="#5b3d8e" opacity="0.38"/><rect x="39.8" y="35.2" width="1" height="4.5" fill="#5b3d8e" opacity="0.19"/><rect x="218.4" y="43.6" width="1" height="5.1" fill="#5b3d8e" opacity="0.34"/><rect x="213.3" y="43.2" width="1" height="5.8" fill="#5b3d8e" opacity="0.25"/><rect x="182.6" y="31.8" width="1" height="5.7" fill="#5b3d8e" opacity="0.17"/><rect x="101.7" y="38.2" width="1" height="2.9" fill="#5b3d8e" opacity="0.28"/><rect x="115.9" y="39.5" width="1" height="4.1" fill="#5b3d8e" opacity="0.40"/><rect x="176.8" y="40.2" width="1" height="2.1" fill="#5b3d8e" opacity="0.35"/><rect x="241.8" y="32.3" width="1" height="5.1" fill="#5b3d8e" opacity="0.39"/><rect x="55.8" y="38.8" width="1" height="3.2" fill="#5b3d8e" opacity="0.26"/><rect x="260.7" y="38.2" width="1" height="3.9" fill="#5b3d8e" opacity="0.39"/><rect x="125.0" y="32.2" width="1" height="5.9" fill="#5b3d8e" opacity="0.20"/><rect x="239.8" y="43.7" width="1" height="3.9" fill="#5b3d8e" opacity="0.19"/><rect x="140.6" y="37.8" width="1" height="5.1" fill="#5b3d8e" opacity="0.45"/><rect x="92.1" y="31.0" width="1" height="5.9" fill="#5b3d8e" opacity="0.15"/><rect x="253.6" y="42.6" width="1" height="5.6" fill="#5b3d8e" opacity="0.27"/><rect x="82.1" y="38.6" width="1" height="3.7" fill="#5b3d8e" opacity="0.36"/><rect x="80.2" y="36.8" width="1" height="5.7" fill="#5b3d8e" opacity="0.33"/><rect x="245.8" y="40.6" width="1" height="2.5" fill="#5b3d8e" opacity="0.34"/><rect x="78.5" y="31.5" width="1" height="4.4" fill="#5b3d8e" opacity="0.15"/><rect x="48.8" y="35.8" width="1" height="2.7" fill="#5b3d8e" opacity="0.35"/><rect x="99.6" y="33.8" width="1" height="4.2" fill="#5b3d8e" opacity="0.31"/><rect x="227.3" y="41.6" width="1" height="5.7" fill="#5b3d8e" opacity="0.18"/><rect x="49.7" y="40.6" width="1" height="3.6" fill="#5b3d8e" opacity="0.17"/><rect x="156.3" y="34.8" width="1" height="2.9" fill="#5b3d8e" opacity="0.35"/><rect x="202.2" y="34.0" width="1" height="4.7" fill="#5b3d8e" opacity="0.22"/><rect x="236.2" y="35.9" width="1" height="3.9" fill="#5b3d8e" opacity="0.20"/><rect x="141.5" y="34.2" width="1" height="5.1" fill="#5b3d8e" opacity="0.19"/><rect x="157.1" y="36.0" width="1" height="5.7" fill="#5b3d8e" opacity="0.35"/><rect x="163.6" y="32.5" width="1" height="2.4" fill="#5b3d8e" opacity="0.33"/><rect x="244.1" y="31.6" width="1" height="3.7" fill="#5b3d8e" opacity="0.26"/><rect x="42.0" y="38.9" width="1" height="3.9" fill="#5b3d8e" opacity="0.29"/><rect x="223.7" y="38.9" width="1" height="3.0" fill="#5b3d8e" opacity="0.44"/><rect x="245.0" y="39.9" width="1" height="2.5" fill="#5b3d8e" opacity="0.34"/><rect x="37.4" y="34.4" width="1" height="3.7" fill="#5b3d8e" opacity="0.29"/><rect x="214.4" y="38.0" width="1" height="4.6" fill="#5b3d8e" opacity="0.28"/><rect x="201.5" y="33.0" width="1" height="5.6" fill="#5b3d8e" opacity="0.40"/><rect x="242.3" y="43.3" width="1" height="5.1" fill="#5b3d8e" opacity="0.24"/><rect x="242.8" y="41.4" width="1" height="3.9" fill="#5b3d8e" opacity="0.18"/><rect x="256.3" y="33.4" width="1" height="2.7" fill="#5b3d8e" opacity="0.32"/><rect x="230.4" y="34.1" width="1" height="2.8" fill="#5b3d8e" opacity="0.39"/><rect x="164.4" y="38.2" width="1" height="4.4" fill="#5b3d8e" opacity="0.39"/><rect x="212.6" y="34.1" width="1" height="3.5" fill="#5b3d8e" opacity="0.45"/><rect x="225.5" y="37.8" width="1" height="3.3" fill="#5b3d8e" opacity="0.42"/><rect x="100.6" y="36.7" width="1" height="4.4" fill="#5b3d8e" opacity="0.38"/><rect x="196.1" y="39.8" width="1" height="2.8" fill="#5b3d8e" opacity="0.25"/><rect x="205.7" y="38.3" width="1" height="5.6" fill="#5b3d8e" opacity="0.17"/><rect x="258.4" y="37.2" width="1" height="3.2" fill="#5b3d8e" opacity="0.18"/><rect x="52.4" y="43.9" width="1" height="5.1" fill="#5b3d8e" opacity="0.44"/><rect x="227.6" y="36.3" width="1" height="2.8" fill="#5b3d8e" opacity="0.31"/><rect x="90.9" y="32.7" width="1" height="4.2" fill="#5b3d8e" opacity="0.32"/><rect x="258.5" y="41.4" width="1" height="2.1" fill="#5b3d8e" opacity="0.20"/><rect x="162.7" y="40.1" width="1" height="6.0" fill="#5b3d8e" opacity="0.31"/><rect x="142.6" y="30.6" width="1" height="3.7" fill="#5b3d8e" opacity="0.41"/><rect x="50.2" y="37.6" width="1" height="5.8" fill="#5b3d8e" opacity="0.44"/><rect x="40.7" y="34.6" width="1" height="2.8" fill="#5b3d8e" opacity="0.44"/><rect x="216.6" y="34.1" width="1" height="3.5" fill="#5b3d8e" opacity="0.35"/><rect x="42.6" y="32.8" width="1" height="5.2" fill="#5b3d8e" opacity="0.24"/><rect x="90.3" y="42.8" width="1" height="4.9" fill="#5b3d8e" opacity="0.41"/><rect x="213.1" y="37.4" width="1" height="2.7" fill="#5b3d8e" opacity="0.36"/><rect x="160.3" y="40.3" width="1" height="4.7" fill="#5b3d8e" opacity="0.39"/><rect x="49.5" y="32.7" width="1" height="5.5" fill="#5b3d8e" opacity="0.36"/><rect x="232.1" y="31.3" width="1" height="4.1" fill="#5b3d8e" opacity="0.15"/><rect x="72.5" y="31.1" width="1" height="2.8" fill="#5b3d8e" opacity="0.23"/><rect x="53.3" y="39.3" width="1" height="4.3" fill="#5b3d8e" opacity="0.36"/><rect x="256.9" y="34.3" width="1" height="3.0" fill="#5b3d8e" opacity="0.24"/><rect x="220.2" y="39.3" width="1" height="5.0" fill="#5b3d8e" opacity="0.22"/><rect x="67.1" y="36.9" width="1" height="5.6" fill="#5b3d8e" opacity="0.23"/><rect x="208.6" y="40.0" width="1" height="3.5" fill="#5b3d8e" opacity="0.36"/><rect x="244.2" y="33.4" width="1" height="3.0" fill="#5b3d8e" opacity="0.27"/><rect x="81.5" y="35.9" width="1" height="4.9" fill="#5b3d8e" opacity="0.41"/><rect x="186.5" y="37.8" width="1" height="5.7" fill="#5b3d8e" opacity="0.21"/><rect x="36" y="64" width="228" height="37" fill="#46096a" opacity="0.5"/><rect x="193.8" y="73.9" width="1" height="17.2" fill="#563888" opacity="0.16"/><rect x="94.4" y="67.0" width="1" height="10.9" fill="#563888" opacity="0.28"/><rect x="102.6" y="87.3" width="1" height="15.4" fill="#563888" opacity="0.18"/><rect x="172.8" y="81.1" width="1" height="6.8" fill="#563888" opacity="0.27"/><rect x="177.8" y="86.6" width="1" height="8.9" fill="#563888" opacity="0.15"/><rect x="159.4" y="86.3" width="1" height="6.6" fill="#563888" opacity="0.17"/><rect x="60.6" y="89.7" width="1" height="14.9" fill="#563888" opacity="0.14"/><rect x="227.8" y="75.4" width="1" height="5.3" fill="#563888" opacity="0.13"/><rect x="92.9" y="65.0" width="1" height="7.2" fill="#563888" opacity="0.13"/><rect x="68.8" y="66.6" width="1" height="10.5" fill="#563888" opacity="0.31"/><rect x="213.3" y="77.8" width="1" height="5.8" fill="#563888" opacity="0.34"/><rect x="51.9" y="64.3" width="1" height="14.7" fill="#563888" opacity="0.26"/><rect x="207.5" y="71.1" width="1" height="16.6" fill="#563888" opacity="0.32"/><rect x="46.9" y="88.9" width="1" height="15.0" fill="#563888" opacity="0.32"/><rect x="144.8" y="84.7" width="1" height="16.8" fill="#563888" opacity="0.33"/><rect x="99.3" y="68.4" width="1" height="13.4" fill="#563888" opacity="0.22"/><rect x="230.3" y="75.7" width="1" height="7.1" fill="#563888" opacity="0.21"/><rect x="253.5" y="82.2" width="1" height="7.2" fill="#563888" opacity="0.16"/><rect x="124.0" y="88.5" width="1" height="11.7" fill="#563888" opacity="0.18"/><rect x="84.6" y="70.4" width="1" height="12.0" fill="#563888" opacity="0.17"/><rect x="60.8" y="85.4" width="1" height="13.5" fill="#563888" opacity="0.26"/><rect x="94.5" y="74.9" width="1" height="16.4" fill="#563888" opacity="0.18"/><rect x="134.3" y="66.5" width="1" height="10.1" fill="#563888" opacity="0.14"/><rect x="210.4" y="90.0" width="1" height="6.0" fill="#563888" opacity="0.20"/><rect x="251.2" y="67.1" width="1" height="15.5" fill="#563888" opacity="0.15"/><rect x="140.8" y="84.4" width="1" height="15.3" fill="#563888" opacity="0.30"/><rect x="109.9" y="78.0" width="1" height="6.7" fill="#563888" opacity="0.35"/><rect x="202.1" y="74.2" width="1" height="11.4" fill="#563888" opacity="0.25"/><rect x="117.7" y="72.6" width="1" height="16.8" fill="#563888" opacity="0.16"/><rect x="250.8" y="78.3" width="1" height="11.0" fill="#563888" opacity="0.23"/><rect x="40.3" y="72.5" width="1" height="11.0" fill="#563888" opacity="0.13"/><rect x="39.7" y="64.2" width="1" height="13.0" fill="#563888" opacity="0.12"/><rect x="251.4" y="80.3" width="1" height="14.3" fill="#563888" opacity="0.13"/><rect x="151.3" y="69.4" width="1" height="17.0" fill="#563888" opacity="0.20"/><rect x="81.7" y="75.2" width="1" height="9.2" fill="#563888" opacity="0.15"/><rect x="212.4" y="69.7" width="1" height="16.8" fill="#563888" opacity="0.29"/><rect x="230.9" y="82.9" width="1" height="16.5" fill="#563888" opacity="0.34"/><rect x="39.4" y="70.7" width="1" height="16.8" fill="#563888" opacity="0.25"/><rect x="244.3" y="76.0" width="1" height="9.4" fill="#563888" opacity="0.31"/><rect x="96.2" y="74.6" width="1" height="15.7" fill="#563888" opacity="0.21"/><rect x="184.5" y="67.9" width="1" height="7.7" fill="#563888" opacity="0.35"/><rect x="80.5" y="68.3" width="1" height="5.2" fill="#563888" opacity="0.14"/><rect x="126.9" y="80.0" width="1" height="16.5" fill="#563888" opacity="0.35"/><rect x="116.9" y="76.9" width="1" height="10.2" fill="#563888" opacity="0.23"/><rect x="229.3" y="74.8" width="1" height="14.7" fill="#563888" opacity="0.32"/><rect x="128.9" y="72.9" width="1" height="6.2" fill="#563888" opacity="0.27"/><rect x="216.8" y="80.5" width="1" height="8.6" fill="#563888" opacity="0.28"/><rect x="87.3" y="84.9" width="1" height="17.2" fill="#563888" opacity="0.19"/><rect x="172.9" y="75.8" width="1" height="9.3" fill="#563888" opacity="0.33"/><rect x="108.0" y="84.6" width="1" height="14.8" fill="#563888" opacity="0.15"/><rect x="223.4" y="73.8" width="1" height="9.8" fill="#563888" opacity="0.22"/><rect x="127.0" y="75.0" width="1" height="14.8" fill="#563888" opacity="0.19"/><rect x="72.7" y="83.7" width="1" height="10.6" fill="#563888" opacity="0.24"/><rect x="75.9" y="81.5" width="1" height="13.0" fill="#563888" opacity="0.27"/><rect x="246.5" y="65.9" width="1" height="11.8" fill="#563888" opacity="0.13"/><rect x="119.6" y="80.7" width="1" height="15.6" fill="#563888" opacity="0.18"/><rect x="238.6" y="87.9" width="1" height="17.0" fill="#563888" opacity="0.22"/><rect x="177.7" y="76.4" width="1" height="5.9" fill="#563888" opacity="0.18"/><rect x="225.4" y="68.7" width="1" height="10.8" fill="#563888" opacity="0.28"/><rect x="129.8" y="79.2" width="1" height="12.3" fill="#563888" opacity="0.15"/><rect x="45.8" y="77.6" width="1" height="13.2" fill="#563888" opacity="0.25"/><rect x="256.4" y="68.0" width="1" height="6.1" fill="#563888" opacity="0.31"/><rect x="237.7" y="89.2" width="1" height="16.6" fill="#563888" opacity="0.21"/><rect x="164.7" y="80.6" width="1" height="12.4" fill="#563888" opacity="0.22"/><rect x="223.1" y="84.1" width="1" height="5.4" fill="#563888" opacity="0.33"/><rect x="131.8" y="83.0" width="1" height="17.6" fill="#563888" opacity="0.27"/><rect x="96.4" y="79.8" width="1" height="10.6" fill="#563888" opacity="0.16"/><rect x="71.4" y="83.9" width="1" height="10.6" fill="#563888" opacity="0.22"/><rect x="117.4" y="79.9" width="1" height="13.1" fill="#563888" opacity="0.30"/><rect x="105.3" y="79.7" width="1" height="11.6" fill="#563888" opacity="0.14"/><rect x="230.8" y="79.8" width="1" height="11.3" fill="#563888" opacity="0.24"/><rect x="154.8" y="74.7" width="1" height="11.7" fill="#563888" opacity="0.31"/><rect x="121.8" y="83.7" width="1" height="5.2" fill="#563888" opacity="0.19"/><rect x="204.4" y="81.0" width="1" height="6.2" fill="#563888" opacity="0.20"/><rect x="136.4" y="85.2" width="1" height="6.4" fill="#563888" opacity="0.16"/><rect x="104.9" y="74.6" width="1" height="14.2" fill="#563888" opacity="0.21"/><rect x="198.7" y="70.0" width="1" height="9.7" fill="#563888" opacity="0.30"/><rect x="134.6" y="77.2" width="1" height="10.5" fill="#563888" opacity="0.14"/><rect x="151.2" y="65.2" width="1" height="7.1" fill="#563888" opacity="0.29"/><rect x="204.2" y="89.2" width="1" height="14.7" fill="#563888" opacity="0.21"/><rect x="83.2" y="69.4" width="1" height="8.3" fill="#563888" opacity="0.33"/><rect x="133.5" y="77.7" width="1" height="11.7" fill="#563888" opacity="0.15"/><rect x="173.1" y="64.1" width="1" height="13.3" fill="#563888" opacity="0.17"/><rect x="252.9" y="80.4" width="1" height="11.5" fill="#563888" opacity="0.15"/><rect x="98.7" y="71.3" width="1" height="17.1" fill="#563888" opacity="0.24"/><rect x="152.0" y="76.3" width="1" height="9.6" fill="#563888" opacity="0.27"/><rect x="142.1" y="78.6" width="1" height="14.3" fill="#563888" opacity="0.27"/><rect x="76.8" y="87.6" width="1" height="7.2" fill="#563888" opacity="0.25"/><rect x="243.4" y="89.6" width="1" height="9.6" fill="#563888" opacity="0.25"/><rect x="183.0" y="70.1" width="1" height="10.4" fill="#563888" opacity="0.26"/><rect x="83.9" y="83.7" width="1" height="18.0" fill="#563888" opacity="0.12"/><rect x="261.2" y="76.7" width="1" height="15.3" fill="#563888" opacity="0.23"/><rect x="142.1" y="66.1" width="1" height="8.5" fill="#563888" opacity="0.13"/><rect x="158.7" y="81.2" width="1" height="10.2" fill="#563888" opacity="0.33"/><rect x="251.7" y="70.3" width="1" height="9.3" fill="#563888" opacity="0.17"/><rect x="85.7" y="81.6" width="1" height="14.9" fill="#563888" opacity="0.34"/><rect x="153.8" y="74.5" width="1" height="17.3" fill="#563888" opacity="0.13"/><rect x="154.9" y="71.8" width="1" height="14.5" fill="#563888" opacity="0.20"/><rect x="66.1" y="88.8" width="1" height="17.5" fill="#563888" opacity="0.33"/><rect x="73.4" y="72.4" width="1" height="9.9" fill="#563888" opacity="0.21"/><rect x="155.2" y="85.3" width="1" height="18.0" fill="#563888" opacity="0.29"/><rect x="209.1" y="76.2" width="1" height="8.9" fill="#563888" opacity="0.34"/><rect x="125.7" y="89.1" width="1" height="14.7" fill="#563888" opacity="0.20"/><rect x="83.2" y="82.7" width="1" height="13.7" fill="#563888" opacity="0.25"/><rect x="158.9" y="71.2" width="1" height="16.9" fill="#563888" opacity="0.24"/><rect x="243.2" y="84.9" width="1" height="14.7" fill="#563888" opacity="0.16"/><rect x="68.7" y="73.5" width="1" height="17.4" fill="#563888" opacity="0.15"/><rect x="50.4" y="69.2" width="1" height="8.3" fill="#563888" opacity="0.26"/><rect x="64.6" y="83.8" width="1" height="12.6" fill="#563888" opacity="0.26"/><rect x="222.6" y="72.8" width="1" height="17.3" fill="#563888" opacity="0.23"/><rect x="185.0" y="84.5" width="1" height="9.9" fill="#563888" opacity="0.31"/><rect x="46.6" y="77.9" width="1" height="11.8" fill="#563888" opacity="0.14"/><rect x="165.2" y="89.5" width="1" height="14.0" fill="#563888" opacity="0.19"/><rect x="173.2" y="84.3" width="1" height="14.8" fill="#563888" opacity="0.29"/><rect x="217.9" y="74.5" width="1" height="14.7" fill="#563888" opacity="0.23"/><rect x="116.0" y="75.5" width="1" height="17.7" fill="#563888" opacity="0.29"/><rect x="148.2" y="89.6" width="1" height="13.4" fill="#563888" opacity="0.25"/><rect x="183.6" y="75.2" width="1" height="5.5" fill="#563888" opacity="0.22"/><rect x="92.9" y="88.5" width="1" height="14.5" fill="#563888" opacity="0.15"/><rect x="77.5" y="65.0" width="1" height="15.3" fill="#563888" opacity="0.29"/><rect x="111.6" y="68.4" width="1" height="8.4" fill="#563888" opacity="0.26"/><rect x="67.2" y="64.9" width="1" height="8.7" fill="#563888" opacity="0.35"/><rect x="68.1" y="81.4" width="1" height="17.1" fill="#563888" opacity="0.32"/><rect x="182.3" y="76.1" width="1" height="14.6" fill="#563888" opacity="0.32"/><rect x="123.3" y="78.5" width="1" height="11.9" fill="#563888" opacity="0.12"/><rect x="232.1" y="86.0" width="1" height="16.4" fill="#563888" opacity="0.16"/><rect x="90.3" y="76.9" width="1" height="8.9" fill="#563888" opacity="0.16"/><rect x="38.6" y="68.5" width="1" height="7.2" fill="#563888" opacity="0.24"/><rect x="238.0" y="65.5" width="1" height="5.6" fill="#563888" opacity="0.34"/><rect x="39.3" y="69.1" width="1" height="14.7" fill="#563888" opacity="0.26"/><rect x="130.7" y="88.8" width="1" height="6.4" fill="#563888" opacity="0.25"/><rect x="226.1" y="87.3" width="1" height="6.2" fill="#563888" opacity="0.25"/><rect x="91.1" y="73.4" width="1" height="6.5" fill="#563888" opacity="0.14"/><rect x="257.8" y="73.1" width="1" height="11.1" fill="#563888" opacity="0.28"/><rect x="240.4" y="85.7" width="1" height="13.1" fill="#563888" opacity="0.34"/><rect x="97.1" y="85.4" width="1" height="6.1" fill="#563888" opacity="0.29"/><rect x="207.2" y="82.3" width="1" height="13.5" fill="#563888" opacity="0.34"/><rect x="79.4" y="76.9" width="1" height="9.0" fill="#563888" opacity="0.23"/><rect x="208.7" y="84.8" width="1" height="10.9" fill="#563888" opacity="0.14"/><rect x="79.3" y="80.4" width="1" height="13.6" fill="#563888" opacity="0.30"/><rect x="123.0" y="79.5" width="1" height="8.8" fill="#563888" opacity="0.29"/><rect x="64.5" y="74.6" width="1" height="16.5" fill="#563888" opacity="0.28"/><rect x="152.3" y="76.7" width="1" height="6.5" fill="#563888" opacity="0.13"/><rect x="235.4" y="69.8" width="1" height="12.7" fill="#563888" opacity="0.17"/><rect x="251.3" y="78.6" width="1" height="8.6" fill="#563888" opacity="0.26"/><rect x="114.8" y="69.2" width="1" height="6.7" fill="#563888" opacity="0.19"/><rect x="257.4" y="76.3" width="1" height="10.4" fill="#563888" opacity="0.22"/><rect x="54.7" y="86.8" width="1" height="13.3" fill="#563888" opacity="0.20"/><rect x="129.6" y="86.4" width="1" height="12.8" fill="#563888" opacity="0.20"/><rect x="69.2" y="89.6" width="1" height="12.2" fill="#563888" opacity="0.28"/><rect x="129.9" y="73.5" width="1" height="8.0" fill="#563888" opacity="0.23"/><rect x="225.3" y="65.1" width="1" height="12.2" fill="#563888" opacity="0.25"/><rect x="73.1" y="65.2" width="1" height="12.1" fill="#563888" opacity="0.22"/><rect x="205.0" y="79.1" width="1" height="10.0" fill="#563888" opacity="0.26"/><rect x="177.1" y="71.6" width="1" height="8.1" fill="#563888" opacity="0.32"/><rect x="158.3" y="71.4" width="1" height="16.5" fill="#563888" opacity="0.21"/><rect x="74.7" y="69.6" width="1" height="8.7" fill="#563888" opacity="0.29"/><rect x="98.6" y="88.0" width="1" height="6.6" fill="#563888" opacity="0.22"/><rect x="196.9" y="89.4" width="1" height="15.7" fill="#563888" opacity="0.20"/><rect x="108.7" y="64.6" width="1" height="7.3" fill="#563888" opacity="0.15"/><rect x="186.0" y="65.4" width="1" height="5.6" fill="#563888" opacity="0.30"/><rect x="47.6" y="79.3" width="1" height="5.6" fill="#563888" opacity="0.22"/><rect x="260.8" y="71.9" width="1" height="17.8" fill="#563888" opacity="0.26"/><rect x="213.4" y="71.2" width="1" height="12.3" fill="#563888" opacity="0.20"/><rect x="72.9" y="87.6" width="1" height="17.9" fill="#563888" opacity="0.21"/><rect x="100.4" y="82.4" width="1" height="5.9" fill="#563888" opacity="0.15"/><rect x="46.8" y="80.2" width="1" height="17.2" fill="#563888" opacity="0.24"/><rect x="46.6" y="77.7" width="1" height="15.5" fill="#563888" opacity="0.16"/><rect x="119.6" y="75.5" width="1" height="10.0" fill="#563888" opacity="0.35"/><rect x="196.7" y="79.7" width="1" height="6.2" fill="#563888" opacity="0.18"/><rect x="123.7" y="227.1" width="1" height="1.5" fill="#6a4aa0" opacity="0.35"/><rect x="143.2" y="230.6" width="1" height="1.5" fill="#6a4aa0" opacity="0.34"/><rect x="132.8" y="220.0" width="1" height="1.5" fill="#6a4aa0" opacity="0.48"/><rect x="171.5" y="219.7" width="1" height="1.5" fill="#6a4aa0" opacity="0.28"/><rect x="175.1" y="228.9" width="1" height="1.5" fill="#6a4aa0" opacity="0.20"/><rect x="243.2" y="223.4" width="1" height="1.5" fill="#6a4aa0" opacity="0.47"/><rect x="228.0" y="234.6" width="1" height="1.5" fill="#6a4aa0" opacity="0.25"/><rect x="174.3" y="221.8" width="1" height="1.5" fill="#6a4aa0" opacity="0.41"/><rect x="222.0" y="225.6" width="1" height="1.5" fill="#6a4aa0" opacity="0.28"/><rect x="43.1" y="235.1" width="1" height="1.5" fill="#6a4aa0" opacity="0.21"/><rect x="188.8" y="233.3" width="1" height="1.5" fill="#6a4aa0" opacity="0.30"/><rect x="80.6" y="224.4" width="1" height="1.5" fill="#6a4aa0" opacity="0.40"/><rect x="240.8" y="223.5" width="1" height="1.5" fill="#6a4aa0" opacity="0.34"/><rect x="147.0" y="221.2" width="1" height="1.5" fill="#6a4aa0" opacity="0.23"/><rect x="195.6" y="223.7" width="1" height="1.5" fill="#6a4aa0" opacity="0.21"/><rect x="116.6" y="221.2" width="1" height="1.5" fill="#6a4aa0" opacity="0.28"/><rect x="84.5" y="229.4" width="1" height="1.5" fill="#6a4aa0" opacity="0.30"/><rect x="112.9" y="231.1" width="1" height="1.5" fill="#6a4aa0" opacity="0.33"/><rect x="181.7" y="231.6" width="1" height="1.5" fill="#6a4aa0" opacity="0.21"/><rect x="216.6" y="231.2" width="1" height="1.5" fill="#6a4aa0" opacity="0.47"/><rect x="150.5" y="229.7" width="1" height="1.5" fill="#6a4aa0" opacity="0.26"/><rect x="104.6" y="219.3" width="1" height="1.5" fill="#6a4aa0" opacity="0.21"/><rect x="89.1" y="222.5" width="1" height="1.5" fill="#6a4aa0" opacity="0.27"/><rect x="41.7" y="218.2" width="1" height="1.5" fill="#6a4aa0" opacity="0.49"/><rect x="202.8" y="223.5" width="1" height="1.5" fill="#6a4aa0" opacity="0.25"/><rect x="92.1" y="223.2" width="1" height="1.5" fill="#6a4aa0" opacity="0.20"/><rect x="176.8" y="224.0" width="1" height="1.5" fill="#6a4aa0" opacity="0.24"/><rect x="232.4" y="232.4" width="1" height="1.5" fill="#6a4aa0" opacity="0.37"/><rect x="212.0" y="227.5" width="1" height="1.5" fill="#6a4aa0" opacity="0.26"/><rect x="257.2" y="227.8" width="1" height="1.5" fill="#6a4aa0" opacity="0.22"/><rect x="68.9" y="224.7" width="1" height="1.5" fill="#6a4aa0" opacity="0.43"/><rect x="232.9" y="235.9" width="1" height="1.5" fill="#6a4aa0" opacity="0.40"/><rect x="235.3" y="229.9" width="1" height="1.5" fill="#6a4aa0" opacity="0.48"/><rect x="256.5" y="226.5" width="1" height="1.5" fill="#6a4aa0" opacity="0.28"/><rect x="143.5" y="226.3" width="1" height="1.5" fill="#6a4aa0" opacity="0.27"/><rect x="231.8" y="234.0" width="1" height="1.5" fill="#6a4aa0" opacity="0.26"/><rect x="122.7" y="226.9" width="1" height="1.5" fill="#6a4aa0" opacity="0.22"/><rect x="42.0" y="228.5" width="1" height="1.5" fill="#6a4aa0" opacity="0.29"/><rect x="210.8" y="231.1" width="1" height="1.5" fill="#6a4aa0" opacity="0.30"/><rect x="158.3" y="226.3" width="1" height="1.5" fill="#6a4aa0" opacity="0.43"/><rect x="112.0" y="232.9" width="1" height="1.5" fill="#6a4aa0" opacity="0.41"/><rect x="145.0" y="223.8" width="1" height="1.5" fill="#6a4aa0" opacity="0.38"/><rect x="230.4" y="219.9" width="1" height="1.5" fill="#6a4aa0" opacity="0.47"/><rect x="209.2" y="222.1" width="1" height="1.5" fill="#6a4aa0" opacity="0.20"/><rect x="159.5" y="219.1" width="1" height="1.5" fill="#6a4aa0" opacity="0.48"/><rect x="94.4" y="144.6" width="111.7" height="64.1" fill="#8a25e4"/><rect x="144.6" y="162.7" width="1.5" height="8.2" fill="#6236e2" opacity="0.53"/><rect x="197.1" y="177.6" width="1.5" height="26.0" fill="#6236e2" opacity="0.50"/><rect x="155.5" y="186.7" width="2.0" height="19.3" fill="#6236e2" opacity="0.59"/><rect x="128.0" y="161.9" width="1.0" height="12.5" fill="#6236e2" opacity="0.38"/><rect x="175.6" y="171.9" width="1.0" height="19.9" fill="#6236e2" opacity="0.38"/><rect x="101.5" y="148.0" width="1.5" height="8.7" fill="#6236e2" opacity="0.37"/><rect x="168.5" y="149.0" width="2.0" height="24.1" fill="#6236e2" opacity="0.64"/><rect x="177.0" y="171.4" width="1.0" height="33.6" fill="#6236e2" opacity="0.30"/><rect x="151.0" y="168.6" width="1.0" height="21.5" fill="#6236e2" opacity="0.56"/><rect x="199.4" y="152.1" width="2.0" height="26.6" fill="#6236e2" opacity="0.47"/><rect x="193.3" y="150.5" width="2.0" height="15.4" fill="#9236ee" opacity="0.62"/><rect x="132.0" y="166.2" width="2.0" height="14.6" fill="#6236e2" opacity="0.67"/><rect x="165.1" y="153.5" width="2.0" height="24.4" fill="#9236ee" opacity="0.50"/><rect x="171.4" y="177.0" width="2.0" height="16.0" fill="#6236e2" opacity="0.52"/><rect x="151.4" y="162.7" width="1.5" height="19.3" fill="#6236e2" opacity="0.51"/><rect x="156.8" y="156.0" width="1.0" height="26.1" fill="#6236e2" opacity="0.34"/><rect x="137.3" y="155.7" width="2.0" height="26.5" fill="#6236e2" opacity="0.44"/><rect x="106.6" y="172.0" width="1.0" height="9.1" fill="#6236e2" opacity="0.43"/><rect x="131.2" y="152.2" width="2.0" height="27.1" fill="#6236e2" opacity="0.54"/><rect x="117.7" y="181.2" width="2.0" height="9.6" fill="#6236e2" opacity="0.54"/><rect x="105.5" y="169.5" width="1.0" height="24.5" fill="#9236ee" opacity="0.45"/><rect x="136.8" y="180.3" width="1.0" height="25.7" fill="#9236ee" opacity="0.33"/><rect x="156.7" y="147.1" width="1.0" height="19.4" fill="#6236e2" opacity="0.38"/><rect x="147.2" y="152.6" width="1.5" height="22.2" fill="#6236e2" opacity="0.70"/><rect x="162.1" y="176.6" width="1.5" height="10.1" fill="#6236e2" opacity="0.53"/><rect x="126.9" y="158.8" width="1.5" height="25.1" fill="#6236e2" opacity="0.53"/><rect x="178.1" y="148.9" width="2.0" height="12.3" fill="#6236e2" opacity="0.35"/><rect x="184.6" y="152.3" width="1.0" height="20.9" fill="#6236e2" opacity="0.51"/><rect x="111.1" y="159.5" width="1.0" height="26.4" fill="#6236e2" opacity="0.59"/><rect x="124.2" y="151.3" width="1.0" height="8.3" fill="#9236ee" opacity="0.31"/><rect x="119.5" y="177.9" width="1.0" height="11.3" fill="#6236e2" opacity="0.68"/><rect x="200.5" y="174.8" width="1.0" height="22.4" fill="#6236e2" opacity="0.60"/><rect x="126.9" y="175.5" width="1.0" height="24.5" fill="#6236e2" opacity="0.53"/><rect x="122.8" y="178.1" width="1.0" height="15.0" fill="#6236e2" opacity="0.58"/><rect x="139.6" y="169.2" width="1.0" height="31.2" fill="#6236e2" opacity="0.56"/><rect x="154.6" y="181.4" width="2.0" height="9.3" fill="#6236e2" opacity="0.64"/><rect x="201.7" y="154.6" width="1.5" height="8.2" fill="#6236e2" opacity="0.41"/><rect x="153.6" y="173.6" width="2.0" height="27.9" fill="#6236e2" opacity="0.44"/><rect x="193.9" y="165.1" width="1.0" height="9.6" fill="#6236e2" opacity="0.31"/><rect x="129.4" y="159.2" width="1.5" height="29.0" fill="#6236e2" opacity="0.67"/><rect x="189.4" y="184.6" width="1.5" height="21.4" fill="#6236e2" opacity="0.50"/><rect x="196.8" y="182.0" width="1.0" height="24.0" fill="#6236e2" opacity="0.33"/><rect x="140.4" y="167.2" width="2.0" height="21.3" fill="#6236e2" opacity="0.61"/><rect x="173.5" y="179.0" width="1.0" height="19.5" fill="#6236e2" opacity="0.48"/><rect x="196.6" y="160.0" width="2.0" height="15.5" fill="#6236e2" opacity="0.38"/><rect x="145.8" y="181.5" width="1.5" height="24.5" fill="#6236e2" opacity="0.33"/><rect x="181.2" y="169.8" width="2.0" height="14.0" fill="#6236e2" opacity="0.34"/><rect x="148.2" y="160.3" width="1.0" height="28.3" fill="#6236e2" opacity="0.59"/><rect x="146.0" y="168.9" width="2.0" height="29.3" fill="#6236e2" opacity="0.60"/><rect x="113.9" y="173.7" width="2.0" height="23.1" fill="#6236e2" opacity="0.57"/><rect x="128.8" y="178.3" width="1.0" height="27.7" fill="#6236e2" opacity="0.59"/><rect x="187.6" y="159.5" width="1.0" height="27.5" fill="#6236e2" opacity="0.45"/><rect x="116.5" y="161.1" width="1.0" height="15.2" fill="#6236e2" opacity="0.60"/><rect x="196.4" y="181.2" width="1.5" height="24.8" fill="#6236e2" opacity="0.57"/><rect x="133.8" y="166.0" width="2.0" height="11.4" fill="#6236e2" opacity="0.37"/><path d="M33.15 28.50H266.50" stroke="#ff3434" stroke-width="2.70" stroke-dasharray="7.80 3.34" stroke-dashoffset="10.76" fill="none"/><path d="M33.15 47.90H266.50" stroke="#ff3434" stroke-width="2.70" stroke-dasharray="7.80 3.34" stroke-dashoffset="8.13" fill="none"/><path d="M34.50 27.15V49.25" stroke="#ff3434" stroke-width="2.70" stroke-dasharray="7.80 3.34" stroke-dashoffset="9.61" fill="none"/><path d="M265.15 27.15V49.25" stroke="#ff3434" stroke-width="2.70" stroke-dasharray="7.80 3.34" stroke-dashoffset="0.02" fill="none"/><rect x="33.15" y="27.15" width="2.70" height="2.70" fill="#ff3434"/><rect x="263.80" y="27.15" width="2.70" height="2.70" fill="#ff3434"/><rect x="33.15" y="46.55" width="2.70" height="2.70" fill="#ff3434"/><rect x="263.80" y="46.55" width="2.70" height="2.70" fill="#ff3434"/><path d="M33.15 62.00H266.50" stroke="#ff3434" stroke-width="2.70" stroke-dasharray="7.80 3.34" stroke-dashoffset="10.66" fill="none"/><path d="M33.15 103.30H266.50" stroke="#ff3434" stroke-width="2.70" stroke-dasharray="7.80 3.34" stroke-dashoffset="8.16" fill="none"/><path d="M34.50 60.65V104.65" stroke="#ff3434" stroke-width="2.70" stroke-dasharray="7.80 3.34" stroke-dashoffset="9.36" fill="none"/><path d="M265.15 60.65V104.65" stroke="#ff3434" stroke-width="2.70" stroke-dasharray="7.80 3.34" stroke-dashoffset="5.91" fill="none"/><rect x="33.15" y="60.65" width="2.70" height="2.70" fill="#ff3434"/><rect x="263.80" y="60.65" width="2.70" height="2.70" fill="#ff3434"/><rect x="33.15" y="101.95" width="2.70" height="2.70" fill="#ff3434"/><rect x="263.80" y="101.95" width="2.70" height="2.70" fill="#ff3434"/><path d="M94.40 145.95H206.10" stroke="#ff3434" stroke-width="2.70" stroke-dasharray="7.80 3.34" stroke-dashoffset="10.71" fill="none"/><path d="M94.40 207.35H206.10" stroke="#ff3434" stroke-width="2.70" stroke-dasharray="7.80 3.34" stroke-dashoffset="10.36" fill="none"/><path d="M95.75 144.60V208.70" stroke="#ff3434" stroke-width="2.70" stroke-dasharray="7.80 3.34" stroke-dashoffset="1.62" fill="none"/><path d="M204.75 144.60V208.70" stroke="#ff3434" stroke-width="2.70" stroke-dasharray="7.80 3.34" stroke-dashoffset="0.17" fill="none"/><rect x="94.40" y="144.60" width="2.70" height="2.70" fill="#ff3434"/><rect x="203.40" y="144.60" width="2.70" height="2.70" fill="#ff3434"/><rect x="94.40" y="206.00" width="2.70" height="2.70" fill="#ff3434"/><rect x="203.40" y="206.00" width="2.70" height="2.70" fill="#ff3434"/><path d="M76.8 103.6L94.9 143.4M222.7 103.6L205.9 143.4" stroke="#fff" stroke-width="2.2" stroke-dasharray="8.1 3.3" fill="none"/><path d="M34.80 237.60v3.2M81.12 237.60v3.2M127.44 237.60v3.2M173.76 237.60v3.2M220.08 237.60v3.2M266.40 237.60v3.2M34.80 205.31h-3.2M34.80 171.33h-3.2M34.80 137.35h-3.2M34.80 103.36h-3.2M34.80 69.38h-3.2M34.80 35.39h-3.2M408.30 237.60v3.2M454.74 237.60v3.2M501.18 237.60v3.2M547.62 237.60v3.2M594.06 237.60v3.2M640.50 237.60v3.2M408.30 205.31h-3.2M408.30 171.33h-3.2M408.30 137.35h-3.2M408.30 103.36h-3.2M408.30 69.38h-3.2M408.30 35.39h-3.2M292.80 237.60h3.2M292.80 194.44h3.2M292.80 151.28h3.2M292.80 108.12h3.2M292.80 64.96h3.2M292.80 21.80h3.2M666.70 205.50h3.2M666.70 172.78h3.2M666.70 140.06h3.2M666.70 107.34h3.2M666.70 74.62h3.2M666.70 41.90h3.2" stroke="#000" stroke-width="0.7" fill="none"/><line x1="343.1" y1="2.9" x2="343.1" y2="295" stroke="#222" stroke-width="1.3" stroke-dasharray="3.8 1.8"/><text x="33.00" y="16.80" font-size="11.00" textLength="234.60" lengthAdjust="spacingAndGlyphs">Grad-CAM Heatmap of the last convolution layer</text><text x="482.60" y="16.60" font-size="11.00" textLength="83.80" lengthAdjust="spacingAndGlyphs">Input scaleogram</text><text x="28.20" y="209.06" font-size="8.50" text-anchor="end">20</text><text x="28.20" y="175.07" font-size="8.50" text-anchor="end">40</text><text x="28.20" y="141.09" font-size="8.50" text-anchor="end">60</text><text x="28.20" y="107.11" font-size="8.50" text-anchor="end">80</text><text x="28.20" y="73.12" font-size="8.50" text-anchor="end">100</text><text x="28.20" y="39.14" font-size="8.50" text-anchor="end">120</text><text x="34.80" y="249.90" font-size="8.50" text-anchor="middle">0</text><text x="81.12" y="249.90" font-size="8.50" text-anchor="middle">2</text><text x="127.44" y="249.90" font-size="8.50" text-anchor="middle">4</text><text x="173.76" y="249.90" font-size="8.50" text-anchor="middle">6</text><text x="220.08" y="249.90" font-size="8.50" text-anchor="middle">8</text><text x="266.40" y="249.90" font-size="8.50" text-anchor="middle">10</text><text x="150.60" y="261.80" font-size="8.70" text-anchor="middle" textLength="32.00" lengthAdjust="spacingAndGlyphs">Time (s)</text><text x="9.20" y="130.70" font-size="8.70" text-anchor="middle" textLength="20.00" lengthAdjust="spacingAndGlyphs" transform="rotate(-90 9.20 130.70)">Scale</text><text x="402.40" y="209.06" font-size="8.50" text-anchor="end">20</text><text x="402.40" y="175.07" font-size="8.50" text-anchor="end">40</text><text x="402.40" y="141.09" font-size="8.50" text-anchor="end">60</text><text x="402.40" y="107.11" font-size="8.50" text-anchor="end">80</text><text x="402.40" y="73.12" font-size="8.50" text-anchor="end">100</text><text x="402.40" y="39.14" font-size="8.50" text-anchor="end">120</text><text x="408.30" y="249.90" font-size="8.50" text-anchor="middle">0</text><text x="454.74" y="249.90" font-size="8.50" text-anchor="middle">2</text><text x="501.18" y="249.90" font-size="8.50" text-anchor="middle">4</text><text x="547.62" y="249.90" font-size="8.50" text-anchor="middle">6</text><text x="594.06" y="249.90" font-size="8.50" text-anchor="middle">8</text><text x="640.50" y="249.90" font-size="8.50" text-anchor="middle">10</text><text x="524.40" y="261.80" font-size="8.70" text-anchor="middle" textLength="32.00" lengthAdjust="spacingAndGlyphs">Time (s)</text><text x="382.90" y="130.70" font-size="8.70" text-anchor="middle" textLength="20.00" lengthAdjust="spacingAndGlyphs" transform="rotate(-90 382.90 130.70)">Scale</text><text x="298.40" y="240.64" font-size="8.50">0.0</text><text x="298.40" y="197.48" font-size="8.50">0.2</text><text x="298.40" y="154.32" font-size="8.50">0.4</text><text x="298.40" y="111.16" font-size="8.50">0.6</text><text x="298.40" y="68.00" font-size="8.50">0.8</text><text x="298.40" y="24.84" font-size="8.50">1.0</text><text x="672.40" y="208.54" font-size="8.50">2</text><text x="672.40" y="175.82" font-size="8.50">4</text><text x="672.40" y="143.10" font-size="8.50">6</text><text x="672.40" y="110.38" font-size="8.50">8</text><text x="672.40" y="77.66" font-size="8.50">10</text><text x="672.40" y="44.94" font-size="8.50">12</text><text x="148.90" y="288.30" font-size="19.00" text-anchor="middle" textLength="25.30" lengthAdjust="spacingAndGlyphs" font-weight="bold" fill="#000" style="stroke:#000;stroke-width:0.4px">(A)</text><text x="538.10" y="288.30" font-size="19.00" text-anchor="middle" textLength="25.10" lengthAdjust="spacingAndGlyphs" font-weight="bold" fill="#000" style="stroke:#000;stroke-width:0.4px">(B)</text>
</svg></body></html>
